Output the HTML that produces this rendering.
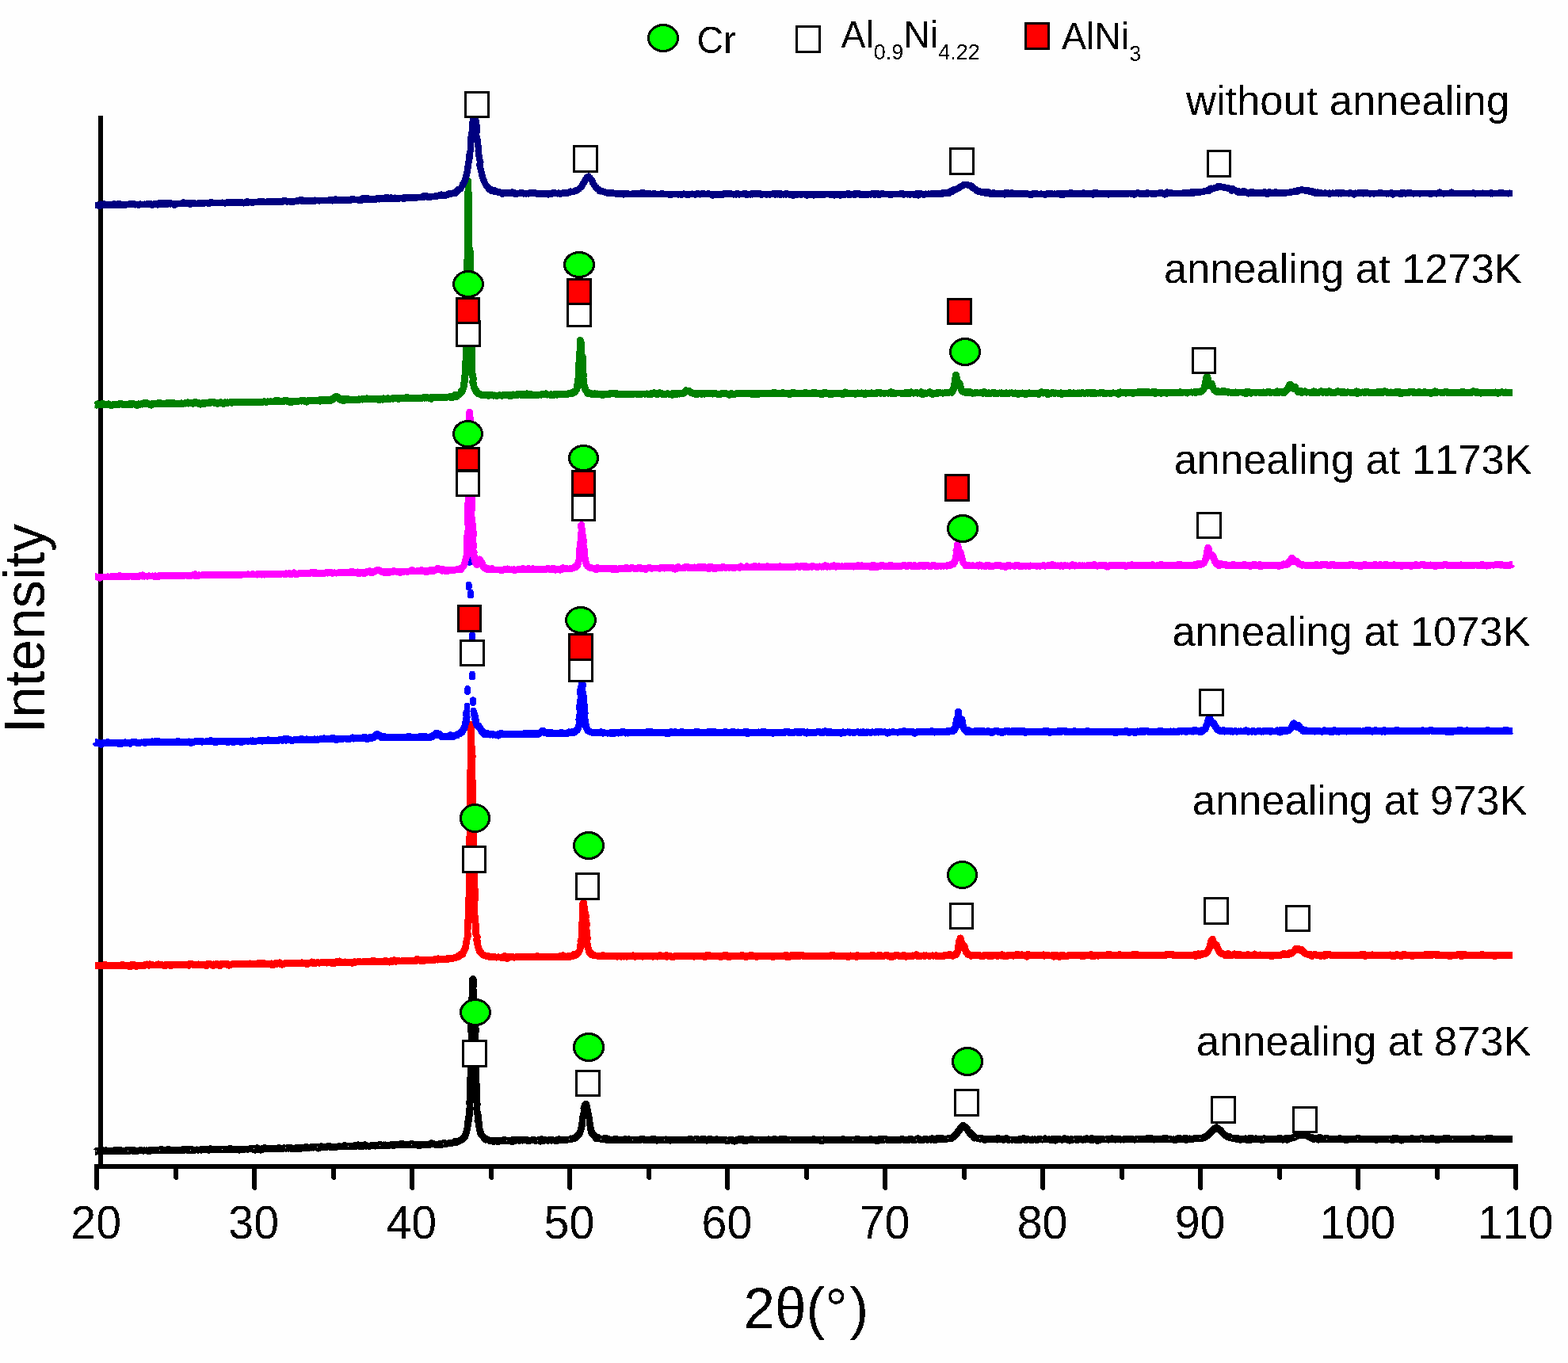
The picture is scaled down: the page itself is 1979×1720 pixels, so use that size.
<!DOCTYPE html>
<html lang="en"><head><meta charset="utf-8"><title>XRD patterns</title>
<style>html,body{margin:0;padding:0;background:#fefefe;}body{width:1979px;height:1720px;overflow:hidden;}svg{display:block;}</style>
</head><body>
<svg width="1979" height="1720" viewBox="0 0 1979 1720" role="img" aria-label="XRD patterns of coatings without annealing and annealed at 873K to 1273K">
<rect x="0" y="0" width="1979" height="1720" fill="#fefefe"/>
<g shape-rendering="crispEdges">
<g fill="#000" stroke="none">
<path d="M124,1472 V147 l1,-1.5 h4 l1,1.5 V1472 Z"/>
<rect x="119" y="1469" width="1797" height="6"/>
<path d="M119,1470 V1500 l1.5,1.5 h3 l1.5,-1.5 V1470 Z"/>
<path d="M219,1470 V1487 l1.5,1.5 h3 l1.5,-1.5 V1470 Z"/>
<path d="M318,1470 V1500 l1.5,1.5 h3 l1.5,-1.5 V1470 Z"/>
<path d="M418,1470 V1487 l1.5,1.5 h3 l1.5,-1.5 V1470 Z"/>
<path d="M517,1470 V1500 l1.5,1.5 h3 l1.5,-1.5 V1470 Z"/>
<path d="M617,1470 V1487 l1.5,1.5 h3 l1.5,-1.5 V1470 Z"/>
<path d="M716,1470 V1500 l1.5,1.5 h3 l1.5,-1.5 V1470 Z"/>
<path d="M816,1470 V1487 l1.5,1.5 h3 l1.5,-1.5 V1470 Z"/>
<path d="M915,1470 V1500 l1.5,1.5 h3 l1.5,-1.5 V1470 Z"/>
<path d="M1015,1470 V1487 l1.5,1.5 h3 l1.5,-1.5 V1470 Z"/>
<path d="M1114,1470 V1500 l1.5,1.5 h3 l1.5,-1.5 V1470 Z"/>
<path d="M1214,1470 V1487 l1.5,1.5 h3 l1.5,-1.5 V1470 Z"/>
<path d="M1313,1470 V1500 l1.5,1.5 h3 l1.5,-1.5 V1470 Z"/>
<path d="M1413,1470 V1487 l1.5,1.5 h3 l1.5,-1.5 V1470 Z"/>
<path d="M1512,1470 V1500 l1.5,1.5 h3 l1.5,-1.5 V1470 Z"/>
<path d="M1612,1470 V1487 l1.5,1.5 h3 l1.5,-1.5 V1470 Z"/>
<path d="M1711,1470 V1500 l1.5,1.5 h3 l1.5,-1.5 V1470 Z"/>
<path d="M1811,1470 V1487 l1.5,1.5 h3 l1.5,-1.5 V1470 Z"/>
<path d="M1910,1470 V1500 l1.5,1.5 h3 l1.5,-1.5 V1470 Z"/>
</g>
<path d="M120.0,1453.0 123.0,1453.0 126.0,1452.9 129.0,1452.9 132.0,1452.8 135.0,1452.8 138.0,1452.7 141.0,1452.7 144.0,1452.6 147.0,1452.6 150.0,1452.5 153.0,1452.5 156.0,1452.4 159.0,1452.4 162.0,1452.3 165.0,1452.3 168.0,1452.3 171.0,1452.2 174.0,1452.2 177.0,1452.1 180.0,1452.1 183.0,1452.0 186.0,1452.0 189.0,1451.9 192.0,1451.9 195.0,1451.8 198.0,1451.8 201.0,1451.7 204.0,1451.7 207.0,1451.6 210.0,1451.6 213.0,1451.6 216.0,1451.5 219.0,1451.5 222.0,1451.4 225.0,1451.4 228.0,1451.3 231.0,1451.3 234.0,1451.2 237.0,1451.2 240.0,1451.1 243.0,1451.1 246.0,1451.0 249.0,1451.0 252.0,1450.9 255.0,1450.9 258.0,1450.9 261.0,1450.8 264.0,1450.8 267.0,1450.7 270.0,1450.7 273.0,1450.6 276.0,1450.6 279.0,1450.5 282.0,1450.5 285.0,1450.4 288.0,1450.4 291.0,1450.3 294.0,1450.3 297.0,1450.2 300.0,1450.2 303.0,1450.2 306.0,1450.1 309.0,1450.1 312.0,1450.0 315.0,1450.0 318.0,1449.9 321.0,1449.9 324.0,1449.8 327.0,1449.8 330.0,1449.7 333.0,1449.7 336.0,1449.6 339.0,1449.5 342.0,1449.4 345.0,1449.3 348.0,1449.3 351.0,1449.2 354.0,1449.1 357.0,1449.0 360.0,1448.9 363.0,1448.8 366.0,1448.7 369.0,1448.7 372.0,1448.6 375.0,1448.5 378.0,1448.4 381.0,1448.3 384.0,1448.2 387.0,1448.2 390.0,1448.1 393.0,1448.0 396.0,1447.9 399.0,1447.8 402.0,1447.7 405.0,1447.6 408.0,1447.6 411.0,1447.5 414.0,1447.4 417.0,1447.3 420.0,1447.2 423.0,1447.1 426.0,1447.1 429.0,1447.0 432.0,1446.9 435.0,1446.8 438.0,1446.7 441.0,1446.6 444.0,1446.5 447.0,1446.5 450.0,1446.4 453.0,1446.3 456.0,1446.2 459.0,1446.1 462.0,1446.0 465.0,1445.9 468.0,1445.8 471.0,1445.8 474.0,1445.7 477.0,1445.6 480.0,1445.5 483.0,1445.4 486.0,1445.3 489.0,1445.2 492.0,1445.1 495.0,1445.1 498.0,1445.0 501.0,1444.9 504.0,1444.8 507.0,1444.8 510.0,1444.8 513.0,1444.7 516.0,1444.7 519.0,1444.6 522.0,1444.6 525.0,1444.5 528.0,1444.5 531.0,1444.4 534.0,1444.3 537.0,1444.3 540.0,1444.2 543.0,1444.1 546.0,1444.0 549.0,1444.0 552.0,1443.9 555.0,1443.7 558.0,1443.6 561.0,1443.4 564.0,1443.1 567.0,1442.7 570.0,1442.3 573.0,1441.7 573.4,1441.7 573.8,1441.6 574.2,1441.5 574.6,1441.4 575.0,1441.3 575.4,1441.2 575.8,1441.1 576.2,1441.0 576.6,1440.9 577.0,1440.7 577.4,1440.6 577.8,1440.5 578.2,1440.3 578.6,1440.2 579.0,1440.0 579.4,1439.8 579.8,1439.7 580.2,1439.5 580.6,1439.3 581.0,1439.1 581.4,1438.8 581.8,1438.6 582.2,1438.3 582.6,1438.1 583.0,1437.7 583.4,1437.4 583.8,1437.1 584.2,1436.7 584.6,1436.3 585.0,1435.8 585.4,1435.3 585.8,1434.8 586.2,1434.2 586.6,1433.5 587.0,1432.7 587.4,1431.9 587.8,1431.0 588.2,1429.9 588.6,1428.8 589.0,1427.4 589.4,1425.8 589.8,1424.0 590.2,1421.9 590.6,1419.4 591.0,1416.3 591.4,1412.5 591.8,1407.9 592.2,1402.2 592.6,1395.0 593.0,1386.2 593.4,1375.3 593.8,1362.2 594.2,1346.5 594.6,1328.4 595.0,1308.0 595.4,1286.7 595.8,1266.2 596.2,1249.3 596.6,1238.5 597.0,1235.0 597.4,1237.9 597.8,1245.1 598.2,1255.2 598.6,1267.6 599.0,1282.3 599.4,1299.0 599.8,1316.8 600.2,1334.2 600.6,1350.4 601.0,1364.7 601.4,1376.9 601.8,1387.0 602.2,1395.4 602.6,1402.3 603.0,1407.8 603.4,1412.3 603.8,1416.0 604.2,1419.0 604.6,1421.5 605.0,1423.6 605.4,1425.3 605.8,1426.8 606.2,1428.1 606.6,1429.2 607.0,1430.2 607.4,1431.1 607.8,1431.8 608.2,1432.5 608.6,1433.1 609.0,1433.7 609.4,1434.2 609.8,1434.6 610.2,1435.0 610.6,1435.4 611.0,1435.7 611.4,1436.0 611.8,1436.3 612.2,1436.6 612.6,1436.8 613.0,1437.0 613.4,1437.2 613.8,1437.4 614.2,1437.6 614.6,1437.7 615.0,1437.9 615.4,1438.0 615.8,1438.1 616.2,1438.2 616.6,1438.3 617.0,1438.4 617.4,1438.5 617.8,1438.6 618.2,1438.7 618.6,1438.8 619.0,1438.8 619.4,1438.9 619.8,1439.0 620.2,1439.0 620.6,1439.1 621.0,1439.1 621.4,1439.2 621.8,1439.2 622.2,1439.2 622.6,1439.3 625.6,1439.5 628.6,1439.5 631.6,1439.6 634.6,1439.6 637.6,1439.5 640.6,1439.5 643.6,1439.4 646.6,1439.3 649.6,1439.2 652.6,1439.1 655.6,1439.1 658.6,1439.1 661.6,1439.1 664.6,1439.1 667.6,1439.1 670.6,1439.1 673.6,1439.1 676.6,1439.1 679.6,1439.1 682.6,1439.1 685.6,1439.0 688.6,1439.0 691.6,1439.0 694.6,1438.9 697.6,1438.9 700.6,1438.8 703.6,1438.7 704.4,1438.7 705.2,1438.7 706.0,1438.6 706.8,1438.6 707.6,1438.6 708.4,1438.5 709.2,1438.5 710.0,1438.5 710.8,1438.4 711.6,1438.4 712.4,1438.3 713.2,1438.3 714.0,1438.2 714.8,1438.1 715.6,1438.1 716.4,1438.0 717.2,1437.9 718.0,1437.8 718.8,1437.7 719.6,1437.6 720.4,1437.4 721.2,1437.3 722.0,1437.1 722.8,1436.9 723.6,1436.6 724.4,1436.4 725.2,1436.1 726.0,1435.7 726.8,1435.3 727.6,1434.8 728.4,1434.2 729.2,1433.4 730.0,1432.4 730.8,1431.2 731.6,1429.7 732.4,1427.7 733.2,1425.2 734.0,1421.9 734.8,1417.7 735.6,1412.7 736.4,1406.9 737.2,1401.0 738.0,1396.1 738.8,1393.3 739.6,1393.3 740.4,1395.5 741.2,1399.3 742.0,1404.3 742.8,1409.6 743.6,1414.8 744.4,1419.4 745.2,1423.1 746.0,1426.1 746.8,1428.4 747.6,1430.2 748.4,1431.6 749.2,1432.7 750.0,1433.6 750.8,1434.3 751.6,1434.9 752.4,1435.4 753.2,1435.8 754.0,1436.1 754.8,1436.4 755.6,1436.6 756.4,1436.8 757.2,1437.0 758.0,1437.2 758.8,1437.3 759.6,1437.5 760.4,1437.6 761.2,1437.7 762.0,1437.8 762.8,1437.8 763.6,1437.9 764.4,1438.0 765.2,1438.0 766.0,1438.1 766.8,1438.1 767.6,1438.2 768.4,1438.2 769.2,1438.3 770.0,1438.3 770.8,1438.3 771.6,1438.4 772.4,1438.4 773.2,1438.4 774.0,1438.4 774.8,1438.5 775.6,1438.5 776.4,1438.5 779.4,1438.6 782.4,1438.6 785.4,1438.6 788.4,1438.7 791.4,1438.7 794.4,1438.7 797.4,1438.7 800.4,1438.7 803.4,1438.7 806.4,1438.7 809.4,1438.7 812.4,1438.7 815.4,1438.7 818.4,1438.8 821.4,1438.8 824.4,1438.8 827.4,1438.8 830.4,1438.8 833.4,1438.8 836.4,1438.8 839.4,1438.8 842.4,1438.8 845.4,1438.8 848.4,1438.8 851.4,1438.8 854.4,1438.8 857.4,1438.8 860.4,1438.8 863.4,1438.8 866.4,1438.7 869.4,1438.7 872.4,1438.7 875.4,1438.7 878.4,1438.7 881.4,1438.7 884.4,1438.7 887.4,1438.7 890.4,1438.7 893.4,1438.7 896.4,1438.7 899.4,1438.7 902.4,1438.7 905.4,1438.7 908.4,1438.7 911.4,1438.7 914.4,1438.7 917.4,1438.7 920.4,1438.7 923.4,1438.7 926.4,1438.7 929.4,1438.7 932.4,1438.7 935.4,1438.7 938.4,1438.7 941.4,1438.7 944.4,1438.7 947.4,1438.7 950.4,1438.7 953.4,1438.6 956.4,1438.6 959.4,1438.6 962.4,1438.6 965.4,1438.6 968.4,1438.6 971.4,1438.6 974.4,1438.6 977.4,1438.6 980.4,1438.6 983.4,1438.6 986.4,1438.6 989.4,1438.6 992.4,1438.6 995.4,1438.6 998.4,1438.6 1001.4,1438.6 1004.4,1438.6 1007.4,1438.6 1010.4,1438.6 1013.4,1438.6 1016.4,1438.6 1019.4,1438.5 1022.4,1438.5 1025.4,1438.5 1028.4,1438.5 1031.4,1438.5 1034.4,1438.5 1037.4,1438.5 1040.4,1438.5 1043.4,1438.5 1046.4,1438.5 1049.4,1438.5 1052.4,1438.5 1055.4,1438.5 1058.4,1438.5 1061.4,1438.5 1064.4,1438.5 1067.4,1438.5 1070.4,1438.5 1073.4,1438.5 1076.4,1438.4 1079.4,1438.4 1082.4,1438.4 1085.4,1438.4 1088.4,1438.4 1091.4,1438.4 1094.4,1438.4 1097.4,1438.4 1100.4,1438.4 1103.4,1438.4 1106.4,1438.4 1109.4,1438.4 1112.4,1438.4 1115.4,1438.4 1118.4,1438.4 1121.4,1438.3 1124.4,1438.3 1127.4,1438.3 1130.4,1438.3 1133.4,1438.3 1136.4,1438.3 1139.4,1438.3 1142.4,1438.3 1145.4,1438.3 1148.4,1438.2 1151.4,1438.2 1154.4,1438.2 1155.2,1438.2 1156.0,1438.2 1156.8,1438.2 1157.6,1438.2 1158.4,1438.2 1159.2,1438.2 1160.0,1438.2 1160.8,1438.1 1161.6,1438.1 1162.4,1438.1 1163.2,1438.1 1164.0,1438.1 1164.8,1438.1 1165.6,1438.1 1166.4,1438.1 1167.2,1438.1 1168.0,1438.1 1168.8,1438.1 1169.6,1438.1 1170.4,1438.0 1171.2,1438.0 1172.0,1438.0 1172.8,1438.0 1173.6,1438.0 1174.4,1438.0 1175.2,1438.0 1176.0,1437.9 1176.8,1437.9 1177.6,1437.9 1178.4,1437.9 1179.2,1437.9 1180.0,1437.9 1180.8,1437.8 1181.6,1437.8 1182.4,1437.8 1183.2,1437.8 1184.0,1437.7 1184.8,1437.7 1185.6,1437.7 1186.4,1437.6 1187.2,1437.6 1188.0,1437.6 1188.8,1437.5 1189.6,1437.5 1190.4,1437.4 1191.2,1437.4 1192.0,1437.3 1192.8,1437.2 1193.6,1437.2 1194.4,1437.1 1195.2,1437.0 1196.0,1436.9 1196.8,1436.7 1197.6,1436.6 1198.4,1436.4 1199.2,1436.3 1200.0,1436.0 1200.8,1435.8 1201.6,1435.5 1202.4,1435.1 1203.2,1434.7 1204.0,1434.2 1204.8,1433.6 1205.6,1433.0 1206.4,1432.2 1207.2,1431.4 1208.0,1430.4 1208.8,1429.4 1209.6,1428.2 1210.4,1427.0 1211.2,1425.8 1212.0,1424.6 1212.8,1423.5 1213.6,1422.5 1214.4,1421.8 1215.2,1421.3 1216.0,1421.2 1216.8,1421.3 1217.6,1421.8 1218.4,1422.4 1219.2,1423.2 1220.0,1424.2 1220.8,1425.3 1221.6,1426.5 1222.4,1427.6 1223.2,1428.8 1224.0,1429.8 1224.8,1430.8 1225.6,1431.7 1226.4,1432.5 1227.2,1433.2 1228.0,1433.8 1228.8,1434.3 1229.6,1434.8 1230.4,1435.2 1231.2,1435.5 1232.0,1435.8 1232.8,1436.1 1233.6,1436.3 1234.4,1436.4 1235.2,1436.6 1236.0,1436.7 1236.8,1436.8 1237.6,1436.9 1238.4,1437.0 1239.2,1437.1 1240.0,1437.2 1240.8,1437.2 1241.6,1437.3 1242.4,1437.3 1243.2,1437.4 1244.0,1437.4 1244.8,1437.5 1245.6,1437.5 1246.4,1437.6 1247.2,1437.6 1248.0,1437.6 1248.8,1437.6 1249.6,1437.7 1250.4,1437.7 1251.2,1437.7 1252.0,1437.7 1252.8,1437.7 1253.6,1437.8 1254.4,1437.8 1255.2,1437.8 1256.0,1437.8 1256.8,1437.8 1257.6,1437.8 1258.4,1437.8 1259.2,1437.9 1260.0,1437.9 1260.8,1437.9 1261.6,1437.9 1262.4,1437.9 1263.2,1437.9 1264.0,1437.9 1264.8,1437.9 1265.6,1437.9 1266.4,1437.9 1267.2,1437.9 1268.0,1437.9 1268.8,1438.0 1269.6,1438.0 1270.4,1438.0 1271.2,1438.0 1272.0,1438.0 1272.8,1438.0 1273.6,1438.0 1274.4,1438.0 1275.2,1438.0 1276.0,1438.0 1276.8,1438.0 1277.6,1438.0 1278.4,1438.0 1281.4,1438.0 1284.4,1438.0 1287.4,1438.0 1290.4,1438.0 1293.4,1438.0 1296.4,1438.0 1299.4,1438.0 1302.4,1438.0 1305.4,1438.0 1308.4,1438.0 1311.4,1438.0 1314.4,1438.0 1317.4,1438.0 1320.4,1438.0 1323.4,1438.0 1326.4,1438.0 1329.4,1438.0 1332.4,1438.0 1335.4,1438.0 1338.4,1438.0 1341.4,1438.0 1344.4,1438.0 1347.4,1438.0 1350.4,1438.0 1353.4,1438.0 1356.4,1438.0 1359.4,1438.0 1362.4,1438.0 1365.4,1438.0 1368.4,1438.0 1371.4,1438.0 1374.4,1438.0 1377.4,1438.0 1380.4,1438.0 1383.4,1438.0 1386.4,1438.0 1389.4,1437.9 1392.4,1437.9 1395.4,1437.9 1398.4,1437.9 1401.4,1437.9 1404.4,1437.9 1407.4,1437.9 1410.4,1437.9 1413.4,1437.9 1416.4,1437.9 1419.4,1437.9 1422.4,1437.9 1425.4,1437.9 1428.4,1437.9 1431.4,1437.9 1434.4,1437.8 1437.4,1437.8 1440.4,1437.8 1443.4,1437.8 1446.4,1437.8 1449.4,1437.8 1452.4,1437.8 1455.4,1437.8 1458.4,1437.8 1461.4,1437.8 1464.4,1437.7 1467.4,1437.7 1470.4,1437.7 1471.2,1437.7 1472.0,1437.7 1472.8,1437.7 1473.6,1437.7 1474.4,1437.7 1475.2,1437.7 1476.0,1437.7 1476.8,1437.7 1477.6,1437.7 1478.4,1437.7 1479.2,1437.7 1480.0,1437.7 1480.8,1437.6 1481.6,1437.6 1482.4,1437.6 1483.2,1437.6 1484.0,1437.6 1484.8,1437.6 1485.6,1437.6 1486.4,1437.6 1487.2,1437.6 1488.0,1437.6 1488.8,1437.6 1489.6,1437.6 1490.4,1437.5 1491.2,1437.5 1492.0,1437.5 1492.8,1437.5 1493.6,1437.5 1494.4,1437.5 1495.2,1437.5 1496.0,1437.4 1496.8,1437.4 1497.6,1437.4 1498.4,1437.4 1499.2,1437.4 1500.0,1437.3 1500.8,1437.3 1501.6,1437.3 1502.4,1437.3 1503.2,1437.2 1504.0,1437.2 1504.8,1437.2 1505.6,1437.1 1506.4,1437.1 1507.2,1437.1 1508.0,1437.0 1508.8,1437.0 1509.6,1436.9 1510.4,1436.9 1511.2,1436.8 1512.0,1436.7 1512.8,1436.7 1513.6,1436.6 1514.4,1436.5 1515.2,1436.3 1516.0,1436.2 1516.8,1436.1 1517.6,1435.9 1518.4,1435.7 1519.2,1435.4 1520.0,1435.2 1520.8,1434.9 1521.6,1434.5 1522.4,1434.1 1523.2,1433.6 1524.0,1433.0 1524.8,1432.4 1525.6,1431.7 1526.4,1430.9 1527.2,1430.0 1528.0,1429.1 1528.8,1428.2 1529.6,1427.2 1530.4,1426.2 1531.2,1425.3 1532.0,1424.6 1532.8,1423.9 1533.6,1423.5 1534.4,1423.2 1535.2,1423.2 1536.0,1423.4 1536.8,1423.7 1537.6,1424.2 1538.4,1424.7 1539.2,1425.4 1540.0,1426.2 1540.8,1427.0 1541.6,1427.9 1542.4,1428.8 1543.2,1429.6 1544.0,1430.5 1544.8,1431.2 1545.6,1432.0 1546.4,1432.6 1547.2,1433.2 1548.0,1433.7 1548.8,1434.2 1549.6,1434.6 1550.4,1434.9 1551.2,1435.2 1552.0,1435.5 1552.8,1435.7 1553.6,1435.9 1554.4,1436.1 1555.2,1436.2 1556.0,1436.3 1556.8,1436.4 1557.6,1436.5 1558.4,1436.6 1559.2,1436.7 1560.0,1436.8 1560.8,1436.8 1561.6,1436.9 1562.4,1436.9 1563.2,1437.0 1564.0,1437.0 1564.8,1437.0 1565.6,1437.1 1566.4,1437.1 1567.2,1437.1 1568.0,1437.2 1568.8,1437.2 1569.6,1437.2 1570.4,1437.2 1571.2,1437.3 1572.0,1437.3 1572.8,1437.3 1573.6,1437.3 1574.4,1437.3 1575.2,1437.3 1576.0,1437.4 1576.8,1437.4 1577.6,1437.4 1578.4,1437.4 1579.2,1437.4 1580.0,1437.4 1580.8,1437.4 1581.6,1437.4 1582.4,1437.4 1583.2,1437.4 1584.0,1437.4 1584.8,1437.4 1585.6,1437.5 1586.4,1437.5 1587.2,1437.5 1588.0,1437.5 1588.8,1437.5 1589.6,1437.5 1590.4,1437.5 1591.2,1437.5 1592.0,1437.5 1592.8,1437.5 1593.6,1437.5 1594.4,1437.5 1595.2,1437.5 1596.0,1437.5 1596.8,1437.5 1597.6,1437.5 1598.4,1437.5 1599.2,1437.5 1600.0,1437.5 1600.8,1437.5 1601.6,1437.5 1602.4,1437.5 1603.2,1437.5 1604.0,1437.5 1604.8,1437.5 1605.6,1437.5 1606.4,1437.4 1607.2,1437.4 1608.0,1437.4 1608.8,1437.4 1609.6,1437.4 1610.4,1437.4 1611.2,1437.4 1612.0,1437.4 1612.8,1437.4 1613.6,1437.4 1614.4,1437.3 1615.2,1437.3 1616.0,1437.3 1616.8,1437.3 1617.6,1437.3 1618.4,1437.3 1619.2,1437.2 1620.0,1437.2 1620.8,1437.2 1621.6,1437.1 1622.4,1437.1 1623.2,1437.0 1624.0,1437.0 1624.8,1436.9 1625.6,1436.8 1626.4,1436.8 1627.2,1436.7 1628.0,1436.6 1628.8,1436.4 1629.6,1436.3 1630.4,1436.1 1631.2,1435.9 1632.0,1435.7 1632.8,1435.5 1633.6,1435.2 1634.4,1434.9 1635.2,1434.6 1636.0,1434.3 1636.8,1433.9 1637.6,1433.6 1638.4,1433.2 1639.2,1432.9 1640.0,1432.6 1640.8,1432.3 1641.6,1432.2 1642.4,1432.0 1643.2,1432.0 1644.0,1432.0 1644.8,1432.1 1645.6,1432.2 1646.4,1432.4 1647.2,1432.6 1648.0,1432.9 1648.8,1433.2 1649.6,1433.5 1650.4,1433.8 1651.2,1434.1 1652.0,1434.4 1652.8,1434.7 1653.6,1435.0 1654.4,1435.3 1655.2,1435.5 1656.0,1435.8 1656.8,1436.0 1657.6,1436.1 1658.4,1436.3 1659.2,1436.4 1660.0,1436.6 1660.8,1436.7 1661.6,1436.8 1662.4,1436.9 1663.2,1436.9 1664.0,1437.0 1664.8,1437.0 1665.6,1437.1 1666.4,1437.1 1667.2,1437.2 1668.0,1437.2 1668.8,1437.2 1669.6,1437.3 1670.4,1437.3 1671.2,1437.3 1672.0,1437.3 1672.8,1437.4 1673.6,1437.4 1674.4,1437.4 1675.2,1437.4 1676.0,1437.4 1676.8,1437.4 1677.6,1437.4 1678.4,1437.4 1679.2,1437.5 1680.0,1437.5 1680.8,1437.5 1681.6,1437.5 1682.4,1437.5 1683.2,1437.5 1684.0,1437.5 1684.8,1437.5 1685.6,1437.5 1686.4,1437.5 1687.2,1437.5 1688.0,1437.5 1688.8,1437.5 1689.6,1437.5 1690.4,1437.5 1691.2,1437.5 1692.0,1437.5 1692.8,1437.6 1693.6,1437.6 1694.4,1437.6 1695.2,1437.6 1696.0,1437.6 1696.8,1437.6 1697.6,1437.6 1698.4,1437.6 1699.2,1437.6 1700.0,1437.6 1700.8,1437.6 1701.6,1437.6 1702.4,1437.6 1703.2,1437.6 1704.0,1437.6 1704.8,1437.6 1705.6,1437.6 1706.4,1437.6 1707.2,1437.6 1708.0,1437.6 1708.8,1437.6 1709.6,1437.6 1710.4,1437.6 1711.2,1437.6 1712.0,1437.6 1712.8,1437.6 1713.6,1437.6 1716.6,1437.6 1719.6,1437.6 1722.6,1437.6 1725.6,1437.6 1728.6,1437.6 1731.6,1437.6 1734.6,1437.6 1737.6,1437.6 1740.6,1437.6 1743.6,1437.6 1746.6,1437.6 1749.6,1437.6 1752.6,1437.6 1755.6,1437.6 1758.6,1437.6 1761.6,1437.6 1764.6,1437.6 1767.6,1437.6 1770.6,1437.6 1773.6,1437.6 1776.6,1437.6 1779.6,1437.6 1782.6,1437.6 1785.6,1437.6 1788.6,1437.6 1791.6,1437.6 1794.6,1437.6 1797.6,1437.6 1800.6,1437.6 1803.6,1437.6 1806.6,1437.6 1809.6,1437.6 1812.6,1437.6 1815.6,1437.6 1818.6,1437.6 1821.6,1437.6 1824.6,1437.6 1827.6,1437.6 1830.6,1437.6 1833.6,1437.6 1836.6,1437.6 1839.6,1437.6 1842.6,1437.6 1845.6,1437.5 1848.6,1437.5 1851.6,1437.5 1854.6,1437.5 1857.6,1437.5 1860.6,1437.5 1863.6,1437.5 1866.6,1437.5 1869.6,1437.5 1872.6,1437.5 1875.6,1437.5 1878.6,1437.5 1881.6,1437.5 1884.6,1437.5 1887.6,1437.5 1890.6,1437.5 1893.6,1437.5 1896.6,1437.5 1899.6,1437.5 1902.6,1437.5 1905.6,1437.5 1908.6,1437.5" fill="none" stroke="#000000" stroke-width="6.4" stroke-linejoin="round" stroke-linecap="butt"/>
<path d="M120.0,1453.2 120.7,1453.2 121.4,1452.9 122.1,1453.0 122.8,1451.9 123.5,1451.9 124.2,1451.9 124.9,1451.9 125.6,1453.1 126.3,1453.0 127.0,1452.8 127.7,1452.8 128.4,1451.5 129.1,1451.4 129.8,1452.9 130.5,1452.9 131.2,1452.9 131.9,1453.0 132.6,1452.7 133.3,1451.6 134.0,1451.6 134.7,1452.8 135.4,1452.9 136.1,1452.7 136.8,1452.8 137.5,1452.7 138.2,1452.6 138.9,1452.9 139.6,1452.6 140.3,1452.7 141.0,1452.3 141.7,1452.9 142.4,1452.7 143.1,1452.3 143.8,1452.3 144.5,1452.6 145.2,1452.6 145.9,1451.1 146.6,1451.1 147.3,1451.1 148.0,1452.8 148.7,1452.4 149.4,1451.3 150.1,1451.3 150.8,1451.3 151.5,1451.2 152.2,1452.7 152.9,1452.4 153.6,1452.8 154.3,1452.4 155.0,1452.5 155.7,1452.6 156.4,1452.6 157.1,1452.7 157.8,1452.4 158.5,1452.5 159.2,1452.4 159.9,1451.5 160.6,1451.5 161.3,1452.2 162.0,1452.5 162.7,1452.1 163.4,1452.3 164.1,1451.2 164.8,1451.2 165.5,1451.2 166.2,1451.1 166.9,1452.2 167.6,1452.3 168.3,1452.4 169.0,1452.4 169.7,1451.8 170.4,1452.1 171.1,1452.3 171.8,1452.4 172.5,1452.0 173.2,1452.1 173.9,1452.4 174.6,1452.1 175.3,1452.1 176.0,1451.8 176.7,1452.0 177.4,1452.1 178.1,1452.0 178.8,1451.7 179.5,1452.0 180.2,1452.0 180.9,1452.2 181.6,1452.0 182.3,1451.8 183.0,1452.0 183.7,1452.0 184.4,1451.9 185.1,1452.0 185.8,1451.9 186.5,1452.3 187.2,1451.9 187.9,1451.8 188.6,1451.8 189.3,1451.6 190.0,1452.3 190.7,1451.7 191.4,1451.9 192.1,1451.9 192.8,1451.9 193.5,1451.6 194.2,1451.6 194.9,1451.8 195.6,1451.7 196.3,1451.8 197.0,1451.7 197.7,1451.5 198.4,1451.8 199.1,1451.8 199.8,1451.8 200.5,1451.6 201.2,1451.5 201.9,1451.8 202.6,1451.7 203.3,1450.2 204.0,1451.9 204.7,1451.4 205.4,1451.6 206.1,1451.8 206.8,1451.6 207.5,1451.7 208.2,1451.4 208.9,1451.7 209.6,1451.8 210.3,1451.5 211.0,1451.8 211.7,1451.6 212.4,1450.4 213.1,1450.4 213.8,1451.4 214.5,1451.5 215.2,1451.5 215.9,1451.4 216.6,1451.4 217.3,1451.8 218.0,1451.5 218.7,1451.1 219.4,1451.2 220.1,1451.4 220.8,1451.2 221.5,1451.4 222.2,1451.7 222.9,1451.1 223.6,1451.7 224.3,1451.3 225.0,1451.3 225.7,1451.4 226.4,1451.2 227.1,1451.1 227.8,1451.3 228.5,1451.1 229.2,1451.4 229.9,1451.3 230.6,1450.7 231.3,1451.3 232.0,1451.1 232.7,1451.3 233.4,1451.1 234.1,1450.3 234.8,1450.3 235.5,1450.3 236.2,1450.3 236.9,1451.4 237.6,1451.1 238.3,1451.2 239.0,1451.2 239.7,1451.1 240.4,1450.2 241.1,1450.1 241.8,1451.4 242.5,1450.9 243.2,1451.3 243.9,1451.0 244.6,1451.3 245.3,1451.1 246.0,1451.3 246.7,1450.9 247.4,1451.1 248.1,1451.0 248.8,1450.9 249.5,1451.2 250.2,1451.1 250.9,1451.1 251.6,1451.0 252.3,1451.0 253.0,1450.8 253.7,1451.2 254.4,1451.0 255.1,1450.0 255.8,1450.0 256.5,1450.0 257.2,1451.0 257.9,1450.7 258.6,1450.8 259.3,1450.7 260.0,1450.6 260.7,1451.0 261.4,1450.8 262.1,1450.9 262.8,1451.1 263.5,1451.3 264.2,1450.7 264.9,1449.8 265.6,1449.8 266.3,1449.8 267.0,1450.6 267.7,1450.8 268.4,1450.7 269.1,1450.6 269.8,1450.8 270.5,1450.7 271.2,1450.6 271.9,1450.7 272.6,1450.7 273.3,1450.8 274.0,1450.5 274.7,1450.5 275.4,1450.6 276.1,1450.5 276.8,1450.5 277.5,1450.8 278.2,1450.6 278.9,1450.4 279.6,1450.3 280.3,1450.3 281.0,1450.4 281.7,1450.7 282.4,1450.4 283.1,1450.3 283.8,1450.1 284.5,1450.4 285.2,1450.4 285.9,1450.4 286.6,1450.3 287.3,1450.0 288.0,1450.6 288.7,1450.4 289.4,1450.3 290.1,1449.5 290.8,1449.4 291.5,1450.3 292.2,1450.1 292.9,1450.3 293.6,1450.3 294.3,1450.2 295.0,1450.3 295.7,1450.1 296.4,1450.1 297.1,1450.3 297.8,1450.3 298.5,1450.0 299.2,1450.3 299.9,1450.3 300.6,1450.2 301.3,1451.1 302.0,1451.1 302.7,1451.1 303.4,1450.1 304.1,1450.1 304.8,1450.0 305.5,1450.3 306.2,1450.1 306.9,1449.9 307.6,1450.1 308.3,1450.6 309.0,1450.0 309.7,1450.1 310.4,1450.0 311.1,1450.0 311.8,1450.2 312.5,1450.0 313.2,1450.1 313.9,1450.1 314.6,1449.8 315.3,1449.9 316.0,1449.8 316.7,1449.9 317.4,1450.0 318.1,1449.8 318.8,1450.1 319.5,1450.2 320.2,1449.9 320.9,1451.1 321.6,1451.1 322.3,1451.1 323.0,1451.1 323.7,1449.7 324.4,1448.5 325.1,1449.9 325.8,1450.0 326.5,1449.8 327.2,1449.8 327.9,1451.2 328.6,1451.2 329.3,1451.2 330.0,1451.2 330.7,1449.5 331.4,1450.0 332.1,1449.8 332.8,1449.6 333.5,1448.5 334.2,1448.5 334.9,1449.5 335.6,1449.6 336.3,1449.3 337.0,1449.3 337.7,1449.6 338.4,1449.7 339.1,1449.6 339.8,1449.3 340.5,1449.5 341.2,1449.3 341.9,1449.4 342.6,1449.3 343.3,1449.5 344.0,1449.7 344.7,1449.4 345.4,1449.4 346.1,1449.4 346.8,1449.1 347.5,1449.2 348.2,1449.3 348.9,1448.9 349.6,1449.0 350.3,1449.4 351.0,1449.4 351.7,1448.7 352.4,1449.2 353.1,1448.8 353.8,1449.5 354.5,1449.3 355.2,1448.9 355.9,1449.1 356.6,1449.3 357.3,1449.4 358.0,1448.9 358.7,1448.6 359.4,1448.9 360.1,1448.9 360.8,1449.2 361.5,1448.9 362.2,1448.7 362.9,1448.8 363.6,1448.7 364.3,1449.2 365.0,1448.8 365.7,1448.7 366.4,1448.7 367.1,1448.9 367.8,1448.5 368.5,1449.8 369.2,1449.7 369.9,1449.7 370.6,1449.7 371.3,1449.9 372.0,1449.9 372.7,1449.8 373.4,1449.8 374.1,1448.5 374.8,1448.3 375.5,1448.6 376.2,1448.4 376.9,1448.3 377.6,1449.6 378.3,1449.6 379.0,1449.6 379.7,1448.5 380.4,1448.3 381.1,1448.4 381.8,1448.6 382.5,1448.2 383.2,1448.3 383.9,1448.0 384.6,1447.8 385.3,1448.3 386.0,1448.7 386.7,1447.0 387.4,1448.1 388.1,1448.2 388.8,1448.2 389.5,1448.3 390.2,1448.0 390.9,1448.3 391.6,1447.9 392.3,1448.0 393.0,1447.7 393.7,1448.1 394.4,1447.7 395.1,1448.1 395.8,1448.1 396.5,1448.0 397.2,1447.7 397.9,1447.9 398.6,1447.7 399.3,1447.7 400.0,1447.6 400.7,1447.9 401.4,1449.2 402.1,1449.2 402.8,1447.6 403.5,1448.1 404.2,1447.6 404.9,1447.5 405.6,1446.6 406.3,1448.0 407.0,1447.5 407.7,1447.4 408.4,1447.6 409.1,1447.6 409.8,1447.2 410.5,1447.4 411.2,1447.4 411.9,1447.5 412.6,1447.4 413.3,1447.4 414.0,1446.2 414.7,1446.2 415.4,1446.2 416.1,1447.4 416.8,1447.2 417.5,1447.2 418.2,1447.4 418.9,1447.2 419.6,1447.3 420.3,1447.1 421.0,1447.2 421.7,1446.9 422.4,1447.1 423.1,1447.3 423.8,1447.2 424.5,1447.2 425.2,1447.1 425.9,1447.1 426.6,1446.8 427.3,1447.0 428.0,1447.0 428.7,1447.0 429.4,1446.8 430.1,1447.0 430.8,1447.1 431.5,1447.0 432.2,1447.1 432.9,1447.0 433.6,1446.9 434.3,1445.7 435.0,1445.7 435.7,1445.7 436.4,1446.5 437.1,1446.7 437.8,1447.0 438.5,1446.9 439.2,1446.7 439.9,1446.6 440.6,1446.7 441.3,1446.7 442.0,1446.6 442.7,1446.5 443.4,1446.5 444.1,1446.4 444.8,1446.6 445.5,1446.4 446.2,1446.7 446.9,1446.9 447.6,1446.0 448.3,1446.4 449.0,1445.0 449.7,1445.0 450.4,1446.2 451.1,1446.2 451.8,1444.9 452.5,1444.8 453.2,1446.3 453.9,1446.1 454.6,1446.4 455.3,1445.8 456.0,1446.1 456.7,1446.3 457.4,1445.7 458.1,1446.6 458.8,1445.9 459.5,1444.8 460.2,1444.7 460.9,1444.7 461.6,1444.7 462.3,1446.2 463.0,1445.8 463.7,1445.9 464.4,1445.9 465.1,1446.3 465.8,1446.0 466.5,1446.2 467.2,1446.3 467.9,1446.1 468.6,1445.6 469.3,1445.7 470.0,1445.9 470.7,1445.8 471.4,1445.5 472.1,1445.6 472.8,1445.8 473.5,1446.2 474.2,1445.7 474.9,1445.4 475.6,1445.4 476.3,1445.6 477.0,1445.6 477.7,1445.6 478.4,1445.3 479.1,1444.2 479.8,1444.2 480.5,1445.4 481.2,1445.5 481.9,1445.5 482.6,1445.4 483.3,1445.4 484.0,1445.1 484.7,1444.9 485.4,1445.4 486.1,1445.4 486.8,1444.9 487.5,1445.3 488.2,1445.1 488.9,1445.3 489.6,1445.1 490.3,1445.2 491.0,1445.3 491.7,1445.3 492.4,1445.2 493.1,1444.9 493.8,1444.7 494.5,1445.2 495.2,1445.2 495.9,1445.2 496.6,1444.8 497.3,1445.4 498.0,1445.3 498.7,1445.0 499.4,1444.8 500.1,1444.7 500.8,1445.1 501.5,1444.9 502.2,1444.8 502.9,1444.5 503.6,1444.5 504.3,1444.8 505.0,1443.6 505.7,1443.5 506.4,1444.8 507.1,1445.0 507.8,1444.8 508.5,1443.7 509.2,1444.7 509.9,1444.9 510.6,1444.8 511.3,1445.0 512.0,1444.8 512.7,1444.7 513.4,1444.5 514.1,1444.4 514.8,1444.7 515.5,1444.7 516.2,1444.5 516.9,1444.9 517.6,1444.6 518.3,1444.5 519.0,1443.6 519.7,1443.4 520.4,1444.7 521.1,1444.7 521.8,1444.4 522.5,1444.3 523.2,1444.5 523.9,1444.6 524.6,1444.5 525.3,1444.5 526.0,1444.2 526.7,1444.5 527.4,1444.6 528.1,1445.9 528.8,1445.9 529.5,1445.9 530.2,1444.5 530.9,1444.6 531.6,1444.5 532.3,1444.8 533.0,1444.1 533.7,1444.4 534.4,1444.3 535.1,1444.6 535.8,1444.1 536.5,1444.4 537.2,1444.2 537.9,1444.0 538.6,1444.5 539.3,1444.3 540.0,1444.0 540.7,1444.2 541.4,1444.2 542.1,1444.4 542.8,1443.9 543.5,1444.0 544.2,1442.6 544.9,1444.0 545.6,1444.1 546.3,1444.0 547.0,1443.9 547.7,1443.7 548.4,1443.8 549.1,1444.2 549.8,1444.3 550.5,1444.1 551.2,1444.0 551.9,1443.9 552.6,1445.1 553.3,1443.9 554.0,1443.8 554.7,1443.7 555.4,1444.6 556.1,1444.6 556.8,1444.6 557.5,1443.8 558.2,1443.6 558.9,1443.3 559.6,1443.5 560.3,1442.1 561.0,1443.1 561.7,1443.4 562.4,1443.2 563.1,1443.3 563.8,1443.1 564.5,1443.2 565.2,1443.0 565.9,1442.9 566.6,1443.0 567.3,1442.7 568.0,1443.0 568.7,1442.4 569.4,1442.2 570.1,1442.5 570.8,1442.3 571.5,1441.9 572.2,1441.8 572.9,1441.8 573.6,1441.6 574.3,1440.3 575.0,1440.1 575.7,1441.4 576.4,1441.4 577.1,1440.9 577.8,1440.6 578.5,1440.4 579.2,1440.0 579.9,1439.4 580.2,1439.6 580.5,1439.3 580.8,1439.0 581.1,1438.8 581.4,1438.6 581.7,1438.7 582.0,1438.1 582.3,1438.5 582.6,1438.0 582.9,1437.9 583.2,1438.0 583.5,1437.4 583.8,1437.1 584.1,1436.8 584.4,1436.6 584.7,1436.1 585.0,1435.9 585.3,1435.6 585.6,1436.2 585.9,1435.8 586.2,1435.4 586.5,1434.9 586.8,1433.0 587.1,1432.7 587.4,1432.1 587.7,1431.4 588.0,1430.4 588.3,1429.5 588.6,1428.8 588.9,1427.8 589.2,1426.4 589.5,1425.3 589.8,1423.9 590.1,1422.6 590.2,1420.8 590.2,1418.4 590.3,1416.4 591.6,1413.7 591.1,1410.6 592.6,1406.7 592.5,1402.2 593.1,1396.5 592.7,1391.0 593.4,1383.5 593.8,1375.2 593.0,1365.7 594.5,1354.9 594.2,1341.3 595.6,1327.4 595.5,1312.3 594.6,1297.3 596.0,1281.3 595.5,1266.7 596.2,1252.9 596.8,1243.3 596.0,1236.8 597.0,1235.2 597.5,1236.9 597.6,1240.9 597.0,1247.2 598.0,1255.3 598.2,1264.0 599.0,1274.5 598.8,1286.2 600.4,1299.2 599.5,1312.5 599.6,1325.8 599.8,1338.4 600.4,1350.4 600.7,1361.2 601.4,1371.3 601.6,1379.5 601.1,1386.9 602.3,1393.4 601.7,1399.0 602.3,1403.7 603.4,1407.8 603.7,1411.1 602.9,1414.4 604.6,1416.8 604.6,1418.8 604.5,1421.1 604.8,1422.4 605.1,1424.3 605.4,1425.1 605.7,1426.5 606.0,1427.5 606.3,1428.5 606.6,1430.7 606.9,1430.2 607.2,1430.6 607.5,1431.5 607.8,1431.9 608.1,1432.5 608.4,1432.7 608.7,1433.3 609.0,1433.6 609.3,1433.7 609.6,1434.3 609.9,1434.5 610.2,1435.1 610.5,1435.6 610.8,1435.5 611.1,1435.7 611.4,1436.2 611.7,1436.3 612.0,1436.4 612.3,1436.6 612.6,1436.8 612.9,1438.1 613.2,1438.3 613.5,1437.5 613.8,1437.5 614.1,1437.7 614.4,1437.9 614.7,1437.8 615.4,1438.0 616.1,1438.3 616.8,1438.6 617.5,1438.9 618.2,1439.9 618.9,1440.1 619.6,1439.2 620.3,1438.9 621.0,1439.2 621.7,1439.2 622.4,1439.2 623.1,1440.5 623.8,1439.3 624.5,1439.4 625.2,1439.7 625.9,1439.5 626.6,1439.4 627.3,1439.5 628.0,1439.4 628.7,1441.0 629.4,1439.4 630.1,1439.4 630.8,1439.6 631.5,1439.6 632.2,1439.2 632.9,1439.5 633.6,1439.5 634.3,1439.4 635.0,1439.5 635.7,1439.6 636.4,1438.3 637.1,1439.5 637.8,1439.4 638.5,1439.8 639.2,1439.4 639.9,1439.5 640.6,1439.2 641.3,1439.5 642.0,1439.2 642.7,1439.6 643.4,1439.1 644.1,1439.6 644.8,1439.2 645.5,1440.6 646.2,1440.6 646.9,1440.6 647.6,1438.1 648.3,1438.1 649.0,1439.1 649.7,1439.0 650.4,1439.3 651.1,1439.2 651.8,1438.1 652.5,1438.1 653.2,1438.1 653.9,1439.0 654.6,1439.2 655.3,1439.0 656.0,1439.2 656.7,1439.1 657.4,1438.8 658.1,1439.0 658.8,1438.9 659.5,1439.1 660.2,1439.1 660.9,1438.6 661.6,1438.1 662.3,1438.1 663.0,1438.1 663.7,1438.1 664.4,1439.1 665.1,1438.8 665.8,1439.3 666.5,1438.9 667.2,1439.4 667.9,1438.9 668.6,1439.0 669.3,1439.1 670.0,1439.1 670.7,1439.0 671.4,1439.0 672.1,1438.2 672.8,1438.2 673.5,1438.2 674.2,1438.2 674.9,1439.1 675.6,1439.3 676.3,1439.3 677.0,1439.2 677.7,1439.1 678.4,1438.9 679.1,1439.1 679.8,1438.7 680.5,1439.3 681.2,1439.2 681.9,1440.2 682.6,1440.2 683.3,1437.6 684.0,1439.0 684.7,1439.1 685.4,1439.0 686.1,1439.4 686.8,1439.3 687.5,1438.7 688.2,1438.7 688.9,1438.9 689.6,1439.0 690.3,1439.0 691.0,1439.0 691.7,1439.3 692.4,1438.7 693.1,1438.0 693.8,1438.0 694.5,1437.9 695.2,1437.9 695.9,1439.2 696.6,1438.8 697.3,1438.9 698.0,1438.8 698.7,1439.0 699.4,1439.0 700.1,1439.0 700.8,1439.8 701.5,1439.8 702.2,1439.0 702.9,1438.6 703.6,1438.6 704.3,1439.1 705.0,1438.6 705.7,1437.6 706.4,1438.4 707.1,1438.6 707.8,1438.8 708.5,1438.6 709.2,1438.6 709.9,1438.4 710.6,1438.4 711.3,1438.7 712.0,1438.2 712.7,1438.3 713.4,1438.3 714.1,1438.2 714.6,1438.2 715.1,1438.3 715.6,1438.1 716.1,1438.2 716.6,1438.0 717.1,1437.9 717.6,1438.1 718.1,1437.9 718.6,1438.0 719.1,1437.7 719.6,1437.9 720.1,1437.5 720.6,1437.0 721.1,1437.4 721.6,1437.2 722.1,1437.1 722.6,1437.0 723.1,1436.9 723.6,1436.5 724.1,1436.5 724.6,1436.2 725.1,1435.8 725.6,1436.2 726.1,1435.8 726.6,1435.7 727.1,1435.2 727.6,1434.9 728.1,1433.1 728.6,1432.7 729.1,1432.2 729.6,1431.6 730.1,1432.2 730.6,1431.6 731.1,1430.7 731.6,1429.8 732.1,1428.4 732.6,1427.3 733.1,1425.6 733.6,1423.9 734.1,1421.3 734.6,1419.0 735.0,1415.9 735.0,1411.2 736.2,1407.7 736.6,1405.5 738.1,1403.0 736.9,1398.4 738.1,1395.6 738.6,1394.0 739.1,1393.1 739.6,1393.4 740.1,1394.5 740.6,1396.2 741.1,1398.6 741.3,1401.7 742.2,1404.7 742.3,1408.3 744.1,1411.4 743.9,1413.8 744.1,1416.7 744.6,1419.3 745.1,1422.2 745.6,1424.9 746.1,1426.5 746.6,1429.3 747.1,1430.6 747.6,1429.9 748.1,1431.0 748.6,1431.8 749.1,1432.4 749.6,1432.1 750.1,1432.6 750.6,1434.2 751.1,1435.0 751.6,1435.0 752.1,1436.5 752.6,1436.7 753.1,1437.0 753.6,1435.9 754.1,1436.1 754.6,1436.4 755.1,1435.2 755.6,1436.6 756.1,1437.0 756.6,1436.8 757.1,1436.9 757.6,1437.1 758.1,1437.2 758.6,1437.5 759.1,1437.6 759.6,1437.6 760.1,1437.3 760.6,1437.5 761.1,1437.4 761.6,1437.8 762.1,1437.7 762.6,1437.9 763.1,1437.7 763.6,1436.4 764.1,1436.5 764.6,1436.5 765.1,1438.2 765.8,1438.0 766.5,1438.5 767.2,1437.2 767.9,1438.1 768.6,1438.3 769.3,1438.3 770.0,1438.2 770.7,1438.3 771.4,1438.3 772.1,1438.3 772.8,1438.2 773.5,1438.1 774.2,1438.4 774.9,1438.2 775.6,1438.5 776.3,1438.7 777.0,1437.0 777.7,1438.8 778.4,1438.6 779.1,1438.2 779.8,1438.4 780.5,1438.6 781.2,1438.4 781.9,1438.7 782.6,1438.7 783.3,1438.3 784.0,1438.7 784.7,1438.8 785.4,1438.6 786.1,1438.6 786.8,1438.8 787.5,1438.4 788.2,1438.3 788.9,1437.2 789.6,1438.8 790.3,1438.6 791.0,1438.9 791.7,1438.6 792.4,1438.5 793.1,1437.8 793.8,1437.8 794.5,1437.8 795.2,1438.7 795.9,1438.9 796.6,1438.8 797.3,1438.6 798.0,1438.4 798.7,1438.9 799.4,1438.6 800.1,1438.4 800.8,1438.7 801.5,1438.8 802.2,1438.6 802.9,1438.6 803.6,1438.2 804.3,1438.7 805.0,1438.8 805.7,1438.6 806.4,1438.9 807.1,1438.8 807.8,1438.5 808.5,1438.5 809.2,1437.4 809.9,1437.8 810.6,1437.8 811.3,1437.8 812.0,1437.5 812.7,1438.7 813.4,1439.0 814.1,1438.6 814.8,1438.7 815.5,1438.8 816.2,1438.7 816.9,1438.4 817.6,1438.7 818.3,1438.8 819.0,1438.8 819.7,1438.7 820.4,1438.6 821.1,1439.1 821.8,1439.0 822.5,1438.6 823.2,1437.3 823.9,1437.3 824.6,1437.3 825.3,1437.3 826.0,1438.8 826.7,1438.8 827.4,1438.8 828.1,1438.6 828.8,1439.1 829.5,1438.4 830.2,1438.5 830.9,1438.8 831.6,1438.9 832.3,1438.6 833.0,1439.1 833.7,1438.8 834.4,1438.9 835.1,1438.9 835.8,1438.7 836.5,1438.6 837.2,1438.7 837.9,1439.0 838.6,1439.0 839.3,1438.8 840.0,1438.9 840.7,1437.8 841.4,1438.9 842.1,1438.8 842.8,1438.4 843.5,1438.9 844.2,1438.6 844.9,1439.0 845.6,1438.9 846.3,1439.2 847.0,1438.7 847.7,1438.8 848.4,1439.0 849.1,1438.6 849.8,1438.7 850.5,1438.7 851.2,1438.5 851.9,1438.7 852.6,1438.6 853.3,1438.9 854.0,1438.7 854.7,1438.8 855.4,1438.6 856.1,1439.0 856.8,1438.6 857.5,1438.9 858.2,1438.7 858.9,1438.9 859.6,1438.7 860.3,1438.9 861.0,1439.0 861.7,1438.5 862.4,1439.0 863.1,1438.8 863.8,1438.5 864.5,1438.9 865.2,1438.8 865.9,1438.6 866.6,1439.0 867.3,1439.0 868.0,1438.8 868.7,1438.8 869.4,1438.7 870.1,1437.3 870.8,1437.3 871.5,1437.3 872.2,1438.9 872.9,1438.5 873.6,1438.7 874.3,1438.4 875.0,1438.5 875.7,1438.5 876.4,1438.4 877.1,1438.6 877.8,1438.3 878.5,1437.3 879.2,1437.3 879.9,1437.3 880.6,1439.0 881.3,1438.9 882.0,1438.8 882.7,1438.6 883.4,1438.4 884.1,1438.9 884.8,1438.9 885.5,1438.5 886.2,1437.5 886.9,1437.5 887.6,1438.9 888.3,1437.7 889.0,1437.7 889.7,1437.7 890.4,1438.9 891.1,1438.7 891.8,1439.2 892.5,1438.9 893.2,1438.9 893.9,1438.5 894.6,1438.7 895.3,1437.4 896.0,1437.4 896.7,1437.4 897.4,1437.4 898.1,1438.9 898.8,1438.9 899.5,1438.7 900.2,1438.6 900.9,1438.7 901.6,1438.6 902.3,1438.6 903.0,1438.8 903.7,1437.8 904.4,1437.8 905.1,1437.8 905.8,1437.8 906.5,1438.8 907.2,1439.0 907.9,1438.6 908.6,1438.9 909.3,1438.7 910.0,1438.7 910.7,1438.9 911.4,1438.8 912.1,1438.9 912.8,1438.8 913.5,1438.7 914.2,1438.7 914.9,1438.4 915.6,1438.4 916.3,1438.7 917.0,1439.8 917.7,1439.8 918.4,1439.8 919.1,1439.8 919.8,1438.8 920.5,1438.9 921.2,1438.4 921.9,1438.8 922.6,1438.4 923.3,1438.8 924.0,1438.5 924.7,1438.5 925.4,1438.9 926.1,1440.1 926.8,1440.1 927.5,1440.1 928.2,1440.1 928.9,1438.6 929.6,1438.7 930.3,1438.9 931.0,1438.8 931.7,1438.8 932.4,1437.6 933.1,1437.6 933.8,1437.6 934.5,1437.6 935.2,1438.7 935.9,1437.7 936.6,1437.7 937.3,1437.7 938.0,1437.7 938.7,1439.6 939.4,1439.6 940.1,1439.6 940.8,1439.6 941.5,1439.7 942.2,1439.7 942.9,1438.4 943.6,1438.7 944.3,1438.8 945.0,1438.7 945.7,1439.0 946.4,1438.5 947.1,1438.4 947.8,1437.6 948.5,1437.6 949.2,1437.6 949.9,1438.4 950.6,1438.4 951.3,1438.7 952.0,1438.7 952.7,1438.6 953.4,1438.6 954.1,1438.7 954.8,1438.5 955.5,1438.6 956.2,1438.6 956.9,1438.7 957.6,1438.6 958.3,1438.6 959.0,1438.8 959.7,1438.8 960.4,1438.5 961.1,1438.6 961.8,1438.4 962.5,1438.6 963.2,1438.8 963.9,1438.7 964.6,1438.6 965.3,1438.3 966.0,1438.6 966.7,1438.5 967.4,1438.8 968.1,1439.0 968.8,1438.8 969.5,1437.7 970.2,1437.7 970.9,1438.9 971.6,1438.5 972.3,1438.6 973.0,1439.1 973.7,1438.9 974.4,1438.6 975.1,1438.4 975.8,1438.7 976.5,1437.5 977.2,1437.5 977.9,1437.5 978.6,1438.3 979.3,1438.6 980.0,1438.6 980.7,1438.3 981.4,1438.5 982.1,1438.5 982.8,1438.5 983.5,1438.7 984.2,1438.4 984.9,1437.5 985.6,1438.9 986.3,1438.4 987.0,1438.5 987.7,1438.5 988.4,1438.6 989.1,1437.4 989.8,1437.4 990.5,1437.3 991.2,1438.8 991.9,1438.9 992.6,1438.2 993.3,1438.6 994.0,1439.0 994.7,1438.4 995.4,1438.6 996.1,1438.7 996.8,1438.9 997.5,1438.2 998.2,1438.7 998.9,1438.5 999.6,1438.6 1000.3,1438.4 1001.0,1438.4 1001.7,1438.5 1002.4,1438.6 1003.1,1438.4 1003.8,1438.5 1004.5,1438.9 1005.2,1438.4 1005.9,1438.4 1006.6,1438.7 1007.3,1438.6 1008.0,1438.4 1008.7,1439.0 1009.4,1438.8 1010.1,1438.6 1010.8,1438.5 1011.5,1438.4 1012.2,1438.8 1012.9,1438.6 1013.6,1438.3 1014.3,1438.7 1015.0,1438.6 1015.7,1438.5 1016.4,1438.4 1017.1,1438.8 1017.8,1438.4 1018.5,1438.5 1019.2,1438.8 1019.9,1438.7 1020.6,1438.6 1021.3,1438.5 1022.0,1438.7 1022.7,1438.4 1023.4,1438.3 1024.1,1438.5 1024.8,1438.6 1025.5,1438.6 1026.2,1438.3 1026.9,1437.5 1027.6,1438.7 1028.3,1438.3 1029.0,1438.8 1029.7,1438.5 1030.4,1438.6 1031.1,1438.4 1031.8,1438.2 1032.5,1438.4 1033.2,1438.6 1033.9,1438.7 1034.6,1438.3 1035.3,1438.7 1036.0,1439.5 1036.7,1439.5 1037.4,1439.5 1038.1,1439.5 1038.8,1438.6 1039.5,1438.0 1040.2,1438.5 1040.9,1438.5 1041.6,1438.4 1042.3,1438.7 1043.0,1438.5 1043.7,1438.5 1044.4,1438.6 1045.1,1438.4 1045.8,1438.4 1046.5,1438.2 1047.2,1438.4 1047.9,1438.4 1048.6,1438.5 1049.3,1438.5 1050.0,1438.2 1050.7,1438.4 1051.4,1438.4 1052.1,1438.5 1052.8,1438.8 1053.5,1438.7 1054.2,1438.4 1054.9,1438.4 1055.6,1438.4 1056.3,1438.4 1057.0,1438.5 1057.7,1438.3 1058.4,1438.8 1059.1,1438.3 1059.8,1438.3 1060.5,1438.4 1061.2,1438.6 1061.9,1438.4 1062.6,1438.4 1063.3,1438.6 1064.0,1437.2 1064.7,1438.5 1065.4,1438.4 1066.1,1438.8 1066.8,1438.3 1067.5,1438.5 1068.2,1438.6 1068.9,1438.6 1069.6,1438.8 1070.3,1438.6 1071.0,1438.5 1071.7,1438.7 1072.4,1438.2 1073.1,1438.5 1073.8,1438.3 1074.5,1438.5 1075.2,1438.4 1075.9,1438.2 1076.6,1438.5 1077.3,1438.6 1078.0,1438.3 1078.7,1438.6 1079.4,1438.8 1080.1,1438.5 1080.8,1438.5 1081.5,1437.1 1082.2,1437.1 1082.9,1437.1 1083.6,1438.6 1084.3,1438.7 1085.0,1438.7 1085.7,1438.3 1086.4,1438.6 1087.1,1438.5 1087.8,1438.6 1088.5,1438.5 1089.2,1438.5 1089.9,1438.4 1090.6,1438.5 1091.3,1438.4 1092.0,1438.3 1092.7,1438.5 1093.4,1438.4 1094.1,1438.2 1094.8,1438.0 1095.5,1438.4 1096.2,1438.8 1096.9,1438.3 1097.6,1438.5 1098.3,1438.5 1099.0,1437.2 1099.7,1438.7 1100.4,1438.4 1101.1,1438.1 1101.8,1438.3 1102.5,1438.4 1103.2,1438.2 1103.9,1438.6 1104.6,1438.4 1105.3,1438.8 1106.0,1439.7 1106.7,1439.7 1107.4,1439.7 1108.1,1438.9 1108.8,1438.3 1109.5,1438.3 1110.2,1437.1 1110.9,1438.1 1111.6,1438.5 1112.3,1438.1 1113.0,1438.4 1113.7,1438.2 1114.4,1438.3 1115.1,1438.5 1115.8,1437.1 1116.5,1437.1 1117.2,1437.0 1117.9,1438.2 1118.6,1438.2 1119.3,1438.3 1120.0,1438.5 1120.7,1438.2 1121.4,1438.2 1122.1,1438.4 1122.8,1438.1 1123.5,1438.3 1124.2,1438.3 1124.9,1438.4 1125.6,1438.1 1126.3,1438.1 1127.0,1438.5 1127.7,1438.4 1128.4,1438.4 1129.1,1438.4 1129.8,1438.1 1130.5,1438.6 1131.2,1438.5 1131.9,1438.4 1132.6,1438.1 1133.3,1438.4 1134.0,1438.5 1134.7,1438.5 1135.4,1438.3 1136.1,1438.5 1136.8,1438.4 1137.5,1438.3 1138.2,1437.1 1138.9,1437.1 1139.6,1438.3 1140.3,1438.4 1141.0,1438.2 1141.7,1438.3 1142.4,1438.2 1143.1,1438.6 1143.8,1438.2 1144.5,1438.3 1145.2,1438.0 1145.9,1438.4 1146.6,1438.3 1147.3,1438.2 1148.0,1438.4 1148.7,1437.3 1149.4,1437.3 1150.1,1438.0 1150.8,1438.0 1151.5,1438.2 1152.2,1438.5 1152.9,1438.2 1153.6,1438.3 1154.3,1438.0 1155.0,1438.0 1155.7,1438.3 1156.4,1438.0 1157.1,1437.9 1157.8,1436.8 1158.5,1436.8 1159.2,1436.8 1159.9,1438.3 1160.6,1438.2 1161.3,1438.2 1162.0,1438.2 1162.7,1438.4 1163.4,1438.2 1164.1,1438.4 1164.8,1438.2 1165.5,1438.4 1166.2,1438.1 1166.9,1438.0 1167.6,1437.1 1168.3,1437.1 1169.0,1437.1 1169.7,1438.2 1170.4,1438.0 1171.1,1438.2 1171.6,1438.0 1172.1,1438.1 1172.6,1437.9 1173.1,1438.0 1173.6,1437.8 1174.1,1437.6 1174.6,1438.2 1175.1,1438.3 1175.6,1437.9 1176.1,1437.7 1176.6,1436.7 1177.1,1437.9 1177.6,1438.2 1178.1,1438.0 1178.6,1437.7 1179.1,1437.5 1179.6,1438.8 1180.1,1438.8 1180.6,1438.8 1181.1,1438.8 1181.6,1437.9 1182.1,1437.9 1182.6,1436.5 1183.1,1436.5 1183.6,1437.6 1184.1,1437.8 1184.6,1438.0 1185.1,1437.7 1185.6,1437.7 1186.1,1437.8 1186.6,1437.6 1187.1,1437.8 1187.6,1437.4 1188.1,1436.1 1188.6,1436.1 1189.1,1437.5 1189.6,1437.7 1190.1,1437.7 1190.6,1437.7 1191.1,1437.6 1191.6,1437.6 1192.1,1437.5 1192.6,1437.3 1193.1,1437.1 1193.6,1437.1 1194.1,1436.9 1194.6,1437.2 1195.1,1437.3 1195.6,1437.2 1196.1,1436.7 1196.6,1436.8 1197.1,1436.3 1197.6,1436.6 1198.1,1436.7 1198.6,1436.2 1199.1,1436.4 1199.6,1436.3 1200.1,1436.1 1200.6,1437.0 1201.1,1436.1 1201.6,1435.6 1202.1,1435.3 1202.6,1435.0 1203.1,1434.6 1203.6,1434.7 1204.1,1434.2 1204.6,1433.8 1205.1,1433.2 1205.6,1431.7 1206.1,1432.6 1206.6,1432.0 1207.1,1431.3 1207.6,1431.1 1208.1,1429.2 1208.6,1428.6 1209.1,1427.9 1209.6,1427.2 1210.1,1427.5 1210.6,1426.8 1211.1,1425.9 1211.6,1425.3 1212.1,1423.4 1212.6,1422.7 1213.1,1422.1 1213.6,1422.6 1214.1,1422.1 1214.6,1421.3 1215.1,1420.0 1215.6,1421.2 1216.1,1421.2 1216.6,1421.6 1217.1,1421.6 1217.6,1421.8 1218.1,1422.2 1218.6,1422.5 1219.1,1422.9 1219.6,1423.5 1220.1,1423.3 1220.6,1423.9 1221.1,1425.8 1221.6,1426.8 1222.1,1427.5 1222.6,1428.1 1223.1,1428.5 1223.6,1429.7 1224.1,1428.7 1224.6,1429.4 1225.1,1431.2 1225.6,1431.4 1226.1,1432.1 1226.6,1432.4 1227.1,1431.9 1227.6,1432.3 1228.1,1432.7 1228.6,1433.0 1229.1,1434.8 1229.6,1436.2 1230.1,1435.2 1230.6,1435.2 1231.1,1435.6 1231.6,1435.7 1232.1,1435.8 1232.6,1436.2 1233.1,1436.0 1233.6,1436.1 1234.1,1436.3 1234.6,1436.6 1235.1,1436.5 1235.6,1436.7 1236.1,1436.7 1236.6,1436.8 1237.1,1437.2 1237.6,1436.8 1238.1,1437.0 1238.6,1436.9 1239.1,1436.8 1239.6,1437.2 1240.1,1436.9 1240.6,1437.2 1241.1,1437.3 1241.6,1437.2 1242.1,1437.5 1242.6,1437.6 1243.1,1438.6 1243.6,1437.4 1244.1,1437.6 1244.6,1437.6 1245.1,1437.4 1245.6,1437.5 1246.1,1437.7 1246.6,1437.9 1247.1,1437.6 1247.6,1437.7 1248.1,1437.8 1248.6,1437.5 1249.1,1437.7 1249.6,1437.8 1250.1,1437.8 1250.6,1437.7 1251.1,1437.8 1251.6,1437.5 1252.1,1437.7 1252.6,1437.8 1253.1,1437.8 1253.6,1438.0 1254.1,1437.5 1254.6,1437.3 1255.1,1437.7 1255.6,1437.7 1256.1,1437.6 1256.6,1437.9 1257.1,1437.8 1257.6,1438.0 1258.1,1438.1 1258.6,1436.5 1259.1,1436.5 1259.6,1436.6 1260.1,1436.6 1260.6,1436.7 1261.1,1437.8 1261.8,1437.9 1262.5,1437.0 1263.2,1437.0 1263.9,1437.0 1264.6,1437.6 1265.3,1438.1 1266.0,1438.3 1266.7,1438.0 1267.4,1438.2 1268.1,1438.0 1268.8,1436.6 1269.5,1436.6 1270.2,1436.6 1270.9,1436.6 1271.6,1438.3 1272.3,1438.3 1273.0,1437.9 1273.7,1438.1 1274.4,1438.2 1275.1,1437.9 1275.8,1438.1 1276.5,1438.1 1277.2,1438.2 1277.9,1438.1 1278.6,1438.1 1279.3,1438.1 1280.0,1438.0 1280.7,1438.1 1281.4,1438.2 1282.1,1438.0 1282.8,1438.2 1283.5,1438.0 1284.2,1438.1 1284.9,1438.2 1285.6,1437.8 1286.3,1438.2 1287.0,1438.3 1287.7,1437.9 1288.4,1437.8 1289.1,1438.2 1289.8,1437.9 1290.5,1438.0 1291.2,1436.6 1291.9,1436.6 1292.6,1436.6 1293.3,1438.3 1294.0,1438.2 1294.7,1438.1 1295.4,1437.8 1296.1,1438.2 1296.8,1437.7 1297.5,1437.7 1298.2,1438.1 1298.9,1437.9 1299.6,1437.9 1300.3,1438.2 1301.0,1438.2 1301.7,1438.4 1302.4,1437.9 1303.1,1437.7 1303.8,1438.2 1304.5,1438.1 1305.2,1437.9 1305.9,1437.8 1306.6,1438.0 1307.3,1438.4 1308.0,1438.2 1308.7,1438.3 1309.4,1438.3 1310.1,1437.8 1310.8,1437.8 1311.5,1437.7 1312.2,1438.0 1312.9,1437.8 1313.6,1437.8 1314.3,1437.8 1315.0,1438.1 1315.7,1438.1 1316.4,1438.1 1317.1,1437.9 1317.8,1438.1 1318.5,1436.8 1319.2,1436.8 1319.9,1437.9 1320.6,1438.0 1321.3,1438.0 1322.0,1437.9 1322.7,1438.0 1323.4,1437.9 1324.1,1438.0 1324.8,1437.9 1325.5,1438.5 1326.2,1438.0 1326.9,1438.1 1327.6,1437.7 1328.3,1438.3 1329.0,1438.2 1329.7,1438.1 1330.4,1437.8 1331.1,1439.1 1331.8,1439.1 1332.5,1439.1 1333.2,1437.7 1333.9,1437.9 1334.6,1438.0 1335.3,1438.0 1336.0,1437.8 1336.7,1437.9 1337.4,1438.1 1338.1,1437.8 1338.8,1438.0 1339.5,1438.1 1340.2,1438.2 1340.9,1438.3 1341.6,1438.0 1342.3,1438.0 1343.0,1436.6 1343.7,1436.6 1344.4,1437.7 1345.1,1437.8 1345.8,1438.0 1346.5,1437.9 1347.2,1438.2 1347.9,1437.9 1348.6,1439.1 1349.3,1439.1 1350.0,1439.1 1350.7,1439.1 1351.4,1437.8 1352.1,1438.2 1352.8,1437.9 1353.5,1437.8 1354.2,1438.3 1354.9,1437.9 1355.6,1438.0 1356.3,1437.8 1357.0,1437.6 1357.7,1438.1 1358.4,1437.8 1359.1,1438.2 1359.8,1438.3 1360.5,1438.2 1361.2,1438.2 1361.9,1437.1 1362.6,1437.9 1363.3,1438.0 1364.0,1438.1 1364.7,1437.8 1365.4,1438.0 1366.1,1438.4 1366.8,1437.9 1367.5,1437.9 1368.2,1437.8 1368.9,1437.8 1369.6,1438.2 1370.3,1436.7 1371.0,1436.7 1371.7,1436.7 1372.4,1436.7 1373.1,1438.1 1373.8,1437.9 1374.5,1437.8 1375.2,1438.1 1375.9,1438.1 1376.6,1438.1 1377.3,1436.6 1378.0,1436.6 1378.7,1439.0 1379.4,1436.9 1380.1,1436.9 1380.8,1436.9 1381.5,1436.9 1382.2,1437.6 1382.9,1437.8 1383.6,1437.6 1384.3,1437.9 1385.0,1439.4 1385.7,1438.1 1386.4,1437.7 1387.1,1437.9 1387.8,1438.1 1388.5,1437.9 1389.2,1438.2 1389.9,1438.0 1390.6,1437.7 1391.3,1437.7 1392.0,1437.8 1392.7,1437.7 1393.4,1437.8 1394.1,1437.9 1394.8,1438.0 1395.5,1437.8 1396.2,1437.7 1396.9,1437.5 1397.6,1437.7 1398.3,1437.9 1399.0,1438.3 1399.7,1437.6 1400.4,1437.9 1401.1,1438.1 1401.8,1437.9 1402.5,1438.0 1403.2,1436.7 1403.9,1436.7 1404.6,1437.7 1405.3,1437.7 1406.0,1438.0 1406.7,1437.5 1407.4,1438.2 1408.1,1438.0 1408.8,1438.0 1409.5,1437.8 1410.2,1437.9 1410.9,1437.8 1411.6,1437.9 1412.3,1438.0 1413.0,1437.7 1413.7,1437.6 1414.4,1438.2 1415.1,1437.9 1415.8,1437.9 1416.5,1437.9 1417.2,1438.0 1417.9,1437.8 1418.6,1438.1 1419.3,1437.7 1420.0,1438.0 1420.7,1437.7 1421.4,1437.4 1422.1,1437.8 1422.8,1437.7 1423.5,1437.7 1424.2,1438.1 1424.9,1437.7 1425.6,1437.9 1426.3,1438.0 1427.0,1436.9 1427.7,1436.9 1428.4,1436.9 1429.1,1437.7 1429.8,1437.7 1430.5,1437.8 1431.2,1438.0 1431.9,1438.2 1432.6,1438.1 1433.3,1437.7 1434.0,1437.6 1434.7,1438.0 1435.4,1437.9 1436.1,1437.8 1436.8,1437.8 1437.5,1437.8 1438.2,1437.6 1438.9,1438.0 1439.6,1437.7 1440.3,1437.6 1441.0,1438.0 1441.7,1438.1 1442.4,1437.6 1443.1,1437.9 1443.8,1438.0 1444.5,1437.9 1445.2,1438.0 1445.9,1437.9 1446.6,1437.8 1447.3,1437.7 1448.0,1437.7 1448.7,1436.3 1449.4,1436.3 1450.1,1436.3 1450.8,1436.3 1451.5,1437.7 1452.2,1437.6 1452.9,1436.3 1453.6,1437.7 1454.3,1438.0 1455.0,1437.8 1455.7,1437.6 1456.4,1438.1 1457.1,1437.5 1457.8,1437.8 1458.5,1437.8 1459.2,1437.8 1459.9,1437.4 1460.6,1437.8 1461.3,1437.8 1462.0,1437.7 1462.7,1437.9 1463.4,1437.9 1464.1,1437.9 1464.8,1437.3 1465.5,1437.8 1466.2,1437.8 1466.9,1437.8 1467.6,1437.7 1468.3,1436.7 1469.0,1436.7 1469.7,1437.9 1470.4,1437.9 1471.1,1436.7 1471.8,1436.7 1472.5,1436.7 1473.2,1436.7 1473.9,1437.6 1474.6,1437.7 1475.3,1437.8 1476.0,1437.4 1476.7,1437.8 1477.4,1437.6 1478.1,1437.8 1478.8,1438.0 1479.5,1438.0 1480.2,1437.9 1480.9,1437.7 1481.6,1438.6 1482.3,1438.6 1483.0,1438.5 1483.7,1438.5 1484.4,1437.7 1485.1,1437.3 1485.8,1437.3 1486.5,1437.8 1487.2,1436.3 1487.7,1436.3 1488.2,1436.3 1488.7,1437.8 1489.2,1437.6 1489.7,1437.6 1490.2,1437.4 1490.7,1437.5 1491.2,1437.7 1491.7,1437.6 1492.2,1437.5 1492.7,1437.7 1493.2,1437.6 1493.7,1437.4 1494.2,1437.4 1494.7,1437.3 1495.2,1437.5 1495.7,1437.7 1496.2,1436.1 1496.7,1436.1 1497.2,1438.5 1497.7,1438.4 1498.2,1438.4 1498.7,1437.3 1499.2,1437.5 1499.7,1437.1 1500.2,1437.2 1500.7,1437.4 1501.2,1437.0 1501.7,1437.5 1502.2,1437.1 1502.7,1437.5 1503.2,1437.5 1503.7,1437.4 1504.2,1437.1 1504.7,1437.1 1505.2,1437.4 1505.7,1437.1 1506.2,1437.3 1506.7,1436.7 1507.2,1437.1 1507.7,1436.9 1508.2,1436.9 1508.7,1437.1 1509.2,1436.8 1509.7,1436.8 1510.2,1436.8 1510.7,1436.7 1511.2,1436.6 1511.7,1436.9 1512.2,1437.0 1512.7,1436.3 1513.2,1436.7 1513.7,1436.5 1514.2,1436.7 1514.7,1436.5 1515.2,1436.5 1515.7,1436.2 1516.2,1436.5 1516.7,1436.0 1517.2,1436.5 1517.7,1435.8 1518.2,1435.6 1518.7,1435.6 1519.2,1435.3 1519.7,1435.5 1520.2,1434.7 1520.7,1435.4 1521.2,1434.8 1521.7,1434.6 1522.2,1434.0 1522.7,1433.7 1523.2,1433.4 1523.7,1433.2 1524.2,1433.0 1524.7,1432.2 1525.2,1432.0 1525.7,1431.6 1526.2,1431.0 1526.7,1430.5 1527.2,1430.1 1527.7,1429.3 1528.2,1428.9 1528.7,1428.4 1529.2,1427.7 1529.7,1427.0 1530.2,1426.3 1530.7,1426.8 1531.2,1425.5 1531.7,1425.0 1532.2,1424.7 1532.7,1424.1 1533.2,1423.7 1533.7,1423.4 1534.2,1423.3 1534.7,1423.2 1535.2,1422.8 1535.7,1423.3 1536.2,1424.5 1536.7,1423.8 1537.2,1423.8 1537.7,1424.4 1538.2,1424.5 1538.7,1425.0 1539.2,1425.2 1539.7,1426.1 1540.2,1426.4 1540.7,1426.8 1541.2,1427.4 1541.7,1427.7 1542.2,1428.8 1542.7,1429.3 1543.2,1429.7 1543.7,1430.4 1544.2,1430.7 1544.7,1431.3 1545.2,1431.6 1545.7,1432.0 1546.2,1432.4 1546.7,1433.1 1547.2,1433.3 1547.7,1433.5 1548.2,1433.8 1548.7,1434.2 1549.2,1434.5 1549.7,1434.4 1550.2,1434.8 1550.7,1435.2 1551.2,1434.3 1551.7,1434.4 1552.2,1434.6 1552.7,1435.9 1553.2,1436.1 1553.7,1435.9 1554.2,1436.1 1554.7,1435.9 1555.2,1436.4 1555.7,1436.3 1556.2,1436.4 1556.7,1436.4 1557.2,1436.8 1557.7,1436.3 1558.2,1436.6 1558.7,1436.3 1559.2,1436.8 1559.7,1436.9 1560.2,1436.9 1560.7,1437.3 1561.2,1437.0 1561.7,1436.6 1562.2,1437.0 1562.7,1436.9 1563.2,1436.7 1563.7,1436.9 1564.2,1437.1 1564.7,1438.3 1565.2,1438.4 1565.7,1438.4 1566.2,1437.1 1566.7,1437.0 1567.2,1437.0 1567.7,1437.2 1568.2,1437.1 1568.7,1437.0 1569.2,1437.1 1569.7,1437.2 1570.2,1437.2 1570.7,1437.1 1571.2,1437.4 1571.7,1437.0 1572.2,1437.4 1572.7,1437.0 1573.2,1437.4 1573.7,1437.2 1574.2,1438.6 1574.7,1438.6 1575.2,1438.7 1575.7,1438.7 1576.2,1437.2 1576.7,1437.3 1577.2,1437.3 1577.7,1438.6 1578.2,1435.9 1578.7,1435.9 1579.2,1436.0 1579.7,1437.2 1580.2,1437.6 1580.7,1437.1 1581.2,1437.3 1581.7,1437.5 1582.2,1437.5 1582.7,1437.8 1583.2,1437.7 1583.9,1437.2 1584.6,1437.6 1585.3,1436.9 1586.0,1437.5 1586.7,1437.3 1587.4,1437.5 1588.1,1437.4 1588.8,1437.5 1589.5,1437.3 1590.2,1437.5 1590.9,1437.4 1591.6,1437.4 1592.3,1438.7 1592.8,1438.7 1593.3,1438.7 1593.8,1438.7 1594.3,1437.2 1594.8,1437.6 1595.3,1437.2 1595.8,1436.6 1596.3,1437.5 1596.8,1437.5 1597.3,1437.5 1597.8,1437.7 1598.3,1437.6 1598.8,1437.4 1599.3,1437.1 1599.8,1437.5 1600.3,1437.6 1600.8,1437.3 1601.3,1437.6 1601.8,1437.3 1602.3,1437.7 1602.8,1437.3 1603.3,1437.2 1603.8,1437.8 1604.3,1437.5 1604.8,1437.4 1605.3,1437.4 1605.8,1437.3 1606.3,1437.6 1606.8,1437.2 1607.3,1437.4 1607.8,1437.1 1608.3,1437.6 1608.8,1437.4 1609.3,1437.5 1609.8,1437.4 1610.3,1437.4 1610.8,1437.3 1611.3,1437.3 1611.8,1437.3 1612.3,1437.1 1612.8,1437.3 1613.3,1437.1 1613.8,1437.3 1614.3,1437.5 1614.8,1435.9 1615.3,1435.9 1615.8,1437.3 1616.3,1437.1 1616.8,1437.1 1617.3,1437.3 1617.8,1437.4 1618.3,1437.2 1618.8,1438.2 1619.3,1438.2 1619.8,1438.2 1620.3,1437.2 1620.8,1437.2 1621.3,1437.5 1621.8,1437.5 1622.3,1436.7 1622.8,1436.8 1623.3,1437.1 1623.8,1436.8 1624.3,1437.1 1624.8,1438.4 1625.3,1436.7 1625.8,1436.9 1626.3,1436.6 1626.8,1436.7 1627.3,1436.7 1627.8,1436.9 1628.3,1436.4 1628.8,1436.7 1629.3,1436.3 1629.8,1436.2 1630.3,1436.3 1630.8,1435.8 1631.3,1435.9 1631.8,1436.0 1632.3,1435.5 1632.8,1435.5 1633.3,1435.4 1633.8,1435.2 1634.3,1434.9 1634.8,1434.4 1635.3,1434.7 1635.8,1433.1 1636.3,1432.9 1636.8,1432.6 1637.3,1432.4 1637.8,1433.3 1638.3,1433.1 1638.8,1433.1 1639.3,1432.8 1639.8,1432.2 1640.3,1432.7 1640.8,1432.1 1641.3,1432.0 1641.8,1432.5 1642.3,1432.1 1642.8,1432.1 1643.3,1432.2 1643.8,1432.0 1644.3,1431.8 1644.8,1432.4 1645.3,1432.4 1645.8,1432.2 1646.3,1432.2 1646.8,1432.7 1647.3,1432.5 1647.8,1432.9 1648.3,1432.8 1648.8,1433.1 1649.3,1433.5 1649.8,1432.2 1650.3,1432.4 1650.8,1434.2 1651.3,1434.2 1651.8,1434.5 1652.3,1434.6 1652.8,1434.7 1653.3,1435.2 1653.8,1435.0 1654.3,1435.4 1654.8,1435.5 1655.3,1435.4 1655.8,1435.5 1656.3,1435.8 1656.8,1436.0 1657.3,1437.4 1657.8,1437.5 1658.3,1437.6 1658.8,1436.4 1659.3,1436.6 1659.8,1436.7 1660.3,1436.6 1660.8,1436.6 1661.3,1436.8 1661.8,1437.1 1662.3,1436.8 1662.8,1437.0 1663.3,1437.1 1663.8,1438.2 1664.3,1437.2 1664.8,1435.8 1665.3,1435.9 1665.8,1435.9 1666.3,1437.2 1666.8,1435.8 1667.3,1435.9 1667.8,1437.1 1668.3,1437.1 1668.8,1437.6 1669.3,1437.1 1669.8,1437.3 1670.3,1437.5 1670.8,1437.1 1671.3,1437.3 1671.8,1437.4 1672.3,1437.3 1672.8,1437.2 1673.3,1436.0 1673.8,1436.0 1674.3,1436.0 1674.8,1437.2 1675.3,1437.6 1675.8,1437.7 1676.3,1437.5 1676.8,1437.4 1677.3,1437.6 1677.8,1437.7 1678.3,1437.3 1678.8,1437.4 1679.3,1437.5 1679.8,1437.4 1680.3,1437.6 1680.8,1437.3 1681.3,1437.4 1681.8,1437.2 1682.3,1437.5 1682.8,1437.4 1683.3,1437.2 1683.8,1437.8 1684.3,1437.3 1684.8,1437.6 1685.3,1437.2 1685.8,1437.6 1686.3,1437.4 1686.8,1437.5 1687.3,1437.5 1687.8,1437.5 1688.3,1437.5 1688.8,1437.4 1689.3,1437.5 1689.8,1436.6 1690.3,1436.6 1690.8,1436.6 1691.3,1436.6 1691.8,1437.9 1692.3,1437.6 1692.8,1437.8 1693.3,1437.5 1693.8,1437.9 1694.3,1437.4 1695.0,1437.3 1695.7,1437.6 1696.4,1437.7 1697.1,1437.6 1697.8,1437.5 1698.5,1438.8 1699.2,1438.8 1699.9,1437.6 1700.6,1437.3 1701.3,1437.5 1702.0,1437.6 1702.7,1437.5 1703.4,1437.3 1704.1,1437.8 1704.8,1437.2 1705.5,1437.5 1706.2,1437.4 1706.9,1437.7 1707.6,1437.7 1708.3,1437.4 1709.0,1437.8 1709.7,1437.8 1710.4,1437.9 1711.1,1437.7 1711.8,1437.6 1712.5,1437.4 1713.2,1437.7 1713.9,1436.1 1714.6,1436.1 1715.3,1437.4 1716.0,1437.8 1716.7,1437.2 1717.4,1437.7 1718.1,1437.5 1718.8,1437.5 1719.5,1437.5 1720.2,1437.9 1720.9,1437.5 1721.6,1437.7 1722.3,1437.4 1723.0,1437.3 1723.7,1437.6 1724.4,1437.7 1725.1,1437.5 1725.8,1437.5 1726.5,1437.5 1727.2,1438.0 1727.9,1437.4 1728.6,1437.8 1729.3,1437.1 1730.0,1437.4 1730.7,1437.6 1731.4,1437.7 1732.1,1437.9 1732.8,1437.5 1733.5,1437.8 1734.2,1437.6 1734.9,1437.8 1735.6,1437.3 1736.3,1437.6 1737.0,1438.9 1737.7,1437.6 1738.4,1437.6 1739.1,1437.4 1739.8,1437.6 1740.5,1437.7 1741.2,1437.3 1741.9,1437.4 1742.6,1437.4 1743.3,1437.5 1744.0,1437.7 1744.7,1437.6 1745.4,1437.6 1746.1,1437.5 1746.8,1437.8 1747.5,1437.7 1748.2,1437.6 1748.9,1437.5 1749.6,1437.4 1750.3,1437.7 1751.0,1437.6 1751.7,1437.7 1752.4,1437.8 1753.1,1437.7 1753.8,1437.2 1754.5,1437.6 1755.2,1437.6 1755.9,1437.8 1756.6,1437.5 1757.3,1438.9 1758.0,1437.7 1758.7,1437.6 1759.4,1436.3 1760.1,1437.5 1760.8,1437.7 1761.5,1437.8 1762.2,1437.9 1762.9,1436.6 1763.6,1436.6 1764.3,1437.8 1765.0,1437.6 1765.7,1437.8 1766.4,1437.6 1767.1,1437.6 1767.8,1437.7 1768.5,1439.1 1769.2,1439.1 1769.9,1437.6 1770.6,1437.5 1771.3,1437.6 1772.0,1437.7 1772.7,1437.5 1773.4,1437.5 1774.1,1437.6 1774.8,1437.5 1775.5,1437.3 1776.2,1437.9 1776.9,1437.7 1777.6,1437.6 1778.3,1437.6 1779.0,1437.4 1779.7,1437.8 1780.4,1437.5 1781.1,1438.1 1781.8,1436.4 1782.5,1437.8 1783.2,1437.4 1783.9,1437.6 1784.6,1437.5 1785.3,1437.6 1786.0,1437.5 1786.7,1437.8 1787.4,1437.3 1788.1,1437.2 1788.8,1437.7 1789.5,1437.4 1790.2,1437.6 1790.9,1437.7 1791.6,1437.7 1792.3,1437.4 1793.0,1437.4 1793.7,1436.6 1794.4,1436.6 1795.1,1436.6 1795.8,1436.6 1796.5,1437.5 1797.2,1437.9 1797.9,1437.4 1798.6,1437.6 1799.3,1437.5 1800.0,1437.7 1800.7,1437.7 1801.4,1437.4 1802.1,1437.4 1802.8,1437.6 1803.5,1437.6 1804.2,1437.3 1804.9,1437.6 1805.6,1437.3 1806.3,1437.5 1807.0,1436.4 1807.7,1436.4 1808.4,1436.4 1809.1,1437.4 1809.8,1437.7 1810.5,1437.5 1811.2,1437.3 1811.9,1437.6 1812.6,1437.7 1813.3,1437.6 1814.0,1439.0 1814.7,1439.0 1815.4,1437.4 1816.1,1437.6 1816.8,1437.6 1817.5,1437.7 1818.2,1437.7 1818.9,1437.4 1819.6,1437.5 1820.3,1437.6 1821.0,1437.9 1821.7,1437.8 1822.4,1437.5 1823.1,1436.2 1823.8,1436.2 1824.5,1436.2 1825.2,1436.2 1825.9,1437.5 1826.6,1437.5 1827.3,1436.3 1828.0,1436.3 1828.7,1437.6 1829.4,1437.8 1830.1,1437.7 1830.8,1437.3 1831.5,1437.6 1832.2,1437.4 1832.9,1437.5 1833.6,1437.4 1834.3,1437.6 1835.0,1437.6 1835.7,1437.5 1836.4,1437.3 1837.1,1437.7 1837.8,1437.6 1838.5,1437.8 1839.2,1437.5 1839.9,1437.7 1840.6,1437.8 1841.3,1437.6 1842.0,1437.7 1842.7,1437.8 1843.4,1437.8 1844.1,1437.9 1844.8,1437.5 1845.5,1437.1 1846.2,1437.7 1846.9,1437.3 1847.6,1437.6 1848.3,1437.6 1849.0,1437.7 1849.7,1437.5 1850.4,1437.7 1851.1,1437.7 1851.8,1437.4 1852.5,1437.5 1853.2,1437.4 1853.9,1437.4 1854.6,1437.3 1855.3,1437.3 1856.0,1437.8 1856.7,1437.5 1857.4,1437.6 1858.1,1436.6 1858.8,1436.6 1859.5,1436.6 1860.2,1437.6 1860.9,1437.4 1861.6,1437.5 1862.3,1437.5 1863.0,1437.4 1863.7,1437.7 1864.4,1437.6 1865.1,1437.5 1865.8,1437.6 1866.5,1437.5 1867.2,1437.5 1867.9,1437.6 1868.6,1437.3 1869.3,1437.3 1870.0,1437.2 1870.7,1437.5 1871.4,1437.2 1872.1,1437.5 1872.8,1437.6 1873.5,1437.8 1874.2,1437.4 1874.9,1437.5 1875.6,1437.6 1876.3,1437.4 1877.0,1436.3 1877.7,1437.5 1878.4,1437.4 1879.1,1437.5 1879.8,1437.9 1880.5,1436.1 1881.2,1436.1 1881.9,1437.3 1882.6,1437.6 1883.3,1437.4 1884.0,1437.7 1884.7,1437.5 1885.4,1437.5 1886.1,1437.5 1886.8,1437.4 1887.5,1437.9 1888.2,1437.7 1888.9,1437.5 1889.6,1437.8 1890.3,1437.4 1891.0,1437.9 1891.7,1437.7 1892.4,1437.6 1893.1,1437.4 1893.8,1437.6 1894.5,1437.3 1895.2,1437.5 1895.9,1437.8 1896.6,1437.4 1897.3,1437.3 1898.0,1437.7 1898.7,1437.5 1899.4,1437.8 1900.1,1437.6 1900.8,1437.4 1901.5,1437.6 1902.2,1437.4 1902.9,1437.4 1903.6,1437.7 1904.3,1437.4 1905.0,1437.6 1905.7,1437.8 1906.4,1437.6 1907.1,1437.6 1907.8,1437.3 1909.0,1437.3" fill="none" stroke="#000000" stroke-width="8.8" stroke-linejoin="round" stroke-linecap="butt"/>
<rect x="121" y="1452" width="1" height="1" fill="#fff"/>
<rect x="161" y="1452" width="1" height="1" fill="#fff"/>
<rect x="201" y="1451" width="1" height="1" fill="#fff"/>
<rect x="240" y="1451" width="1" height="1" fill="#fff"/>
<rect x="280" y="1450" width="1" height="1" fill="#fff"/>
<rect x="320" y="1449" width="1" height="1" fill="#fff"/>
<rect x="360" y="1448" width="1" height="1" fill="#fff"/>
<rect x="400" y="1447" width="1" height="1" fill="#fff"/>
<rect x="439" y="1446" width="1" height="1" fill="#fff"/>
<rect x="479" y="1445" width="1" height="1" fill="#fff"/>
<rect x="519" y="1444" width="1" height="1" fill="#fff"/>
<rect x="559" y="1443" width="1" height="1" fill="#fff"/>
<rect x="639" y="1439" width="1" height="1" fill="#fff"/>
<rect x="678" y="1439" width="1" height="1" fill="#fff"/>
<rect x="718" y="1437" width="1" height="1" fill="#fff"/>
<rect x="758" y="1437" width="1" height="1" fill="#fff"/>
<rect x="798" y="1438" width="1" height="1" fill="#fff"/>
<rect x="838" y="1438" width="1" height="1" fill="#fff"/>
<rect x="877" y="1438" width="1" height="1" fill="#fff"/>
<rect x="917" y="1438" width="1" height="1" fill="#fff"/>
<rect x="957" y="1438" width="1" height="1" fill="#fff"/>
<rect x="997" y="1438" width="1" height="1" fill="#fff"/>
<rect x="1037" y="1438" width="1" height="1" fill="#fff"/>
<rect x="1076" y="1438" width="1" height="1" fill="#fff"/>
<rect x="1116" y="1438" width="1" height="1" fill="#fff"/>
<rect x="1156" y="1438" width="1" height="1" fill="#fff"/>
<rect x="1196" y="1436" width="1" height="1" fill="#fff"/>
<rect x="1236" y="1436" width="1" height="1" fill="#fff"/>
<rect x="1275" y="1437" width="1" height="1" fill="#fff"/>
<rect x="1315" y="1438" width="1" height="1" fill="#fff"/>
<rect x="1355" y="1437" width="1" height="1" fill="#fff"/>
<rect x="1395" y="1437" width="1" height="1" fill="#fff"/>
<rect x="1435" y="1437" width="1" height="1" fill="#fff"/>
<rect x="1475" y="1437" width="1" height="1" fill="#fff"/>
<rect x="1514" y="1436" width="1" height="1" fill="#fff"/>
<rect x="1554" y="1436" width="1" height="1" fill="#fff"/>
<rect x="1594" y="1437" width="1" height="1" fill="#fff"/>
<rect x="1634" y="1435" width="1" height="1" fill="#fff"/>
<rect x="1674" y="1437" width="1" height="1" fill="#fff"/>
<rect x="1713" y="1437" width="1" height="1" fill="#fff"/>
<rect x="1753" y="1437" width="1" height="1" fill="#fff"/>
<rect x="1793" y="1437" width="1" height="1" fill="#fff"/>
<rect x="1833" y="1437" width="1" height="1" fill="#fff"/>
<rect x="1873" y="1437" width="1" height="1" fill="#fff"/>
<rect x="1912" y="1437" width="1" height="1" fill="#fff"/>
<path d="M120.0,1218.9 123.0,1218.9 126.0,1218.8 129.0,1218.8 132.0,1218.8 135.0,1218.7 138.0,1218.7 141.0,1218.6 144.0,1218.6 147.0,1218.6 150.0,1218.5 153.0,1218.5 156.0,1218.5 159.0,1218.4 162.0,1218.4 165.0,1218.3 168.0,1218.3 171.0,1218.3 174.0,1218.2 177.0,1218.2 180.0,1218.2 183.0,1218.1 186.0,1218.1 189.0,1218.1 192.0,1218.0 195.0,1218.0 198.0,1217.9 201.0,1217.9 204.0,1217.9 207.0,1217.8 210.0,1217.8 213.0,1217.8 216.0,1217.7 219.0,1217.7 222.0,1217.7 225.0,1217.6 228.0,1217.6 231.0,1217.5 234.0,1217.5 237.0,1217.5 240.0,1217.4 243.0,1217.4 246.0,1217.4 249.0,1217.3 252.0,1217.3 255.0,1217.2 258.0,1217.2 261.0,1217.2 264.0,1217.1 267.0,1217.1 270.0,1217.1 273.0,1217.0 276.0,1217.0 279.0,1217.0 282.0,1216.9 285.0,1216.9 288.0,1216.8 291.0,1216.8 294.0,1216.8 297.0,1216.7 300.0,1216.7 303.0,1216.7 306.0,1216.6 309.0,1216.6 312.0,1216.5 315.0,1216.5 318.0,1216.5 321.0,1216.4 324.0,1216.4 327.0,1216.4 330.0,1216.3 333.0,1216.3 336.0,1216.2 339.0,1216.2 342.0,1216.1 345.0,1216.1 348.0,1216.0 351.0,1215.9 354.0,1215.9 357.0,1215.8 360.0,1215.8 363.0,1215.7 366.0,1215.6 369.0,1215.6 372.0,1215.5 375.0,1215.5 378.0,1215.4 381.0,1215.4 384.0,1215.3 387.0,1215.2 390.0,1215.2 393.0,1215.1 396.0,1215.1 399.0,1215.0 402.0,1215.0 405.0,1214.9 408.0,1214.8 411.0,1214.8 414.0,1214.7 417.0,1214.7 420.0,1214.6 423.0,1214.5 426.0,1214.5 429.0,1214.4 432.0,1214.4 435.0,1214.3 438.0,1214.3 441.0,1214.2 444.0,1214.1 447.0,1214.1 450.0,1214.0 453.0,1214.0 456.0,1213.9 459.0,1213.8 462.0,1213.8 465.0,1213.7 468.0,1213.7 471.0,1213.6 474.0,1213.5 477.0,1213.5 480.0,1213.4 483.0,1213.4 486.0,1213.3 489.0,1213.2 492.0,1213.2 495.0,1213.1 498.0,1213.0 501.0,1213.0 504.0,1212.9 507.0,1212.8 510.0,1212.7 513.0,1212.6 516.0,1212.5 519.0,1212.4 522.0,1212.3 525.0,1212.1 528.0,1212.0 531.0,1211.9 534.0,1211.8 537.0,1211.7 540.0,1211.6 543.0,1211.4 546.0,1211.3 549.0,1211.2 552.0,1211.0 555.0,1210.8 558.0,1210.6 561.0,1210.4 564.0,1210.1 567.0,1209.8 570.0,1209.4 573.0,1208.9 576.0,1208.1 576.4,1208.0 576.8,1207.8 577.2,1207.7 577.6,1207.6 578.0,1207.4 578.4,1207.2 578.8,1207.0 579.2,1206.9 579.6,1206.6 580.0,1206.4 580.4,1206.2 580.8,1205.9 581.2,1205.6 581.6,1205.3 582.0,1205.0 582.4,1204.7 582.8,1204.3 583.2,1203.8 583.6,1203.4 584.0,1202.8 584.4,1202.3 584.8,1201.6 585.2,1200.9 585.6,1200.1 586.0,1199.1 586.4,1198.1 586.8,1196.9 587.2,1195.5 587.6,1194.0 588.0,1192.1 588.4,1190.0 588.8,1187.4 589.2,1184.3 589.6,1180.6 590.0,1176.0 590.4,1170.4 590.8,1163.3 591.2,1154.2 591.6,1142.4 592.0,1127.0 592.4,1106.4 592.8,1079.1 593.2,1043.5 593.6,1000.2 594.0,955.2 594.4,922.3 594.8,914.9 595.2,930.5 595.6,953.2 596.0,971.2 596.4,983.6 596.8,998.5 597.2,1022.1 597.6,1052.4 598.0,1082.5 598.4,1108.0 598.8,1128.1 599.2,1143.4 599.6,1155.1 600.0,1164.1 600.4,1171.0 600.8,1176.6 601.2,1181.0 601.6,1184.6 602.0,1187.6 602.4,1190.0 602.8,1192.1 603.2,1193.9 603.6,1195.4 604.0,1196.7 604.4,1197.8 604.8,1198.8 605.2,1199.6 605.6,1200.4 606.0,1201.1 606.4,1201.7 606.8,1202.2 607.2,1202.7 607.6,1203.1 608.0,1203.5 608.4,1203.8 608.8,1204.2 609.2,1204.5 609.6,1204.7 610.0,1205.0 610.4,1205.2 610.8,1205.4 611.2,1205.6 611.6,1205.8 612.0,1205.9 612.4,1206.1 612.8,1206.2 613.2,1206.3 613.6,1206.5 616.6,1207.1 619.6,1207.5 622.6,1207.7 625.6,1207.9 628.6,1207.9 631.6,1208.0 634.6,1208.0 637.6,1208.0 640.6,1207.9 643.6,1207.9 646.6,1207.8 649.6,1207.7 652.6,1207.7 655.6,1207.7 658.6,1207.7 661.6,1207.7 664.6,1207.7 667.6,1207.7 670.6,1207.7 673.6,1207.7 676.6,1207.6 679.6,1207.6 682.6,1207.6 685.6,1207.6 688.6,1207.5 691.6,1207.5 694.6,1207.5 697.6,1207.4 700.6,1207.4 703.6,1207.3 706.6,1207.3 709.6,1207.2 712.6,1207.1 715.6,1206.9 716.0,1206.9 716.4,1206.9 716.8,1206.9 717.2,1206.8 717.6,1206.8 718.0,1206.8 718.4,1206.7 718.8,1206.7 719.2,1206.7 719.6,1206.6 720.0,1206.6 720.4,1206.5 720.8,1206.5 721.2,1206.5 721.6,1206.4 722.0,1206.3 722.4,1206.3 722.8,1206.2 723.2,1206.1 723.6,1206.1 724.0,1206.0 724.4,1205.9 724.8,1205.8 725.2,1205.7 725.6,1205.5 726.0,1205.4 726.4,1205.2 726.8,1205.1 727.2,1204.9 727.6,1204.6 728.0,1204.4 728.4,1204.1 728.8,1203.8 729.2,1203.4 729.6,1203.0 730.0,1202.5 730.4,1201.9 730.8,1201.2 731.2,1200.3 731.6,1199.2 732.0,1197.8 732.4,1196.0 732.8,1193.7 733.2,1190.5 733.6,1186.5 734.0,1181.3 734.4,1174.8 734.8,1167.0 735.2,1158.2 735.6,1149.6 736.0,1142.8 736.4,1139.6 736.8,1140.5 737.2,1144.0 737.6,1148.1 738.0,1151.8 738.4,1154.8 738.8,1158.0 739.2,1162.3 739.6,1167.8 740.0,1173.9 740.4,1179.7 740.8,1184.8 741.2,1189.0 741.6,1192.3 742.0,1195.0 742.4,1197.0 742.8,1198.6 743.2,1199.9 743.6,1200.9 744.0,1201.6 744.4,1202.3 744.8,1202.8 745.2,1203.3 745.6,1203.6 746.0,1204.0 746.4,1204.2 746.8,1204.5 747.2,1204.7 747.6,1204.9 748.0,1205.1 748.4,1205.2 748.8,1205.4 749.2,1205.5 749.6,1205.6 750.0,1205.7 750.4,1205.8 750.8,1205.9 751.2,1205.9 751.6,1206.0 752.0,1206.1 752.4,1206.1 752.8,1206.2 753.2,1206.2 753.6,1206.3 754.0,1206.3 754.4,1206.3 754.8,1206.4 755.2,1206.4 755.6,1206.4 756.0,1206.5 756.4,1206.5 756.8,1206.5 757.2,1206.6 757.6,1206.6 758.0,1206.6 761.0,1206.7 764.0,1206.8 767.0,1206.8 770.0,1206.9 773.0,1206.9 776.0,1206.9 779.0,1206.9 782.0,1206.9 785.0,1206.9 788.0,1206.9 791.0,1206.8 794.0,1206.8 797.0,1206.8 800.0,1206.8 803.0,1206.8 806.0,1206.8 809.0,1206.8 812.0,1206.8 815.0,1206.8 818.0,1206.8 821.0,1206.8 824.0,1206.8 827.0,1206.8 830.0,1206.8 833.0,1206.8 836.0,1206.8 839.0,1206.8 842.0,1206.8 845.0,1206.8 848.0,1206.8 851.0,1206.8 854.0,1206.8 857.0,1206.7 860.0,1206.7 863.0,1206.7 866.0,1206.7 869.0,1206.7 872.0,1206.7 875.0,1206.7 878.0,1206.7 881.0,1206.7 884.0,1206.7 887.0,1206.7 890.0,1206.7 893.0,1206.7 896.0,1206.7 899.0,1206.7 902.0,1206.7 905.0,1206.7 908.0,1206.7 911.0,1206.7 914.0,1206.7 917.0,1206.6 920.0,1206.6 923.0,1206.6 926.0,1206.6 929.0,1206.6 932.0,1206.6 935.0,1206.6 938.0,1206.6 941.0,1206.6 944.0,1206.6 947.0,1206.6 950.0,1206.6 953.0,1206.6 956.0,1206.6 959.0,1206.6 962.0,1206.6 965.0,1206.6 968.0,1206.6 971.0,1206.5 974.0,1206.5 977.0,1206.5 980.0,1206.5 983.0,1206.5 986.0,1206.5 989.0,1206.5 992.0,1206.5 995.0,1206.5 998.0,1206.5 1001.0,1206.5 1004.0,1206.5 1007.0,1206.5 1010.0,1206.5 1013.0,1206.5 1016.0,1206.5 1019.0,1206.5 1022.0,1206.5 1025.0,1206.4 1028.0,1206.4 1031.0,1206.4 1034.0,1206.4 1037.0,1206.4 1040.0,1206.4 1043.0,1206.4 1046.0,1206.4 1049.0,1206.4 1052.0,1206.4 1055.0,1206.4 1058.0,1206.4 1061.0,1206.4 1064.0,1206.4 1067.0,1206.4 1070.0,1206.4 1073.0,1206.4 1076.0,1206.3 1079.0,1206.3 1082.0,1206.3 1085.0,1206.3 1088.0,1206.3 1091.0,1206.3 1094.0,1206.3 1097.0,1206.3 1100.0,1206.3 1103.0,1206.3 1106.0,1206.3 1109.0,1206.3 1112.0,1206.3 1115.0,1206.3 1118.0,1206.3 1121.0,1206.2 1124.0,1206.2 1127.0,1206.2 1130.0,1206.2 1133.0,1206.2 1136.0,1206.2 1139.0,1206.2 1142.0,1206.2 1145.0,1206.2 1148.0,1206.2 1151.0,1206.2 1154.0,1206.2 1157.0,1206.2 1160.0,1206.1 1163.0,1206.1 1166.0,1206.1 1169.0,1206.1 1172.0,1206.1 1175.0,1206.1 1178.0,1206.1 1181.0,1206.0 1184.0,1206.0 1187.0,1206.0 1190.0,1205.9 1193.0,1205.9 1193.4,1205.9 1193.8,1205.8 1194.2,1205.8 1194.6,1205.8 1195.0,1205.8 1195.4,1205.8 1195.8,1205.8 1196.2,1205.8 1196.6,1205.7 1197.0,1205.7 1197.4,1205.7 1197.8,1205.7 1198.2,1205.7 1198.6,1205.6 1199.0,1205.6 1199.4,1205.6 1199.8,1205.5 1200.2,1205.5 1200.6,1205.5 1201.0,1205.4 1201.4,1205.4 1201.8,1205.3 1202.2,1205.3 1202.6,1205.2 1203.0,1205.2 1203.4,1205.1 1203.8,1205.0 1204.2,1204.9 1204.6,1204.8 1205.0,1204.6 1205.4,1204.5 1205.8,1204.3 1206.2,1204.1 1206.6,1203.8 1207.0,1203.5 1207.4,1203.1 1207.8,1202.6 1208.2,1202.0 1208.6,1201.1 1209.0,1200.0 1209.4,1198.6 1209.8,1196.8 1210.2,1194.7 1210.6,1192.2 1211.0,1189.4 1211.4,1186.7 1211.8,1184.8 1212.2,1184.0 1212.6,1184.6 1213.0,1186.3 1213.4,1188.4 1213.8,1190.3 1214.2,1191.7 1214.6,1192.6 1215.0,1192.9 1215.4,1192.8 1215.8,1192.6 1216.2,1192.5 1216.6,1193.0 1217.0,1194.0 1217.4,1195.5 1217.8,1197.0 1218.2,1198.5 1218.6,1199.9 1219.0,1201.0 1219.4,1201.8 1219.8,1202.5 1220.2,1203.1 1220.6,1203.5 1221.0,1203.9 1221.4,1204.1 1221.8,1204.3 1222.2,1204.5 1222.6,1204.7 1223.0,1204.8 1223.4,1204.9 1223.8,1205.0 1224.2,1205.1 1224.6,1205.2 1225.0,1205.2 1225.4,1205.3 1225.8,1205.3 1226.2,1205.4 1226.6,1205.4 1227.0,1205.4 1227.4,1205.5 1227.8,1205.5 1228.2,1205.5 1228.6,1205.6 1229.0,1205.6 1229.4,1205.6 1229.8,1205.6 1230.2,1205.7 1230.6,1205.7 1231.0,1205.7 1231.4,1205.7 1231.8,1205.7 1232.2,1205.7 1232.6,1205.7 1233.0,1205.7 1233.4,1205.8 1233.8,1205.8 1234.2,1205.8 1237.2,1205.8 1240.2,1205.9 1243.2,1205.9 1246.2,1205.9 1249.2,1205.9 1252.2,1205.9 1255.2,1205.9 1258.2,1205.9 1261.2,1205.9 1264.2,1205.9 1267.2,1205.9 1270.2,1205.9 1273.2,1205.9 1276.2,1205.9 1279.2,1205.9 1282.2,1205.9 1285.2,1205.9 1288.2,1205.9 1291.2,1205.9 1294.2,1205.9 1297.2,1205.9 1300.2,1205.8 1303.2,1205.8 1306.2,1205.8 1309.2,1205.8 1312.2,1205.8 1315.2,1205.8 1318.2,1205.8 1321.2,1205.8 1324.2,1205.8 1327.2,1205.8 1330.2,1205.8 1333.2,1205.8 1336.2,1205.8 1339.2,1205.8 1342.2,1205.8 1345.2,1205.8 1348.2,1205.7 1351.2,1205.7 1354.2,1205.7 1357.2,1205.7 1360.2,1205.7 1363.2,1205.7 1366.2,1205.7 1369.2,1205.7 1372.2,1205.7 1375.2,1205.7 1378.2,1205.7 1381.2,1205.7 1384.2,1205.7 1387.2,1205.7 1390.2,1205.7 1393.2,1205.6 1396.2,1205.6 1399.2,1205.6 1402.2,1205.6 1405.2,1205.6 1408.2,1205.6 1411.2,1205.6 1414.2,1205.6 1417.2,1205.6 1420.2,1205.6 1423.2,1205.6 1426.2,1205.6 1429.2,1205.6 1432.2,1205.5 1435.2,1205.5 1438.2,1205.5 1441.2,1205.5 1444.2,1205.5 1447.2,1205.5 1450.2,1205.5 1453.2,1205.5 1456.2,1205.5 1459.2,1205.5 1462.2,1205.5 1465.2,1205.5 1468.2,1205.5 1471.2,1205.5 1474.2,1205.5 1477.2,1205.4 1480.2,1205.4 1483.2,1205.4 1486.2,1205.4 1489.2,1205.4 1492.2,1205.4 1495.2,1205.4 1498.2,1205.3 1501.2,1205.3 1501.6,1205.3 1502.0,1205.3 1502.4,1205.3 1502.8,1205.3 1503.2,1205.3 1503.6,1205.2 1504.0,1205.2 1504.4,1205.2 1504.8,1205.2 1505.2,1205.2 1505.6,1205.2 1506.0,1205.2 1506.4,1205.2 1506.8,1205.2 1507.2,1205.2 1507.6,1205.1 1508.0,1205.1 1508.4,1205.1 1508.8,1205.1 1509.2,1205.1 1509.6,1205.1 1510.0,1205.1 1510.4,1205.0 1510.8,1205.0 1511.2,1205.0 1511.6,1205.0 1512.0,1205.0 1512.4,1204.9 1512.8,1204.9 1513.2,1204.9 1513.6,1204.9 1514.0,1204.8 1514.4,1204.8 1514.8,1204.8 1515.2,1204.7 1515.6,1204.7 1516.0,1204.6 1516.4,1204.6 1516.8,1204.5 1517.2,1204.5 1517.6,1204.4 1518.0,1204.4 1518.4,1204.3 1518.8,1204.2 1519.2,1204.1 1519.6,1204.0 1520.0,1203.9 1520.4,1203.8 1520.8,1203.6 1521.2,1203.5 1521.6,1203.3 1522.0,1203.1 1522.4,1202.8 1522.8,1202.6 1523.2,1202.2 1523.6,1201.8 1524.0,1201.3 1524.4,1200.7 1524.8,1200.0 1525.2,1199.2 1525.6,1198.3 1526.0,1197.2 1526.4,1195.9 1526.8,1194.5 1527.2,1193.0 1527.6,1191.4 1528.0,1189.8 1528.4,1188.3 1528.8,1187.0 1529.2,1186.3 1529.6,1186.0 1530.0,1186.3 1530.4,1187.0 1530.8,1188.0 1531.2,1189.0 1531.6,1190.1 1532.0,1191.0 1532.4,1191.7 1532.8,1192.2 1533.2,1192.5 1533.6,1192.6 1534.0,1192.7 1534.4,1192.8 1534.8,1192.9 1535.2,1193.3 1535.6,1193.9 1536.0,1194.6 1536.4,1195.5 1536.8,1196.5 1537.2,1197.5 1537.6,1198.4 1538.0,1199.2 1538.4,1200.0 1538.8,1200.6 1539.2,1201.2 1539.6,1201.7 1540.0,1202.2 1540.4,1202.5 1540.8,1202.8 1541.2,1203.1 1541.6,1203.3 1542.0,1203.5 1542.4,1203.7 1542.8,1203.8 1543.2,1203.9 1543.6,1204.1 1544.0,1204.2 1544.4,1204.2 1544.8,1204.3 1545.2,1204.4 1545.6,1204.5 1546.0,1204.5 1546.4,1204.6 1546.8,1204.6 1547.2,1204.7 1547.6,1204.7 1548.0,1204.7 1548.4,1204.8 1548.8,1204.8 1549.2,1204.8 1549.6,1204.9 1550.0,1204.9 1550.4,1204.9 1550.8,1204.9 1551.2,1205.0 1551.6,1205.0 1552.0,1205.0 1552.4,1205.0 1552.8,1205.0 1553.2,1205.0 1553.6,1205.1 1554.0,1205.1 1554.4,1205.1 1554.8,1205.1 1555.2,1205.1 1555.6,1205.1 1556.0,1205.1 1556.4,1205.1 1556.8,1205.2 1557.2,1205.2 1557.6,1205.2 1558.0,1205.2 1558.4,1205.2 1558.8,1205.2 1559.2,1205.2 1559.6,1205.2 1562.6,1205.3 1565.6,1205.3 1568.6,1205.3 1571.6,1205.3 1574.6,1205.3 1577.6,1205.3 1580.6,1205.3 1583.6,1205.3 1586.6,1205.3 1589.6,1205.3 1592.6,1205.3 1595.6,1205.3 1598.6,1205.3 1601.6,1205.3 1602.4,1205.3 1603.2,1205.3 1604.0,1205.3 1604.8,1205.3 1605.6,1205.3 1606.4,1205.3 1607.2,1205.3 1608.0,1205.3 1608.8,1205.3 1609.6,1205.3 1610.4,1205.2 1611.2,1205.2 1612.0,1205.2 1612.8,1205.2 1613.6,1205.2 1614.4,1205.2 1615.2,1205.2 1616.0,1205.1 1616.8,1205.1 1617.6,1205.1 1618.4,1205.1 1619.2,1205.0 1620.0,1205.0 1620.8,1205.0 1621.6,1204.9 1622.4,1204.9 1623.2,1204.8 1624.0,1204.7 1624.8,1204.6 1625.6,1204.5 1626.4,1204.4 1627.2,1204.3 1628.0,1204.0 1628.8,1203.8 1629.6,1203.4 1630.4,1203.0 1631.2,1202.4 1632.0,1201.7 1632.8,1200.8 1633.6,1199.8 1634.4,1198.8 1635.2,1197.8 1636.0,1197.2 1636.8,1197.0 1637.6,1197.3 1638.4,1197.8 1639.2,1198.3 1640.0,1198.8 1640.8,1199.1 1641.6,1199.3 1642.4,1199.6 1643.2,1200.1 1644.0,1200.7 1644.8,1201.4 1645.6,1202.0 1646.4,1202.6 1647.2,1203.1 1648.0,1203.5 1648.8,1203.8 1649.6,1204.1 1650.4,1204.3 1651.2,1204.5 1652.0,1204.6 1652.8,1204.7 1653.6,1204.8 1654.4,1204.8 1655.2,1204.9 1656.0,1204.9 1656.8,1205.0 1657.6,1205.0 1658.4,1205.0 1659.2,1205.1 1660.0,1205.1 1660.8,1205.1 1661.6,1205.1 1662.4,1205.2 1663.2,1205.2 1664.0,1205.2 1664.8,1205.2 1665.6,1205.2 1666.4,1205.2 1667.2,1205.2 1668.0,1205.2 1668.8,1205.3 1669.6,1205.3 1670.4,1205.3 1671.2,1205.3 1672.0,1205.3 1672.8,1205.3 1673.6,1205.3 1674.4,1205.3 1675.2,1205.3 1678.2,1205.3 1681.2,1205.3 1684.2,1205.3 1687.2,1205.3 1690.2,1205.4 1693.2,1205.4 1696.2,1205.4 1699.2,1205.4 1702.2,1205.4 1705.2,1205.4 1708.2,1205.4 1711.2,1205.4 1714.2,1205.4 1717.2,1205.4 1720.2,1205.4 1723.2,1205.4 1726.2,1205.4 1729.2,1205.4 1732.2,1205.4 1735.2,1205.4 1738.2,1205.4 1741.2,1205.4 1744.2,1205.4 1747.2,1205.4 1750.2,1205.4 1753.2,1205.4 1756.2,1205.4 1759.2,1205.4 1762.2,1205.4 1765.2,1205.4 1768.2,1205.4 1771.2,1205.4 1774.2,1205.4 1777.2,1205.4 1780.2,1205.4 1783.2,1205.4 1786.2,1205.4 1789.2,1205.4 1792.2,1205.4 1795.2,1205.4 1798.2,1205.4 1801.2,1205.3 1804.2,1205.3 1807.2,1205.3 1810.2,1205.3 1813.2,1205.3 1816.2,1205.3 1819.2,1205.3 1822.2,1205.3 1825.2,1205.3 1828.2,1205.3 1831.2,1205.3 1834.2,1205.3 1837.2,1205.3 1840.2,1205.3 1843.2,1205.3 1846.2,1205.3 1849.2,1205.3 1852.2,1205.3 1855.2,1205.3 1858.2,1205.3 1861.2,1205.3 1864.2,1205.3 1867.2,1205.3 1870.2,1205.3 1873.2,1205.3 1876.2,1205.3 1879.2,1205.3 1882.2,1205.3 1885.2,1205.3 1888.2,1205.3 1891.2,1205.3 1894.2,1205.3 1897.2,1205.3 1900.2,1205.3 1903.2,1205.3 1906.2,1205.3 1909.2,1205.3" fill="none" stroke="#ff0000" stroke-width="6.4" stroke-linejoin="round" stroke-linecap="butt"/>
<path d="M120.0,1218.9 120.7,1218.9 121.4,1218.7 122.1,1218.8 122.8,1218.9 123.5,1218.7 124.2,1218.7 124.9,1218.5 125.6,1218.9 126.3,1218.8 127.0,1218.7 127.7,1218.8 128.4,1218.7 129.1,1218.9 129.8,1218.9 130.5,1219.0 131.2,1218.4 131.9,1217.3 132.6,1217.3 133.3,1218.7 134.0,1218.4 134.7,1218.9 135.4,1218.4 136.1,1218.5 136.8,1219.0 137.5,1218.9 138.2,1218.6 138.9,1218.8 139.6,1218.9 140.3,1218.7 141.0,1218.7 141.7,1218.8 142.4,1218.6 143.1,1218.6 143.8,1218.6 144.5,1219.0 145.2,1218.6 145.9,1218.5 146.6,1218.5 147.3,1218.6 148.0,1218.5 148.7,1218.7 149.4,1218.6 150.1,1218.7 150.8,1218.5 151.5,1218.2 152.2,1218.5 152.9,1218.4 153.6,1218.5 154.3,1217.2 155.0,1217.2 155.7,1218.4 156.4,1218.5 157.1,1218.4 157.8,1218.5 158.5,1218.4 159.2,1218.5 159.9,1218.2 160.6,1218.3 161.3,1218.1 162.0,1218.2 162.7,1219.6 163.4,1219.6 164.1,1219.6 164.8,1219.6 165.5,1218.1 166.2,1218.4 166.9,1217.1 167.6,1217.1 168.3,1217.1 169.0,1218.3 169.7,1218.3 170.4,1218.2 171.1,1219.5 171.8,1219.5 172.5,1219.5 173.2,1218.2 173.9,1217.9 174.6,1218.0 175.3,1218.2 176.0,1218.1 176.7,1218.3 177.4,1218.0 178.1,1218.3 178.8,1218.0 179.5,1218.0 180.2,1218.3 180.9,1218.3 181.6,1218.1 182.3,1218.1 183.0,1218.2 183.7,1217.0 184.4,1218.0 185.1,1217.9 185.8,1216.9 186.5,1217.9 187.2,1217.9 187.9,1218.3 188.6,1216.7 189.3,1216.7 190.0,1218.0 190.7,1218.0 191.4,1217.8 192.1,1218.1 192.8,1217.6 193.5,1217.8 194.2,1218.0 194.9,1218.0 195.6,1217.9 196.3,1217.9 197.0,1217.9 197.7,1217.8 198.4,1216.9 199.1,1216.9 199.8,1216.8 200.5,1216.8 201.2,1217.9 201.9,1217.8 202.6,1217.9 203.3,1218.0 204.0,1217.8 204.7,1217.7 205.4,1217.8 206.1,1218.3 206.8,1218.0 207.5,1217.8 208.2,1218.0 208.9,1218.4 209.6,1217.7 210.3,1217.8 211.0,1217.8 211.7,1218.0 212.4,1217.8 213.1,1217.7 213.8,1217.5 214.5,1217.8 215.2,1218.9 215.9,1218.9 216.6,1217.8 217.3,1218.0 218.0,1217.6 218.7,1217.9 219.4,1217.6 220.1,1217.7 220.8,1217.6 221.5,1217.6 222.2,1217.9 222.9,1217.7 223.6,1217.7 224.3,1217.3 225.0,1217.2 225.7,1217.3 226.4,1217.5 227.1,1217.6 227.8,1217.4 228.5,1217.5 229.2,1217.7 229.9,1217.7 230.6,1217.7 231.3,1217.5 232.0,1217.9 232.7,1217.3 233.4,1217.3 234.1,1217.6 234.8,1217.7 235.5,1217.4 236.2,1217.3 236.9,1217.5 237.6,1217.3 238.3,1218.4 239.0,1217.5 239.7,1216.0 240.4,1216.0 241.1,1216.0 241.8,1216.0 242.5,1217.3 243.2,1217.4 243.9,1217.3 244.6,1217.1 245.3,1217.0 246.0,1217.1 246.7,1217.2 247.4,1217.7 248.1,1217.2 248.8,1217.6 249.5,1217.1 250.2,1216.9 250.9,1217.0 251.6,1217.4 252.3,1217.0 253.0,1217.0 253.7,1217.3 254.4,1217.2 255.1,1217.0 255.8,1217.6 256.5,1217.3 257.2,1217.0 257.9,1217.2 258.6,1217.3 259.3,1218.4 260.0,1218.4 260.7,1218.4 261.4,1218.4 262.1,1217.2 262.8,1216.1 263.5,1216.1 264.2,1216.1 264.9,1216.0 265.6,1217.2 266.3,1217.0 267.0,1216.9 267.7,1217.2 268.4,1217.1 269.1,1218.5 269.8,1216.9 270.5,1217.1 271.2,1216.9 271.9,1217.1 272.6,1216.6 273.3,1217.3 274.0,1217.1 274.7,1217.1 275.4,1216.8 276.1,1218.5 276.8,1218.5 277.5,1218.5 278.2,1218.5 278.9,1217.0 279.6,1215.9 280.3,1215.9 281.0,1215.9 281.7,1215.9 282.4,1217.1 283.1,1216.6 283.8,1216.8 284.5,1217.0 285.2,1216.8 285.9,1217.1 286.6,1217.1 287.3,1216.7 288.0,1218.1 288.7,1218.1 289.4,1218.1 290.1,1218.1 290.8,1217.0 291.5,1217.0 292.2,1216.9 292.9,1216.8 293.6,1216.7 294.3,1216.5 295.0,1216.8 295.7,1216.7 296.4,1216.9 297.1,1216.5 297.8,1216.8 298.5,1216.5 299.2,1216.7 299.9,1216.6 300.6,1216.8 301.3,1216.6 302.0,1216.8 302.7,1216.6 303.4,1216.7 304.1,1216.6 304.8,1217.0 305.5,1216.6 306.2,1216.6 306.9,1216.7 307.6,1216.6 308.3,1216.6 309.0,1216.3 309.7,1216.7 310.4,1216.8 311.1,1216.8 311.8,1216.6 312.5,1216.5 313.2,1216.6 313.9,1216.5 314.6,1216.7 315.3,1216.0 316.0,1216.6 316.7,1216.7 317.4,1216.4 318.1,1216.3 318.8,1216.6 319.5,1216.7 320.2,1216.4 320.9,1216.4 321.6,1216.4 322.3,1216.4 323.0,1216.6 323.7,1216.3 324.4,1216.3 325.1,1216.4 325.8,1216.5 326.5,1215.3 327.2,1215.3 327.9,1215.3 328.6,1215.3 329.3,1216.7 330.0,1216.2 330.7,1215.1 331.4,1215.1 332.1,1215.0 332.8,1216.4 333.5,1216.1 334.2,1216.3 334.9,1216.4 335.6,1216.3 336.3,1216.0 337.0,1216.3 337.7,1216.2 338.4,1216.0 339.1,1216.2 339.8,1216.2 340.5,1216.0 341.2,1216.1 341.9,1216.0 342.6,1215.9 343.3,1217.6 344.0,1217.5 344.7,1217.5 345.4,1217.5 346.1,1215.9 346.8,1215.8 347.5,1215.9 348.2,1216.1 348.9,1215.8 349.6,1216.3 350.3,1216.0 351.0,1215.7 351.7,1216.0 352.4,1216.0 353.1,1214.7 353.8,1216.1 354.5,1215.6 355.2,1217.2 355.9,1217.2 356.6,1217.1 357.3,1217.1 358.0,1216.0 358.7,1215.9 359.4,1215.8 360.1,1215.9 360.8,1215.6 361.5,1215.8 362.2,1215.7 362.9,1215.8 363.6,1215.9 364.3,1215.6 365.0,1215.7 365.7,1215.9 366.4,1215.6 367.1,1215.8 367.8,1215.8 368.5,1215.6 369.2,1215.6 369.9,1215.5 370.6,1215.6 371.3,1215.8 372.0,1215.5 372.7,1215.6 373.4,1215.5 374.1,1215.6 374.8,1215.5 375.5,1215.3 376.2,1215.4 376.9,1215.5 377.6,1215.5 378.3,1215.3 379.0,1215.5 379.7,1215.4 380.4,1215.4 381.1,1214.9 381.8,1215.5 382.5,1215.5 383.2,1215.5 383.9,1215.4 384.6,1215.3 385.3,1215.6 386.0,1215.1 386.7,1216.6 387.4,1216.6 388.1,1216.6 388.8,1216.5 389.5,1215.1 390.2,1215.1 390.9,1215.0 391.6,1215.2 392.3,1214.9 393.0,1214.7 393.7,1213.8 394.4,1215.5 395.1,1214.9 395.8,1215.1 396.5,1215.2 397.2,1215.5 397.9,1214.9 398.6,1215.3 399.3,1215.0 400.0,1214.9 400.7,1214.7 401.4,1214.7 402.1,1215.1 402.8,1215.3 403.5,1215.1 404.2,1214.9 404.9,1215.0 405.6,1215.0 406.3,1214.5 407.0,1214.6 407.7,1214.6 408.4,1215.0 409.1,1214.8 409.8,1214.5 410.5,1214.5 411.2,1214.4 411.9,1214.8 412.6,1215.1 413.3,1214.6 414.0,1215.0 414.7,1214.3 415.4,1214.7 416.1,1214.6 416.8,1214.5 417.5,1215.0 418.2,1214.9 418.9,1214.3 419.6,1216.0 420.3,1216.0 421.0,1216.0 421.7,1215.9 422.4,1214.5 423.1,1214.5 423.8,1214.6 424.5,1214.8 425.2,1214.7 425.9,1213.2 426.6,1213.2 427.3,1214.6 428.0,1213.0 428.7,1212.9 429.4,1214.3 430.1,1214.5 430.8,1214.4 431.5,1214.3 432.2,1214.3 432.9,1214.1 433.6,1214.1 434.3,1214.3 435.0,1214.1 435.7,1213.9 436.4,1214.6 437.1,1214.4 437.8,1214.2 438.5,1214.5 439.2,1214.5 439.9,1214.1 440.6,1214.2 441.3,1214.2 442.0,1213.9 442.7,1213.9 443.4,1215.3 444.1,1215.3 444.8,1215.3 445.5,1215.3 446.2,1214.3 446.9,1214.2 447.6,1213.8 448.3,1214.1 449.0,1214.2 449.7,1214.0 450.4,1213.9 451.1,1214.0 451.8,1213.9 452.5,1213.5 453.2,1214.0 453.9,1214.1 454.6,1213.8 455.3,1213.9 456.0,1214.1 456.7,1213.9 457.4,1213.9 458.1,1213.8 458.8,1214.0 459.5,1213.6 460.2,1213.9 460.9,1213.6 461.6,1213.8 462.3,1213.7 463.0,1213.8 463.7,1213.8 464.4,1213.5 465.1,1213.8 465.8,1213.6 466.5,1213.8 467.2,1213.6 467.9,1213.5 468.6,1213.6 469.3,1213.7 470.0,1213.7 470.7,1212.2 471.4,1212.1 472.1,1213.8 472.8,1213.4 473.5,1213.5 474.2,1213.8 474.9,1213.3 475.6,1213.3 476.3,1213.6 477.0,1213.2 477.7,1213.5 478.4,1213.5 479.1,1213.2 479.8,1213.2 480.5,1213.6 481.2,1213.3 481.9,1213.1 482.6,1213.4 483.3,1213.2 484.0,1213.4 484.7,1213.2 485.4,1213.4 486.1,1213.4 486.8,1212.1 487.5,1213.2 488.2,1213.2 488.9,1213.3 489.6,1213.2 490.3,1213.4 491.0,1214.2 491.7,1214.2 492.4,1213.1 493.1,1212.8 493.8,1213.2 494.5,1213.4 495.2,1213.3 495.9,1213.2 496.6,1213.0 497.3,1211.7 498.0,1211.7 498.7,1213.1 499.4,1213.3 500.1,1212.7 500.8,1212.8 501.5,1212.9 502.2,1212.9 502.9,1212.8 503.6,1212.7 504.3,1212.8 505.0,1213.0 505.7,1213.1 506.4,1212.9 507.1,1212.7 507.8,1212.5 508.5,1212.9 509.2,1212.8 509.9,1212.7 510.6,1212.6 511.3,1212.9 512.0,1212.6 512.7,1212.8 513.4,1212.6 514.1,1212.6 514.8,1212.6 515.5,1212.6 516.2,1212.4 516.9,1212.6 517.6,1212.2 518.3,1212.4 519.0,1212.0 519.7,1212.5 520.4,1212.0 521.1,1212.2 521.8,1212.5 522.5,1212.5 523.2,1212.0 523.9,1212.2 524.6,1212.0 525.3,1212.4 526.0,1210.6 526.7,1210.6 527.4,1210.6 528.1,1210.6 528.8,1212.1 529.5,1212.1 530.2,1212.3 530.9,1211.9 531.6,1211.9 532.3,1211.8 533.0,1211.7 533.7,1212.8 534.4,1212.7 535.1,1212.7 535.8,1211.5 536.5,1211.8 537.2,1211.9 537.9,1211.3 538.6,1211.7 539.3,1211.6 540.0,1211.4 540.7,1211.3 541.4,1211.4 542.1,1211.6 542.8,1211.3 543.5,1211.4 544.2,1211.6 544.9,1211.5 545.6,1211.4 546.3,1211.2 547.0,1211.4 547.7,1211.4 548.4,1211.1 549.1,1211.3 549.8,1209.9 550.5,1209.9 551.2,1209.9 551.9,1210.9 552.6,1211.1 553.3,1209.8 554.0,1210.8 554.7,1210.9 555.4,1210.7 556.1,1210.7 556.8,1210.6 557.5,1210.6 558.2,1210.7 558.9,1210.7 559.6,1210.6 560.3,1210.3 561.0,1210.6 561.7,1210.4 562.4,1210.2 563.1,1210.5 563.8,1209.9 564.5,1210.2 565.2,1209.8 565.9,1210.2 566.6,1210.1 567.3,1209.7 568.0,1209.7 568.7,1209.7 569.4,1209.1 570.1,1209.4 570.8,1209.0 571.5,1209.4 572.2,1209.3 572.9,1208.8 573.6,1208.9 574.3,1208.7 575.0,1208.3 575.7,1208.4 576.4,1207.7 577.1,1207.7 577.8,1207.8 578.5,1207.3 579.2,1206.9 579.9,1205.3 580.6,1204.8 581.3,1204.4 582.0,1204.9 582.7,1204.3 583.0,1204.2 583.3,1203.9 583.6,1203.2 583.9,1204.3 584.2,1202.2 584.5,1202.2 584.8,1201.5 585.1,1201.1 585.4,1200.2 585.7,1200.2 586.0,1199.2 586.3,1198.1 586.6,1197.4 586.9,1197.9 587.2,1196.9 587.5,1195.7 587.8,1194.4 588.1,1191.3 588.4,1189.8 588.8,1188.5 589.1,1185.6 590.0,1183.3 590.6,1180.2 590.0,1177.4 590.0,1173.2 590.6,1168.7 590.2,1163.4 591.8,1156.6 591.2,1149.2 591.5,1139.0 592.2,1126.9 592.2,1112.4 593.0,1093.7 591.9,1070.1 593.8,1042.6 593.6,1010.6 593.8,977.0 594.4,944.9 594.2,922.5 594.7,914.2 594.5,920.6 594.8,937.2 596.2,954.3 595.5,968.4 595.9,978.7 596.2,986.9 596.4,998.8 596.1,1015.3 597.3,1036.9 597.2,1060.3 598.4,1082.4 598.3,1102.3 599.1,1118.7 599.2,1132.5 599.0,1143.4 599.0,1152.4 599.3,1160.1 600.2,1166.1 600.2,1170.0 600.9,1175.0 600.8,1178.9 602.3,1182.1 602.0,1184.6 601.5,1186.4 603.1,1188.8 602.5,1190.5 602.8,1191.9 603.1,1193.6 603.4,1194.7 603.7,1195.7 604.0,1196.9 604.3,1197.8 604.6,1198.1 604.9,1199.1 605.2,1200.9 605.5,1200.0 605.8,1200.8 606.1,1201.1 606.4,1200.7 606.7,1201.1 607.0,1201.5 607.3,1202.3 607.6,1203.3 608.3,1203.9 609.0,1204.3 609.7,1204.9 610.4,1205.3 611.1,1205.7 611.8,1205.9 612.5,1205.9 613.2,1206.1 613.9,1206.6 614.6,1206.5 615.3,1206.8 616.0,1207.1 616.7,1206.8 617.4,1206.8 618.1,1207.6 618.8,1207.6 619.5,1207.3 620.2,1207.8 620.9,1207.8 621.6,1207.5 622.3,1207.9 623.0,1207.4 623.7,1207.9 624.4,1207.6 625.1,1207.9 625.8,1207.9 626.5,1208.2 627.2,1208.0 627.9,1208.0 628.6,1208.1 629.3,1207.8 630.0,1207.9 630.7,1208.0 631.4,1208.2 632.1,1208.2 632.8,1208.0 633.5,1208.2 634.2,1208.1 634.9,1208.3 635.6,1208.0 636.3,1206.6 637.0,1206.6 637.7,1206.6 638.4,1207.6 639.1,1209.3 639.8,1209.3 640.5,1209.3 641.2,1209.3 641.9,1207.7 642.6,1207.0 643.3,1206.9 644.0,1206.9 644.7,1206.9 645.4,1208.1 646.1,1207.7 646.8,1207.7 647.5,1207.7 648.2,1207.8 648.9,1208.2 649.6,1207.9 650.3,1207.9 651.0,1207.7 651.7,1207.8 652.4,1207.4 653.1,1207.8 653.8,1207.7 654.5,1207.6 655.2,1207.7 655.9,1207.7 656.6,1207.7 657.3,1207.7 658.0,1207.4 658.7,1207.8 659.4,1207.3 660.1,1207.7 660.8,1207.6 661.5,1207.8 662.2,1207.7 662.9,1207.9 663.6,1207.7 664.3,1207.7 665.0,1207.5 665.7,1207.6 666.4,1207.3 667.1,1207.7 667.8,1207.4 668.5,1207.7 669.2,1207.7 669.9,1207.9 670.6,1207.8 671.3,1207.7 672.0,1207.9 672.7,1207.7 673.4,1207.9 674.1,1207.9 674.8,1207.9 675.5,1207.7 676.2,1207.8 676.9,1206.6 677.6,1206.6 678.3,1206.6 679.0,1207.8 679.7,1207.5 680.4,1207.4 681.1,1207.5 681.8,1207.6 682.5,1207.5 683.2,1207.4 683.9,1207.3 684.6,1207.4 685.3,1207.5 686.0,1207.7 686.7,1207.3 687.4,1207.5 688.1,1207.7 688.8,1207.4 689.5,1207.8 690.2,1207.7 690.9,1207.6 691.6,1207.4 692.3,1207.5 693.0,1207.5 693.7,1207.5 694.4,1207.6 695.1,1207.7 695.8,1207.4 696.5,1207.3 697.2,1207.3 697.9,1207.8 698.6,1207.6 699.3,1207.6 700.0,1207.5 700.7,1207.4 701.4,1207.5 702.1,1207.5 702.8,1207.1 703.5,1207.4 704.2,1207.5 704.9,1207.5 705.6,1207.1 706.3,1206.7 707.0,1207.3 707.7,1207.3 708.4,1207.2 709.1,1207.1 709.8,1207.6 710.5,1205.7 711.2,1207.3 711.9,1206.8 712.6,1207.4 713.3,1206.8 714.0,1207.2 714.7,1207.3 715.4,1206.9 716.1,1207.2 716.8,1206.7 717.5,1207.8 718.2,1207.8 718.9,1207.7 719.6,1206.5 720.3,1206.6 721.0,1206.4 721.7,1206.2 722.4,1206.2 722.7,1205.7 723.0,1206.1 723.3,1206.4 723.6,1205.9 723.9,1204.6 724.2,1204.5 724.5,1204.4 724.8,1204.4 725.1,1205.7 725.4,1205.9 725.7,1205.7 726.0,1205.2 726.3,1205.3 726.6,1204.9 726.9,1205.1 727.2,1205.0 727.5,1205.0 727.8,1204.3 728.1,1204.1 728.4,1204.2 728.7,1203.8 729.0,1203.4 729.3,1203.2 729.6,1202.1 729.9,1201.7 730.2,1202.0 730.5,1201.7 730.8,1201.0 731.1,1200.7 731.4,1199.7 731.7,1199.0 732.0,1197.8 732.3,1196.7 732.6,1195.0 732.1,1193.3 733.3,1190.7 732.9,1187.5 734.3,1184.3 734.5,1179.6 734.9,1175.8 734.0,1170.0 735.0,1162.7 735.1,1156.0 735.9,1149.3 735.6,1144.1 735.4,1141.0 736.5,1139.2 736.1,1140.9 737.1,1143.1 737.8,1146.0 737.9,1149.3 738.4,1151.8 737.3,1154.1 739.6,1156.3 738.7,1159.1 739.7,1162.2 740.5,1166.6 739.2,1170.9 741.0,1175.9 740.1,1179.7 741.4,1183.4 740.9,1187.2 740.3,1189.8 741.6,1192.1 741.7,1194.4 742.2,1196.2 742.5,1197.6 742.8,1198.4 743.1,1200.6 743.4,1201.4 743.7,1202.0 744.0,1201.5 744.3,1201.5 744.6,1202.7 744.9,1202.9 745.2,1203.3 745.5,1203.6 745.8,1202.7 746.1,1203.0 746.4,1204.2 746.7,1204.5 747.0,1204.2 747.3,1205.0 747.6,1204.9 747.9,1204.9 748.2,1205.1 748.5,1205.3 748.8,1205.4 749.1,1205.3 749.4,1205.5 749.7,1205.6 750.0,1205.9 750.3,1205.5 750.6,1205.9 750.9,1206.0 751.2,1206.1 751.9,1206.0 752.6,1206.1 753.3,1206.0 754.0,1206.1 754.7,1206.3 755.4,1206.6 756.1,1206.5 756.8,1206.8 757.5,1206.6 758.2,1206.9 758.9,1206.6 759.6,1206.7 760.3,1205.5 761.0,1205.5 761.7,1205.6 762.4,1206.8 763.1,1206.9 763.8,1206.7 764.5,1206.7 765.2,1207.1 765.9,1206.9 766.6,1206.4 767.3,1206.7 768.0,1206.8 768.7,1207.0 769.4,1207.0 770.1,1206.9 770.8,1206.7 771.5,1206.9 772.2,1206.9 772.9,1206.9 773.6,1206.7 774.3,1206.0 775.0,1206.0 775.7,1206.0 776.4,1206.0 777.1,1206.7 777.8,1206.8 778.5,1206.8 779.2,1207.2 779.9,1206.3 780.6,1207.0 781.3,1206.9 782.0,1206.8 782.7,1206.8 783.4,1207.2 784.1,1207.2 784.8,1206.5 785.5,1207.0 786.2,1206.9 786.9,1206.5 787.6,1207.1 788.3,1206.6 789.0,1207.1 789.7,1207.0 790.4,1206.5 791.1,1207.3 791.8,1206.9 792.5,1206.5 793.2,1206.7 793.9,1206.8 794.6,1206.5 795.3,1206.7 796.0,1206.9 796.7,1206.9 797.4,1206.8 798.1,1205.9 798.8,1205.8 799.5,1205.8 800.2,1206.6 800.9,1206.5 801.6,1207.4 802.3,1206.8 803.0,1206.7 803.7,1206.5 804.4,1206.8 805.1,1206.9 805.8,1206.5 806.5,1207.0 807.2,1206.7 807.9,1206.8 808.6,1207.0 809.3,1206.7 810.0,1206.8 810.7,1207.1 811.4,1207.2 812.1,1206.9 812.8,1206.5 813.5,1207.0 814.2,1206.8 814.9,1206.7 815.6,1206.7 816.3,1206.7 817.0,1206.8 817.7,1207.0 818.4,1206.9 819.1,1206.8 819.8,1206.8 820.5,1206.7 821.2,1207.0 821.9,1206.7 822.6,1207.0 823.3,1206.8 824.0,1207.2 824.7,1206.7 825.4,1206.5 826.1,1206.7 826.8,1206.7 827.5,1206.6 828.2,1207.0 828.9,1206.9 829.6,1207.1 830.3,1206.6 831.0,1206.7 831.7,1206.2 832.4,1205.5 833.1,1205.5 833.8,1206.8 834.5,1206.8 835.2,1206.3 835.9,1207.0 836.6,1206.7 837.3,1206.9 838.0,1206.5 838.7,1206.7 839.4,1206.9 840.1,1206.6 840.8,1205.4 841.5,1207.3 842.2,1206.9 842.9,1206.8 843.6,1206.9 844.3,1206.6 845.0,1206.6 845.7,1206.5 846.4,1206.7 847.1,1206.7 847.8,1207.7 848.5,1207.7 849.2,1207.7 849.9,1207.7 850.6,1207.0 851.3,1206.8 852.0,1206.5 852.7,1206.9 853.4,1206.6 854.1,1206.9 854.8,1206.8 855.5,1206.8 856.2,1206.7 856.9,1206.7 857.6,1206.9 858.3,1206.7 859.0,1206.6 859.7,1206.7 860.4,1206.7 861.1,1206.6 861.8,1206.7 862.5,1206.5 863.2,1206.8 863.9,1206.8 864.6,1206.6 865.3,1206.6 866.0,1206.7 866.7,1206.8 867.4,1206.6 868.1,1206.7 868.8,1206.5 869.5,1206.8 870.2,1206.9 870.9,1206.8 871.6,1206.7 872.3,1206.7 873.0,1206.6 873.7,1206.8 874.4,1206.7 875.1,1206.8 875.8,1207.2 876.5,1206.6 877.2,1206.7 877.9,1206.7 878.6,1206.9 879.3,1206.5 880.0,1206.6 880.7,1206.8 881.4,1207.0 882.1,1207.0 882.8,1206.6 883.5,1206.9 884.2,1206.8 884.9,1207.0 885.6,1206.9 886.3,1206.8 887.0,1206.7 887.7,1206.8 888.4,1206.7 889.1,1207.9 889.8,1206.9 890.5,1206.5 891.2,1207.1 891.9,1205.4 892.6,1207.1 893.3,1206.8 894.0,1206.7 894.7,1205.7 895.4,1205.7 896.1,1206.3 896.8,1206.5 897.5,1206.7 898.2,1206.8 898.9,1206.7 899.6,1206.8 900.3,1206.8 901.0,1206.8 901.7,1206.7 902.4,1206.9 903.1,1206.9 903.8,1206.9 904.5,1206.7 905.2,1206.8 905.9,1206.8 906.6,1206.8 907.3,1206.7 908.0,1206.5 908.7,1206.6 909.4,1207.8 910.1,1206.5 910.8,1206.3 911.5,1206.4 912.2,1206.9 912.9,1206.7 913.6,1205.4 914.3,1205.4 915.0,1205.4 915.7,1205.4 916.4,1206.6 917.1,1205.5 917.8,1205.5 918.5,1206.9 919.2,1207.8 919.9,1207.8 920.6,1207.8 921.3,1206.5 922.0,1206.4 922.7,1206.8 923.4,1206.9 924.1,1206.5 924.8,1206.7 925.5,1206.7 926.2,1206.7 926.9,1206.5 927.6,1206.3 928.3,1206.7 929.0,1206.3 929.7,1206.6 930.4,1206.7 931.1,1206.5 931.8,1206.3 932.5,1206.6 933.2,1206.6 933.9,1206.6 934.6,1206.2 935.3,1206.5 936.0,1205.2 936.7,1205.2 937.4,1206.8 938.1,1206.8 938.8,1206.5 939.5,1206.5 940.2,1206.6 940.9,1206.5 941.6,1207.8 942.3,1206.7 943.0,1206.5 943.7,1206.5 944.4,1206.6 945.1,1206.5 945.8,1206.6 946.5,1206.2 947.2,1205.2 947.9,1205.2 948.6,1205.2 949.3,1206.6 950.0,1206.6 950.7,1206.5 951.4,1206.9 952.1,1206.6 952.8,1206.8 953.5,1206.5 954.2,1206.8 954.9,1207.5 955.6,1207.5 956.3,1206.7 957.0,1206.7 957.7,1206.7 958.4,1206.1 959.1,1206.6 959.8,1206.9 960.5,1206.4 961.2,1206.6 961.9,1206.7 962.6,1206.4 963.3,1206.5 964.0,1206.6 964.7,1206.5 965.4,1206.5 966.1,1206.5 966.8,1206.5 967.5,1206.3 968.2,1206.6 968.9,1206.5 969.6,1206.5 970.3,1206.4 971.0,1206.5 971.7,1206.5 972.4,1206.4 973.1,1206.5 973.8,1206.7 974.5,1206.4 975.2,1206.5 975.9,1208.0 976.6,1206.8 977.3,1206.3 978.0,1206.5 978.7,1206.4 979.4,1206.5 980.1,1206.5 980.8,1206.6 981.5,1206.7 982.2,1206.6 982.9,1206.9 983.6,1206.4 984.3,1206.6 985.0,1206.7 985.7,1206.3 986.4,1206.5 987.1,1206.6 987.8,1206.7 988.5,1206.4 989.2,1206.4 989.9,1206.5 990.6,1206.7 991.3,1205.1 992.0,1205.1 992.7,1205.1 993.4,1207.6 994.1,1207.6 994.8,1207.6 995.5,1207.6 996.2,1206.4 996.9,1206.6 997.6,1206.5 998.3,1205.5 999.0,1205.5 999.7,1205.5 1000.4,1206.4 1001.1,1206.3 1001.8,1206.2 1002.5,1206.7 1003.2,1206.2 1003.9,1205.2 1004.6,1206.6 1005.3,1206.6 1006.0,1206.6 1006.7,1206.6 1007.4,1205.2 1008.1,1206.5 1008.8,1206.3 1009.5,1206.5 1010.2,1205.2 1010.9,1205.2 1011.6,1205.2 1012.3,1205.2 1013.0,1206.2 1013.7,1206.3 1014.4,1206.2 1015.1,1206.5 1015.8,1206.4 1016.5,1206.1 1017.2,1206.2 1017.9,1206.3 1018.6,1206.7 1019.3,1206.7 1020.0,1206.7 1020.7,1206.4 1021.4,1206.5 1022.1,1206.3 1022.8,1206.5 1023.5,1206.4 1024.2,1206.4 1024.9,1206.8 1025.6,1206.5 1026.3,1206.4 1027.0,1206.6 1027.7,1206.7 1028.4,1206.4 1029.1,1206.5 1029.8,1206.1 1030.5,1206.6 1031.2,1206.6 1031.9,1206.2 1032.6,1206.3 1033.3,1206.4 1034.0,1206.4 1034.7,1206.6 1035.4,1206.5 1036.1,1206.4 1036.8,1206.2 1037.5,1206.4 1038.2,1206.3 1038.9,1206.6 1039.6,1206.4 1040.3,1206.5 1041.0,1206.3 1041.7,1206.5 1042.4,1206.4 1043.1,1206.3 1043.8,1206.4 1044.5,1206.2 1045.2,1206.5 1045.9,1206.5 1046.6,1206.6 1047.3,1206.8 1048.0,1206.5 1048.7,1206.4 1049.4,1205.3 1050.1,1205.3 1050.8,1205.3 1051.5,1205.3 1052.2,1206.4 1052.9,1206.2 1053.6,1206.4 1054.3,1206.2 1055.0,1206.6 1055.7,1206.1 1056.4,1206.1 1057.1,1206.4 1057.8,1206.2 1058.5,1206.2 1059.2,1206.5 1059.9,1206.7 1060.6,1206.1 1061.3,1206.4 1062.0,1206.4 1062.7,1206.5 1063.4,1206.6 1064.1,1206.3 1064.8,1206.4 1065.5,1206.7 1066.2,1206.4 1066.9,1206.3 1067.6,1206.5 1068.3,1206.6 1069.0,1206.3 1069.7,1207.6 1070.4,1207.6 1071.1,1207.6 1071.8,1206.2 1072.5,1206.2 1073.2,1206.5 1073.9,1205.8 1074.6,1206.7 1075.3,1206.5 1076.0,1206.4 1076.7,1206.3 1077.4,1206.4 1078.1,1206.4 1078.8,1206.2 1079.5,1206.2 1080.2,1207.4 1080.9,1207.4 1081.6,1207.4 1082.3,1205.4 1083.0,1206.5 1083.7,1206.3 1084.4,1206.3 1085.1,1206.2 1085.8,1206.1 1086.5,1206.2 1087.2,1206.4 1087.9,1206.3 1088.6,1206.2 1089.3,1206.5 1090.0,1206.0 1090.7,1206.2 1091.4,1206.6 1092.1,1206.3 1092.8,1206.4 1093.5,1206.3 1094.2,1206.3 1094.9,1206.3 1095.6,1206.4 1096.3,1206.6 1097.0,1206.4 1097.7,1206.4 1098.4,1205.9 1099.1,1206.4 1099.8,1206.6 1100.5,1204.9 1101.2,1204.9 1101.9,1206.5 1102.6,1206.0 1103.3,1206.2 1104.0,1206.1 1104.7,1206.2 1105.4,1206.2 1106.1,1206.0 1106.8,1206.0 1107.5,1206.3 1108.2,1206.5 1108.9,1205.3 1109.6,1205.3 1110.3,1205.3 1111.0,1206.4 1111.7,1206.3 1112.4,1206.2 1113.1,1206.6 1113.8,1206.5 1114.5,1206.3 1115.2,1206.4 1115.9,1206.1 1116.6,1205.9 1117.3,1206.0 1118.0,1205.3 1118.7,1205.3 1119.4,1205.3 1120.1,1205.3 1120.8,1206.4 1121.5,1206.5 1122.2,1206.2 1122.9,1206.1 1123.6,1206.2 1124.3,1207.6 1125.0,1207.6 1125.7,1207.6 1126.4,1207.6 1127.1,1206.2 1127.8,1206.2 1128.5,1206.4 1129.2,1206.3 1129.9,1206.4 1130.6,1205.1 1131.3,1205.1 1132.0,1205.1 1132.7,1205.1 1133.4,1206.2 1134.1,1206.1 1134.8,1206.2 1135.5,1206.0 1136.2,1206.3 1136.9,1206.2 1137.6,1206.0 1138.3,1206.2 1139.0,1206.2 1139.7,1206.0 1140.4,1205.1 1141.1,1206.4 1141.8,1206.4 1142.5,1206.3 1143.2,1207.5 1143.9,1207.5 1144.6,1206.2 1145.3,1206.2 1146.0,1206.1 1146.7,1206.1 1147.4,1206.2 1148.1,1206.5 1148.8,1206.0 1149.5,1206.2 1150.2,1206.3 1150.9,1206.2 1151.6,1205.9 1152.3,1206.4 1153.0,1206.4 1153.7,1206.0 1154.4,1206.0 1155.1,1206.1 1155.8,1204.8 1156.5,1204.8 1157.2,1204.8 1157.9,1206.3 1158.6,1206.0 1159.3,1206.4 1160.0,1206.4 1160.7,1206.2 1161.4,1206.0 1162.1,1206.1 1162.8,1206.2 1163.5,1206.1 1164.2,1206.1 1164.9,1206.0 1165.6,1205.8 1166.3,1206.1 1167.0,1206.4 1167.7,1206.2 1168.4,1205.9 1169.1,1206.1 1169.8,1205.9 1170.5,1206.0 1171.2,1206.1 1171.9,1206.1 1172.6,1206.2 1173.3,1206.5 1174.0,1206.0 1174.7,1206.0 1175.4,1206.0 1176.1,1206.1 1176.8,1205.8 1177.5,1205.9 1178.2,1206.2 1178.9,1205.9 1179.6,1206.1 1180.3,1206.1 1181.0,1205.7 1181.7,1205.8 1182.4,1206.5 1183.1,1206.0 1183.8,1206.1 1184.5,1206.0 1185.2,1206.3 1185.9,1206.1 1186.6,1206.2 1187.3,1205.9 1188.0,1205.9 1188.7,1206.3 1189.4,1207.0 1190.1,1207.0 1190.8,1205.8 1191.5,1205.7 1192.2,1205.7 1192.9,1205.7 1193.6,1205.8 1194.3,1206.0 1195.0,1205.9 1195.7,1205.5 1196.4,1205.9 1197.1,1205.5 1197.8,1205.6 1198.1,1205.6 1198.4,1205.7 1198.7,1204.2 1199.0,1205.6 1199.3,1205.3 1199.6,1205.6 1199.9,1205.3 1200.2,1205.5 1200.5,1205.6 1200.8,1205.5 1201.1,1205.1 1201.4,1205.2 1201.7,1205.4 1202.0,1205.2 1202.3,1205.5 1202.6,1206.3 1202.9,1206.3 1203.2,1206.2 1203.5,1205.0 1203.8,1204.8 1204.1,1205.2 1204.4,1205.1 1204.7,1204.6 1205.0,1204.8 1205.3,1204.8 1205.6,1204.5 1205.9,1204.0 1206.2,1205.1 1206.5,1205.0 1206.8,1203.9 1207.1,1203.6 1207.4,1203.1 1207.7,1202.5 1208.0,1202.1 1208.3,1201.7 1208.6,1201.2 1208.9,1200.5 1209.2,1199.6 1209.5,1198.3 1209.8,1196.9 1210.1,1195.2 1209.6,1194.4 1210.0,1192.4 1210.6,1189.3 1210.7,1187.6 1211.6,1185.8 1211.9,1184.2 1212.2,1184.0 1212.5,1184.3 1212.8,1185.6 1213.1,1187.0 1213.4,1188.3 1213.7,1190.0 1214.0,1191.1 1214.3,1192.2 1214.6,1192.6 1214.9,1194.3 1215.2,1194.4 1215.5,1192.8 1215.8,1192.7 1216.1,1192.5 1216.4,1192.8 1216.7,1192.9 1217.0,1194.2 1217.3,1194.9 1217.6,1195.4 1217.9,1196.5 1218.2,1197.6 1218.5,1198.6 1218.8,1200.6 1219.1,1201.0 1219.4,1201.9 1219.7,1202.3 1220.0,1201.6 1220.3,1201.9 1220.6,1202.2 1220.9,1203.5 1221.2,1204.2 1221.5,1204.2 1221.8,1204.2 1222.1,1204.6 1222.4,1204.4 1222.7,1204.6 1223.0,1205.0 1223.3,1204.9 1223.6,1205.0 1223.9,1205.2 1224.2,1205.3 1224.5,1205.3 1224.8,1205.2 1225.1,1205.3 1225.4,1205.6 1225.7,1206.4 1226.0,1205.9 1226.3,1205.5 1226.6,1205.4 1226.9,1205.4 1227.2,1205.3 1227.9,1205.6 1228.6,1205.4 1229.3,1205.6 1230.0,1205.4 1230.7,1205.9 1231.4,1206.0 1232.1,1205.7 1232.8,1206.0 1233.5,1205.5 1234.2,1206.0 1234.9,1205.7 1235.6,1205.3 1236.3,1205.7 1237.0,1206.1 1237.7,1206.7 1238.4,1206.7 1239.1,1206.8 1239.8,1206.8 1240.5,1205.9 1241.2,1205.6 1241.9,1206.2 1242.6,1206.1 1243.3,1205.6 1244.0,1205.8 1244.7,1205.6 1245.4,1205.9 1246.1,1205.9 1246.8,1205.7 1247.5,1206.2 1248.2,1205.6 1248.9,1205.8 1249.6,1206.1 1250.3,1206.8 1251.0,1206.8 1251.7,1206.8 1252.4,1205.3 1253.1,1205.6 1253.8,1205.9 1254.5,1205.7 1255.2,1206.1 1255.9,1205.7 1256.6,1205.7 1257.3,1205.9 1258.0,1206.2 1258.7,1205.9 1259.4,1206.0 1260.1,1206.2 1260.8,1205.6 1261.5,1205.8 1262.2,1205.7 1262.9,1206.1 1263.6,1206.1 1264.3,1204.6 1265.0,1205.9 1265.7,1205.5 1266.4,1206.3 1267.1,1206.0 1267.8,1205.8 1268.5,1205.8 1269.2,1206.1 1269.9,1207.1 1270.6,1205.8 1271.3,1206.2 1272.0,1205.8 1272.7,1205.9 1273.4,1205.8 1274.1,1205.7 1274.8,1206.1 1275.5,1205.9 1276.2,1205.7 1276.9,1205.8 1277.6,1205.7 1278.3,1206.1 1279.0,1206.2 1279.7,1206.0 1280.4,1205.8 1281.1,1205.7 1281.8,1204.7 1282.5,1204.7 1283.2,1204.7 1283.9,1204.7 1284.6,1206.1 1285.3,1204.6 1286.0,1204.6 1286.7,1205.7 1287.4,1206.0 1288.1,1205.7 1288.8,1204.8 1289.5,1205.8 1290.2,1204.8 1290.9,1205.7 1291.6,1206.1 1292.3,1205.9 1293.0,1206.1 1293.7,1205.9 1294.4,1205.8 1295.1,1205.8 1295.8,1207.3 1296.5,1204.6 1297.2,1204.6 1297.9,1204.6 1298.6,1204.6 1299.3,1205.7 1300.0,1205.9 1300.7,1205.6 1301.4,1206.0 1302.1,1205.7 1302.8,1205.9 1303.5,1205.9 1304.2,1205.7 1304.9,1205.6 1305.6,1205.7 1306.3,1205.9 1307.0,1206.1 1307.7,1205.9 1308.4,1206.0 1309.1,1206.1 1309.8,1205.6 1310.5,1205.9 1311.2,1206.0 1311.9,1205.7 1312.6,1205.9 1313.3,1205.8 1314.0,1205.8 1314.7,1205.9 1315.4,1205.5 1316.1,1205.8 1316.8,1204.7 1317.5,1204.7 1318.2,1206.1 1318.9,1205.8 1319.6,1205.7 1320.3,1205.5 1321.0,1205.9 1321.7,1205.9 1322.4,1205.7 1323.1,1205.5 1323.8,1205.9 1324.5,1205.8 1325.2,1206.0 1325.9,1206.1 1326.6,1205.8 1327.3,1205.9 1328.0,1205.6 1328.7,1205.5 1329.4,1207.1 1330.1,1207.1 1330.8,1207.1 1331.5,1205.5 1332.2,1206.1 1332.9,1206.0 1333.6,1205.7 1334.3,1206.0 1335.0,1205.6 1335.7,1207.3 1336.4,1207.3 1337.1,1207.3 1337.8,1207.3 1338.5,1206.0 1339.2,1205.2 1339.9,1205.7 1340.6,1205.9 1341.3,1205.7 1342.0,1206.3 1342.7,1205.6 1343.4,1205.9 1344.1,1205.9 1344.8,1206.9 1345.5,1206.9 1346.2,1206.9 1346.9,1206.9 1347.6,1205.9 1348.3,1205.8 1349.0,1205.7 1349.7,1205.9 1350.4,1205.7 1351.1,1205.8 1351.8,1205.9 1352.5,1205.7 1353.2,1206.1 1353.9,1205.8 1354.6,1205.6 1355.3,1205.6 1356.0,1206.0 1356.7,1205.7 1357.4,1205.5 1358.1,1205.9 1358.8,1206.0 1359.5,1205.8 1360.2,1205.8 1360.9,1205.8 1361.6,1205.8 1362.3,1205.6 1363.0,1205.6 1363.7,1205.8 1364.4,1206.0 1365.1,1205.4 1365.8,1207.0 1366.5,1207.0 1367.2,1207.0 1367.9,1205.8 1368.6,1205.5 1369.3,1206.0 1370.0,1205.6 1370.7,1205.6 1371.4,1205.6 1372.1,1205.5 1372.8,1205.7 1373.5,1205.9 1374.2,1205.5 1374.9,1205.9 1375.6,1205.5 1376.3,1204.5 1377.0,1204.5 1377.7,1205.8 1378.4,1207.0 1379.1,1207.0 1379.8,1207.0 1380.5,1207.0 1381.2,1205.7 1381.9,1206.1 1382.6,1205.6 1383.3,1205.7 1384.0,1205.6 1384.7,1205.8 1385.4,1205.9 1386.1,1206.2 1386.8,1205.3 1387.5,1205.7 1388.2,1205.5 1388.9,1205.6 1389.6,1205.6 1390.3,1205.6 1391.0,1205.7 1391.7,1205.6 1392.4,1205.7 1393.1,1205.7 1393.8,1205.6 1394.5,1205.7 1395.2,1205.9 1395.9,1205.7 1396.6,1205.8 1397.3,1205.6 1398.0,1205.8 1398.7,1204.2 1399.4,1204.2 1400.1,1204.2 1400.8,1204.2 1401.5,1205.9 1402.2,1205.5 1402.9,1205.5 1403.6,1205.7 1404.3,1205.5 1405.0,1205.7 1405.7,1205.6 1406.4,1205.8 1407.1,1205.7 1407.8,1205.8 1408.5,1205.4 1409.2,1205.5 1409.9,1205.6 1410.6,1205.4 1411.3,1205.7 1412.0,1205.8 1412.7,1204.3 1413.4,1205.6 1414.1,1205.5 1414.8,1205.7 1415.5,1205.7 1416.2,1205.9 1416.9,1205.6 1417.6,1205.6 1418.3,1205.5 1419.0,1205.6 1419.7,1205.3 1420.4,1205.6 1421.1,1205.3 1421.8,1205.7 1422.5,1205.5 1423.2,1205.5 1423.9,1206.0 1424.6,1205.1 1425.3,1205.3 1426.0,1205.4 1426.7,1205.7 1427.4,1205.2 1428.1,1205.8 1428.8,1205.6 1429.5,1205.6 1430.2,1204.2 1430.9,1204.2 1431.6,1204.2 1432.3,1204.2 1433.0,1205.5 1433.7,1205.5 1434.4,1204.4 1435.1,1204.4 1435.8,1205.6 1436.5,1205.7 1437.2,1205.7 1437.9,1205.6 1438.6,1205.4 1439.3,1205.5 1440.0,1205.4 1440.7,1205.5 1441.4,1205.5 1442.1,1205.5 1442.8,1205.7 1443.5,1205.5 1444.2,1205.1 1444.9,1205.3 1445.6,1205.6 1446.3,1205.6 1447.0,1205.5 1447.7,1205.6 1448.4,1205.4 1449.1,1205.4 1449.8,1205.4 1450.5,1205.5 1451.2,1205.4 1451.9,1205.3 1452.6,1205.5 1453.3,1205.8 1454.0,1205.5 1454.7,1205.5 1455.4,1205.6 1456.1,1205.5 1456.8,1205.5 1457.5,1205.6 1458.2,1205.6 1458.9,1205.8 1459.6,1205.5 1460.3,1205.3 1461.0,1205.4 1461.7,1205.3 1462.4,1205.5 1463.1,1205.3 1463.8,1205.3 1464.5,1205.2 1465.2,1205.2 1465.9,1205.6 1466.6,1205.7 1467.3,1205.6 1468.0,1205.3 1468.7,1205.6 1469.4,1205.4 1470.1,1205.6 1470.8,1205.1 1471.5,1205.6 1472.2,1204.0 1472.9,1204.0 1473.6,1204.0 1474.3,1204.0 1475.0,1205.0 1475.7,1204.3 1476.4,1204.3 1477.1,1204.3 1477.8,1204.3 1478.5,1204.2 1479.2,1204.2 1479.9,1205.3 1480.6,1205.3 1481.3,1205.5 1482.0,1205.4 1482.7,1205.4 1483.4,1205.5 1484.1,1205.6 1484.8,1205.5 1485.5,1205.4 1486.2,1205.4 1486.9,1205.6 1487.6,1205.4 1488.3,1205.2 1489.0,1205.5 1489.7,1205.2 1490.4,1205.6 1491.1,1205.5 1491.8,1205.1 1492.5,1205.6 1493.2,1205.2 1493.9,1205.6 1494.6,1205.6 1495.3,1205.2 1496.0,1205.2 1496.7,1205.4 1497.4,1205.3 1498.1,1205.2 1498.8,1205.5 1499.5,1205.2 1500.2,1205.2 1500.9,1205.5 1501.6,1205.4 1502.3,1205.1 1503.0,1205.4 1503.7,1205.0 1504.4,1205.2 1505.1,1205.0 1505.8,1205.2 1506.5,1204.9 1507.2,1204.8 1507.9,1205.4 1508.6,1204.9 1508.9,1206.4 1509.2,1206.4 1509.5,1205.2 1509.8,1205.3 1510.1,1205.1 1510.4,1204.9 1510.7,1205.2 1511.0,1205.0 1511.3,1205.0 1511.6,1204.9 1511.9,1205.0 1512.2,1203.6 1512.5,1206.0 1512.8,1206.0 1513.1,1204.3 1513.4,1205.1 1513.7,1204.9 1514.0,1205.2 1514.3,1205.0 1514.6,1204.8 1514.9,1204.7 1515.2,1204.7 1515.5,1204.6 1515.8,1204.7 1516.1,1204.5 1516.4,1204.9 1516.7,1204.7 1517.0,1203.2 1517.3,1203.1 1517.6,1204.5 1517.9,1204.3 1518.2,1204.1 1518.5,1203.0 1518.8,1202.9 1519.1,1204.1 1519.4,1204.0 1519.7,1204.1 1520.0,1203.8 1520.3,1203.7 1520.6,1203.5 1520.9,1203.4 1521.2,1203.6 1521.5,1203.5 1521.8,1203.1 1522.1,1203.2 1522.4,1203.0 1522.7,1202.7 1523.0,1202.7 1523.3,1202.2 1523.6,1201.8 1523.9,1201.4 1524.2,1200.8 1524.5,1200.4 1524.8,1199.8 1525.1,1199.7 1525.4,1198.9 1525.7,1197.8 1526.0,1197.2 1526.3,1196.5 1526.6,1195.6 1526.9,1194.4 1527.2,1193.0 1527.5,1191.6 1527.8,1190.6 1528.1,1189.5 1528.4,1188.2 1528.7,1187.3 1529.0,1186.9 1529.3,1186.0 1529.6,1186.0 1529.9,1186.3 1530.2,1185.1 1530.5,1185.7 1530.8,1186.5 1531.1,1187.3 1531.4,1189.5 1531.7,1190.3 1532.0,1191.3 1532.3,1191.7 1532.6,1191.9 1532.9,1192.5 1533.2,1192.5 1533.5,1192.5 1533.8,1192.6 1534.1,1192.4 1534.4,1192.7 1534.7,1193.0 1535.0,1193.1 1535.3,1192.3 1535.6,1192.8 1535.9,1193.3 1536.2,1195.0 1536.5,1195.6 1536.8,1196.6 1537.1,1197.1 1537.4,1197.9 1537.7,1198.4 1538.0,1199.2 1538.3,1199.8 1538.6,1200.0 1538.9,1200.7 1539.2,1201.2 1539.5,1201.7 1539.8,1201.9 1540.1,1202.3 1540.4,1202.7 1540.7,1202.8 1541.0,1203.1 1541.3,1203.1 1541.6,1203.4 1541.9,1203.2 1542.2,1203.4 1542.5,1203.4 1542.8,1203.6 1543.1,1203.6 1543.4,1204.0 1543.7,1204.0 1544.0,1204.0 1544.3,1204.5 1544.6,1204.2 1544.9,1204.4 1545.2,1204.5 1545.5,1204.5 1545.8,1204.6 1546.1,1204.7 1546.4,1204.6 1546.7,1205.9 1547.0,1205.9 1547.3,1204.5 1547.6,1204.6 1547.9,1204.6 1548.2,1204.7 1548.5,1204.7 1548.8,1204.4 1549.1,1205.0 1549.4,1204.9 1549.7,1205.0 1550.0,1204.9 1550.3,1203.6 1550.6,1203.6 1551.3,1205.3 1552.0,1205.0 1552.7,1205.1 1553.4,1204.9 1554.1,1205.5 1554.8,1205.2 1555.5,1205.3 1556.2,1205.3 1556.9,1204.8 1557.6,1203.8 1558.3,1203.8 1559.0,1205.2 1559.7,1205.3 1560.4,1205.5 1561.1,1205.3 1561.8,1205.4 1562.5,1205.5 1563.2,1204.1 1563.9,1204.1 1564.6,1204.2 1565.3,1205.3 1566.0,1205.1 1566.7,1205.4 1567.4,1205.4 1568.1,1205.3 1568.8,1205.3 1569.5,1205.4 1570.2,1205.2 1570.9,1205.3 1571.6,1205.7 1572.3,1205.5 1573.0,1205.0 1573.7,1205.4 1574.4,1205.2 1575.1,1204.3 1575.8,1205.5 1576.5,1205.6 1577.2,1205.5 1577.9,1205.5 1578.6,1205.3 1579.3,1205.1 1580.0,1205.3 1580.7,1205.0 1581.4,1205.4 1582.1,1205.5 1582.8,1205.2 1583.5,1203.9 1584.2,1205.2 1584.9,1205.5 1585.6,1205.3 1586.3,1205.3 1587.0,1205.4 1587.7,1205.2 1588.4,1205.4 1589.1,1205.3 1589.8,1205.3 1590.5,1204.9 1591.2,1205.1 1591.9,1205.1 1592.6,1205.2 1593.3,1205.2 1594.0,1205.3 1594.7,1205.4 1595.4,1205.5 1596.1,1205.7 1596.8,1205.3 1597.5,1205.3 1598.2,1205.6 1598.9,1205.4 1599.6,1205.0 1600.3,1205.2 1601.0,1205.1 1601.7,1205.1 1602.4,1205.2 1603.1,1205.1 1603.8,1206.6 1604.5,1206.6 1605.2,1206.6 1605.9,1206.6 1606.6,1205.3 1607.3,1205.1 1608.0,1205.2 1608.7,1205.3 1609.4,1205.3 1610.1,1205.4 1610.6,1205.3 1611.1,1205.1 1611.6,1205.6 1612.1,1205.4 1612.6,1205.3 1613.1,1205.3 1613.6,1205.1 1614.1,1205.1 1614.6,1205.5 1615.1,1204.9 1615.6,1205.3 1616.1,1205.0 1616.6,1205.2 1617.1,1205.2 1617.6,1205.0 1618.1,1204.9 1618.6,1203.9 1619.1,1205.0 1619.6,1203.7 1620.1,1203.7 1620.6,1203.7 1621.1,1203.6 1621.6,1204.9 1622.1,1204.7 1622.6,1205.1 1623.1,1205.0 1623.6,1205.1 1624.1,1204.6 1624.6,1204.8 1625.1,1204.4 1625.6,1204.4 1626.1,1204.5 1626.6,1203.0 1627.1,1202.9 1627.6,1202.8 1628.1,1202.6 1628.6,1204.0 1629.1,1203.3 1629.6,1203.2 1630.1,1203.1 1630.6,1202.9 1631.1,1202.7 1631.6,1202.1 1632.1,1201.6 1632.6,1201.2 1633.1,1200.6 1633.6,1199.7 1634.1,1199.4 1634.6,1198.4 1635.1,1197.9 1635.6,1197.3 1636.1,1196.9 1636.6,1196.9 1637.1,1197.2 1637.6,1197.3 1638.1,1197.7 1638.6,1197.5 1639.1,1198.5 1639.6,1198.4 1640.1,1198.9 1640.6,1198.8 1641.1,1199.2 1641.6,1199.5 1642.1,1198.1 1642.6,1198.3 1643.1,1198.6 1643.6,1198.9 1644.1,1200.9 1644.6,1201.2 1645.1,1201.7 1645.6,1201.8 1646.1,1202.1 1646.6,1202.5 1647.1,1203.3 1647.6,1203.0 1648.1,1203.7 1648.6,1203.9 1649.1,1203.8 1649.6,1204.1 1650.1,1204.4 1650.6,1204.2 1651.1,1204.6 1651.6,1204.6 1652.1,1204.7 1652.6,1204.5 1653.1,1204.8 1653.6,1204.9 1654.1,1204.6 1654.6,1204.7 1655.1,1206.2 1655.6,1206.2 1656.1,1206.3 1656.6,1204.9 1657.1,1204.9 1657.6,1204.9 1658.1,1204.8 1658.6,1204.9 1659.1,1204.9 1659.6,1204.9 1660.1,1204.6 1660.6,1205.1 1661.1,1205.1 1661.6,1205.3 1662.1,1205.0 1662.6,1205.2 1663.1,1205.4 1663.6,1205.3 1664.1,1205.2 1664.8,1205.3 1665.5,1205.0 1666.2,1205.4 1666.9,1206.5 1667.6,1205.0 1668.3,1205.1 1669.0,1205.2 1669.7,1205.0 1670.4,1205.3 1671.1,1206.4 1671.8,1206.4 1672.5,1204.1 1673.2,1204.1 1673.9,1205.5 1674.6,1205.5 1675.3,1205.0 1676.0,1204.3 1676.7,1204.3 1677.4,1204.3 1678.1,1205.2 1678.8,1205.2 1679.5,1205.2 1680.2,1205.2 1680.9,1205.4 1681.6,1205.3 1682.3,1205.5 1683.0,1205.4 1683.7,1205.0 1684.4,1205.6 1685.1,1205.1 1685.8,1205.3 1686.5,1205.4 1687.2,1205.3 1687.9,1204.9 1688.6,1205.3 1689.3,1205.4 1690.0,1205.3 1690.7,1205.2 1691.4,1205.3 1692.1,1205.5 1692.8,1205.2 1693.5,1205.5 1694.2,1205.3 1694.9,1205.5 1695.6,1205.5 1696.3,1205.5 1697.0,1205.6 1697.7,1205.4 1698.4,1205.4 1699.1,1205.5 1699.8,1205.2 1700.5,1205.2 1701.2,1205.3 1701.9,1205.4 1702.6,1205.4 1703.3,1205.3 1704.0,1205.4 1704.7,1205.4 1705.4,1205.7 1706.1,1205.6 1706.8,1205.3 1707.5,1205.6 1708.2,1205.2 1708.9,1205.1 1709.6,1205.5 1710.3,1205.1 1711.0,1205.5 1711.7,1205.5 1712.4,1205.5 1713.1,1205.2 1713.8,1205.3 1714.5,1205.6 1715.2,1205.6 1715.9,1205.3 1716.6,1205.6 1717.3,1205.4 1718.0,1204.3 1718.7,1204.3 1719.4,1204.3 1720.1,1204.2 1720.8,1204.2 1721.5,1204.2 1722.2,1206.3 1722.9,1206.3 1723.6,1206.3 1724.3,1206.3 1725.0,1205.2 1725.7,1205.5 1726.4,1205.2 1727.1,1205.5 1727.8,1205.2 1728.5,1205.4 1729.2,1205.5 1729.9,1205.3 1730.6,1205.4 1731.3,1205.0 1732.0,1204.8 1732.7,1205.4 1733.4,1205.2 1734.1,1205.2 1734.8,1205.3 1735.5,1205.4 1736.2,1205.6 1736.9,1205.2 1737.6,1205.5 1738.3,1205.2 1739.0,1205.7 1739.7,1205.2 1740.4,1205.4 1741.1,1205.5 1741.8,1205.5 1742.5,1205.6 1743.2,1205.5 1743.9,1205.0 1744.6,1205.5 1745.3,1205.2 1746.0,1205.3 1746.7,1205.3 1747.4,1205.2 1748.1,1205.1 1748.8,1205.4 1749.5,1205.5 1750.2,1205.4 1750.9,1205.3 1751.6,1205.2 1752.3,1205.1 1753.0,1205.2 1753.7,1205.3 1754.4,1204.9 1755.1,1205.2 1755.8,1205.4 1756.5,1205.5 1757.2,1205.4 1757.9,1206.8 1758.6,1206.8 1759.3,1206.8 1760.0,1205.4 1760.7,1205.5 1761.4,1205.3 1762.1,1205.3 1762.8,1204.3 1763.5,1205.4 1764.2,1205.0 1764.9,1205.4 1765.6,1205.4 1766.3,1205.2 1767.0,1205.5 1767.7,1205.3 1768.4,1206.6 1769.1,1206.6 1769.8,1205.6 1770.5,1205.3 1771.2,1205.3 1771.9,1203.9 1772.6,1203.9 1773.3,1205.6 1774.0,1204.9 1774.7,1205.7 1775.4,1205.4 1776.1,1205.3 1776.8,1205.4 1777.5,1205.4 1778.2,1205.5 1778.9,1205.5 1779.6,1205.4 1780.3,1205.3 1781.0,1205.5 1781.7,1205.2 1782.4,1206.7 1783.1,1205.5 1783.8,1205.1 1784.5,1205.4 1785.2,1205.4 1785.9,1205.7 1786.6,1205.3 1787.3,1205.7 1788.0,1205.0 1788.7,1205.5 1789.4,1205.5 1790.1,1205.2 1790.8,1205.8 1791.5,1205.4 1792.2,1205.3 1792.9,1205.3 1793.6,1205.0 1794.3,1205.3 1795.0,1205.2 1795.7,1205.3 1796.4,1205.3 1797.1,1205.3 1797.8,1205.1 1798.5,1205.1 1799.2,1205.7 1799.9,1204.0 1800.6,1204.0 1801.3,1205.1 1802.0,1205.5 1802.7,1205.7 1803.4,1205.3 1804.1,1205.1 1804.8,1205.4 1805.5,1204.1 1806.2,1205.7 1806.9,1205.6 1807.6,1205.3 1808.3,1205.0 1809.0,1204.2 1809.7,1204.2 1810.4,1204.2 1811.1,1204.2 1811.8,1205.2 1812.5,1205.2 1813.2,1205.1 1813.9,1205.4 1814.6,1204.3 1815.3,1204.3 1816.0,1205.1 1816.7,1205.4 1817.4,1205.4 1818.1,1205.2 1818.8,1205.6 1819.5,1205.2 1820.2,1205.4 1820.9,1205.4 1821.6,1205.5 1822.3,1205.4 1823.0,1205.4 1823.7,1205.1 1824.4,1205.3 1825.1,1205.3 1825.8,1205.4 1826.5,1205.4 1827.2,1205.4 1827.9,1205.1 1828.6,1205.2 1829.3,1206.7 1830.0,1206.7 1830.7,1206.7 1831.4,1205.5 1832.1,1205.3 1832.8,1205.5 1833.5,1205.2 1834.2,1205.0 1834.9,1205.4 1835.6,1205.0 1836.3,1205.3 1837.0,1205.0 1837.7,1205.1 1838.4,1205.4 1839.1,1205.2 1839.8,1205.2 1840.5,1204.2 1841.2,1204.2 1841.9,1204.2 1842.6,1204.2 1843.3,1205.2 1844.0,1206.8 1844.7,1206.8 1845.4,1205.4 1846.1,1205.5 1846.8,1204.2 1847.5,1204.2 1848.2,1204.2 1848.9,1205.3 1849.6,1205.1 1850.3,1205.1 1851.0,1205.4 1851.7,1205.2 1852.4,1205.4 1853.1,1205.3 1853.8,1205.3 1854.5,1205.2 1855.2,1205.1 1855.9,1205.5 1856.6,1205.3 1857.3,1205.0 1858.0,1205.0 1858.7,1205.5 1859.4,1205.7 1860.1,1205.5 1860.8,1205.4 1861.5,1205.1 1862.2,1205.0 1862.9,1205.1 1863.6,1205.3 1864.3,1205.7 1865.0,1205.5 1865.7,1205.2 1866.4,1205.4 1867.1,1205.5 1867.8,1205.5 1868.5,1205.1 1869.2,1204.9 1869.9,1205.2 1870.6,1204.1 1871.3,1204.9 1872.0,1205.4 1872.7,1205.3 1873.4,1205.4 1874.1,1205.3 1874.8,1205.4 1875.5,1205.3 1876.2,1205.4 1876.9,1205.3 1877.6,1205.8 1878.3,1205.4 1879.0,1205.3 1879.7,1205.4 1880.4,1205.0 1881.1,1205.4 1881.8,1205.1 1882.5,1205.2 1883.2,1205.2 1883.9,1205.3 1884.6,1205.1 1885.3,1205.2 1886.0,1206.6 1886.7,1206.6 1887.4,1205.0 1888.1,1205.3 1888.8,1205.5 1889.5,1205.7 1890.2,1205.4 1890.9,1205.2 1891.6,1205.4 1892.3,1205.3 1893.0,1205.4 1893.7,1205.2 1894.4,1205.5 1895.1,1205.1 1895.8,1205.2 1896.5,1205.3 1897.2,1205.4 1897.9,1205.3 1898.6,1205.4 1899.3,1205.2 1900.0,1205.0 1900.7,1205.7 1901.4,1205.3 1902.1,1205.6 1902.8,1205.3 1903.5,1205.8 1904.2,1205.7 1904.9,1205.4 1905.6,1205.3 1906.3,1205.2 1907.0,1205.4 1907.7,1205.7 1909.0,1205.7" fill="none" stroke="#ff0000" stroke-width="8.8" stroke-linejoin="round" stroke-linecap="butt"/>
<path d="M120.0,936.4 120.7,936.4 121.4,938.0 122.1,937.9 122.8,938.0 123.5,938.0 124.2,938.0 124.9,937.6 125.6,937.8 126.3,937.8 127.0,939.3 127.7,939.3 128.4,939.3 129.1,938.1 129.8,937.6 130.5,937.9 131.2,937.7 131.9,937.5 132.6,937.8 133.3,937.7 134.0,937.4 134.7,938.1 135.4,936.5 136.1,936.5 136.8,937.6 137.5,937.6 138.2,937.6 138.9,937.6 139.6,937.9 140.3,938.1 141.0,937.6 141.7,937.5 142.4,937.7 143.1,937.6 143.8,937.8 144.5,937.8 145.2,937.3 145.9,937.4 146.6,937.8 147.3,937.7 148.0,937.1 148.7,937.3 149.4,937.3 150.1,938.8 150.8,938.8 151.5,938.8 152.2,938.8 152.9,937.5 153.6,937.6 154.3,937.6 155.0,937.3 155.7,937.6 156.4,937.3 157.1,937.6 157.8,936.8 158.5,937.1 159.2,937.4 159.9,937.1 160.6,937.5 161.3,937.3 162.0,937.2 162.7,937.1 163.4,937.3 164.1,938.4 164.8,937.0 165.5,937.1 166.2,937.2 166.9,937.1 167.6,936.1 168.3,936.1 169.0,936.1 169.7,936.1 170.4,936.1 171.1,936.8 171.8,937.2 172.5,937.0 173.2,937.0 173.9,937.0 174.6,937.3 175.3,937.1 176.0,937.2 176.7,936.9 177.4,937.2 178.1,936.9 178.8,937.0 179.5,937.1 180.2,937.1 180.9,936.8 181.6,937.1 182.3,936.9 183.0,937.4 183.7,936.5 184.4,937.0 185.1,936.8 185.8,936.9 186.5,937.1 187.2,936.8 187.9,936.8 188.6,936.9 189.3,936.6 190.0,936.5 190.7,936.9 191.4,936.8 192.1,935.8 192.8,936.8 193.5,936.8 194.2,935.8 194.9,935.8 195.6,935.8 196.3,936.9 197.0,937.0 197.7,936.7 198.4,935.4 199.1,935.4 199.8,935.4 200.5,936.7 201.2,936.8 201.9,936.4 202.6,936.6 203.3,936.5 204.0,936.7 204.7,936.7 205.4,936.7 206.1,936.5 206.8,936.4 207.5,936.8 208.2,936.5 208.9,936.2 209.6,936.9 210.3,936.8 211.0,936.7 211.7,936.5 212.4,936.7 213.1,936.6 213.8,936.5 214.5,936.6 215.2,936.3 215.9,936.3 216.6,936.3 217.3,936.8 218.0,936.4 218.7,936.3 219.4,936.8 220.1,936.3 220.8,936.5 221.5,936.5 222.2,936.5 222.9,936.2 223.6,935.4 224.3,935.4 225.0,935.4 225.7,936.5 226.4,936.0 227.1,936.5 227.8,935.9 228.5,936.0 229.2,936.3 229.9,936.2 230.6,936.3 231.3,936.6 232.0,936.2 232.7,936.2 233.4,936.3 234.1,935.9 234.8,936.2 235.5,936.4 236.2,936.3 236.9,936.4 237.6,936.4 238.3,935.9 239.0,936.0 239.7,937.3 240.4,937.3 241.1,937.3 241.8,937.3 242.5,937.3 243.2,936.3 243.9,936.0 244.6,936.2 245.3,936.2 246.0,936.0 246.7,935.4 247.4,935.9 248.1,935.9 248.8,935.9 249.5,935.0 250.2,935.0 250.9,934.9 251.6,934.9 252.3,935.9 253.0,934.9 253.7,936.0 254.4,936.0 255.1,936.2 255.8,935.7 256.5,935.8 257.2,936.0 257.9,936.1 258.6,936.0 259.3,935.9 260.0,935.9 260.7,935.6 261.4,935.8 262.1,936.0 262.8,935.8 263.5,935.7 264.2,935.8 264.9,934.7 265.6,934.7 266.3,934.7 267.0,934.7 267.7,935.9 268.4,935.4 269.1,935.5 269.8,936.1 270.5,935.6 271.2,935.7 271.9,936.7 272.6,936.7 273.3,935.7 274.0,935.7 274.7,935.8 275.4,935.5 276.1,935.8 276.8,935.7 277.5,935.5 278.2,935.8 278.9,935.5 279.6,935.2 280.3,935.5 281.0,935.6 281.7,935.4 282.4,935.3 283.1,935.6 283.8,935.7 284.5,935.5 285.2,935.6 285.9,935.4 286.6,935.6 287.3,936.8 288.0,935.2 288.7,935.5 289.4,935.6 290.1,935.1 290.8,935.5 291.5,935.3 292.2,935.2 292.9,935.2 293.6,936.4 294.3,936.3 295.0,936.3 295.7,936.3 296.4,935.8 297.1,935.4 297.8,935.5 298.5,935.2 299.2,935.2 299.9,935.2 300.6,935.5 301.3,935.2 302.0,935.6 302.7,935.2 303.4,935.4 304.1,936.5 304.8,936.5 305.5,936.5 306.2,936.1 306.9,934.9 307.6,935.0 308.3,934.9 309.0,935.3 309.7,934.9 310.4,935.1 311.1,934.9 311.8,934.9 312.5,935.3 313.2,935.0 313.9,935.4 314.6,935.1 315.3,935.0 316.0,935.0 316.7,934.9 317.4,935.3 318.1,935.3 318.8,934.8 319.5,935.1 320.2,935.1 320.9,936.0 321.6,935.1 322.3,935.2 323.0,934.9 323.7,935.1 324.4,935.0 325.1,934.9 325.8,935.0 326.5,935.0 327.2,934.6 327.9,934.9 328.6,934.9 329.3,935.0 330.0,934.7 330.7,935.2 331.4,934.7 332.1,934.6 332.8,934.8 333.5,934.5 334.2,935.0 334.9,934.7 335.6,934.9 336.3,934.7 337.0,934.9 337.7,934.9 338.4,933.6 339.1,934.9 339.8,934.8 340.5,934.7 341.2,934.9 341.9,934.6 342.6,934.7 343.3,934.6 344.0,934.3 344.7,934.6 345.4,934.5 346.1,934.6 346.8,934.7 347.5,934.6 348.2,934.1 348.9,934.4 349.6,934.2 350.3,934.6 351.0,934.3 351.7,934.5 352.4,934.1 353.1,933.9 353.8,933.1 354.5,933.1 355.2,933.0 355.9,933.0 356.6,934.4 357.3,934.3 358.0,932.7 358.7,932.7 359.4,932.7 360.1,932.7 360.8,934.2 361.5,934.1 362.2,932.6 362.9,932.6 363.6,932.6 364.3,933.7 365.0,934.0 365.7,934.1 366.4,933.7 367.1,934.2 367.8,933.9 368.5,934.3 369.2,933.9 369.9,934.2 370.6,933.9 371.3,934.1 372.0,933.8 372.7,933.7 373.4,933.6 374.1,933.6 374.8,934.0 375.5,933.5 376.2,933.9 376.9,933.9 377.6,933.8 378.3,933.4 379.0,933.5 379.7,933.5 380.4,932.3 381.1,932.3 381.8,933.6 382.5,933.7 383.2,933.8 383.9,933.3 384.6,933.2 385.3,933.5 386.0,933.6 386.7,932.9 387.4,933.4 388.1,933.8 388.8,933.3 389.5,933.4 390.2,933.6 390.9,933.6 391.6,933.3 392.3,933.3 393.0,933.2 393.7,933.3 394.4,933.4 395.1,933.2 395.8,933.0 396.5,932.9 397.2,932.8 397.9,933.7 398.6,933.4 399.3,933.0 400.0,933.1 400.7,932.9 401.4,933.3 402.1,933.1 402.8,933.1 403.5,932.8 404.2,933.1 404.9,932.8 405.6,932.6 406.3,932.8 407.0,932.9 407.7,932.8 408.4,931.8 409.1,931.8 409.8,932.6 410.5,932.7 411.2,932.6 411.9,932.8 412.6,932.6 413.3,932.9 414.0,932.3 414.7,932.6 415.4,932.9 416.1,932.7 416.8,932.4 417.5,932.7 418.2,932.6 418.9,931.4 419.6,931.4 420.3,931.3 421.0,931.3 421.7,932.5 422.4,932.5 423.1,932.3 423.8,932.3 424.5,934.0 425.2,932.3 425.9,932.3 426.6,932.4 427.3,932.4 428.0,932.5 428.7,932.4 429.4,932.2 430.1,932.6 430.8,932.6 431.5,932.3 432.2,932.5 432.9,932.1 433.6,932.0 434.3,932.1 435.0,932.0 435.7,932.1 436.4,932.0 437.1,932.2 437.8,932.6 438.5,932.0 439.2,932.2 439.9,932.3 440.6,932.0 441.3,932.2 442.0,932.2 442.7,931.9 443.4,931.8 444.1,931.9 444.8,930.8 445.5,930.7 446.2,932.2 446.9,932.1 447.6,931.7 448.3,931.7 449.0,932.0 449.7,931.9 450.4,931.6 451.1,931.6 451.8,931.6 452.5,931.6 453.2,931.8 453.9,931.9 454.6,931.7 455.3,931.7 456.0,931.7 456.7,931.7 457.4,931.9 458.1,931.5 458.4,930.5 458.7,930.4 459.0,930.4 459.3,930.4 459.6,931.5 459.9,931.4 460.2,930.6 460.5,930.6 460.8,930.6 461.1,930.5 461.4,931.8 461.7,931.1 462.0,931.0 462.3,931.4 462.6,931.3 462.9,931.4 463.2,931.1 463.5,931.1 463.8,932.8 464.1,931.3 464.4,931.1 464.7,931.6 465.0,931.2 465.3,931.3 465.6,931.4 465.9,930.8 466.2,931.0 466.5,931.3 466.8,930.8 467.1,931.0 467.4,931.3 467.7,931.2 468.0,930.1 468.3,930.0 468.6,930.0 468.9,930.0 469.2,931.0 469.5,931.2 469.8,930.9 470.1,930.7 470.4,930.9 470.7,930.6 471.0,930.7 471.3,930.3 471.6,930.7 471.9,930.3 472.2,930.2 472.5,929.9 472.8,929.4 473.1,928.8 473.4,928.9 473.7,928.6 474.0,928.1 474.3,928.3 474.6,927.7 474.9,927.4 475.2,926.7 475.5,926.8 475.8,926.8 476.1,926.8 476.4,926.8 476.7,926.8 477.0,927.0 477.3,927.3 477.6,927.1 477.9,927.8 478.2,928.0 478.5,928.5 478.8,928.8 479.1,929.2 479.4,929.2 479.7,929.3 480.0,929.8 480.3,928.5 480.6,928.6 480.9,928.8 481.2,930.5 481.5,930.2 481.8,929.0 482.1,929.1 482.4,930.6 482.7,930.8 483.0,930.8 483.3,930.8 483.6,930.8 483.9,930.8 484.2,930.7 484.5,930.7 484.8,931.0 485.1,930.6 485.4,929.8 485.7,929.8 486.0,930.6 486.3,930.9 486.6,930.9 486.9,930.5 487.2,930.9 487.5,930.9 487.8,930.6 488.1,930.7 488.4,930.2 488.7,930.6 489.0,930.8 489.3,930.7 489.6,931.0 489.9,930.7 490.2,930.7 490.5,930.6 490.8,930.6 491.1,930.7 491.4,930.7 491.7,930.9 492.0,930.8 492.3,930.8 492.6,930.5 492.9,930.7 493.2,930.6 493.5,930.6 493.8,930.7 494.1,930.5 494.8,931.0 495.5,930.3 496.2,930.6 496.9,930.4 497.6,930.5 498.3,930.8 499.0,930.5 499.7,930.6 500.4,930.6 501.1,930.5 501.8,930.1 502.5,930.7 503.2,930.6 503.9,930.7 504.6,930.4 505.3,930.3 506.0,930.5 506.7,930.0 507.4,930.3 508.1,930.3 508.8,930.4 509.5,930.6 510.2,930.4 510.9,930.6 511.6,930.7 512.3,930.6 513.0,930.6 513.7,930.7 514.4,930.4 515.1,929.4 515.8,929.4 516.5,929.4 517.2,929.4 517.9,930.9 518.6,930.5 519.3,930.7 520.0,930.3 520.7,930.7 521.4,930.5 522.1,930.3 522.8,930.4 523.5,930.6 524.2,930.4 524.9,930.3 525.6,930.1 526.3,930.3 527.0,930.6 527.7,930.2 528.4,930.5 529.1,930.5 529.8,930.2 530.5,929.2 531.2,929.2 531.9,930.4 532.6,930.4 533.3,930.2 533.6,930.5 533.9,930.3 534.2,930.3 534.5,930.4 534.8,930.2 535.1,929.1 535.4,929.1 535.7,929.0 536.0,929.0 536.3,930.0 536.6,930.1 536.9,930.0 537.2,930.2 537.5,930.3 537.8,930.1 538.1,929.8 538.4,930.1 538.7,930.3 539.0,930.2 539.3,930.3 539.6,930.3 539.9,930.3 540.2,929.9 540.5,930.3 540.8,930.2 541.1,930.2 541.4,930.5 541.7,930.1 542.0,930.4 542.3,930.1 542.6,930.1 542.9,930.1 543.2,930.0 543.5,930.2 543.8,929.8 544.1,930.0 544.4,930.2 544.7,930.0 545.0,929.7 545.3,930.0 545.6,929.8 545.9,929.8 546.2,929.3 546.5,928.2 546.8,928.0 547.1,927.8 547.4,927.6 547.7,928.4 548.0,928.3 548.3,927.9 548.6,927.8 548.9,928.1 549.2,927.8 549.5,926.5 549.8,926.2 550.1,926.0 550.4,925.3 550.7,925.1 551.0,925.3 551.3,925.3 551.6,925.3 551.9,925.6 552.2,925.6 552.5,925.8 552.8,926.0 553.1,926.3 553.4,926.8 553.7,926.9 554.0,927.5 554.3,926.3 554.6,926.6 554.9,926.9 555.2,927.2 555.5,927.6 555.8,927.8 556.1,927.9 556.4,929.1 556.7,929.3 557.0,929.3 557.3,929.3 557.6,929.6 557.9,929.4 558.2,929.4 558.5,929.5 558.8,929.9 559.1,929.5 559.4,929.9 559.7,929.7 560.0,929.9 560.3,929.8 560.6,929.8 560.9,929.7 561.2,929.9 561.5,930.0 561.8,929.7 562.1,929.6 562.4,930.1 562.7,929.8 563.0,929.4 563.3,929.6 563.6,929.7 563.9,929.4 564.2,929.6 564.5,929.7 564.8,929.6 565.1,929.6 565.4,929.6 565.7,929.7 566.0,929.4 566.3,929.3 566.6,929.4 566.9,929.3 567.2,929.3 567.5,928.3 567.8,927.7 568.1,927.7 568.4,927.7 568.7,927.6 569.0,929.1 569.3,929.2 570.0,929.0 570.7,930.1 571.4,930.0 572.1,928.7 572.8,928.5 573.5,928.4 574.2,927.9 574.9,927.8 575.6,928.1 576.3,927.6 577.0,927.8 577.7,926.3 578.4,926.1 579.1,925.8 579.8,925.4 580.5,925.9 581.2,925.6 581.9,923.8 582.2,924.8 582.5,924.3 582.8,924.3 583.1,923.8 583.4,923.3 583.7,923.0 584.0,922.8 584.3,922.3 584.6,920.7 584.9,920.2 585.2,919.6 585.5,919.0 585.8,919.5 586.1,918.8 586.4,917.4 586.7,916.8 587.0,915.9 587.3,913.2 587.6,911.7 587.9,911.4 588.9,909.6 588.4,907.5 589.2,904.8 588.3,901.8 589.1,896.8" fill="none" stroke="#0000ff" stroke-width="8.8" stroke-linejoin="round" stroke-linecap="butt"/>
<path d="M597.7,896.1 598.4,901.0 599.7,904.2 599.5,906.8 600.3,907.7 600.2,909.6 600.5,911.1 600.8,912.4 601.1,913.5 601.4,914.4 601.7,914.7 602.0,915.5 602.3,915.5 602.6,915.7 602.9,916.0 603.2,915.6 603.5,916.0 603.8,916.1 604.1,916.1 604.4,916.3 604.7,916.7 605.0,918.0 605.3,918.4 605.6,917.9 605.9,918.6 606.2,918.9 606.5,919.4 606.8,920.1 607.1,920.3 607.4,921.0 607.7,923.1 608.0,922.0 608.3,923.2 608.6,922.4 608.9,922.8 609.2,923.9 609.5,924.3 609.8,924.5 610.1,924.7 610.4,925.2 610.7,925.5 611.0,925.3 611.3,926.7 611.6,926.8 611.9,926.9 612.2,927.0 612.5,925.9 612.8,925.8 613.1,926.2 613.4,926.2 613.7,926.4 614.0,924.9 614.3,925.0 614.6,926.3 614.9,926.2 615.2,926.1 615.5,926.3 615.8,926.7 616.1,926.9 616.4,926.5 616.7,926.6 617.0,926.8 617.3,926.6 617.6,926.5 617.9,927.0 618.2,927.1 618.5,926.7 618.8,926.8 619.1,927.0 619.4,927.0 619.7,926.4 620.0,927.0 620.3,926.9 620.6,926.9 620.9,926.4 621.6,927.2 622.3,926.9 623.0,926.8 623.7,927.1 624.4,927.0 625.1,927.2 625.8,926.9 626.5,927.1 627.2,927.0 627.9,926.8 628.6,928.2 629.3,928.2 630.0,926.8 630.7,926.6 631.4,926.6 632.1,925.4 632.8,925.4 633.5,925.4 634.2,926.9 634.9,926.9 635.6,926.8 636.3,927.0 637.0,926.8 637.7,927.0 638.4,926.5 639.1,926.7 639.8,926.7 640.5,926.7 641.2,926.7 641.9,926.4 642.6,926.6 643.3,926.4 644.0,926.6 644.7,926.3 645.4,926.3 646.1,926.7 646.8,926.4 647.5,926.7 648.2,926.6 648.9,926.3 649.6,926.1 650.3,926.0 651.0,926.3 651.7,926.4 652.4,926.3 653.1,926.1 653.8,926.2 654.5,926.5 655.2,926.0 655.9,926.3 656.6,926.0 657.3,926.3 658.0,926.3 658.7,926.1 659.4,926.3 660.1,926.0 660.8,926.1 661.5,925.7 662.2,926.3 662.9,924.9 663.6,926.1 664.3,925.9 665.0,926.2 665.7,925.1 666.4,926.3 667.1,926.2 667.4,926.5 667.7,926.3 668.0,926.2 668.3,926.3 668.6,925.7 668.9,926.0 669.2,926.3 669.5,925.9 669.8,926.1 670.1,925.8 670.4,926.1 670.7,926.1 671.0,926.2 671.3,926.1 671.6,926.1 671.9,925.5 672.2,926.0 672.5,926.2 672.8,925.6 673.1,925.9 673.4,926.2 673.7,926.0 674.0,925.7 674.3,925.6 674.6,925.7 674.9,926.2 675.2,925.8 675.5,926.1 675.8,926.1 676.1,924.9 676.4,924.9 676.7,924.9 677.0,925.6 677.3,925.8 677.6,926.2 677.9,926.0 678.2,925.8 678.5,925.7 678.8,925.6 679.1,925.7 679.4,925.9 679.7,926.3 680.0,925.8 680.3,925.1 680.6,925.1 680.9,924.9 681.2,925.1 681.5,924.9 681.8,924.6 682.1,924.2 682.4,924.4 682.7,924.0 683.0,923.4 683.3,923.4 683.6,922.9 683.9,923.0 684.2,922.6 684.5,922.8 684.8,922.6 685.1,923.0 685.4,922.5 685.7,922.6 686.0,922.8 686.3,922.6 686.6,923.0 686.9,923.2 687.2,924.3 687.5,924.6 687.8,924.8 688.1,923.9 688.4,924.2 688.7,924.5 689.0,924.7 689.3,924.8 689.6,924.9 689.9,925.2 690.2,925.2 690.5,924.2 690.8,924.2 691.1,924.3 691.4,924.4 691.7,925.6 692.0,925.6 692.3,925.5 692.6,925.8 692.9,925.8 693.2,925.7 693.5,925.8 693.8,925.7 694.1,925.6 694.4,925.9 694.7,924.2 695.0,924.2 695.3,925.8 695.6,926.0 695.9,925.5 696.2,926.0 696.5,925.8 696.8,925.8 697.1,925.7 697.4,925.6 697.7,925.5 698.0,925.6 698.3,925.6 698.6,925.5 698.9,925.4 699.2,925.7 699.5,925.4 699.8,925.6 700.1,925.8 700.4,925.8 700.7,925.8 701.0,925.8 701.3,925.7 701.6,926.1 701.9,925.8 702.2,925.8 702.5,925.7 702.8,925.9 703.1,925.5 703.8,925.4 704.5,925.7 705.2,925.4 705.9,925.6 706.6,925.4 707.3,925.7 708.0,925.2 708.7,924.3 709.4,925.3 710.1,925.3 710.8,925.2 711.5,925.5 712.2,925.2 712.9,925.4 713.6,925.7 714.3,925.4 715.0,925.3 715.7,925.1 716.4,925.4 717.1,925.1 717.8,923.9 718.5,923.8 719.2,925.0 719.9,925.0 720.6,924.7 721.3,925.0 722.0,924.6 722.3,923.3 722.6,923.3 722.9,923.2 723.2,924.2 723.5,924.2 723.8,924.1 724.1,924.1 724.4,924.3 724.7,923.9 725.0,923.7 725.3,923.7 725.6,923.6 725.9,923.4 726.2,923.5 726.5,923.2 726.8,923.1 727.1,921.7 727.4,921.4 727.7,921.2 728.0,921.8 728.3,921.7 728.6,921.1 728.9,920.8 729.2,920.2 729.5,919.6 729.8,918.6 730.1,917.9 730.4,916.7 730.7,915.2 731.2,913.2 731.5,910.7 730.8,908.2 731.6,903.6 732.3,899.6 731.5,892.3 732.6,885.7 733.2,879.8 732.4,871.3 734.2,865.0 734.0,861.2 734.3,861.7 735.6,864.3 734.5,868.3 734.9,872.2 735.9,875.6 736.3,878.4 736.1,879.9 736.4,879.5 736.7,881.4 736.7,884.4 737.4,890.2 737.7,894.7 738.2,899.6 738.0,903.4 737.8,907.2 739.1,910.2 738.3,912.9 739.4,914.7 739.7,917.7 740.0,917.5 740.3,918.4 740.6,919.1 740.9,920.1 741.2,920.3 741.5,921.0 741.8,921.7 742.1,922.1 742.4,922.1 742.7,922.4 743.0,922.7 743.3,922.7 743.6,922.8 743.9,923.1 744.2,923.0 744.5,923.3 744.8,923.6 745.1,923.4 745.4,924.0 745.7,924.0 746.0,924.0 746.3,923.9 746.6,924.2 746.9,924.1 747.6,924.6 748.3,924.4 749.0,924.5 749.7,924.9 750.4,924.6 751.1,924.6 751.8,924.8 752.5,924.6 753.2,924.6 753.9,925.0 754.6,925.0 755.3,924.6 756.0,924.9 756.7,924.9 757.4,924.5 758.1,924.8 758.8,923.6 759.5,925.0 760.2,924.9 760.9,925.2 761.6,925.0 762.3,925.0 763.0,924.7 763.7,924.9 764.4,925.0 765.1,924.9 765.8,925.1 766.5,925.2 767.2,925.2 767.9,924.9 768.6,924.9 769.3,924.9 770.0,925.2 770.7,924.6 771.4,924.8 772.1,924.8 772.8,925.9 773.5,925.9 774.2,925.9 774.9,924.7 775.6,925.0 776.3,924.8 777.0,924.8 777.7,925.1 778.4,925.1 779.1,924.7 779.8,924.6 780.5,925.1 781.2,924.9 781.9,925.0 782.6,924.9 783.3,925.1 784.0,924.9 784.7,923.4 785.4,923.4 786.1,923.4 786.8,923.8 787.5,923.8 788.2,923.8 788.9,923.8 789.6,925.2 790.3,924.8 791.0,925.0 791.7,924.9 792.4,925.1 793.1,924.6 793.8,924.9 794.5,924.8 795.2,924.7 795.9,924.9 796.6,924.7 797.3,924.4 798.0,924.6 798.7,924.9 799.4,924.4 800.1,924.4 800.8,924.8 801.5,924.7 802.2,924.4 802.9,924.7 803.6,924.9 804.3,924.6 805.0,924.7 805.7,924.6 806.4,924.9 807.1,924.7 807.8,924.8 808.5,924.7 809.2,924.4 809.9,924.7 810.6,924.8 811.3,924.9 812.0,924.8 812.7,924.4 813.4,924.6 814.1,924.7 814.8,924.7 815.5,923.8 816.2,924.7 816.9,923.4 817.6,923.4 818.3,923.4 819.0,924.5 819.7,924.7 820.4,924.8 821.1,924.6 821.8,923.4 822.5,923.4 823.2,924.8 823.9,924.8 824.6,924.7 825.3,924.7 826.0,924.9 826.7,924.3 827.4,924.8 828.1,924.6 828.8,924.6 829.5,924.5 830.2,924.7 830.9,924.5 831.6,924.7 832.3,924.5 833.0,924.5 833.7,924.5 834.4,924.6 835.1,925.0 835.8,924.5 836.5,924.6 837.2,924.6 837.9,924.7 838.6,924.6 839.3,924.3 840.0,924.3 840.7,924.3 841.4,925.6 842.1,925.6 842.8,925.6 843.5,925.6 844.2,924.7 844.9,924.5 845.6,924.4 846.3,924.7 847.0,923.3 847.7,924.4 848.4,924.6 849.1,925.0 849.8,925.0 850.5,924.7 851.2,923.5 851.9,923.5 852.6,924.6 853.3,924.1 854.0,924.8 854.7,924.6 855.4,924.4 856.1,924.6 856.8,924.6 857.5,924.3 858.2,924.3 858.9,924.8 859.6,924.8 860.3,923.3 861.0,923.3 861.7,924.5 862.4,924.8 863.1,924.7 863.8,924.9 864.5,924.6 865.2,924.5 865.9,924.7 866.6,924.7 867.3,924.4 868.0,924.6 868.7,924.7 869.4,924.6 870.1,924.7 870.8,924.4 871.5,924.4 872.2,924.2 872.9,924.6 873.6,925.0 874.3,924.6 875.0,924.7 875.7,924.4 876.4,924.5 877.1,924.7 877.8,924.4 878.5,923.4 879.2,923.4 879.9,923.4 880.6,923.4 881.3,924.6 882.0,924.8 882.7,924.3 883.4,924.5 884.1,924.5 884.8,924.6 885.5,924.5 886.2,924.4 886.9,924.7 887.6,924.5 888.3,924.6 889.0,924.4 889.7,924.6 890.4,924.7 891.1,924.7 891.8,924.1 892.5,924.9 893.2,924.2 893.9,924.7 894.6,923.1 895.3,923.1 896.0,923.1 896.7,924.2 897.4,924.5 898.1,924.1 898.8,924.5 899.5,923.3 900.2,923.3 900.9,923.3 901.6,923.3 902.3,924.6 903.0,924.3 903.7,924.4 904.4,924.1 905.1,924.6 905.8,924.3 906.5,924.7 907.2,924.8 907.9,924.4 908.6,924.4 909.3,924.5 910.0,924.6 910.7,924.4 911.4,924.4 912.1,924.3 912.8,924.8 913.5,924.6 914.2,924.5 914.9,924.4 915.6,923.0 916.3,924.2 917.0,924.2 917.7,924.4 918.4,924.5 919.1,924.4 919.8,924.3 920.5,924.4 921.2,924.3 921.9,924.4 922.6,924.3 923.3,924.6 924.0,924.1 924.7,923.1 925.4,923.1 926.1,924.3 926.8,924.4 927.5,924.3 928.2,924.6 928.9,924.2 929.6,924.2 930.3,924.4 931.0,924.1 931.7,923.9 932.4,924.4 933.1,924.3 933.8,924.6 934.5,924.7 935.2,924.2 935.9,924.7 936.6,924.3 937.3,924.1 938.0,924.2 938.7,924.4 939.4,924.1 940.1,923.2 940.8,923.2 941.5,923.2 942.2,923.2 942.9,925.4 943.6,925.4 944.3,925.4 945.0,925.4 945.7,924.4 946.4,924.6 947.1,924.5 947.8,924.5 948.5,924.5 949.2,924.4 949.9,924.6 950.6,924.6 951.3,924.6 952.0,924.1 952.7,924.5 953.4,924.2 954.1,924.7 954.8,924.5 955.5,924.4 956.2,924.5 956.9,924.6 957.6,923.8 958.3,924.7 959.0,924.2 959.7,924.1 960.4,924.3 961.1,924.1 961.8,924.8 962.5,923.0 963.2,923.0 963.9,923.0 964.6,923.0 965.3,924.3 966.0,924.4 966.7,924.2 967.4,924.2 968.1,924.3 968.8,924.2 969.5,924.3 970.2,924.3 970.9,924.5 971.6,924.6 972.3,924.7 973.0,924.5 973.7,924.1 974.4,924.2 975.1,925.4 975.8,924.3 976.5,924.4 977.2,924.5 977.9,924.1 978.6,924.2 979.3,924.4 980.0,924.3 980.7,924.2 981.4,924.6 982.1,924.1 982.8,924.2 983.5,924.2 984.2,924.1 984.9,924.3 985.6,924.0 986.3,924.2 987.0,924.4 987.7,924.2 988.4,924.0 989.1,924.1 989.8,924.4 990.5,924.5 991.2,923.2 991.9,923.2 992.6,923.2 993.3,923.2 994.0,923.2 994.7,923.2 995.4,924.4 996.1,923.9 996.8,924.1 997.5,924.4 998.2,924.2 998.9,924.4 999.6,924.2 1000.3,924.3 1001.0,924.6 1001.7,924.3 1002.4,924.6 1003.1,924.0 1003.8,924.1 1004.5,923.0 1005.2,923.0 1005.9,924.3 1006.6,924.5 1007.3,924.2 1008.0,924.1 1008.7,924.3 1009.4,923.8 1010.1,924.3 1010.8,924.4 1011.5,924.1 1012.2,923.3 1012.9,923.3 1013.6,923.3 1014.3,924.1 1015.0,924.2 1015.7,924.2 1016.4,924.2 1017.1,925.2 1017.8,925.2 1018.5,925.2 1019.2,923.7 1019.9,924.4 1020.6,924.1 1021.3,924.0 1022.0,924.0 1022.7,924.4 1023.4,924.3 1024.1,924.1 1024.8,924.3 1025.5,924.3 1026.2,924.3 1026.9,924.2 1027.6,924.1 1028.3,924.0 1029.0,924.5 1029.7,924.4 1030.4,924.0 1031.1,924.1 1031.8,923.3 1032.5,923.3 1033.2,923.2 1033.9,923.2 1034.6,924.2 1035.3,924.4 1036.0,924.5 1036.7,924.0 1037.4,923.9 1038.1,923.7 1038.8,924.2 1039.5,923.9 1040.2,924.2 1040.9,924.2 1041.6,922.7 1042.3,924.1 1043.0,924.2 1043.7,924.3 1044.4,924.2 1045.1,924.0 1045.8,924.2 1046.5,924.2 1047.2,924.1 1047.9,923.1 1048.6,924.5 1049.3,923.9 1050.0,924.4 1050.7,924.0 1051.4,924.0 1052.1,924.3 1052.8,924.2 1053.5,924.1 1054.2,924.2 1054.9,924.6 1055.6,924.1 1056.3,924.0 1057.0,924.4 1057.7,924.2 1058.4,924.1 1059.1,924.0 1059.8,924.1 1060.5,925.3 1061.2,925.3 1061.9,925.3 1062.6,925.3 1063.3,924.2 1064.0,923.8 1064.7,924.2 1065.4,924.1 1066.1,924.1 1066.8,924.2 1067.5,924.1 1068.2,924.1 1068.9,923.9 1069.6,924.1 1070.3,923.8 1071.0,924.1 1071.7,924.1 1072.4,923.9 1073.1,924.2 1073.8,924.0 1074.5,924.1 1075.2,924.1 1075.9,923.9 1076.6,923.9 1077.3,925.0 1078.0,924.2 1078.7,924.1 1079.4,924.1 1080.1,924.0 1080.8,924.0 1081.5,923.9 1082.2,924.0 1082.9,923.8 1083.6,924.1 1084.3,924.1 1085.0,924.5 1085.7,924.0 1086.4,923.9 1087.1,924.0 1087.8,924.0 1088.5,925.0 1089.2,925.0 1089.9,923.6 1090.6,924.2 1091.3,924.2 1092.0,924.3 1092.7,924.1 1093.4,923.9 1094.1,924.2 1094.8,924.2 1095.5,923.9 1096.2,924.0 1096.9,924.1 1097.6,924.1 1098.3,924.1 1099.0,924.0 1099.7,924.4 1100.4,923.8 1101.1,924.0 1101.8,923.9 1102.5,924.0 1103.2,924.1 1103.9,924.1 1104.6,923.9 1105.3,924.1 1106.0,924.1 1106.7,923.6 1107.4,923.9 1108.1,924.1 1108.8,923.0 1109.5,923.0 1110.2,923.0 1110.9,923.0 1111.6,923.9 1112.3,923.7 1113.0,923.9 1113.7,923.9 1114.4,924.0 1115.1,924.0 1115.8,923.8 1116.5,923.8 1117.2,924.0 1117.9,923.9 1118.6,924.1 1119.3,925.1 1120.0,925.1 1120.7,925.1 1121.4,925.1 1122.1,924.0 1122.8,923.9 1123.5,924.0 1124.2,924.1 1124.9,924.0 1125.6,923.8 1126.3,924.0 1127.0,923.9 1127.7,923.8 1128.4,923.9 1129.1,924.0 1129.8,923.9 1130.5,923.9 1131.2,924.0 1131.9,924.1 1132.6,924.1 1133.3,924.1 1134.0,924.1 1134.7,923.8 1135.4,924.0 1136.1,923.8 1136.8,924.1 1137.5,923.7 1138.2,924.1 1138.9,923.9 1139.6,923.8 1140.3,922.6 1141.0,922.6 1141.7,922.5 1142.4,923.8 1143.1,923.9 1143.8,923.7 1144.5,923.9 1145.2,923.8 1145.9,923.8 1146.6,923.8 1147.3,923.7 1148.0,923.9 1148.7,923.7 1149.4,923.3 1150.1,923.9 1150.8,924.0 1151.5,923.8 1152.2,923.7 1152.9,923.9 1153.6,925.2 1154.3,925.2 1155.0,925.2 1155.7,925.2 1156.4,923.9 1157.1,923.7 1157.8,924.0 1158.5,923.8 1159.2,923.7 1159.9,924.0 1160.6,923.8 1161.3,923.9 1162.0,924.0 1162.7,923.6 1163.4,923.7 1164.1,923.6 1164.8,923.8 1165.5,923.8 1166.2,924.0 1166.9,923.6 1167.6,923.9 1168.3,923.3 1169.0,923.5 1169.7,923.6 1170.4,923.7 1171.1,923.9 1171.8,923.8 1172.5,923.7 1173.2,923.9 1173.9,923.6 1174.6,923.7 1175.3,923.7 1176.0,922.5 1176.7,923.8 1177.4,923.5 1178.1,923.7 1178.8,923.5 1179.5,924.1 1180.2,923.7 1180.9,924.0 1181.6,923.9 1182.3,923.6 1183.0,924.0 1183.7,924.0 1184.4,923.6 1185.1,923.6 1185.8,923.6 1186.5,923.5 1187.2,923.5 1187.9,923.6 1188.6,923.6 1189.3,924.0 1190.0,923.7 1190.7,923.8 1191.4,923.8 1192.1,923.8 1192.8,923.3 1193.5,923.4 1194.2,923.6 1194.9,923.3 1195.6,923.6 1195.9,923.4 1196.2,923.2 1196.5,923.4 1196.8,923.1 1197.1,922.1 1197.4,922.1 1197.7,922.1 1198.0,923.2 1198.3,923.2 1198.6,923.2 1198.9,923.1 1199.2,923.0 1199.5,922.7 1199.8,923.0 1200.1,922.9 1200.4,923.0 1200.7,922.7 1201.0,922.5 1201.3,922.5 1201.6,922.9 1201.9,923.0 1202.2,922.4 1202.5,922.4 1202.8,922.4 1203.1,922.0 1203.4,921.8 1203.7,920.3 1204.0,921.5 1204.3,921.7 1204.6,921.0 1204.9,920.8 1205.2,918.9 1205.5,918.3 1205.8,919.1 1206.1,918.1 1206.4,917.5 1206.7,915.8 1207.0,914.2 1206.5,912.8 1208.4,910.3 1207.3,908.1 1208.9,905.4 1208.9,902.9 1209.8,900.3 1209.1,898.7 1209.4,898.0 1209.7,898.3 1209.9,900.2 1209.7,901.8 1210.0,905.7 1211.5,907.7 1211.2,909.3 1211.5,908.9 1211.8,909.8 1212.1,910.1 1212.4,909.9 1212.7,908.3 1213.0,907.8 1213.3,907.4 1213.6,907.4 1213.9,908.1 1214.2,909.1 1214.5,911.7 1214.8,913.4 1215.1,915.7 1215.4,915.7 1215.7,917.4 1216.0,917.7 1216.3,918.8 1216.6,919.5 1216.9,920.3 1217.2,920.8 1217.5,921.2 1217.8,921.3 1218.1,921.7 1218.4,922.0 1218.7,921.9 1219.0,921.9 1219.3,922.1 1219.6,922.3 1219.9,922.3 1220.2,922.8 1220.5,922.3 1220.8,923.9 1221.1,923.9 1221.4,922.7 1221.7,922.7 1222.0,922.9 1222.3,921.7 1222.6,921.7 1222.9,921.8 1223.2,921.8 1223.9,923.0 1224.6,923.4 1225.3,923.4 1226.0,923.3 1226.7,923.7 1227.4,923.6 1228.1,923.6 1228.8,923.4 1229.5,923.6 1230.2,923.7 1230.9,923.5 1231.6,922.4 1232.3,922.4 1233.0,922.4 1233.7,922.4 1234.4,923.5 1235.1,923.7 1235.8,923.4 1236.5,923.6 1237.2,923.6 1237.9,923.8 1238.6,922.3 1239.3,922.3 1240.0,922.3 1240.7,922.3 1241.4,923.7 1242.1,923.8 1242.8,923.4 1243.5,923.8 1244.2,923.7 1244.9,923.5 1245.6,923.5 1246.3,922.5 1247.0,922.5 1247.7,922.5 1248.4,923.9 1249.1,923.7 1249.8,923.4 1250.5,923.6 1251.2,924.8 1251.9,923.6 1252.6,923.9 1253.3,923.4 1254.0,923.6 1254.7,923.5 1255.4,922.5 1256.1,922.5 1256.8,922.5 1257.5,922.4 1258.2,922.4 1258.9,922.4 1259.6,923.5 1260.3,923.6 1261.0,923.6 1261.7,923.8 1262.4,923.7 1263.1,923.5 1263.8,923.7 1264.5,924.6 1265.2,924.6 1265.9,923.7 1266.6,923.9 1267.3,923.9 1268.0,923.4 1268.7,922.4 1269.4,922.4 1270.1,922.4 1270.8,922.4 1271.5,922.2 1272.2,922.2 1272.9,922.2 1273.6,923.8 1274.3,923.3 1275.0,923.8 1275.7,923.6 1276.4,923.8 1277.1,923.7 1277.8,923.5 1278.5,922.4 1279.2,922.4 1279.9,923.8 1280.6,923.6 1281.3,923.4 1282.0,923.6 1282.7,923.5 1283.4,922.2 1284.1,922.2 1284.8,923.6 1285.5,923.6 1286.2,923.7 1286.9,923.5 1287.6,923.7 1288.3,923.7 1289.0,923.7 1289.7,922.2 1290.4,922.2 1291.1,922.2 1291.8,922.2 1292.5,923.8 1293.2,923.2 1293.9,924.5 1294.6,923.7 1295.3,923.3 1296.0,923.7 1296.7,923.5 1297.4,923.4 1298.1,923.3 1298.8,923.8 1299.5,923.7 1300.2,923.5 1300.9,923.6 1301.6,923.6 1302.3,923.8 1303.0,923.4 1303.7,923.5 1304.4,923.8 1305.1,923.3 1305.8,923.6 1306.5,923.7 1307.2,923.6 1307.9,923.2 1308.6,923.8 1309.3,923.8 1310.0,923.9 1310.7,923.6 1311.4,923.7 1312.1,923.2 1312.8,923.5 1313.5,923.8 1314.2,923.5 1314.9,923.9 1315.6,923.9 1316.3,923.4 1317.0,923.4 1317.7,923.7 1318.4,923.8 1319.1,922.1 1319.8,922.1 1320.5,922.1 1321.2,923.8 1321.9,922.2 1322.6,923.7 1323.3,923.6 1324.0,923.2 1324.7,924.5 1325.4,924.5 1326.1,923.6 1326.8,923.9 1327.5,923.7 1328.2,923.3 1328.9,923.5 1329.6,923.5 1330.3,923.5 1331.0,923.3 1331.7,923.7 1332.4,923.5 1333.1,923.8 1333.8,923.6 1334.5,923.5 1335.2,923.5 1335.9,923.7 1336.6,922.2 1337.3,922.2 1338.0,923.4 1338.7,923.7 1339.4,923.3 1340.1,922.1 1340.8,922.1 1341.5,922.1 1342.2,922.2 1342.9,922.2 1343.6,922.2 1344.3,922.2 1345.0,923.4 1345.7,923.7 1346.4,923.0 1347.1,923.1 1347.8,923.6 1348.5,923.4 1349.2,923.5 1349.9,923.2 1350.6,923.6 1351.3,923.8 1352.0,923.7 1352.7,923.7 1353.4,923.6 1354.1,923.5 1354.8,924.0 1355.5,923.3 1356.2,922.3 1356.9,923.5 1357.6,923.5 1358.3,923.4 1359.0,923.6 1359.7,923.7 1360.4,923.4 1361.1,923.4 1361.8,923.8 1362.5,923.5 1363.2,923.3 1363.9,923.7 1364.6,923.6 1365.3,923.2 1366.0,923.3 1366.7,923.6 1367.4,923.7 1368.1,923.6 1368.8,923.4 1369.5,923.7 1370.2,923.4 1370.9,923.2 1371.6,923.4 1372.3,922.5 1373.0,922.5 1373.7,922.5 1374.4,923.7 1375.1,923.5 1375.8,923.3 1376.5,923.4 1377.2,923.9 1377.9,923.2 1378.6,923.4 1379.3,923.7 1380.0,923.3 1380.7,923.1 1381.4,923.7 1382.1,923.6 1382.8,923.4 1383.5,923.4 1384.2,923.5 1384.9,923.2 1385.6,923.6 1386.3,923.6 1387.0,923.4 1387.7,923.4 1388.4,923.8 1389.1,923.3 1389.8,923.3 1390.5,923.9 1391.2,923.7 1391.9,923.5 1392.6,923.0 1393.3,923.3 1394.0,923.4 1394.7,923.3 1395.4,923.2 1396.1,923.6 1396.8,923.2 1397.5,923.5 1398.2,923.2 1398.9,923.5 1399.6,923.5 1400.3,923.2 1401.0,923.5 1401.7,923.2 1402.4,923.2 1403.1,923.5 1403.8,923.6 1404.5,923.4 1405.2,923.3 1405.9,923.5 1406.6,923.7 1407.3,924.6 1408.0,924.6 1408.7,924.6 1409.4,924.6 1410.1,923.2 1410.8,923.6 1411.5,923.2 1412.2,923.7 1412.9,923.7 1413.6,923.4 1414.3,923.2 1415.0,923.6 1415.7,923.0 1416.4,923.2 1417.1,923.5 1417.8,923.5 1418.5,923.6 1419.2,923.3 1419.9,923.4 1420.6,923.4 1421.3,923.3 1422.0,922.1 1422.7,923.4 1423.4,923.3 1424.1,924.4 1424.8,924.4 1425.5,924.4 1426.2,924.4 1426.9,923.4 1427.6,923.7 1428.3,923.1 1429.0,923.4 1429.7,923.6 1430.4,923.3 1431.1,923.6 1431.8,923.5 1432.5,924.6 1433.2,924.6 1433.9,923.1 1434.6,923.3 1435.3,922.9 1436.0,923.4 1436.7,923.6 1437.4,923.2 1438.1,923.2 1438.8,923.4 1439.5,923.2 1440.2,922.2 1440.9,923.2 1441.6,923.6 1442.3,923.3 1443.0,923.3 1443.7,923.3 1444.4,923.3 1445.1,923.4 1445.8,922.0 1446.5,922.0 1447.2,922.0 1447.9,922.0 1448.6,923.2 1449.3,923.4 1450.0,923.5 1450.7,923.1 1451.4,923.3 1452.1,923.2 1452.8,923.4 1453.5,923.4 1454.2,923.5 1454.9,923.5 1455.6,923.3 1456.3,923.3 1457.0,923.6 1457.7,923.3 1458.4,923.3 1459.1,923.6 1459.8,923.2 1460.5,923.0 1461.2,923.0 1461.9,923.3 1462.6,923.4 1463.3,923.2 1464.0,922.0 1464.7,922.0 1465.4,922.0 1466.1,923.5 1466.8,923.4 1467.5,923.0 1468.2,923.4 1468.9,923.2 1469.6,923.3 1470.3,923.6 1471.0,923.3 1471.7,923.2 1472.4,923.1 1473.1,923.4 1473.8,923.1 1474.5,923.1 1475.2,923.3 1475.9,923.4 1476.6,923.2 1477.3,922.9 1478.0,923.3 1478.7,923.3 1479.4,923.4 1480.1,923.2 1480.8,923.0 1481.5,922.8 1482.2,923.2 1482.9,923.1 1483.6,923.4 1484.3,923.2 1485.0,923.2 1485.7,923.1 1486.4,923.3 1487.1,923.2 1487.8,923.4 1488.5,922.1 1489.2,922.1 1489.9,922.1 1490.6,922.1 1491.3,923.2 1492.0,923.1 1492.7,922.9 1493.4,922.9 1494.1,922.0 1494.8,922.0 1495.5,923.1 1496.2,923.1 1496.9,923.1 1497.6,923.2 1498.3,923.1 1499.0,922.6 1499.7,922.8 1500.4,922.8 1501.1,922.9 1501.8,922.0 1502.5,922.0 1503.2,922.0 1503.9,922.8 1504.6,923.2 1505.3,922.9 1506.0,923.1 1506.7,921.5 1507.4,921.5 1508.1,921.4 1508.4,921.4 1508.7,922.7 1509.0,923.0 1509.3,922.9 1509.6,922.9 1509.9,922.7 1510.2,922.9 1510.5,922.6 1510.8,922.5 1511.1,922.4 1511.4,922.5 1511.7,922.4 1512.0,922.5 1512.3,922.8 1512.6,922.5 1512.9,922.3 1513.2,922.3 1513.5,922.7 1513.8,923.7 1514.1,923.7 1514.4,923.6 1514.7,922.5 1515.0,922.6 1515.3,922.8 1515.6,922.4 1515.9,922.2 1516.2,921.9 1516.5,922.1 1516.8,921.9 1517.1,923.2 1517.4,923.2 1517.7,921.6 1518.0,921.8 1518.3,921.8 1518.6,921.7 1518.9,921.4 1519.2,921.1 1519.5,921.0 1519.8,920.9 1520.1,920.8 1520.4,920.6 1520.7,920.2 1521.0,920.0 1521.3,919.3 1521.6,918.8 1521.9,918.5 1522.2,916.5 1522.5,915.9 1522.8,915.1 1523.1,915.7 1523.4,914.9 1523.7,913.7 1524.0,912.5 1524.3,911.4 1524.6,910.1 1524.9,908.3 1525.2,907.5 1525.5,906.5 1525.8,906.0 1526.1,905.5 1526.4,905.6 1526.7,907.2 1527.0,907.9 1527.3,908.8 1527.6,907.5 1527.9,908.5 1528.2,909.4 1528.5,911.0 1528.8,911.5 1529.1,912.4 1529.4,912.5 1529.7,912.6 1530.0,911.9 1530.3,911.8 1530.6,911.7 1530.9,911.6 1531.2,912.7 1531.5,912.3 1531.8,912.4 1532.1,913.0 1532.4,913.1 1532.7,914.3 1533.0,914.5 1533.3,915.5 1533.6,915.9 1533.9,916.8 1534.2,917.4 1534.5,918.2 1534.8,918.7 1535.1,918.4 1535.4,918.5 1535.7,918.9 1536.0,919.2 1536.3,920.4 1536.6,920.6 1536.9,921.3 1537.2,921.0 1537.5,920.7 1537.8,921.1 1538.1,921.8 1538.4,921.9 1538.7,921.9 1539.0,921.9 1539.3,921.7 1539.6,922.5 1539.9,921.8 1540.2,922.1 1540.5,922.2 1540.8,922.2 1541.1,922.3 1541.4,922.3 1541.7,922.5 1542.0,922.5 1542.3,922.4 1542.6,922.4 1542.9,922.6 1543.2,922.1 1543.5,922.5 1543.8,922.7 1544.1,921.6 1544.4,921.6 1544.7,921.7 1545.0,922.3 1545.7,923.1 1546.4,922.6 1547.1,923.0 1547.8,922.7 1548.5,922.5 1549.2,922.4 1549.9,922.6 1550.6,923.0 1551.3,923.1 1552.0,922.6 1552.7,922.7 1553.4,923.2 1554.1,923.1 1554.8,922.7 1555.5,922.9 1556.2,923.3 1556.9,923.0 1557.6,922.9 1558.3,923.0 1559.0,923.0 1559.7,922.6 1560.4,922.9 1561.1,923.3 1561.8,923.1 1562.5,923.0 1563.2,922.9 1563.9,923.0 1564.6,923.0 1565.3,923.1 1566.0,922.8 1566.7,922.9 1567.4,922.9 1568.1,922.9 1568.8,923.0 1569.5,922.9 1570.2,923.0 1570.9,922.9 1571.6,921.7 1572.3,921.7 1573.0,921.7 1573.7,921.7 1574.4,923.1 1575.1,922.9 1575.8,923.2 1576.5,923.0 1577.2,922.9 1577.9,922.9 1578.6,922.9 1579.3,923.0 1580.0,923.2 1580.7,922.7 1581.4,922.9 1582.1,922.8 1582.8,922.7 1583.5,923.2 1584.2,923.3 1584.9,923.4 1585.6,923.0 1586.3,923.0 1587.0,922.8 1587.7,923.1 1588.4,922.9 1589.1,923.0 1589.8,923.0 1590.5,922.7 1591.2,922.8 1591.9,923.2 1592.6,923.2 1593.3,922.9 1594.0,923.1 1594.7,923.1 1595.4,922.7 1596.1,922.9 1596.8,922.9 1597.5,922.8 1598.2,922.8 1598.9,922.9 1599.6,922.9 1600.3,922.7 1601.0,923.0 1601.7,922.7 1602.4,923.0 1603.1,923.4 1603.8,922.9 1604.5,922.8 1605.2,922.9 1605.9,923.1 1606.6,922.9 1607.3,923.0 1608.0,923.0 1608.7,923.0 1609.4,922.9 1610.1,922.9 1610.8,923.0 1611.5,921.8 1612.2,921.8 1612.9,921.8 1613.6,923.0 1613.9,922.6 1614.2,923.0 1614.5,923.0 1614.8,922.7 1615.1,922.5 1615.4,924.1 1615.7,924.1 1616.0,921.4 1616.3,921.4 1616.6,921.4 1616.9,922.5 1617.2,922.7 1617.5,922.5 1617.8,922.4 1618.1,922.7 1618.4,922.6 1618.7,922.5 1619.0,922.6 1619.3,922.8 1619.6,922.2 1619.9,922.5 1620.2,922.5 1620.5,922.5 1620.8,922.6 1621.1,922.2 1621.4,922.5 1621.7,922.3 1622.0,922.5 1622.3,920.9 1622.6,920.9 1622.9,922.5 1623.2,922.0 1623.5,922.4 1623.8,922.1 1624.1,921.7 1624.4,922.0 1624.7,922.4 1625.0,921.9 1625.3,921.8 1625.6,921.9 1625.9,921.8 1626.2,921.7 1626.5,921.7 1626.8,921.6 1627.1,921.5 1627.4,921.3 1627.7,920.8 1628.0,920.8 1628.3,920.5 1628.6,920.1 1628.9,919.8 1629.2,919.3 1629.5,919.1 1629.8,918.4 1630.1,918.1 1630.4,917.4 1630.7,916.6 1631.0,916.1 1631.3,915.4 1631.6,914.5 1631.9,915.7 1632.2,915.1 1632.5,913.2 1632.8,912.8 1633.1,913.1 1633.4,913.0 1633.7,913.5 1634.0,915.2 1634.3,914.8 1634.6,915.1 1634.9,915.4 1635.2,915.5 1635.5,916.6 1635.8,916.6 1636.1,916.9 1636.4,917.1 1636.7,917.0 1637.0,917.3 1637.3,917.1 1637.6,917.3 1637.9,916.9 1638.2,917.1 1638.5,915.5 1638.8,915.5 1639.1,915.6 1639.4,915.7 1639.7,917.1 1640.0,917.5 1640.3,917.6 1640.6,918.4 1640.9,918.6 1641.2,919.1 1641.5,919.2 1641.8,919.8 1642.1,920.2 1642.4,920.5 1642.7,920.6 1643.0,920.8 1643.3,921.0 1643.6,920.1 1643.9,921.5 1644.2,921.3 1644.5,921.3 1644.8,921.8 1645.1,923.0 1645.4,922.1 1645.7,922.2 1646.0,922.3 1646.3,921.8 1646.6,922.3 1646.9,922.5 1647.2,922.2 1647.5,922.6 1647.8,921.3 1648.1,922.4 1648.4,922.5 1648.7,922.4 1649.0,922.6 1649.3,922.4 1649.6,922.4 1649.9,922.8 1650.2,923.1 1650.5,922.6 1650.8,922.7 1651.1,922.3 1651.4,922.5 1651.7,922.6 1652.0,922.3 1652.3,922.8 1652.6,922.6 1652.9,922.5 1653.6,922.9 1654.3,922.7 1655.0,922.6 1655.7,922.4 1656.4,922.9 1657.1,922.7 1657.8,922.7 1658.5,922.6 1659.2,922.6 1659.9,923.2 1660.6,922.4 1661.3,922.8 1662.0,922.9 1662.7,922.7 1663.4,922.7 1664.1,922.7 1664.8,922.8 1665.5,922.6 1666.2,923.0 1666.9,923.1 1667.6,923.1 1668.3,923.3 1669.0,923.1 1669.7,922.7 1670.4,922.7 1671.1,922.9 1671.8,921.6 1672.5,922.7 1673.2,922.9 1673.9,923.0 1674.6,922.8 1675.3,922.8 1676.0,922.9 1676.7,922.6 1677.4,923.2 1678.1,922.3 1678.8,922.9 1679.5,923.9 1680.2,923.9 1680.9,923.9 1681.6,923.9 1682.3,923.1 1683.0,921.7 1683.7,921.7 1684.4,921.7 1685.1,921.7 1685.8,922.9 1686.5,923.2 1687.2,922.9 1687.9,922.6 1688.6,922.9 1689.3,923.3 1690.0,923.2 1690.7,921.9 1691.4,921.9 1692.1,921.9 1692.8,921.9 1693.5,922.6 1694.2,922.9 1694.9,922.8 1695.6,922.7 1696.3,922.6 1697.0,922.7 1697.7,922.6 1698.4,922.8 1699.1,922.7 1699.8,923.1 1700.5,922.5 1701.2,922.8 1701.9,923.0 1702.6,922.7 1703.3,922.9 1704.0,923.0 1704.7,922.9 1705.4,922.7 1706.1,922.6 1706.8,922.9 1707.5,922.8 1708.2,922.7 1708.9,922.7 1709.6,922.8 1710.3,923.0 1711.0,922.8 1711.7,922.7 1712.4,923.0 1713.1,922.5 1713.8,923.0 1714.5,922.8 1715.2,923.0 1715.9,922.8 1716.6,922.8 1717.3,922.8 1718.0,923.0 1718.7,923.1 1719.4,923.0 1720.1,922.7 1720.8,922.7 1721.5,922.8 1722.2,922.9 1722.9,922.5 1723.6,922.6 1724.3,921.5 1725.0,921.5 1725.7,921.5 1726.4,922.8 1727.1,922.8 1727.8,921.3 1728.5,922.8 1729.2,922.9 1729.9,922.8 1730.6,922.5 1731.3,922.9 1732.0,923.2 1732.7,922.7 1733.4,922.8 1734.1,922.7 1734.8,921.7 1735.5,921.7 1736.2,921.7 1736.9,921.7 1737.6,922.9 1738.3,922.9 1739.0,922.6 1739.7,922.8 1740.4,922.8 1741.1,922.7 1741.8,922.7 1742.5,922.7 1743.2,922.7 1743.9,923.2 1744.6,922.7 1745.3,922.5 1746.0,921.6 1746.7,921.6 1747.4,921.6 1748.1,923.1 1748.8,922.8 1749.5,922.7 1750.2,922.7 1750.9,922.8 1751.6,922.4 1752.3,922.8 1753.0,922.9 1753.7,922.6 1754.4,922.9 1755.1,922.5 1755.8,923.0 1756.5,923.0 1757.2,922.9 1757.9,922.7 1758.6,922.7 1759.3,922.8 1760.0,922.7 1760.7,923.0 1761.4,922.8 1762.1,921.5 1762.8,921.5 1763.5,921.5 1764.2,921.5 1764.9,922.8 1765.6,922.8 1766.3,922.7 1767.0,923.1 1767.7,922.6 1768.4,922.9 1769.1,922.8 1769.8,922.8 1770.5,922.9 1771.2,922.7 1771.9,922.7 1772.6,923.0 1773.3,922.6 1774.0,922.8 1774.7,922.6 1775.4,922.8 1776.1,922.8 1776.8,922.8 1777.5,922.8 1778.2,922.6 1778.9,922.8 1779.6,922.8 1780.3,922.7 1781.0,922.7 1781.7,922.6 1782.4,922.6 1783.1,922.7 1783.8,922.9 1784.5,922.8 1785.2,922.6 1785.9,922.3 1786.6,923.0 1787.3,923.1 1788.0,922.6 1788.7,922.8 1789.4,922.4 1790.1,923.0 1790.8,922.6 1791.5,922.8 1792.2,922.8 1792.9,922.9 1793.6,922.7 1794.3,922.7 1795.0,921.7 1795.7,921.7 1796.4,922.8 1797.1,922.7 1797.8,922.6 1798.5,922.8 1799.2,923.1 1799.9,922.7 1800.6,922.7 1801.3,922.6 1802.0,922.8 1802.7,922.5 1803.4,922.5 1804.1,922.4 1804.8,921.4 1805.5,921.4 1806.2,921.4 1806.9,921.4 1807.6,922.6 1808.3,922.5 1809.0,922.4 1809.7,922.9 1810.4,922.8 1811.1,922.6 1811.8,922.6 1812.5,922.6 1813.2,922.6 1813.9,922.4 1814.6,922.5 1815.3,922.9 1816.0,922.8 1816.7,922.7 1817.4,922.8 1818.1,922.5 1818.8,922.8 1819.5,922.7 1820.2,922.8 1820.9,922.6 1821.6,922.6 1822.3,922.6 1823.0,922.9 1823.7,922.7 1824.4,922.4 1825.1,922.7 1825.8,922.4 1826.5,924.0 1827.2,924.0 1827.9,924.0 1828.6,922.4 1829.3,923.0 1830.0,922.8 1830.7,922.8 1831.4,922.6 1832.1,922.7 1832.8,923.9 1833.5,922.6 1834.2,923.1 1834.9,922.4 1835.6,922.9 1836.3,922.4 1837.0,922.4 1837.7,922.8 1838.4,922.6 1839.1,922.7 1839.8,922.5 1840.5,922.4 1841.2,922.6 1841.9,921.2 1842.6,921.2 1843.3,921.2 1844.0,921.2 1844.7,922.7 1845.4,922.7 1846.1,922.9 1846.8,922.8 1847.5,922.3 1848.2,922.6 1848.9,922.6 1849.6,922.7 1850.3,922.7 1851.0,921.6 1851.7,921.6 1852.4,922.6 1853.1,922.6 1853.8,922.6 1854.5,922.4 1855.2,922.6 1855.9,922.4 1856.6,922.7 1857.3,922.7 1858.0,922.9 1858.7,922.5 1859.4,922.9 1860.1,922.8 1860.8,922.6 1861.5,922.8 1862.2,922.6 1862.9,922.7 1863.6,922.7 1864.3,922.4 1865.0,922.8 1865.7,922.4 1866.4,923.0 1867.1,922.6 1867.8,922.6 1868.5,922.5 1869.2,922.7 1869.9,922.4 1870.6,922.7 1871.3,922.9 1872.0,922.6 1872.7,922.8 1873.4,922.6 1874.1,922.7 1874.8,922.7 1875.5,922.8 1876.2,921.6 1876.9,921.4 1877.6,921.4 1878.3,922.2 1879.0,922.4 1879.7,922.9 1880.4,922.7 1881.1,922.8 1881.8,922.4 1882.5,922.8 1883.2,922.7 1883.9,922.5 1884.6,922.7 1885.3,922.3 1886.0,922.4 1886.7,922.6 1887.4,922.3 1888.1,922.5 1888.8,922.7 1889.5,922.4 1890.2,922.6 1890.9,922.7 1891.6,922.7 1892.3,922.3 1893.0,922.3 1893.7,922.5 1894.4,922.4 1895.1,922.4 1895.8,922.6 1896.5,922.6 1897.2,922.4 1897.9,922.2 1898.6,922.7 1899.3,921.3 1900.0,921.3 1900.7,921.3 1901.4,921.3 1902.1,922.5 1902.8,922.1 1903.5,922.6 1904.2,922.4 1904.9,922.5 1905.6,922.3 1906.3,922.6 1907.0,922.7 1907.7,922.3 1909.0,922.3" fill="none" stroke="#0000ff" stroke-width="8.8" stroke-linejoin="round" stroke-linecap="butt"/>
<path d="M592.5,706.0 v4" fill="none" stroke="#0000ff" stroke-width="7.8" stroke-linecap="round"/>
<path d="M591.7,737.7 v4" fill="none" stroke="#0000ff" stroke-width="7.8" stroke-linecap="round"/>
<path d="M594.0,747.6 v4" fill="none" stroke="#0000ff" stroke-width="7.8" stroke-linecap="round"/>
<path d="M595.0,778.0 v4" fill="none" stroke="#0000ff" stroke-width="7.8" stroke-linecap="round"/>
<path d="M596.0,801.4 v4" fill="none" stroke="#0000ff" stroke-width="7.8" stroke-linecap="round"/>
<path d="M595.5,823.0 v4" fill="none" stroke="#0000ff" stroke-width="7.8" stroke-linecap="round"/>
<path d="M596.0,850.6 v4" fill="none" stroke="#0000ff" stroke-width="7.8" stroke-linecap="round"/>
<path d="M590.2,869.1 v4" fill="none" stroke="#0000ff" stroke-width="7.8" stroke-linecap="round"/>
<path d="M597.0,883.2 v4" fill="none" stroke="#0000ff" stroke-width="7.8" stroke-linecap="round"/>
<path d="M589.4,890.8 v4" fill="none" stroke="#0000ff" stroke-width="7.8" stroke-linecap="round"/>
<path d="M597.5,896.9 v4" fill="none" stroke="#0000ff" stroke-width="7.8" stroke-linecap="round"/>
<path d="M120.0,728.0 123.0,728.0 126.0,727.9 129.0,727.9 132.0,727.8 135.0,727.8 138.0,727.7 141.0,727.7 144.0,727.6 147.0,727.6 150.0,727.5 153.0,727.5 156.0,727.4 159.0,727.4 162.0,727.3 165.0,727.3 168.0,727.3 171.0,727.2 174.0,727.2 177.0,727.1 180.0,727.1 183.0,727.0 186.0,727.0 189.0,726.9 192.0,726.9 195.0,726.8 198.0,726.8 201.0,726.7 204.0,726.7 207.0,726.6 210.0,726.6 213.0,726.6 216.0,726.5 219.0,726.5 222.0,726.4 225.0,726.4 228.0,726.3 231.0,726.3 234.0,726.2 237.0,726.2 240.0,726.1 243.0,726.1 246.0,726.0 249.0,726.0 252.0,725.9 255.0,725.9 258.0,725.9 261.0,725.8 264.0,725.8 267.0,725.7 270.0,725.7 273.0,725.6 276.0,725.6 279.0,725.5 282.0,725.5 285.0,725.4 288.0,725.4 291.0,725.3 294.0,725.3 297.0,725.2 300.0,725.2 303.0,725.2 306.0,725.1 309.0,725.1 312.0,725.0 315.0,725.0 318.0,724.9 321.0,724.9 324.0,724.8 327.0,724.8 330.0,724.7 333.0,724.7 336.0,724.6 339.0,724.6 342.0,724.5 345.0,724.4 348.0,724.4 351.0,724.3 354.0,724.3 357.0,724.2 360.0,724.1 363.0,724.1 366.0,724.0 369.0,724.0 372.0,723.9 375.0,723.8 378.0,723.8 381.0,723.7 384.0,723.7 387.0,723.6 390.0,723.5 393.0,723.5 396.0,723.4 399.0,723.4 402.0,723.3 405.0,723.2 408.0,723.2 411.0,723.1 414.0,723.1 417.0,723.0 420.0,722.9 423.0,722.9 426.0,722.8 429.0,722.8 432.0,722.7 435.0,722.6 438.0,722.6 441.0,722.5 444.0,722.5 447.0,722.4 450.0,722.3 453.0,722.3 453.4,722.3 453.8,722.2 454.2,722.2 454.6,722.2 455.0,722.2 455.4,722.2 455.8,722.2 456.2,722.2 456.6,722.2 457.0,722.2 457.4,722.2 457.8,722.2 458.2,722.1 458.6,722.1 459.0,722.1 459.4,722.1 459.8,722.1 460.2,722.1 460.6,722.1 461.0,722.1 461.4,722.1 461.8,722.1 462.2,722.1 462.6,722.0 463.0,722.0 463.4,722.0 463.8,722.0 464.2,722.0 464.6,722.0 465.0,722.0 465.4,722.0 465.8,721.9 466.2,721.9 466.6,721.9 467.0,721.9 467.4,721.9 467.8,721.9 468.2,721.9 468.6,721.8 469.0,721.8 469.4,721.8 469.8,721.8 470.2,721.7 470.6,721.7 471.0,721.6 471.4,721.6 471.8,721.5 472.2,721.4 472.6,721.2 473.0,721.1 473.4,720.9 473.8,720.7 474.2,720.4 474.6,720.2 475.0,719.9 475.4,719.6 475.8,719.4 476.2,719.3 476.6,719.2 477.0,719.2 477.4,719.3 477.8,719.4 478.2,719.6 478.6,719.8 479.0,720.1 479.4,720.3 479.8,720.5 480.2,720.7 480.6,720.9 481.0,721.0 481.4,721.2 481.8,721.2 482.2,721.3 482.6,721.4 483.0,721.4 483.4,721.4 483.8,721.5 484.2,721.5 484.6,721.5 485.0,721.5 485.4,721.5 485.8,721.5 486.2,721.5 486.6,721.5 487.0,721.5 487.4,721.5 487.8,721.5 488.2,721.5 488.6,721.5 489.0,721.5 489.4,721.5 489.8,721.5 490.2,721.5 490.6,721.5 491.0,721.5 491.4,721.5 491.8,721.4 492.2,721.4 492.6,721.4 493.0,721.4 493.4,721.4 493.8,721.4 494.2,721.4 494.6,721.4 495.0,721.4 495.4,721.4 495.8,721.4 496.2,721.4 496.6,721.4 497.0,721.4 497.4,721.4 497.8,721.3 498.2,721.3 498.6,721.3 499.0,721.3 499.4,721.3 499.8,721.3 500.2,721.3 500.6,721.3 501.0,721.3 501.4,721.3 501.8,721.3 502.2,721.3 502.6,721.3 503.0,721.3 506.0,721.2 509.0,721.2 512.0,721.1 515.0,721.1 518.0,721.0 521.0,721.0 524.0,720.9 527.0,720.9 527.4,720.9 527.8,720.9 528.2,720.9 528.6,720.9 529.0,720.8 529.4,720.8 529.8,720.8 530.2,720.8 530.6,720.8 531.0,720.8 531.4,720.8 531.8,720.8 532.2,720.8 532.6,720.8 533.0,720.8 533.4,720.8 533.8,720.8 534.2,720.7 534.6,720.7 535.0,720.7 535.4,720.7 535.8,720.7 536.2,720.7 536.6,720.7 537.0,720.7 537.4,720.7 537.8,720.7 538.2,720.7 538.6,720.6 539.0,720.6 539.4,720.6 539.8,720.6 540.2,720.6 540.6,720.6 541.0,720.6 541.4,720.6 541.8,720.6 542.2,720.5 542.6,720.5 543.0,720.5 543.4,720.5 543.8,720.5 544.2,720.5 544.6,720.4 545.0,720.4 545.4,720.4 545.8,720.3 546.2,720.3 546.6,720.2 547.0,720.2 547.4,720.1 547.8,720.0 548.2,719.8 548.6,719.7 549.0,719.5 549.4,719.2 549.8,719.0 550.2,718.7 550.6,718.4 551.0,718.1 551.4,717.9 551.8,717.8 552.2,717.7 552.6,717.7 553.0,717.8 553.4,717.9 553.8,718.1 554.2,718.3 554.6,718.5 555.0,718.7 555.4,719.0 555.8,719.2 556.2,719.4 556.6,719.5 557.0,719.6 557.4,719.7 557.8,719.8 558.2,719.9 558.6,719.9 559.0,720.0 559.4,720.0 559.8,720.0 560.2,720.0 560.6,720.0 561.0,720.0 561.4,720.0 561.8,720.0 562.2,720.0 562.6,720.0 563.0,720.0 563.4,719.9 563.8,719.9 564.2,719.9 564.6,719.9 565.0,719.9 565.4,719.9 565.8,719.8 566.2,719.8 566.6,719.8 567.0,719.8 567.4,719.8 567.8,719.7 568.2,719.7 568.6,719.7 569.0,719.7 569.4,719.6 569.8,719.6 570.2,719.6 570.6,719.5 571.0,719.5 571.4,719.5 571.8,719.4 572.2,719.4 572.6,719.4 573.0,719.3 573.4,719.3 573.8,719.2 574.2,719.2 574.6,719.1 575.0,719.1 575.4,719.0 575.8,718.9 576.2,718.9 576.6,718.8 577.0,718.7 577.4,718.6 577.8,718.5 578.2,718.4 578.6,718.3 579.0,718.2 579.4,718.1 579.8,718.0 580.2,717.8 580.6,717.7 581.0,717.5 581.4,717.3 581.8,717.1 582.2,716.9 582.6,716.6 583.0,716.3 583.4,716.0 583.8,715.7 584.2,715.3 584.6,714.8 585.0,714.3 585.4,713.6 585.8,712.9 586.2,712.1 586.6,711.1 587.0,709.8 587.4,708.4 587.8,706.6 588.2,704.3 588.6,701.5 589.0,697.7 589.4,692.8 589.8,686.1 590.2,676.8 590.6,663.5 591.0,644.0 591.4,615.7 591.8,577.6 592.2,538.0 592.6,520.0 593.0,535.3 593.4,562.9 593.8,581.4 594.2,586.4 594.6,586.8 595.0,597.4 595.4,620.3 595.8,644.7 596.2,663.7 596.6,677.2 597.0,686.6 597.4,693.2 597.8,698.0 598.2,701.6 598.6,704.3 599.0,706.4 599.4,708.0 599.8,709.3 600.2,710.3 600.6,711.1 601.0,711.7 601.4,712.1 601.8,712.3 602.2,712.3 602.6,712.2 603.0,711.8 603.4,711.2 603.8,710.5 604.2,709.6 604.6,708.6 605.0,707.8 605.4,707.2 605.8,707.0 606.2,707.1 606.6,707.5 607.0,708.2 607.4,708.9 607.8,709.7 608.2,710.7 608.6,711.7 609.0,712.7 609.4,713.7 609.8,714.6 610.2,715.3 610.6,715.9 611.0,716.4 611.4,716.8 611.8,717.2 612.2,717.4 612.6,717.6 613.0,717.8 613.4,717.9 613.8,718.0 614.2,718.1 614.6,718.2 615.0,718.3 615.4,718.3 615.8,718.4 616.2,718.4 616.6,718.5 617.0,718.5 617.4,718.6 617.8,718.6 618.2,718.6 618.6,718.7 619.0,718.7 619.4,718.7 619.8,718.7 620.2,718.8 620.6,718.8 621.0,718.8 621.4,718.8 621.8,718.8 622.2,718.8 622.6,718.9 623.0,718.9 623.4,718.9 623.8,718.9 624.2,718.9 624.6,718.9 625.0,718.9 625.4,718.9 625.8,718.9 626.2,718.9 626.6,718.9 627.0,718.9 627.4,718.9 627.8,718.9 628.2,718.9 628.6,718.9 629.0,719.0 629.4,719.0 629.8,719.0 632.8,719.0 635.8,718.9 638.8,718.9 641.8,718.9 644.8,718.9 647.8,718.8 650.8,718.8 653.8,718.8 656.8,718.8 659.8,718.7 662.8,718.7 665.8,718.7 668.8,718.7 671.8,718.6 674.8,718.6 677.8,718.6 680.8,718.5 683.8,718.5 686.8,718.5 689.8,718.4 692.8,718.4 695.8,718.3 698.8,718.3 701.8,718.2 704.8,718.2 707.8,718.1 710.8,718.0 713.8,717.9 716.8,717.7 717.2,717.7 717.6,717.7 718.0,717.6 718.4,717.6 718.8,717.6 719.2,717.5 719.6,717.5 720.0,717.5 720.4,717.4 720.8,717.4 721.2,717.3 721.6,717.2 722.0,717.2 722.4,717.1 722.8,717.0 723.2,717.0 723.6,716.9 724.0,716.8 724.4,716.6 724.8,716.5 725.2,716.4 725.6,716.2 726.0,716.0 726.4,715.8 726.8,715.5 727.2,715.3 727.6,714.9 728.0,714.5 728.4,714.0 728.8,713.4 729.2,712.7 729.6,711.8 730.0,710.5 730.4,708.9 730.8,706.6 731.2,703.4 731.6,699.0 732.0,693.3 732.4,685.9 732.8,677.3 733.2,668.7 733.6,662.5 734.0,661.2 734.4,664.4 734.8,669.4 735.2,673.6 735.6,676.3 736.0,677.9 736.4,680.1 736.8,683.9 737.2,689.2 737.6,694.7 738.0,699.6 738.4,703.5 738.8,706.6 739.2,708.9 739.6,710.6 740.0,711.8 740.4,712.8 740.8,713.5 741.2,714.1 741.6,714.5 742.0,714.9 742.4,715.2 742.8,715.5 743.2,715.7 743.6,715.9 744.0,716.1 744.4,716.2 744.8,716.4 745.2,716.5 745.6,716.6 746.0,716.7 746.4,716.8 746.8,716.8 747.2,716.9 747.6,716.9 748.0,717.0 748.4,717.0 748.8,717.1 749.2,717.1 749.6,717.2 750.0,717.2 750.4,717.2 750.8,717.3 751.2,717.3 751.6,717.3 752.0,717.3 752.4,717.3 752.8,717.4 755.8,717.5 758.8,717.5 761.8,717.5 764.8,717.5 767.8,717.5 770.8,717.5 773.8,717.5 776.8,717.5 779.8,717.5 782.8,717.5 785.8,717.4 788.8,717.4 791.8,717.4 794.8,717.3 797.8,717.3 800.8,717.3 803.8,717.3 806.8,717.2 809.8,717.2 812.8,717.2 815.8,717.2 818.8,717.1 821.8,717.1 824.8,717.1 827.8,717.1 830.8,717.0 833.8,717.0 836.8,717.0 839.8,716.9 842.8,716.9 845.8,716.9 848.8,716.9 851.8,716.8 854.8,716.8 857.8,716.8 860.8,716.8 863.8,716.7 866.8,716.7 869.8,716.7 872.8,716.6 875.8,716.6 878.8,716.6 881.8,716.6 884.8,716.5 887.8,716.5 890.8,716.5 893.8,716.4 896.8,716.4 899.8,716.4 902.8,716.4 905.8,716.3 908.8,716.3 911.8,716.3 914.8,716.3 917.8,716.2 920.8,716.2 923.8,716.2 926.8,716.1 929.8,716.1 932.8,716.1 935.8,716.1 938.8,716.0 941.8,716.0 944.8,716.0 947.8,715.9 950.8,715.9 953.8,715.9 956.8,715.9 959.8,715.8 962.8,715.8 965.8,715.8 968.8,715.7 971.8,715.7 974.8,715.7 977.8,715.7 980.8,715.6 983.8,715.6 986.8,715.6 989.8,715.5 992.8,715.5 995.8,715.5 998.8,715.5 1001.8,715.4 1004.8,715.4 1007.8,715.4 1010.8,715.3 1013.8,715.3 1016.8,715.3 1019.8,715.3 1022.8,715.2 1025.8,715.2 1028.8,715.2 1031.8,715.1 1034.8,715.1 1037.8,715.1 1040.8,715.1 1043.8,715.0 1046.8,715.0 1049.8,715.0 1052.8,714.9 1055.8,714.9 1058.8,714.9 1061.8,714.9 1064.8,714.8 1067.8,714.8 1070.8,714.8 1073.8,714.8 1076.8,714.7 1079.8,714.7 1082.8,714.7 1085.8,714.6 1088.8,714.6 1091.8,714.6 1094.8,714.5 1097.8,714.5 1100.8,714.5 1103.8,714.5 1106.8,714.5 1109.8,714.5 1112.8,714.5 1115.8,714.5 1118.8,714.5 1121.8,714.4 1124.8,714.4 1127.8,714.4 1130.8,714.4 1133.8,714.4 1136.8,714.4 1139.8,714.4 1142.8,714.4 1145.8,714.4 1148.8,714.4 1151.8,714.4 1154.8,714.4 1157.8,714.3 1160.8,714.3 1163.8,714.3 1166.8,714.3 1169.8,714.3 1172.8,714.3 1175.8,714.3 1178.8,714.2 1181.8,714.2 1184.8,714.2 1187.8,714.1 1190.8,714.0 1191.2,714.0 1191.6,714.0 1192.0,714.0 1192.4,714.0 1192.8,713.9 1193.2,713.9 1193.6,713.9 1194.0,713.9 1194.4,713.9 1194.8,713.8 1195.2,713.8 1195.6,713.8 1196.0,713.7 1196.4,713.7 1196.8,713.7 1197.2,713.6 1197.6,713.6 1198.0,713.5 1198.4,713.5 1198.8,713.4 1199.2,713.3 1199.6,713.3 1200.0,713.2 1200.4,713.1 1200.8,712.9 1201.2,712.8 1201.6,712.7 1202.0,712.5 1202.4,712.3 1202.8,712.0 1203.2,711.7 1203.6,711.3 1204.0,710.8 1204.4,710.1 1204.8,709.2 1205.2,708.1 1205.6,706.5 1206.0,704.4 1206.4,701.8 1206.8,698.6 1207.2,694.9 1207.6,691.1 1208.0,688.2 1208.4,687.0 1208.8,688.0 1209.2,690.6 1209.6,693.7 1210.0,696.4 1210.4,698.4 1210.8,699.4 1211.2,699.7 1211.6,699.3 1212.0,698.6 1212.4,698.1 1212.8,698.5 1213.2,699.9 1213.6,701.9 1214.0,704.0 1214.4,705.9 1214.8,707.5 1215.2,708.8 1215.6,709.8 1216.0,710.6 1216.4,711.2 1216.8,711.7 1217.2,712.0 1217.6,712.3 1218.0,712.5 1218.4,712.7 1218.8,712.8 1219.2,713.0 1219.6,713.1 1220.0,713.2 1220.4,713.3 1220.8,713.3 1221.2,713.4 1221.6,713.5 1222.0,713.5 1222.4,713.6 1222.8,713.6 1223.2,713.6 1223.6,713.7 1224.0,713.7 1224.4,713.7 1224.8,713.8 1225.2,713.8 1225.6,713.8 1226.0,713.8 1226.4,713.8 1226.8,713.9 1227.2,713.9 1227.6,713.9 1228.0,713.9 1228.4,713.9 1228.8,713.9 1229.2,713.9 1232.2,714.0 1235.2,714.0 1238.2,714.1 1241.2,714.1 1244.2,714.1 1247.2,714.1 1250.2,714.1 1253.2,714.1 1256.2,714.1 1259.2,714.1 1262.2,714.1 1265.2,714.1 1268.2,714.1 1271.2,714.1 1274.2,714.1 1277.2,714.1 1280.2,714.1 1283.2,714.1 1286.2,714.1 1289.2,714.1 1292.2,714.1 1295.2,714.1 1298.2,714.1 1301.2,714.0 1304.2,714.0 1307.2,714.0 1310.2,714.0 1313.2,714.0 1316.2,714.0 1319.2,714.0 1322.2,714.0 1325.2,714.0 1328.2,714.0 1331.2,714.0 1334.2,714.0 1337.2,714.0 1340.2,714.0 1343.2,714.0 1346.2,713.9 1349.2,713.9 1352.2,713.9 1355.2,713.9 1358.2,713.9 1361.2,713.9 1364.2,713.9 1367.2,713.9 1370.2,713.9 1373.2,713.9 1376.2,713.9 1379.2,713.9 1382.2,713.9 1385.2,713.9 1388.2,713.9 1391.2,713.8 1394.2,713.8 1397.2,713.8 1400.2,713.8 1403.2,713.8 1406.2,713.8 1409.2,713.8 1412.2,713.8 1415.2,713.8 1418.2,713.8 1421.2,713.8 1424.2,713.8 1427.2,713.8 1430.2,713.8 1433.2,713.7 1436.2,713.7 1439.2,713.7 1442.2,713.7 1445.2,713.7 1448.2,713.7 1451.2,713.7 1454.2,713.7 1457.2,713.7 1460.2,713.7 1463.2,713.7 1466.2,713.7 1469.2,713.7 1472.2,713.7 1475.2,713.6 1478.2,713.6 1481.2,713.6 1484.2,713.6 1487.2,713.6 1490.2,713.6 1493.2,713.6 1496.2,713.5 1499.2,713.5 1502.2,713.4 1502.6,713.4 1503.0,713.4 1503.4,713.4 1503.8,713.4 1504.2,713.4 1504.6,713.4 1505.0,713.4 1505.4,713.3 1505.8,713.3 1506.2,713.3 1506.6,713.3 1507.0,713.3 1507.4,713.3 1507.8,713.3 1508.2,713.2 1508.6,713.2 1509.0,713.2 1509.4,713.2 1509.8,713.2 1510.2,713.1 1510.6,713.1 1511.0,713.1 1511.4,713.0 1511.8,713.0 1512.2,713.0 1512.6,712.9 1513.0,712.9 1513.4,712.8 1513.8,712.8 1514.2,712.7 1514.6,712.6 1515.0,712.5 1515.4,712.5 1515.8,712.4 1516.2,712.3 1516.6,712.1 1517.0,712.0 1517.4,711.8 1517.8,711.6 1518.2,711.4 1518.6,711.1 1519.0,710.8 1519.4,710.4 1519.8,709.9 1520.2,709.3 1520.6,708.5 1521.0,707.6 1521.4,706.4 1521.8,704.9 1522.2,703.1 1522.6,701.0 1523.0,698.7 1523.4,696.2 1523.8,693.9 1524.2,692.1 1524.6,691.2 1525.0,691.5 1525.4,692.8 1525.8,694.7 1526.2,696.7 1526.6,698.6 1527.0,700.1 1527.4,701.2 1527.8,701.9 1528.2,702.1 1528.6,702.0 1529.0,701.6 1529.4,701.1 1529.8,700.6 1530.2,700.5 1530.6,700.9 1531.0,701.8 1531.4,703.0 1531.8,704.4 1532.2,705.7 1532.6,706.9 1533.0,707.9 1533.4,708.8 1533.8,709.6 1534.2,710.2 1534.6,710.6 1535.0,711.0 1535.4,711.3 1535.8,711.6 1536.2,711.8 1536.6,712.0 1537.0,712.1 1537.4,712.3 1537.8,712.4 1538.2,712.5 1538.6,712.6 1539.0,712.6 1539.4,712.7 1539.8,712.8 1540.2,712.8 1540.6,712.9 1541.0,712.9 1541.4,712.9 1541.8,713.0 1542.2,713.0 1542.6,713.0 1543.0,713.1 1543.4,713.1 1543.8,713.1 1544.2,713.2 1544.6,713.2 1545.0,713.2 1545.4,713.2 1545.8,713.2 1546.2,713.2 1546.6,713.3 1547.0,713.3 1547.4,713.3 1547.8,713.3 1548.2,713.3 1548.6,713.3 1549.0,713.3 1549.4,713.3 1552.4,713.4 1555.4,713.4 1558.4,713.5 1561.4,713.5 1564.4,713.5 1567.4,713.5 1570.4,713.5 1573.4,713.5 1576.4,713.5 1579.4,713.5 1582.4,713.5 1585.4,713.5 1588.4,713.5 1591.4,713.5 1594.4,713.5 1597.4,713.5 1600.4,713.5 1603.4,713.5 1606.4,713.4 1606.8,713.4 1607.2,713.4 1607.6,713.4 1608.0,713.4 1608.4,713.4 1608.8,713.4 1609.2,713.4 1609.6,713.4 1610.0,713.4 1610.4,713.4 1610.8,713.4 1611.2,713.4 1611.6,713.4 1612.0,713.4 1612.4,713.4 1612.8,713.3 1613.2,713.3 1613.6,713.3 1614.0,713.3 1614.4,713.3 1614.8,713.3 1615.2,713.3 1615.6,713.3 1616.0,713.3 1616.4,713.3 1616.8,713.2 1617.2,713.2 1617.6,713.2 1618.0,713.2 1618.4,713.2 1618.8,713.1 1619.2,713.1 1619.6,713.1 1620.0,713.1 1620.4,713.0 1620.8,713.0 1621.2,713.0 1621.6,712.9 1622.0,712.9 1622.4,712.8 1622.8,712.7 1623.2,712.6 1623.6,712.6 1624.0,712.4 1624.4,712.3 1624.8,712.2 1625.2,712.0 1625.6,711.7 1626.0,711.4 1626.4,711.1 1626.8,710.6 1627.2,710.1 1627.6,709.5 1628.0,708.8 1628.4,708.1 1628.8,707.3 1629.2,706.4 1629.6,705.8 1630.0,705.3 1630.4,705.1 1630.8,705.3 1631.2,705.7 1631.6,706.3 1632.0,707.0 1632.4,707.6 1632.8,708.1 1633.2,708.5 1633.6,708.8 1634.0,709.0 1634.4,709.0 1634.8,709.0 1635.2,708.8 1635.6,708.7 1636.0,708.6 1636.4,708.5 1636.8,708.7 1637.2,708.9 1637.6,709.3 1638.0,709.7 1638.4,710.2 1638.8,710.6 1639.2,711.0 1639.6,711.4 1640.0,711.7 1640.4,711.9 1640.8,712.1 1641.2,712.3 1641.6,712.4 1642.0,712.6 1642.4,712.7 1642.8,712.7 1643.2,712.8 1643.6,712.9 1644.0,712.9 1644.4,713.0 1644.8,713.0 1645.2,713.0 1645.6,713.1 1646.0,713.1 1646.4,713.1 1646.8,713.1 1647.2,713.2 1647.6,713.2 1648.0,713.2 1648.4,713.2 1648.8,713.2 1649.2,713.2 1649.6,713.3 1650.0,713.3 1650.4,713.3 1650.8,713.3 1651.2,713.3 1651.6,713.3 1652.0,713.3 1652.4,713.3 1652.8,713.3 1653.2,713.3 1653.6,713.3 1654.0,713.3 1654.4,713.3 1654.8,713.3 1655.2,713.4 1655.6,713.4 1656.0,713.4 1656.4,713.4 1656.8,713.4 1657.2,713.4 1660.2,713.4 1663.2,713.4 1666.2,713.4 1669.2,713.4 1672.2,713.4 1675.2,713.4 1678.2,713.4 1681.2,713.4 1684.2,713.4 1687.2,713.4 1690.2,713.4 1693.2,713.4 1696.2,713.4 1699.2,713.4 1702.2,713.4 1705.2,713.4 1708.2,713.4 1711.2,713.4 1714.2,713.4 1717.2,713.4 1720.2,713.4 1723.2,713.4 1726.2,713.4 1729.2,713.4 1732.2,713.4 1735.2,713.4 1738.2,713.4 1741.2,713.4 1744.2,713.4 1747.2,713.4 1750.2,713.4 1753.2,713.4 1756.2,713.4 1759.2,713.4 1762.2,713.4 1765.2,713.4 1768.2,713.4 1771.2,713.4 1774.2,713.4 1777.2,713.3 1780.2,713.3 1783.2,713.3 1786.2,713.3 1789.2,713.3 1792.2,713.3 1795.2,713.3 1798.2,713.3 1801.2,713.3 1804.2,713.3 1807.2,713.3 1810.2,713.3 1813.2,713.3 1816.2,713.3 1819.2,713.3 1822.2,713.3 1825.2,713.3 1828.2,713.3 1831.2,713.3 1834.2,713.3 1837.2,713.3 1840.2,713.3 1843.2,713.3 1846.2,713.3 1849.2,713.3 1852.2,713.3 1855.2,713.3 1858.2,713.3 1861.2,713.3 1864.2,713.3 1867.2,713.2 1870.2,713.2 1873.2,713.2 1876.2,713.2 1879.2,713.2 1882.2,713.2 1885.2,713.2 1888.2,713.2 1891.2,713.2 1894.2,713.2 1897.2,713.2 1900.2,713.2 1903.2,713.2 1906.2,713.2 1909.2,713.2" fill="none" stroke="#ff00ff" stroke-width="6.4" stroke-linejoin="round" stroke-linecap="butt"/>
<path d="M120.0,727.6 120.7,727.6 121.4,727.8 122.1,727.9 122.8,728.1 123.5,727.9 124.2,728.0 124.9,729.3 125.6,729.3 126.3,729.3 127.0,727.9 127.7,728.0 128.4,728.1 129.1,728.2 129.8,728.1 130.5,728.1 131.2,728.0 131.9,727.8 132.6,728.0 133.3,728.0 134.0,727.9 134.7,728.0 135.4,727.9 136.1,727.7 136.8,728.1 137.5,728.1 138.2,727.8 138.9,728.0 139.6,727.8 140.3,727.6 141.0,727.7 141.7,727.6 142.4,727.1 143.1,728.0 143.8,727.5 144.5,727.4 145.2,727.6 145.9,727.6 146.6,727.7 147.3,727.6 148.0,727.7 148.7,727.7 149.4,727.6 150.1,727.8 150.8,726.3 151.5,727.2 152.2,727.1 152.9,727.4 153.6,727.5 154.3,727.3 155.0,727.9 155.7,727.5 156.4,727.6 157.1,727.6 157.8,727.5 158.5,727.5 159.2,727.4 159.9,727.3 160.6,727.0 161.3,727.0 162.0,727.3 162.7,727.6 163.4,727.1 164.1,727.1 164.8,727.2 165.5,727.3 166.2,727.3 166.9,727.2 167.6,727.2 168.3,727.0 169.0,727.2 169.7,727.4 170.4,727.1 171.1,727.3 171.8,727.0 172.5,727.1 173.2,727.4 173.9,727.3 174.6,727.6 175.3,727.3 176.0,727.3 176.7,727.2 177.4,725.9 178.1,725.8 178.8,725.8 179.5,727.3 180.2,725.6 180.9,727.1 181.6,727.2 182.3,727.3 183.0,726.9 183.7,727.1 184.4,726.9 185.1,727.1 185.8,727.3 186.5,726.9 187.2,726.9 187.9,726.7 188.6,727.1 189.3,726.9 190.0,727.0 190.7,726.9 191.4,727.1 192.1,726.9 192.8,726.8 193.5,726.9 194.2,727.3 194.9,727.0 195.6,727.0 196.3,726.7 197.0,726.7 197.7,728.1 198.4,728.1 199.1,728.1 199.8,726.8 200.5,726.7 201.2,726.9 201.9,726.5 202.6,726.6 203.3,726.6 204.0,726.7 204.7,726.5 205.4,726.9 206.1,726.8 206.8,726.8 207.5,726.7 208.2,726.6 208.9,726.7 209.6,726.8 210.3,726.5 211.0,726.6 211.7,726.7 212.4,726.4 213.1,726.5 213.8,726.3 214.5,726.4 215.2,726.5 215.9,726.5 216.6,726.7 217.3,726.7 218.0,726.4 218.7,726.6 219.4,726.6 220.1,726.5 220.8,726.5 221.5,726.2 222.2,726.5 222.9,726.3 223.6,726.2 224.3,726.7 225.0,726.5 225.7,726.5 226.4,726.3 227.1,726.5 227.8,726.6 228.5,726.1 229.2,726.3 229.9,726.4 230.6,726.4 231.3,726.3 232.0,726.2 232.7,726.5 233.4,726.3 234.1,726.2 234.8,726.1 235.5,726.2 236.2,726.3 236.9,726.4 237.6,726.2 238.3,726.3 239.0,726.3 239.7,726.1 240.4,726.4 241.1,726.1 241.8,726.2 242.5,726.2 243.2,726.1 243.9,726.0 244.6,726.2 245.3,724.7 246.0,724.6 246.7,727.0 247.4,726.9 248.1,726.9 248.8,726.9 249.5,726.2 250.2,725.8 250.9,726.3 251.6,725.8 252.3,726.0 253.0,725.9 253.7,726.2 254.4,726.0 255.1,725.7 255.8,726.1 256.5,725.7 257.2,725.9 257.9,725.7 258.6,725.6 259.3,726.1 260.0,725.7 260.7,725.5 261.4,724.8 262.1,724.8 262.8,724.8 263.5,724.8 264.2,725.8 264.9,725.7 265.6,725.4 266.3,725.6 267.0,725.6 267.7,725.6 268.4,725.8 269.1,725.6 269.8,725.9 270.5,725.6 271.2,726.0 271.9,725.5 272.6,725.4 273.3,725.4 274.0,725.6 274.7,725.6 275.4,725.5 276.1,725.8 276.8,725.8 277.5,725.6 278.2,725.8 278.9,725.2 279.6,725.4 280.3,725.8 281.0,725.3 281.7,725.2 282.4,725.5 283.1,725.1 283.8,725.3 284.5,725.3 285.2,725.8 285.9,725.4 286.6,725.6 287.3,725.1 288.0,725.4 288.7,725.3 289.4,725.4 290.1,725.4 290.8,725.2 291.5,725.4 292.2,725.4 292.9,725.1 293.6,725.1 294.3,725.4 295.0,725.2 295.7,725.5 296.4,725.4 297.1,725.4 297.8,725.4 298.5,725.2 299.2,724.9 299.9,725.3 300.6,725.3 301.3,725.2 302.0,725.2 302.7,725.4 303.4,725.1 304.1,725.4 304.8,725.4 305.5,725.1 306.2,724.8 306.9,725.0 307.6,725.2 308.3,725.1 309.0,725.2 309.7,725.1 310.4,725.0 311.1,725.1 311.8,725.2 312.5,724.7 313.2,724.7 313.9,724.9 314.6,725.2 315.3,724.9 316.0,724.8 316.7,725.1 317.4,724.8 318.1,724.7 318.8,725.0 319.5,724.5 320.2,725.0 320.9,725.2 321.6,724.9 322.3,724.9 323.0,724.9 323.7,724.8 324.4,725.2 325.1,724.6 325.8,723.8 326.5,724.7 327.2,724.6 327.9,724.7 328.6,724.6 329.3,724.9 330.0,724.6 330.7,725.2 331.4,724.8 332.1,724.3 332.8,724.6 333.5,725.1 334.2,724.4 334.9,724.7 335.6,724.9 336.3,724.7 337.0,725.0 337.7,724.1 338.4,724.8 339.1,724.7 339.8,724.6 340.5,724.6 341.2,724.4 341.9,724.2 342.6,724.5 343.3,724.5 344.0,724.4 344.7,724.4 345.4,724.4 346.1,724.5 346.8,724.4 347.5,724.1 348.2,724.4 348.9,724.3 349.6,724.4 350.3,724.4 351.0,724.0 351.7,724.3 352.4,724.3 353.1,724.4 353.8,724.2 354.5,724.5 355.2,724.3 355.9,723.9 356.6,724.0 357.3,724.1 358.0,724.3 358.7,724.0 359.4,724.1 360.1,724.4 360.8,723.8 361.5,724.4 362.2,724.0 362.9,723.9 363.6,723.9 364.3,724.0 365.0,723.5 365.7,723.9 366.4,725.1 367.1,725.1 367.8,725.1 368.5,724.0 369.2,724.2 369.9,723.9 370.6,722.7 371.3,723.8 372.0,723.8 372.7,723.6 373.4,723.8 374.1,725.2 374.8,723.9 375.5,724.0 376.2,723.9 376.9,723.8 377.6,723.6 378.3,723.7 379.0,723.3 379.7,723.6 380.4,723.6 381.1,724.0 381.8,723.5 382.5,723.9 383.2,723.8 383.9,723.5 384.6,723.7 385.3,723.5 386.0,723.8 386.7,723.7 387.4,723.8 388.1,723.4 388.8,723.5 389.5,723.4 390.2,723.5 390.9,723.5 391.6,723.5 392.3,723.3 393.0,722.1 393.7,722.1 394.4,722.1 395.1,723.2 395.8,723.6 396.5,722.1 397.2,722.1 397.9,723.4 398.6,723.2 399.3,723.2 400.0,723.5 400.7,723.5 401.4,723.5 402.1,723.5 402.8,723.4 403.5,723.4 404.2,723.4 404.9,723.2 405.6,723.0 406.3,723.3 407.0,723.3 407.7,723.1 408.4,723.5 409.1,723.1 409.8,722.9 410.5,723.3 411.2,723.0 411.9,722.9 412.6,722.1 413.3,723.3 414.0,723.1 414.7,722.9 415.4,721.9 416.1,722.8 416.8,722.9 417.5,722.9 418.2,723.0 418.9,722.7 419.6,723.4 420.3,722.9 421.0,722.9 421.7,722.7 422.4,723.1 423.1,723.1 423.8,723.0 424.5,723.3 425.2,722.9 425.9,722.9 426.6,722.7 427.3,722.7 428.0,723.1 428.7,722.9 429.4,722.6 430.1,722.9 430.8,722.9 431.5,722.3 432.2,722.7 432.9,722.6 433.6,722.5 434.3,722.9 435.0,722.5 435.7,722.8 436.4,722.8 437.1,722.7 437.8,723.0 438.5,722.5 439.2,722.6 439.9,722.6 440.6,722.5 441.3,722.3 442.0,722.7 442.7,722.6 443.4,721.2 444.1,721.2 444.8,721.2 445.5,722.5 446.2,722.4 446.9,722.5 447.6,722.5 448.3,722.4 449.0,722.5 449.7,722.5 450.4,722.0 451.1,721.8 451.8,723.6 452.5,723.6 453.2,723.6 453.9,723.5 454.6,722.1 455.3,723.3 456.0,722.2 456.7,722.2 457.4,723.1 458.1,723.1 458.8,723.6 459.1,723.6 459.4,723.6 459.7,722.1 460.0,723.5 460.3,723.4 460.6,723.4 460.9,723.4 461.2,722.1 461.5,722.3 461.8,722.1 462.1,722.0 462.4,722.1 462.7,721.6 463.0,722.1 463.3,721.9 463.6,720.8 463.9,720.8 464.2,720.8 464.5,720.8 464.8,722.2 465.1,722.1 465.4,721.7 465.7,722.0 466.0,721.9 466.3,721.9 466.6,720.6 466.9,720.6 467.2,722.2 467.5,722.3 467.8,721.7 468.1,721.7 468.4,721.9 468.7,721.9 469.0,723.2 469.3,723.2 469.6,721.5 469.9,721.9 470.2,721.8 470.5,721.4 470.8,721.2 471.1,721.6 471.4,721.7 471.7,721.4 472.0,721.6 472.3,721.1 472.6,721.5 472.9,721.0 473.2,720.9 473.5,720.8 473.8,720.6 474.1,720.6 474.4,720.4 474.7,720.3 475.0,720.1 475.3,719.4 475.6,719.6 475.9,719.3 476.2,719.2 476.5,719.3 476.8,719.2 477.1,719.3 477.4,719.4 477.7,719.5 478.0,719.4 478.3,719.3 478.6,719.7 478.9,720.0 479.2,720.2 479.5,720.0 479.8,720.5 480.1,721.0 480.4,720.8 480.7,721.1 481.0,721.0 481.3,721.3 481.6,721.4 481.9,721.3 482.2,721.3 482.5,721.5 482.8,721.5 483.1,721.2 483.4,721.4 483.7,721.7 484.0,721.4 484.3,721.2 484.6,721.5 484.9,721.5 485.2,721.6 485.5,722.9 485.8,721.5 486.1,721.4 486.4,721.4 486.7,721.7 487.0,721.6 487.3,721.4 487.6,721.3 487.9,721.2 488.2,721.6 488.5,721.6 488.8,721.2 489.1,721.0 489.4,721.5 489.7,721.4 490.0,722.7 490.3,722.7 490.6,722.7 490.9,721.6 491.2,721.4 491.5,721.6 491.8,721.3 492.1,721.4 492.4,721.6 492.7,721.4 493.0,721.3 493.3,721.3 493.6,721.5 493.9,721.2 494.2,720.9 494.5,721.4 494.8,721.4 495.5,721.6 496.2,721.4 496.9,720.3 497.6,721.3 498.3,721.1 499.0,721.2 499.7,721.2 500.4,721.4 501.1,721.0 501.8,721.3 502.5,721.3 503.2,721.2 503.9,721.2 504.6,722.6 505.3,722.6 506.0,721.2 506.7,721.0 507.4,720.9 508.1,721.2 508.8,721.2 509.5,721.4 510.2,721.3 510.9,721.0 511.6,720.9 512.3,721.1 513.0,721.4 513.7,721.2 514.4,721.1 515.1,721.4 515.8,721.1 516.5,721.0 517.2,721.1 517.9,721.0 518.6,719.7 519.3,719.7 520.0,719.6 520.7,719.6 521.4,719.6 522.1,721.0 522.8,720.6 523.5,721.0 524.2,721.1 524.9,721.0 525.6,720.8 526.3,721.0 527.0,721.0 527.7,720.6 528.4,720.9 529.1,720.7 529.8,720.6 530.5,720.9 531.2,720.9 531.9,719.3 532.6,720.7 533.3,720.6 534.0,720.9 534.7,720.8 535.0,720.6 535.3,720.8 535.6,720.7 535.9,720.7 536.2,720.4 536.5,720.8 536.8,720.7 537.1,720.4 537.4,720.9 537.7,721.9 538.0,721.9 538.3,721.9 538.6,721.9 538.9,720.7 539.2,720.6 539.5,720.5 539.8,720.8 540.1,720.7 540.4,720.4 540.7,720.8 541.0,720.2 541.3,720.8 541.6,720.7 541.9,720.4 542.2,720.6 542.5,720.6 542.8,720.4 543.1,720.1 543.4,720.8 543.7,720.4 544.0,719.0 544.3,719.0 544.6,719.1 544.9,719.1 545.2,719.1 545.5,719.1 545.8,720.0 546.1,720.3 546.4,720.5 546.7,719.7 547.0,720.1 547.3,720.1 547.6,720.1 547.9,720.3 548.2,720.0 548.5,719.5 548.8,719.7 549.1,719.3 549.4,719.1 549.7,719.2 550.0,719.2 550.3,718.8 550.6,718.3 550.9,718.3 551.2,717.9 551.5,718.1 551.8,717.5 552.1,717.6 552.4,717.6 552.7,717.8 553.0,717.7 553.3,717.8 553.6,717.7 553.9,718.3 554.2,718.3 554.5,718.2 554.8,718.6 555.1,718.6 555.4,718.5 555.7,719.0 556.0,719.4 556.3,719.4 556.6,719.4 556.9,719.8 557.2,718.2 557.5,718.8 557.8,718.8 558.1,720.3 558.4,719.9 558.7,720.2 559.0,720.1 559.3,720.1 559.6,719.9 559.9,718.7 560.2,719.9 560.5,720.1 560.8,720.1 561.1,720.4 561.4,719.9 561.7,720.1 562.0,720.3 562.3,720.3 562.6,719.9 562.9,720.0 563.2,720.1 563.5,719.7 563.8,719.7 564.1,720.3 564.4,719.8 564.7,719.8 565.0,719.8 565.3,719.7 565.6,720.1 565.9,720.3 566.2,719.8 566.5,719.9 566.8,719.7 567.1,719.9 567.4,719.7 567.7,719.8 568.0,719.6 568.3,720.0 568.6,719.6 568.9,719.6 569.2,719.7 569.5,719.7 569.8,719.8 570.1,719.7 570.4,719.4 571.1,719.5 571.8,719.5 572.5,719.1 573.2,719.2 573.9,719.4 574.6,719.1 575.3,719.0 576.0,718.7 576.7,718.6 577.4,718.6 578.1,718.5 578.8,718.2 579.5,718.3 580.2,717.9 580.9,717.5 581.6,718.7 582.3,718.3 583.0,716.4 583.3,716.0 583.6,716.0 583.9,715.3 584.2,715.1 584.5,715.2 584.8,714.5 585.1,714.0 585.4,713.4 585.7,713.0 586.0,711.4 586.3,710.7 586.6,709.9 586.9,709.0 587.2,707.9 587.5,706.7 587.8,705.3 588.1,705.2 588.4,703.0 589.7,700.6 589.5,697.7 589.5,694.6 589.5,689.6 589.0,684.3 589.5,676.7 591.2,667.4 590.2,654.7 590.7,637.9 591.4,615.7 592.7,587.9 591.9,556.7 592.2,530.5 592.6,520.2 593.5,529.3 594.1,549.3 592.5,567.9 594.5,581.2 594.0,586.1 594.4,586.2 594.4,587.7 596.0,597.1 595.6,614.2 596.0,632.8 594.9,649.9 596.7,663.9 597.5,674.1 596.5,682.2 597.8,688.5 596.8,693.6 598.3,697.1 597.5,700.3 598.9,702.5 598.6,704.4 598.9,706.9 599.2,708.3 599.5,708.5 599.8,709.2 600.1,710.1 600.4,710.9 600.7,711.4 601.0,711.8 601.3,712.5 601.6,712.6 601.9,712.6 602.2,712.4 602.5,712.0 602.8,711.8 603.1,711.6 603.4,711.4 603.7,710.5 604.0,710.2 604.3,709.1 604.6,708.8 604.9,706.7 605.2,706.2 605.5,705.8 605.8,707.1 606.1,707.2 606.4,707.4 606.7,707.8 607.0,708.2 607.3,708.6 607.6,709.3 607.9,709.8 608.2,709.3 608.5,710.1 608.8,712.3 609.1,713.0 609.4,713.7 609.7,714.1 610.0,714.9 610.3,715.5 610.6,716.1 610.9,716.2 611.2,716.5 611.5,717.1 611.8,717.4 612.1,717.5 612.4,716.2 612.7,716.3 613.0,716.5 613.3,716.6 613.6,718.2 613.9,718.4 614.2,717.9 614.5,718.2 614.8,718.4 615.1,717.2 615.4,717.3 615.7,717.3 616.0,718.6 616.3,718.2 616.6,718.5 616.9,718.5 617.2,718.7 617.5,718.5 617.8,718.7 618.1,718.8 618.4,719.0 618.7,718.6 619.0,718.9 619.3,718.6 619.6,718.8 619.9,719.1 620.2,718.9 620.5,717.6 620.8,717.6 621.1,717.6 621.4,718.6 621.7,718.6 622.0,718.8 622.3,718.6 623.0,719.0 623.7,719.1 624.4,719.0 625.1,719.0 625.8,719.1 626.5,719.2 627.2,718.9 627.9,719.0 628.6,719.0 629.3,718.9 630.0,718.8 630.7,719.1 631.4,718.9 632.1,719.9 632.8,719.9 633.5,719.9 634.2,719.9 634.9,718.9 635.6,719.0 636.3,718.9 637.0,719.0 637.7,718.0 638.4,719.0 639.1,718.9 639.8,718.7 640.5,717.7 641.2,717.9 641.9,717.9 642.6,718.9 643.3,718.9 644.0,719.0 644.7,719.1 645.4,718.8 646.1,719.0 646.8,718.9 647.5,718.9 648.2,718.5 648.9,719.1 649.6,720.2 650.3,718.9 651.0,718.8 651.7,718.8 652.4,718.8 653.1,719.0 653.8,718.4 654.5,719.0 655.2,718.9 655.9,719.0 656.6,719.0 657.3,718.6 658.0,718.6 658.7,718.8 659.4,717.6 660.1,717.5 660.8,718.7 661.5,719.1 662.2,718.9 662.9,718.6 663.6,718.6 664.3,718.8 665.0,719.1 665.7,718.5 666.4,717.6 667.1,717.6 667.8,717.6 668.5,717.6 669.2,718.6 669.9,718.3 670.6,718.6 671.3,718.8 672.0,717.6 672.7,717.6 673.4,717.6 674.1,718.7 674.8,718.5 675.5,718.5 676.2,718.4 676.9,718.7 677.6,718.5 678.3,718.8 679.0,718.5 679.7,718.6 680.4,718.6 681.1,718.6 681.8,718.6 682.5,718.5 683.2,718.8 683.9,718.5 684.6,718.3 685.3,718.7 686.0,718.3 686.7,718.8 687.4,718.4 688.1,718.4 688.8,718.5 689.5,718.1 690.2,718.3 690.9,717.4 691.6,717.4 692.3,717.4 693.0,718.4 693.7,718.1 694.4,718.4 695.1,718.4 695.8,718.4 696.5,718.6 697.2,718.2 697.9,716.8 698.6,716.8 699.3,718.2 700.0,718.3 700.7,719.3 701.4,719.3 702.1,719.3 702.8,718.2 703.5,718.1 704.2,718.4 704.9,718.0 705.6,718.1 706.3,719.2 707.0,719.2 707.7,719.2 708.4,719.2 709.1,717.7 709.8,716.8 710.5,716.7 711.2,716.7 711.9,716.7 712.6,717.9 713.3,718.0 714.0,717.8 714.7,717.8 715.4,717.6 716.1,717.8 716.8,717.9 717.5,717.9 718.2,717.9 718.9,717.7 719.6,717.6 720.3,717.5 721.0,717.5 721.7,717.3 722.0,717.2 722.3,717.1 722.6,717.0 722.9,717.0 723.2,716.6 723.5,717.1 723.8,716.9 724.1,716.6 724.4,715.7 724.7,715.6 725.0,716.2 725.3,716.1 725.6,716.1 725.9,716.1 726.2,715.7 726.5,715.8 726.8,715.6 727.1,715.5 727.4,715.3 727.7,715.1 728.0,714.5 728.3,714.0 728.6,713.7 728.9,713.3 729.2,712.4 729.5,710.6 729.8,709.8 730.1,708.7 730.4,707.4 730.7,707.1 731.7,705.2 731.4,702.5 731.4,699.0 731.6,695.1 731.9,689.7 732.9,682.4 733.0,677.1 733.9,670.5 734.2,665.3 733.3,663.1 734.0,662.6 733.4,664.7 734.9,668.3 734.9,670.7 734.4,673.3 735.5,675.8 735.8,677.0 736.1,678.3 735.8,679.6 737.2,682.8 736.0,686.3 736.7,690.5 737.8,695.3 738.1,698.2 737.4,701.7 738.3,704.1 738.9,706.4 739.1,708.4 739.4,709.9 739.7,710.9 740.0,710.9 740.3,712.6 740.6,713.2 740.9,713.3 741.2,714.1 741.5,714.5 741.8,714.8 742.1,714.7 742.4,715.1 742.7,715.6 743.0,715.6 743.3,716.0 743.6,716.0 743.9,716.0 744.2,716.0 744.5,716.6 744.8,716.6 745.1,716.4 745.4,716.4 745.7,716.7 746.0,716.6 746.3,716.6 746.6,716.8 747.3,717.0 748.0,717.0 748.7,716.9 749.4,717.1 750.1,717.4 750.8,717.1 751.5,718.7 752.2,718.8 752.9,717.4 753.6,716.5 754.3,716.5 755.0,716.5 755.7,717.6 756.4,717.5 757.1,717.3 757.8,717.6 758.5,717.5 759.2,717.8 759.9,717.2 760.6,717.4 761.3,717.6 762.0,717.9 762.7,717.6 763.4,717.4 764.1,717.4 764.8,717.4 765.5,717.6 766.2,717.7 766.9,717.3 767.6,717.6 768.3,717.5 769.0,717.9 769.7,717.6 770.4,717.8 771.1,717.6 771.8,717.4 772.5,717.8 773.2,719.0 773.9,718.9 774.6,718.9 775.3,717.4 776.0,717.7 776.7,717.6 777.4,717.2 778.1,718.4 778.8,718.4 779.5,718.4 780.2,718.4 780.9,717.8 781.6,717.5 782.3,717.6 783.0,717.4 783.7,717.1 784.4,717.6 785.1,717.8 785.8,717.3 786.5,717.5 787.2,717.5 787.9,717.6 788.6,717.6 789.3,716.5 790.0,716.5 790.7,716.5 791.4,716.5 792.1,717.6 792.8,717.6 793.5,717.5 794.2,717.1 794.9,717.0 795.6,717.7 796.3,716.4 797.0,716.4 797.7,716.4 798.4,716.4 799.1,717.2 799.8,717.3 800.5,717.0 801.2,717.1 801.9,717.5 802.6,717.4 803.3,717.1 804.0,717.1 804.7,717.4 805.4,717.4 806.1,715.9 806.8,715.9 807.5,715.9 808.2,717.4 808.9,717.3 809.6,717.5 810.3,717.1 811.0,717.3 811.7,717.4 812.4,717.2 813.1,717.1 813.8,717.0 814.5,718.6 815.2,718.6 815.9,717.3 816.6,717.1 817.3,717.1 818.0,716.9 818.7,717.0 819.4,716.0 820.1,717.0 820.8,717.0 821.5,717.3 822.2,716.9 822.9,717.5 823.6,717.2 824.3,717.0 825.0,717.1 825.7,716.9 826.4,717.1 827.1,717.0 827.8,717.2 828.5,717.0 829.2,717.0 829.9,717.2 830.6,717.0 831.3,716.9 832.0,717.4 832.7,717.0 833.4,717.2 834.1,716.5 834.8,716.7 835.5,716.9 836.2,717.0 836.9,716.7 837.6,717.0 838.3,717.2 839.0,715.8 839.7,715.8 840.4,715.8 841.1,716.9 841.8,717.0 842.5,717.1 843.2,716.3 843.9,716.8 844.6,716.8 845.3,716.8 846.0,715.9 846.7,716.8 847.4,716.8 848.1,716.7 848.8,716.7 849.5,716.6 850.2,717.0 850.9,718.2 851.6,718.2 852.3,718.2 853.0,718.2 853.7,716.6 854.4,716.9 855.1,716.9 855.8,715.3 856.5,716.6 857.2,716.6 857.9,716.9 858.6,716.9 859.3,717.0 860.0,716.8 860.7,716.8 861.4,716.8 862.1,716.9 862.8,716.9 863.5,716.9 864.2,715.6 864.9,715.6 865.6,715.6 866.3,715.3 867.0,715.3 867.7,715.3 868.4,716.4 869.1,716.6 869.8,716.6 870.5,716.9 871.2,717.1 871.9,716.5 872.6,716.4 873.3,716.4 874.0,716.6 874.7,716.7 875.4,716.8 876.1,715.7 876.8,715.7 877.5,716.7 878.2,716.5 878.9,716.6 879.6,716.4 880.3,716.7 881.0,716.7 881.7,716.8 882.4,715.3 883.1,715.3 883.8,715.3 884.5,715.2 885.2,716.6 885.9,716.7 886.6,716.4 887.3,715.3 888.0,715.3 888.7,715.3 889.4,716.7 890.1,716.4 890.8,716.4 891.5,716.8 892.2,716.5 892.9,716.3 893.6,717.6 894.3,717.6 895.0,717.6 895.7,714.9 896.4,714.9 897.1,714.9 897.8,716.2 898.5,716.4 899.2,716.2 899.9,716.4 900.6,717.7 901.3,717.7 902.0,717.7 902.7,717.7 903.4,716.3 904.1,716.4 904.8,716.0 905.5,716.2 906.2,716.4 906.9,716.3 907.6,716.3 908.3,716.3 909.0,716.1 909.7,716.1 910.4,716.3 911.1,716.5 911.8,715.2 912.5,715.2 913.2,715.2 913.9,716.2 914.6,716.3 915.3,715.9 916.0,716.4 916.7,716.2 917.4,716.3 918.1,716.2 918.8,716.1 919.5,715.9 920.2,716.4 920.9,715.9 921.6,716.2 922.3,716.1 923.0,716.0 923.7,716.2 924.4,716.4 925.1,716.3 925.8,716.2 926.5,716.5 927.2,716.0 927.9,716.2 928.6,716.3 929.3,716.0 930.0,715.9 930.7,716.1 931.4,716.1 932.1,715.8 932.8,716.2 933.5,716.4 934.2,715.7 934.9,714.6 935.6,715.9 936.3,716.0 937.0,715.8 937.7,716.1 938.4,715.9 939.1,715.9 939.8,716.1 940.5,716.1 941.2,716.2 941.9,715.9 942.6,714.6 943.3,715.9 944.0,715.9 944.7,715.9 945.4,715.8 946.1,715.9 946.8,716.0 947.5,715.9 948.2,715.7 948.9,716.0 949.6,716.1 950.3,715.7 951.0,714.5 951.7,714.5 952.4,714.5 953.1,714.4 953.8,715.8 954.5,715.8 955.2,716.0 955.9,715.9 956.6,715.8 957.3,714.8 958.0,714.7 958.7,716.0 959.4,716.1 960.1,715.9 960.8,715.9 961.5,715.9 962.2,715.7 962.9,715.9 963.6,715.5 964.3,715.5 965.0,715.6 965.7,715.6 966.4,715.4 967.1,715.8 967.8,714.5 968.5,714.5 969.2,715.7 969.9,715.6 970.6,715.8 971.3,715.7 972.0,715.8 972.7,715.7 973.4,715.8 974.1,715.7 974.8,716.1 975.5,715.6 976.2,715.5 976.9,715.6 977.6,715.8 978.3,715.6 979.0,715.3 979.7,715.3 980.4,715.6 981.1,715.4 981.8,715.9 982.5,715.8 983.2,715.5 983.9,715.7 984.6,714.6 985.3,715.4 986.0,715.7 986.7,715.5 987.4,715.8 988.1,715.3 988.8,715.5 989.5,715.9 990.2,715.6 990.9,715.4 991.6,715.8 992.3,715.7 993.0,715.8 993.7,715.5 994.4,715.5 995.1,715.3 995.8,715.5 996.5,715.5 997.2,715.5 997.9,715.8 998.6,715.5 999.3,715.2 1000.0,715.4 1000.7,715.4 1001.4,715.8 1002.1,715.4 1002.8,715.6 1003.5,715.3 1004.2,715.4 1004.9,714.5 1005.6,714.5 1006.3,714.5 1007.0,714.5 1007.7,715.4 1008.4,715.2 1009.1,715.1 1009.8,715.3 1010.5,715.3 1011.2,714.0 1011.9,714.0 1012.6,714.0 1013.3,715.3 1014.0,715.2 1014.7,715.1 1015.4,715.5 1016.1,715.1 1016.8,714.1 1017.5,715.4 1018.2,715.5 1018.9,715.2 1019.6,715.4 1020.3,715.5 1021.0,715.4 1021.7,715.2 1022.4,715.2 1023.1,715.0 1023.8,715.3 1024.5,715.0 1025.2,715.2 1025.9,714.0 1026.6,715.0 1027.3,715.2 1028.0,715.0 1028.7,715.2 1029.4,715.1 1030.1,715.3 1030.8,715.0 1031.5,715.5 1032.2,715.6 1032.9,715.2 1033.6,715.3 1034.3,714.8 1035.0,715.1 1035.7,714.8 1036.4,714.8 1037.1,715.3 1037.8,715.0 1038.5,715.1 1039.2,715.2 1039.9,715.2 1040.6,713.6 1041.3,713.6 1042.0,713.6 1042.7,713.6 1043.4,715.1 1044.1,715.3 1044.8,715.1 1045.5,714.9 1046.2,715.0 1046.9,714.9 1047.6,715.2 1048.3,714.7 1049.0,714.8 1049.7,715.2 1050.4,713.9 1051.1,713.9 1051.8,715.1 1052.5,713.5 1053.2,715.0 1053.9,714.8 1054.6,714.8 1055.3,715.3 1056.0,714.9 1056.7,714.3 1057.4,715.0 1058.1,715.0 1058.8,715.0 1059.5,714.8 1060.2,715.0 1060.9,715.1 1061.6,714.8 1062.3,715.1 1063.0,714.7 1063.7,715.1 1064.4,715.0 1065.1,714.9 1065.8,714.8 1066.5,715.0 1067.2,714.6 1067.9,714.6 1068.6,714.7 1069.3,714.6 1070.0,714.8 1070.7,714.9 1071.4,714.8 1072.1,715.0 1072.8,714.7 1073.5,715.0 1074.2,715.2 1074.9,714.7 1075.6,714.7 1076.3,714.7 1077.0,714.7 1077.7,715.2 1078.4,714.8 1079.1,714.8 1079.8,714.4 1080.5,714.4 1081.2,714.7 1081.9,713.7 1082.6,713.7 1083.3,713.7 1084.0,713.7 1084.7,714.6 1085.4,714.5 1086.1,714.6 1086.8,713.7 1087.5,713.6 1088.2,714.5 1088.9,714.6 1089.6,714.4 1090.3,714.7 1091.0,714.4 1091.7,714.0 1092.4,714.7 1093.1,714.8 1093.8,714.6 1094.5,714.7 1095.2,714.6 1095.9,714.4 1096.6,714.8 1097.3,714.6 1098.0,714.2 1098.7,714.7 1099.4,715.7 1100.1,715.7 1100.8,715.7 1101.5,713.1 1102.2,713.1 1102.9,714.5 1103.6,714.6 1104.3,715.9 1105.0,715.9 1105.7,715.9 1106.4,715.9 1107.1,714.4 1107.8,714.6 1108.5,714.7 1109.2,714.1 1109.9,714.7 1110.6,714.6 1111.3,714.6 1112.0,713.1 1112.7,713.1 1113.4,713.1 1114.1,713.1 1114.8,714.3 1115.5,714.1 1116.2,714.5 1116.9,714.7 1117.6,714.6 1118.3,714.8 1119.0,714.0 1119.7,714.3 1120.4,714.3 1121.1,714.2 1121.8,714.6 1122.5,714.7 1123.2,713.0 1123.9,713.0 1124.6,713.0 1125.3,714.6 1126.0,714.1 1126.7,714.6 1127.4,714.3 1128.1,714.5 1128.8,714.2 1129.5,714.1 1130.2,714.3 1130.9,714.3 1131.6,714.7 1132.3,714.4 1133.0,714.6 1133.7,714.6 1134.4,714.3 1135.1,714.5 1135.8,714.7 1136.5,714.2 1137.2,714.4 1137.9,714.3 1138.6,714.3 1139.3,714.1 1140.0,713.1 1140.7,713.1 1141.4,713.1 1142.1,714.1 1142.8,714.4 1143.5,714.5 1144.2,714.5 1144.9,714.2 1145.6,714.1 1146.3,714.3 1147.0,713.4 1147.7,713.4 1148.4,713.4 1149.1,713.4 1149.8,714.4 1150.5,714.4 1151.2,714.6 1151.9,714.3 1152.6,714.6 1153.3,714.5 1154.0,713.4 1154.7,713.4 1155.4,714.7 1156.1,714.3 1156.8,714.5 1157.5,714.5 1158.2,714.4 1158.9,714.2 1159.6,714.2 1160.3,714.1 1161.0,714.3 1161.7,712.8 1162.4,712.8 1163.1,712.8 1163.8,712.8 1164.5,714.7 1165.2,714.3 1165.9,714.4 1166.6,713.0 1167.3,714.4 1168.0,714.2 1168.7,714.1 1169.4,712.9 1170.1,712.9 1170.8,712.9 1171.5,714.4 1172.2,714.3 1172.9,714.3 1173.6,714.4 1174.3,714.2 1175.0,714.0 1175.7,714.3 1176.4,714.3 1177.1,714.2 1177.8,713.1 1178.5,713.1 1179.2,713.1 1179.9,714.1 1180.6,714.4 1181.3,714.3 1182.0,714.1 1182.7,714.2 1183.4,714.4 1184.1,713.9 1184.8,714.1 1185.5,714.1 1186.2,713.9 1186.9,714.4 1187.6,714.4 1188.3,714.0 1189.0,713.9 1189.7,713.9 1190.4,714.3 1191.1,714.2 1191.8,714.2 1192.5,714.0 1193.2,714.0 1193.9,713.8 1194.6,713.8 1194.9,713.9 1195.2,714.4 1195.5,714.0 1195.8,713.5 1196.1,713.8 1196.4,713.6 1196.7,713.7 1197.0,713.7 1197.3,713.6 1197.6,713.7 1197.9,713.5 1198.2,713.5 1198.5,713.4 1198.8,713.5 1199.1,713.3 1199.4,713.1 1199.7,713.1 1200.0,713.0 1200.3,713.2 1200.6,713.2 1200.9,712.8 1201.2,711.6 1201.5,711.4 1201.8,711.3 1202.1,712.2 1202.4,712.1 1202.7,712.0 1203.0,711.7 1203.3,711.4 1203.6,711.8 1203.9,710.7 1204.2,710.4 1204.5,709.8 1204.8,709.4 1205.1,708.2 1205.4,707.5 1205.7,705.7 1206.0,704.7 1206.5,702.6 1206.8,700.2 1207.6,697.6 1206.7,694.6 1208.5,692.1 1208.3,689.6 1208.1,687.5 1208.4,687.1 1208.7,687.7 1209.1,689.5 1209.4,690.4 1209.8,693.2 1209.1,696.9 1210.2,698.6 1210.5,699.8 1210.8,700.5 1211.1,699.7 1211.4,699.5 1211.7,698.0 1212.0,697.4 1212.3,697.0 1212.6,697.1 1212.9,698.7 1213.2,701.4 1213.5,701.5 1213.8,702.8 1214.1,704.7 1214.4,705.5 1214.7,707.3 1215.0,708.3 1215.3,709.1 1215.6,709.7 1215.9,710.4 1216.2,710.8 1216.5,711.1 1216.8,711.6 1217.1,711.9 1217.4,712.0 1217.7,711.9 1218.0,712.6 1218.3,712.7 1218.6,714.1 1218.9,712.7 1219.2,712.9 1219.5,713.1 1219.8,713.1 1220.1,713.1 1220.4,713.4 1220.7,713.2 1221.0,713.2 1221.3,713.3 1221.6,713.7 1221.9,713.7 1222.2,713.5 1222.9,713.7 1223.6,714.0 1224.3,713.7 1225.0,713.8 1225.7,714.1 1226.4,714.1 1227.1,713.7 1227.8,714.1 1228.5,713.7 1229.2,713.9 1229.9,714.0 1230.6,714.1 1231.3,714.0 1232.0,713.9 1232.7,713.7 1233.4,713.8 1234.1,714.1 1234.8,714.4 1235.5,714.0 1236.2,713.9 1236.9,712.8 1237.6,713.8 1238.3,714.1 1239.0,714.3 1239.7,714.0 1240.4,714.1 1241.1,714.2 1241.8,714.3 1242.5,714.2 1243.2,714.3 1243.9,713.8 1244.6,714.5 1245.3,714.3 1246.0,713.2 1246.7,713.2 1247.4,714.2 1248.1,714.3 1248.8,714.3 1249.5,713.8 1250.2,715.1 1250.9,715.1 1251.6,715.1 1252.3,715.1 1253.0,714.2 1253.7,714.3 1254.4,714.0 1255.1,713.9 1255.8,714.1 1256.5,714.0 1257.2,712.8 1257.9,712.8 1258.6,712.8 1259.3,714.0 1260.0,714.2 1260.7,713.0 1261.4,713.0 1262.1,714.1 1262.8,713.9 1263.5,714.4 1264.2,714.2 1264.9,713.9 1265.6,714.3 1266.3,714.2 1267.0,714.3 1267.7,715.5 1268.4,715.5 1269.1,715.5 1269.8,715.5 1270.5,714.2 1271.2,714.1 1271.9,714.1 1272.6,713.1 1273.3,713.1 1274.0,713.1 1274.7,714.3 1275.4,714.0 1276.1,714.1 1276.8,713.9 1277.5,714.1 1278.2,714.0 1278.9,713.8 1279.6,714.2 1280.3,714.5 1281.0,714.1 1281.7,713.8 1282.4,713.1 1283.1,713.1 1283.8,713.1 1284.5,713.1 1285.2,714.3 1285.9,714.3 1286.6,714.0 1287.3,714.3 1288.0,713.9 1288.7,714.2 1289.4,714.3 1290.1,714.2 1290.8,714.5 1291.5,714.0 1292.2,714.2 1292.9,714.0 1293.6,714.0 1294.3,714.3 1295.0,714.3 1295.7,713.9 1296.4,713.9 1297.1,714.2 1297.8,714.3 1298.5,714.3 1299.2,714.1 1299.9,714.3 1300.6,713.8 1301.3,713.9 1302.0,713.9 1302.7,714.0 1303.4,714.1 1304.1,713.9 1304.8,714.1 1305.5,714.2 1306.2,714.0 1306.9,713.9 1307.6,714.3 1308.3,714.4 1309.0,714.4 1309.7,714.0 1310.4,714.0 1311.1,714.0 1311.8,714.3 1312.5,713.9 1313.2,714.3 1313.9,714.0 1314.6,714.1 1315.3,714.0 1316.0,713.7 1316.7,713.8 1317.4,714.1 1318.1,713.7 1318.8,714.3 1319.5,713.9 1320.2,713.9 1320.9,714.1 1321.6,714.0 1322.3,714.1 1323.0,714.1 1323.7,712.9 1324.4,712.9 1325.1,713.9 1325.8,713.8 1326.5,714.1 1327.2,712.6 1327.9,712.6 1328.6,712.6 1329.3,712.6 1330.0,714.2 1330.7,713.9 1331.4,713.8 1332.1,713.9 1332.8,713.8 1333.5,714.1 1334.2,713.9 1334.9,713.8 1335.6,714.1 1336.3,714.2 1337.0,713.8 1337.7,714.3 1338.4,714.3 1339.1,714.1 1339.8,713.5 1340.5,714.0 1341.2,713.8 1341.9,714.4 1342.6,713.8 1343.3,713.9 1344.0,713.9 1344.7,713.5 1345.4,714.0 1346.1,714.0 1346.8,714.2 1347.5,713.8 1348.2,714.1 1348.9,713.9 1349.6,714.3 1350.3,713.9 1351.0,714.1 1351.7,713.8 1352.4,712.6 1353.1,712.6 1353.8,712.6 1354.5,712.6 1355.2,714.1 1355.9,714.0 1356.6,714.3 1357.3,713.9 1358.0,713.7 1358.7,713.9 1359.4,713.9 1360.1,714.1 1360.8,713.9 1361.5,714.1 1362.2,713.7 1362.9,713.7 1363.6,714.1 1364.3,713.9 1365.0,713.8 1365.7,713.7 1366.4,714.1 1367.1,714.0 1367.8,714.1 1368.5,713.8 1369.2,713.9 1369.9,714.0 1370.6,714.2 1371.3,714.0 1372.0,713.6 1372.7,713.9 1373.4,713.8 1374.1,713.7 1374.8,714.1 1375.5,713.7 1376.2,713.6 1376.9,713.9 1377.6,713.9 1378.3,713.9 1379.0,713.6 1379.7,713.9 1380.4,712.5 1381.1,712.5 1381.8,712.5 1382.5,713.4 1383.2,713.7 1383.9,713.8 1384.6,713.9 1385.3,714.3 1386.0,713.8 1386.7,713.9 1387.4,713.4 1388.1,713.9 1388.8,713.9 1389.5,713.6 1390.2,713.8 1390.9,712.8 1391.6,712.8 1392.3,712.8 1393.0,713.7 1393.7,713.5 1394.4,713.6 1395.1,713.5 1395.8,713.8 1396.5,715.3 1397.2,714.0 1397.9,715.2 1398.6,715.2 1399.3,713.8 1400.0,713.7 1400.7,713.6 1401.4,713.6 1402.1,714.0 1402.8,713.5 1403.5,713.8 1404.2,713.7 1404.9,713.7 1405.6,713.9 1406.3,713.7 1407.0,713.7 1407.7,713.6 1408.4,713.7 1409.1,713.9 1409.8,713.7 1410.5,713.7 1411.2,713.8 1411.9,713.4 1412.6,713.7 1413.3,713.6 1414.0,713.9 1414.7,713.9 1415.4,714.1 1416.1,713.7 1416.8,713.7 1417.5,714.0 1418.2,713.8 1418.9,713.8 1419.6,713.5 1420.3,714.1 1421.0,714.9 1421.7,713.8 1422.4,713.8 1423.1,713.9 1423.8,713.3 1424.5,713.7 1425.2,713.7 1425.9,713.7 1426.6,713.9 1427.3,712.7 1428.0,712.7 1428.7,712.7 1429.4,712.7 1430.1,713.8 1430.8,713.8 1431.5,713.8 1432.2,713.6 1432.9,713.7 1433.6,714.0 1434.3,713.8 1435.0,714.0 1435.7,713.6 1436.4,713.7 1437.1,713.7 1437.8,713.7 1438.5,713.9 1439.2,713.9 1439.9,713.9 1440.6,713.9 1441.3,713.4 1442.0,713.3 1442.7,713.7 1443.4,713.7 1444.1,713.6 1444.8,713.8 1445.5,713.4 1446.2,713.7 1446.9,713.6 1447.6,713.6 1448.3,713.5 1449.0,713.9 1449.7,713.7 1450.4,713.5 1451.1,713.7 1451.8,713.7 1452.5,713.7 1453.2,713.8 1453.9,713.8 1454.6,712.6 1455.3,713.6 1456.0,713.8 1456.7,713.7 1457.4,713.7 1458.1,713.9 1458.8,713.9 1459.5,713.8 1460.2,713.5 1460.9,713.7 1461.6,713.5 1462.3,713.7 1463.0,713.7 1463.7,713.7 1464.4,713.6 1465.1,712.4 1465.8,712.4 1466.5,712.4 1467.2,713.5 1467.9,713.3 1468.6,713.5 1469.3,713.6 1470.0,713.9 1470.7,713.7 1471.4,713.8 1472.1,713.7 1472.8,713.7 1473.5,713.8 1474.2,713.8 1474.9,713.6 1475.6,713.6 1476.3,713.8 1477.0,713.7 1477.7,714.0 1478.4,713.6 1479.1,713.4 1479.8,713.5 1480.5,713.9 1481.2,713.4 1481.9,713.6 1482.6,713.7 1483.3,713.6 1484.0,713.9 1484.7,713.9 1485.4,713.7 1486.1,713.6 1486.8,712.3 1487.5,712.3 1488.2,713.7 1488.9,713.7 1489.6,713.5 1490.3,712.6 1491.0,712.6 1491.7,713.6 1492.4,713.4 1493.1,713.7 1493.8,713.6 1494.5,713.8 1495.2,713.5 1495.9,713.7 1496.6,713.7 1497.3,713.8 1498.0,713.8 1498.7,713.8 1499.4,713.5 1500.1,713.6 1500.8,713.4 1501.5,713.3 1502.2,713.1 1502.9,713.1 1503.6,713.7 1504.3,713.6 1505.0,713.4 1505.7,713.1 1506.4,713.2 1507.1,713.3 1507.8,712.3 1508.5,713.8 1508.8,713.0 1509.1,713.2 1509.4,713.3 1509.7,713.0 1510.0,713.3 1510.3,711.8 1510.6,711.8 1510.9,711.8 1511.2,711.7 1511.5,712.7 1511.8,713.1 1512.1,712.9 1512.4,712.8 1512.7,713.0 1513.0,711.4 1513.3,711.4 1513.6,711.3 1513.9,712.5 1514.2,712.8 1514.5,712.7 1514.8,712.5 1515.1,712.9 1515.4,712.4 1515.7,712.4 1516.0,711.3 1516.3,711.2 1516.6,711.1 1516.9,711.9 1517.2,712.0 1517.5,712.0 1517.8,711.5 1518.1,711.3 1518.4,711.5 1518.7,711.0 1519.0,710.7 1519.3,710.5 1519.6,710.0 1519.9,710.1 1520.2,709.3 1520.5,708.6 1520.8,708.0 1521.1,707.1 1521.4,706.5 1521.7,705.5 1522.0,702.6 1522.3,702.5 1522.6,701.3 1522.9,699.3 1523.2,697.6 1523.5,695.7 1523.8,694.1 1524.1,692.8 1524.4,691.6 1524.7,691.0 1525.0,691.9 1525.3,692.3 1525.6,693.3 1525.9,695.5 1526.2,697.2 1526.5,698.0 1526.8,699.4 1527.1,700.5 1527.4,701.3 1527.7,701.9 1528.0,702.3 1528.3,702.3 1528.6,702.1 1528.9,701.5 1529.2,701.5 1529.5,701.2 1529.8,700.7 1530.1,700.4 1530.4,700.6 1530.7,701.1 1531.0,701.6 1531.3,701.5 1531.6,702.5 1531.9,703.5 1532.2,704.5 1532.5,706.6 1532.8,707.3 1533.1,708.0 1533.4,708.8 1533.7,709.2 1534.0,708.5 1534.3,708.9 1534.6,709.3 1534.9,709.6 1535.2,711.3 1535.5,711.3 1535.8,711.3 1536.1,712.1 1536.4,712.5 1536.7,711.9 1537.0,712.1 1537.3,712.3 1537.6,712.3 1537.9,713.6 1538.2,713.7 1538.5,713.7 1538.8,713.8 1539.1,712.9 1539.4,712.7 1539.7,712.7 1540.0,713.0 1540.3,713.1 1540.6,712.9 1540.9,713.0 1541.2,711.5 1541.5,711.5 1542.2,711.6 1542.9,712.8 1543.6,711.9 1544.3,711.8 1545.0,711.8 1545.7,711.8 1546.4,711.9 1547.1,713.3 1547.8,713.7 1548.5,713.5 1549.2,713.5 1549.9,713.5 1550.6,713.2 1551.3,713.2 1552.0,713.4 1552.7,713.3 1553.4,713.6 1554.1,713.3 1554.8,713.7 1555.5,713.4 1556.2,712.0 1556.9,713.3 1557.6,713.4 1558.3,713.3 1559.0,713.6 1559.7,713.6 1560.4,713.5 1561.1,713.5 1561.8,713.8 1562.5,713.7 1563.2,713.3 1563.9,713.3 1564.6,713.2 1565.3,713.6 1566.0,713.5 1566.7,713.6 1567.4,713.5 1568.1,713.5 1568.8,713.8 1569.5,713.4 1570.2,712.1 1570.9,712.1 1571.6,713.8 1572.3,713.4 1573.0,713.3 1573.7,713.8 1574.4,713.7 1575.1,713.6 1575.8,714.0 1576.5,713.4 1577.2,713.5 1577.9,714.6 1578.6,713.7 1579.3,713.6 1580.0,713.3 1580.7,713.2 1581.4,713.6 1582.1,712.2 1582.8,712.2 1583.5,712.2 1584.2,713.5 1584.9,713.6 1585.6,713.7 1586.3,713.7 1587.0,713.6 1587.7,713.5 1588.4,713.4 1589.1,713.4 1589.8,712.3 1590.5,714.9 1591.2,714.9 1591.9,714.9 1592.6,713.2 1593.3,713.4 1594.0,713.4 1594.7,713.3 1595.4,713.5 1596.1,713.4 1596.8,713.2 1597.5,713.5 1598.2,713.2 1598.9,713.3 1599.6,713.6 1600.3,713.3 1601.0,713.1 1601.7,713.7 1602.4,713.6 1603.1,713.2 1603.8,713.3 1604.5,713.5 1605.2,713.3 1605.9,713.2 1606.6,713.7 1607.3,713.4 1608.0,713.7 1608.7,713.2 1609.4,712.9 1610.1,713.4 1610.8,713.1 1611.5,713.5 1612.2,713.3 1612.5,713.4 1612.8,713.3 1613.1,713.3 1613.4,713.0 1613.7,713.0 1614.0,714.6 1614.3,714.6 1614.6,713.4 1614.9,713.1 1615.2,713.3 1615.5,713.4 1615.8,713.3 1616.1,713.2 1616.4,713.2 1616.7,713.3 1617.0,713.5 1617.3,713.7 1617.6,713.2 1617.9,713.2 1618.2,713.2 1618.5,713.2 1618.8,713.3 1619.1,713.4 1619.4,713.2 1619.7,713.2 1620.0,713.1 1620.3,711.6 1620.6,712.8 1620.9,712.8 1621.2,712.8 1621.5,712.9 1621.8,712.8 1622.1,712.7 1622.4,712.7 1622.7,712.8 1623.0,711.8 1623.3,711.7 1623.6,711.6 1623.9,711.6 1624.2,712.7 1624.5,712.6 1624.8,712.4 1625.1,712.0 1625.4,711.8 1625.7,711.8 1626.0,711.5 1626.3,711.2 1626.6,710.7 1626.9,709.0 1627.2,708.6 1627.5,709.9 1627.8,709.1 1628.1,708.7 1628.4,708.0 1628.7,707.2 1629.0,706.7 1629.3,706.4 1629.6,705.7 1629.9,704.2 1630.2,704.0 1630.5,704.0 1630.8,704.1 1631.1,705.7 1631.4,704.6 1631.7,705.0 1632.0,705.5 1632.3,706.0 1632.6,708.3 1632.9,708.2 1633.2,708.3 1633.5,708.6 1633.8,708.9 1634.1,709.0 1634.4,709.0 1634.7,709.1 1635.0,708.9 1635.3,708.6 1635.6,708.6 1635.9,708.7 1636.2,708.6 1636.5,708.4 1636.8,708.2 1637.1,708.5 1637.4,709.5 1637.7,709.5 1638.0,710.0 1638.3,710.4 1638.6,710.3 1638.9,710.7 1639.2,712.2 1639.5,711.0 1639.8,711.4 1640.1,711.8 1640.4,711.5 1640.7,711.8 1641.0,712.1 1641.3,712.2 1641.6,712.5 1641.9,712.5 1642.2,712.7 1642.5,712.7 1642.8,712.8 1643.1,712.7 1643.4,712.9 1643.7,713.3 1644.0,713.1 1644.3,712.7 1644.6,713.3 1644.9,713.2 1645.2,712.7 1645.5,713.0 1645.8,713.0 1646.1,713.0 1646.4,713.2 1646.7,713.2 1647.0,713.3 1647.3,713.4 1647.6,713.4 1647.9,713.0 1648.2,713.1 1648.5,713.4 1648.8,713.1 1649.1,713.3 1649.8,712.9 1650.5,713.3 1651.2,713.5 1651.9,713.6 1652.6,713.2 1653.3,713.1 1654.0,713.5 1654.7,713.2 1655.4,713.3 1656.1,713.6 1656.8,713.4 1657.5,712.9 1658.2,713.4 1658.9,713.2 1659.6,713.3 1660.3,713.8 1661.0,713.3 1661.7,712.1 1662.4,713.5 1663.1,713.5 1663.8,713.4 1664.5,713.3 1665.2,713.7 1665.9,713.7 1666.6,713.4 1667.3,713.3 1668.0,713.4 1668.7,711.9 1669.4,711.9 1670.1,711.9 1670.8,712.0 1671.5,712.1 1672.2,712.1 1672.9,712.1 1673.6,712.1 1674.3,713.3 1675.0,713.4 1675.7,713.4 1676.4,713.4 1677.1,713.5 1677.8,713.5 1678.5,713.4 1679.2,713.7 1679.9,713.4 1680.6,712.0 1681.3,712.0 1682.0,712.0 1682.7,712.0 1683.4,713.2 1684.1,713.7 1684.8,713.6 1685.5,713.3 1686.2,713.3 1686.9,713.6 1687.6,713.4 1688.3,713.4 1689.0,713.4 1689.7,713.3 1690.4,713.4 1691.1,713.5 1691.8,713.4 1692.5,713.4 1693.2,713.9 1693.9,713.6 1694.6,713.3 1695.3,713.2 1696.0,713.8 1696.7,713.6 1697.4,713.5 1698.1,713.6 1698.8,713.5 1699.5,713.7 1700.2,713.3 1700.9,713.2 1701.6,713.5 1702.3,713.4 1703.0,713.5 1703.7,713.5 1704.4,712.2 1705.1,712.2 1705.8,712.2 1706.5,712.2 1707.2,713.4 1707.9,713.3 1708.6,713.5 1709.3,713.2 1710.0,713.6 1710.7,713.1 1711.4,713.5 1712.1,713.5 1712.8,713.5 1713.5,713.4 1714.2,713.3 1714.9,713.0 1715.6,713.3 1716.3,714.8 1717.0,714.8 1717.7,714.8 1718.4,713.5 1719.1,713.5 1719.8,713.2 1720.5,713.5 1721.2,713.7 1721.9,713.4 1722.6,712.3 1723.3,712.3 1724.0,713.2 1724.7,713.5 1725.4,713.6 1726.1,713.1 1726.8,713.1 1727.5,713.1 1728.2,713.4 1728.9,713.0 1729.6,713.3 1730.3,713.4 1731.0,713.6 1731.7,713.5 1732.4,713.4 1733.1,713.4 1733.8,713.3 1734.5,713.3 1735.2,712.1 1735.9,713.2 1736.6,713.4 1737.3,713.5 1738.0,713.2 1738.7,713.7 1739.4,713.3 1740.1,713.3 1740.8,713.6 1741.5,712.3 1742.2,712.3 1742.9,713.5 1743.6,713.3 1744.3,713.8 1745.0,713.3 1745.7,713.4 1746.4,713.5 1747.1,713.2 1747.8,713.7 1748.5,712.0 1749.2,712.0 1749.9,713.3 1750.6,713.5 1751.3,713.4 1752.0,713.4 1752.7,713.5 1753.4,713.5 1754.1,713.3 1754.8,713.4 1755.5,713.4 1756.2,713.4 1756.9,713.3 1757.6,713.3 1758.3,713.5 1759.0,713.7 1759.7,712.4 1760.4,713.1 1761.1,713.5 1761.8,713.4 1762.5,713.6 1763.2,713.6 1763.9,713.6 1764.6,713.3 1765.3,713.3 1766.0,713.4 1766.7,713.7 1767.4,713.4 1768.1,713.5 1768.8,714.7 1769.5,713.6 1770.2,713.3 1770.9,713.2 1771.6,713.5 1772.3,713.2 1773.0,713.4 1773.7,713.1 1774.4,713.5 1775.1,713.0 1775.8,713.2 1776.5,713.6 1777.2,713.3 1777.9,713.3 1778.6,713.5 1779.3,713.3 1780.0,713.0 1780.7,714.7 1781.4,714.7 1782.1,713.5 1782.8,713.2 1783.5,713.3 1784.2,713.4 1784.9,713.6 1785.6,713.4 1786.3,713.2 1787.0,712.4 1787.7,713.5 1788.4,713.3 1789.1,713.2 1789.8,713.4 1790.5,713.6 1791.2,713.4 1791.9,713.0 1792.6,713.3 1793.3,712.9 1794.0,713.1 1794.7,712.0 1795.4,712.0 1796.1,712.0 1796.8,713.3 1797.5,713.4 1798.2,713.3 1798.9,713.4 1799.6,713.4 1800.3,713.4 1801.0,713.4 1801.7,713.1 1802.4,713.3 1803.1,713.7 1803.8,713.3 1804.5,713.5 1805.2,712.9 1805.9,713.5 1806.6,713.1 1807.3,713.6 1808.0,713.7 1808.7,713.4 1809.4,713.3 1810.1,713.3 1810.8,714.7 1811.5,714.7 1812.2,714.7 1812.9,713.5 1813.6,713.7 1814.3,713.2 1815.0,713.5 1815.7,713.7 1816.4,713.4 1817.1,713.0 1817.8,713.6 1818.5,713.4 1819.2,713.3 1819.9,713.3 1820.6,713.3 1821.3,713.1 1822.0,713.3 1822.7,713.2 1823.4,711.9 1824.1,711.9 1824.8,713.2 1825.5,713.2 1826.2,713.5 1826.9,713.5 1827.6,713.2 1828.3,712.9 1829.0,713.3 1829.7,713.2 1830.4,713.1 1831.1,713.3 1831.8,713.2 1832.5,713.4 1833.2,713.5 1833.9,713.2 1834.6,713.5 1835.3,713.4 1836.0,713.0 1836.7,713.4 1837.4,713.1 1838.1,713.4 1838.8,713.4 1839.5,713.3 1840.2,713.2 1840.9,713.5 1841.6,713.3 1842.3,713.3 1843.0,713.4 1843.7,713.1 1844.4,712.7 1845.1,713.3 1845.8,713.0 1846.5,713.3 1847.2,713.5 1847.9,713.2 1848.6,713.4 1849.3,713.3 1850.0,713.2 1850.7,713.5 1851.4,712.9 1852.1,713.2 1852.8,713.3 1853.5,713.4 1854.2,713.5 1854.9,713.3 1855.6,713.1 1856.3,713.4 1857.0,713.2 1857.7,713.2 1858.4,713.4 1859.1,713.4 1859.8,713.2 1860.5,713.6 1861.2,713.2 1861.9,712.9 1862.6,713.1 1863.3,713.2 1864.0,713.3 1864.7,713.3 1865.4,713.5 1866.1,713.1 1866.8,713.1 1867.5,713.2 1868.2,713.4 1868.9,713.4 1869.6,713.1 1870.3,711.9 1871.0,713.4 1871.7,713.1 1872.4,713.4 1873.1,713.3 1873.8,713.2 1874.5,713.3 1875.2,713.0 1875.9,714.2 1876.6,714.2 1877.3,714.2 1878.0,713.2 1878.7,712.9 1879.4,713.0 1880.1,713.3 1880.8,713.3 1881.5,713.3 1882.2,712.9 1882.9,713.2 1883.6,713.1 1884.3,713.2 1885.0,713.4 1885.7,713.0 1886.4,713.0 1887.1,713.2 1887.8,713.1 1888.5,712.0 1889.2,712.0 1889.9,712.0 1890.6,712.0 1891.3,713.0 1892.0,713.2 1892.7,713.1 1893.4,713.3 1894.1,712.0 1894.8,713.2 1895.5,713.3 1896.2,713.2 1896.9,713.1 1897.6,713.2 1898.3,713.4 1899.0,713.3 1899.7,713.5 1900.4,713.2 1901.1,713.3 1901.8,713.2 1902.5,713.4 1903.2,713.3 1903.9,713.5 1904.6,713.3 1905.3,712.9 1906.0,713.3 1906.7,713.1 1907.4,713.1 1908.1,711.8 1909.0,711.8" fill="none" stroke="#ff00ff" stroke-width="8.6" stroke-linejoin="round" stroke-linecap="butt"/>
<path d="M120.0,511.1 123.0,511.0 126.0,511.0 129.0,510.9 132.0,510.9 135.0,510.8 138.0,510.8 141.0,510.7 144.0,510.7 147.0,510.6 150.0,510.5 153.0,510.5 156.0,510.4 159.0,510.4 162.0,510.3 165.0,510.3 168.0,510.2 171.0,510.2 174.0,510.1 177.0,510.1 180.0,510.0 183.0,509.9 186.0,509.9 189.0,509.8 192.0,509.8 195.0,509.7 198.0,509.7 201.0,509.6 204.0,509.6 207.0,509.5 210.0,509.4 213.0,509.4 216.0,509.3 219.0,509.3 222.0,509.2 225.0,509.2 228.0,509.1 231.0,509.1 234.0,509.0 237.0,508.9 240.0,508.9 243.0,508.8 246.0,508.8 249.0,508.7 252.0,508.7 255.0,508.6 258.0,508.6 261.0,508.5 264.0,508.5 267.0,508.4 270.0,508.3 273.0,508.3 276.0,508.2 279.0,508.2 282.0,508.1 285.0,508.1 288.0,508.0 291.0,508.0 294.0,507.9 297.0,507.8 300.0,507.8 303.0,507.7 306.0,507.7 309.0,507.6 312.0,507.6 315.0,507.5 318.0,507.5 321.0,507.4 324.0,507.3 327.0,507.3 330.0,507.2 333.0,507.2 336.0,507.1 339.0,507.0 342.0,506.9 345.0,506.9 348.0,506.8 351.0,506.7 354.0,506.6 357.0,506.6 360.0,506.5 363.0,506.4 366.0,506.3 369.0,506.2 372.0,506.2 375.0,506.1 378.0,506.0 381.0,505.9 384.0,505.8 387.0,505.8 390.0,505.7 393.0,505.6 396.0,505.5 399.0,505.4 402.0,505.4 402.4,505.3 402.8,505.3 403.2,505.3 403.6,505.3 404.0,505.3 404.4,505.3 404.8,505.3 405.2,505.3 405.6,505.3 406.0,505.2 406.4,505.2 406.8,505.2 407.2,505.2 407.6,505.2 408.0,505.2 408.4,505.2 408.8,505.2 409.2,505.1 409.6,505.1 410.0,505.1 410.4,505.1 410.8,505.1 411.2,505.1 411.6,505.1 412.0,505.0 412.4,505.0 412.8,505.0 413.2,505.0 413.6,505.0 414.0,505.0 414.4,504.9 414.8,504.9 415.2,504.9 415.6,504.9 416.0,504.9 416.4,504.8 416.8,504.8 417.2,504.8 417.6,504.7 418.0,504.7 418.4,504.6 418.8,504.6 419.2,504.5 419.6,504.3 420.0,504.2 420.4,504.0 420.8,503.7 421.2,503.4 421.6,503.0 422.0,502.5 422.4,502.0 422.8,501.4 423.2,500.9 423.6,500.5 424.0,500.2 424.4,500.1 424.8,500.2 425.2,500.4 425.6,500.7 426.0,501.1 426.4,501.6 426.8,502.1 427.2,502.5 427.6,502.9 428.0,503.3 428.4,503.6 428.8,503.8 429.2,504.0 429.6,504.1 430.0,504.2 430.4,504.3 430.8,504.3 431.2,504.3 431.6,504.4 432.0,504.4 432.4,504.4 432.8,504.4 433.2,504.4 433.6,504.4 434.0,504.4 434.4,504.4 434.8,504.4 435.2,504.4 435.6,504.4 436.0,504.4 436.4,504.4 436.8,504.4 437.2,504.4 437.6,504.4 438.0,504.4 438.4,504.4 438.8,504.4 439.2,504.4 439.6,504.3 440.0,504.3 440.4,504.3 440.8,504.3 441.2,504.3 441.6,504.3 442.0,504.3 442.4,504.3 442.8,504.3 443.2,504.3 443.6,504.3 444.0,504.3 444.4,504.2 444.8,504.2 445.2,504.2 445.6,504.2 446.0,504.2 446.4,504.2 446.8,504.2 447.2,504.2 447.6,504.2 448.0,504.2 448.4,504.2 451.4,504.1 454.4,504.0 457.4,503.9 460.4,503.8 463.4,503.8 466.4,503.7 469.4,503.6 472.4,503.5 475.4,503.5 478.4,503.4 481.4,503.3 484.4,503.2 487.4,503.1 490.4,503.1 493.4,503.0 496.4,502.9 499.4,502.8 502.4,502.8 505.4,502.7 508.4,502.7 511.4,502.6 514.4,502.6 517.4,502.5 520.4,502.5 523.4,502.4 526.4,502.4 529.4,502.3 532.4,502.3 535.4,502.2 538.4,502.1 541.4,502.1 544.4,502.0 547.4,501.9 550.4,501.9 553.4,501.8 556.4,501.7 559.4,501.5 562.4,501.3 565.4,501.1 568.4,500.7 571.4,500.3 574.4,499.7 577.4,498.8 577.8,498.6 578.2,498.4 578.6,498.2 579.0,498.0 579.4,497.8 579.8,497.5 580.2,497.2 580.6,496.9 581.0,496.5 581.4,496.1 581.8,495.7 582.2,495.2 582.6,494.7 583.0,494.0 583.4,493.3 583.8,492.4 584.2,491.5 584.6,490.3 585.0,488.9 585.4,487.3 585.8,485.3 586.2,482.8 586.6,479.7 587.0,475.8 587.4,470.8 587.8,464.1 588.2,455.0 588.6,442.3 589.0,424.1 589.4,397.6 589.8,359.0 590.2,307.1 590.6,253.1 591.0,228.5 591.4,249.4 591.8,286.9 592.2,312.0 592.6,318.8 593.0,319.6 593.4,334.3 593.8,365.7 594.2,398.9 594.6,424.8 595.0,443.2 595.4,456.0 595.8,465.0 596.2,471.6 596.6,476.5 597.0,480.2 597.4,483.2 597.8,485.5 598.2,487.4 598.6,488.9 599.0,490.2 599.4,491.3 599.8,492.2 600.2,492.9 600.6,493.6 601.0,494.2 601.4,494.7 601.8,495.1 602.2,495.5 602.6,495.9 603.0,496.2 603.4,496.4 603.8,496.7 604.2,496.9 604.6,497.1 605.0,497.3 605.4,497.4 605.8,497.6 606.2,497.7 606.6,497.8 607.0,498.0 610.0,498.5 613.0,498.8 616.0,499.0 619.0,499.1 622.0,499.1 625.0,499.1 628.0,499.0 631.0,499.0 634.0,498.9 637.0,498.8 640.0,498.7 643.0,498.7 646.0,498.6 649.0,498.5 652.0,498.4 655.0,498.4 658.0,498.4 661.0,498.3 664.0,498.3 667.0,498.3 670.0,498.3 673.0,498.3 676.0,498.2 679.0,498.2 682.0,498.2 685.0,498.1 688.0,498.1 691.0,498.1 694.0,498.0 697.0,498.0 700.0,497.9 703.0,497.9 706.0,497.8 709.0,497.7 712.0,497.6 715.0,497.4 715.4,497.4 715.8,497.3 716.2,497.3 716.6,497.3 717.0,497.2 717.4,497.2 717.8,497.2 718.2,497.1 718.6,497.1 719.0,497.0 719.4,496.9 719.8,496.9 720.2,496.8 720.6,496.7 721.0,496.6 721.4,496.5 721.8,496.4 722.2,496.3 722.6,496.2 723.0,496.1 723.4,495.9 723.8,495.7 724.2,495.5 724.6,495.3 725.0,495.0 725.4,494.7 725.8,494.3 726.2,493.9 726.6,493.4 727.0,492.8 727.4,492.0 727.8,491.1 728.2,489.9 728.6,488.3 729.0,486.1 729.4,483.1 729.8,479.0 730.2,473.3 730.6,465.9 731.0,456.6 731.4,446.0 731.8,436.0 732.2,429.8 732.6,429.7 733.0,434.5 733.4,440.5 733.8,445.2 734.2,448.0 734.6,449.9 735.0,453.0 735.4,458.2 735.8,464.8 736.2,471.3 736.6,476.9 737.0,481.4 737.4,484.8 737.8,487.4 738.2,489.3 738.6,490.7 739.0,491.8 739.4,492.6 739.8,493.2 740.2,493.8 740.6,494.2 741.0,494.6 741.4,494.9 741.8,495.1 742.2,495.4 742.6,495.6 743.0,495.7 743.4,495.9 743.8,496.0 744.2,496.1 744.6,496.3 745.0,496.4 745.4,496.4 745.8,496.5 746.2,496.6 746.6,496.7 747.0,496.7 747.4,496.8 747.8,496.8 748.2,496.9 748.6,496.9 749.0,496.9 749.4,497.0 749.8,497.0 750.2,497.0 750.6,497.0 751.0,497.1 751.4,497.1 754.4,497.2 757.4,497.3 760.4,497.3 763.4,497.4 766.4,497.4 769.4,497.4 772.4,497.4 775.4,497.4 778.4,497.3 781.4,497.3 784.4,497.3 787.4,497.3 790.4,497.3 793.4,497.2 796.4,497.2 799.4,497.2 802.4,497.2 805.4,497.2 808.4,497.2 811.4,497.2 814.4,497.2 817.4,497.1 820.4,497.1 823.4,497.1 826.4,497.1 829.4,497.1 832.4,497.1 835.4,497.1 838.4,497.1 838.8,497.1 839.2,497.1 839.6,497.1 840.0,497.1 840.4,497.1 840.8,497.1 841.2,497.0 841.6,497.0 842.0,497.0 842.4,497.0 842.8,497.0 843.2,497.0 843.6,497.0 844.0,497.0 844.4,497.0 844.8,497.0 845.2,497.0 845.6,497.0 846.0,497.0 846.4,497.0 846.8,497.0 847.2,497.0 847.6,497.0 848.0,497.0 848.4,497.0 848.8,497.0 849.2,497.0 849.6,497.0 850.0,497.0 850.4,497.0 850.8,497.0 851.2,497.0 851.6,497.0 852.0,497.0 852.4,497.0 852.8,497.0 853.2,496.9 853.6,496.9 854.0,496.9 854.4,496.9 854.8,496.9 855.2,496.9 855.6,496.9 856.0,496.9 856.4,496.9 856.8,496.9 857.2,496.9 857.6,496.8 858.0,496.8 858.4,496.8 858.8,496.8 859.2,496.8 859.6,496.7 860.0,496.7 860.4,496.7 860.8,496.6 861.2,496.6 861.6,496.5 862.0,496.4 862.4,496.3 862.8,496.1 863.2,495.9 863.6,495.7 864.0,495.5 864.4,495.2 864.8,494.9 865.2,494.6 865.6,494.3 866.0,493.9 866.4,493.6 866.8,493.4 867.2,493.2 867.6,493.0 868.0,493.0 868.4,493.0 868.8,493.1 869.2,493.3 869.6,493.4 870.0,493.6 870.4,493.8 870.8,494.1 871.2,494.4 871.6,494.6 872.0,494.9 872.4,495.2 872.8,495.4 873.2,495.6 873.6,495.8 874.0,496.0 874.4,496.1 874.8,496.3 875.2,496.4 875.6,496.5 876.0,496.5 876.4,496.6 876.8,496.6 877.2,496.7 877.6,496.7 878.0,496.7 878.4,496.7 878.8,496.7 879.2,496.8 879.6,496.8 880.0,496.8 880.4,496.8 880.8,496.8 881.2,496.8 881.6,496.8 882.0,496.8 882.4,496.8 882.8,496.8 883.2,496.8 883.6,496.8 884.0,496.8 884.4,496.8 884.8,496.8 885.2,496.8 885.6,496.8 886.0,496.8 886.4,496.8 886.8,496.8 887.2,496.9 887.6,496.9 888.0,496.9 888.4,496.9 888.8,496.9 889.2,496.9 889.6,496.9 890.0,496.9 890.4,496.9 890.8,496.9 891.2,496.9 891.6,496.9 892.0,496.9 892.4,496.9 892.8,496.9 893.2,496.9 893.6,496.9 894.0,496.9 894.4,496.9 894.8,496.9 895.2,496.9 895.6,496.9 896.0,496.9 896.4,496.8 896.8,496.8 897.2,496.8 897.6,496.8 898.0,496.8 898.4,496.8 901.4,496.8 904.4,496.8 907.4,496.8 910.4,496.8 913.4,496.8 916.4,496.8 919.4,496.8 922.4,496.8 925.4,496.8 928.4,496.8 931.4,496.7 934.4,496.7 937.4,496.7 940.4,496.7 943.4,496.7 946.4,496.7 949.4,496.7 952.4,496.7 955.4,496.7 958.4,496.6 961.4,496.6 964.4,496.6 967.4,496.6 970.4,496.6 973.4,496.6 976.4,496.6 979.4,496.6 982.4,496.6 985.4,496.5 988.4,496.5 991.4,496.5 994.4,496.5 997.4,496.5 1000.4,496.5 1003.4,496.5 1006.4,496.5 1009.4,496.4 1012.4,496.4 1015.4,496.4 1018.4,496.4 1021.4,496.4 1024.4,496.4 1027.4,496.4 1030.4,496.4 1033.4,496.4 1036.4,496.3 1039.4,496.3 1042.4,496.3 1045.4,496.3 1048.4,496.3 1051.4,496.3 1054.4,496.3 1057.4,496.3 1060.4,496.3 1063.4,496.2 1066.4,496.2 1069.4,496.2 1072.4,496.2 1075.4,496.2 1078.4,496.2 1081.4,496.2 1084.4,496.2 1087.4,496.1 1090.4,496.1 1093.4,496.1 1096.4,496.1 1099.4,496.1 1102.4,496.1 1105.4,496.1 1108.4,496.1 1111.4,496.1 1114.4,496.1 1117.4,496.1 1120.4,496.1 1123.4,496.1 1126.4,496.1 1129.4,496.1 1132.4,496.1 1135.4,496.1 1138.4,496.1 1141.4,496.1 1144.4,496.1 1147.4,496.1 1150.4,496.1 1153.4,496.1 1156.4,496.1 1159.4,496.1 1162.4,496.1 1165.4,496.1 1168.4,496.1 1171.4,496.0 1174.4,496.0 1177.4,496.0 1180.4,496.0 1183.4,496.0 1186.4,495.9 1186.8,495.9 1187.2,495.9 1187.6,495.9 1188.0,495.9 1188.4,495.9 1188.8,495.9 1189.2,495.9 1189.6,495.9 1190.0,495.9 1190.4,495.8 1190.8,495.8 1191.2,495.8 1191.6,495.8 1192.0,495.8 1192.4,495.8 1192.8,495.7 1193.2,495.7 1193.6,495.7 1194.0,495.7 1194.4,495.7 1194.8,495.6 1195.2,495.6 1195.6,495.6 1196.0,495.5 1196.4,495.5 1196.8,495.4 1197.2,495.4 1197.6,495.3 1198.0,495.2 1198.4,495.2 1198.8,495.1 1199.2,495.0 1199.6,494.9 1200.0,494.7 1200.4,494.6 1200.8,494.4 1201.2,494.1 1201.6,493.9 1202.0,493.5 1202.4,493.0 1202.8,492.4 1203.2,491.6 1203.6,490.5 1204.0,489.1 1204.4,487.2 1204.8,484.9 1205.2,482.0 1205.6,479.0 1206.0,476.2 1206.4,474.4 1206.8,474.4 1207.2,476.0 1207.6,478.3 1208.0,480.7 1208.4,482.6 1208.8,483.8 1209.2,484.3 1209.6,484.3 1210.0,483.8 1210.4,483.2 1210.8,483.2 1211.2,483.9 1211.6,485.3 1212.0,487.0 1212.4,488.7 1212.8,490.1 1213.2,491.3 1213.6,492.2 1214.0,492.9 1214.4,493.4 1214.8,493.9 1215.2,494.2 1215.6,494.4 1216.0,494.6 1216.4,494.8 1216.8,494.9 1217.2,495.0 1217.6,495.1 1218.0,495.2 1218.4,495.3 1218.8,495.4 1219.2,495.4 1219.6,495.5 1220.0,495.5 1220.4,495.5 1220.8,495.6 1221.2,495.6 1221.6,495.6 1222.0,495.7 1222.4,495.7 1222.8,495.7 1223.2,495.7 1223.6,495.8 1224.0,495.8 1224.4,495.8 1224.8,495.8 1225.2,495.8 1225.6,495.8 1226.0,495.9 1226.4,495.9 1226.8,495.9 1227.2,495.9 1230.2,495.9 1233.2,496.0 1236.2,496.0 1239.2,496.0 1242.2,496.0 1245.2,496.0 1248.2,496.1 1251.2,496.1 1254.2,496.1 1257.2,496.1 1260.2,496.1 1263.2,496.1 1266.2,496.1 1269.2,496.1 1272.2,496.1 1275.2,496.1 1278.2,496.1 1281.2,496.1 1284.2,496.1 1287.2,496.1 1290.2,496.1 1293.2,496.1 1296.2,496.1 1299.2,496.1 1302.2,496.1 1305.2,496.1 1308.2,496.1 1311.2,496.1 1314.2,496.1 1317.2,496.1 1320.2,496.1 1323.2,496.1 1326.2,496.1 1329.2,496.1 1332.2,496.1 1335.2,496.1 1338.2,496.1 1341.2,496.1 1344.2,496.1 1347.2,496.1 1350.2,496.1 1353.2,496.1 1356.2,496.1 1359.2,496.1 1362.2,496.1 1365.2,496.1 1368.2,496.1 1371.2,496.1 1374.2,496.1 1377.2,496.1 1380.2,496.1 1383.2,496.1 1386.2,496.1 1389.2,496.1 1392.2,496.1 1395.2,496.1 1398.2,496.1 1401.2,496.1 1404.2,496.0 1407.2,496.0 1410.2,495.9 1413.2,495.9 1416.2,495.8 1419.2,495.8 1422.2,495.7 1425.2,495.7 1428.2,495.7 1431.2,495.6 1434.2,495.6 1437.2,495.5 1440.2,495.5 1443.2,495.4 1446.2,495.4 1449.2,495.3 1452.2,495.3 1455.2,495.3 1458.2,495.3 1461.2,495.3 1464.2,495.3 1467.2,495.3 1470.2,495.3 1473.2,495.3 1476.2,495.3 1479.2,495.3 1482.2,495.3 1485.2,495.2 1488.2,495.2 1491.2,495.2 1494.2,495.2 1497.2,495.2 1500.2,495.1 1500.6,495.1 1501.0,495.1 1501.4,495.1 1501.8,495.1 1502.2,495.1 1502.6,495.1 1503.0,495.1 1503.4,495.1 1503.8,495.1 1504.2,495.0 1504.6,495.0 1505.0,495.0 1505.4,495.0 1505.8,495.0 1506.2,495.0 1506.6,495.0 1507.0,495.0 1507.4,494.9 1507.8,494.9 1508.2,494.9 1508.6,494.9 1509.0,494.9 1509.4,494.8 1509.8,494.8 1510.2,494.8 1510.6,494.7 1511.0,494.7 1511.4,494.7 1511.8,494.6 1512.2,494.6 1512.6,494.5 1513.0,494.5 1513.4,494.4 1513.8,494.4 1514.2,494.3 1514.6,494.2 1515.0,494.1 1515.4,494.0 1515.8,493.9 1516.2,493.7 1516.6,493.5 1517.0,493.3 1517.4,493.1 1517.8,492.8 1518.2,492.4 1518.6,491.9 1519.0,491.3 1519.4,490.5 1519.8,489.6 1520.2,488.4 1520.6,486.9 1521.0,485.1 1521.4,483.0 1521.8,480.8 1522.2,478.5 1522.6,476.7 1523.0,475.6 1523.4,475.7 1523.8,476.7 1524.2,478.4 1524.6,480.3 1525.0,482.1 1525.4,483.6 1525.8,484.7 1526.2,485.4 1526.6,485.7 1527.0,485.6 1527.4,485.2 1527.8,484.6 1528.2,484.1 1528.6,483.8 1529.0,484.1 1529.4,484.8 1529.8,485.8 1530.2,487.1 1530.6,488.3 1531.0,489.4 1531.4,490.4 1531.8,491.2 1532.2,491.8 1532.6,492.4 1533.0,492.8 1533.4,493.1 1533.8,493.4 1534.2,493.6 1534.6,493.8 1535.0,493.9 1535.4,494.1 1535.8,494.2 1536.2,494.3 1536.6,494.3 1537.0,494.4 1537.4,494.5 1537.8,494.5 1538.2,494.6 1538.6,494.6 1539.0,494.7 1539.4,494.7 1539.8,494.7 1540.2,494.8 1540.6,494.8 1541.0,494.8 1541.4,494.9 1541.8,494.9 1542.2,494.9 1542.6,494.9 1543.0,494.9 1543.4,494.9 1543.8,495.0 1544.2,495.0 1544.6,495.0 1545.0,495.0 1545.4,495.0 1545.8,495.0 1546.2,495.0 1546.6,495.0 1547.0,495.1 1550.0,495.1 1553.0,495.1 1556.0,495.2 1559.0,495.2 1562.0,495.2 1565.0,495.2 1568.0,495.2 1571.0,495.2 1574.0,495.2 1577.0,495.2 1580.0,495.2 1583.0,495.2 1586.0,495.2 1589.0,495.2 1592.0,495.2 1595.0,495.2 1598.0,495.2 1601.0,495.2 1604.0,495.2 1604.4,495.2 1604.8,495.1 1605.2,495.1 1605.6,495.1 1606.0,495.1 1606.4,495.1 1606.8,495.1 1607.2,495.1 1607.6,495.1 1608.0,495.1 1608.4,495.1 1608.8,495.1 1609.2,495.1 1609.6,495.1 1610.0,495.1 1610.4,495.1 1610.8,495.1 1611.2,495.1 1611.6,495.0 1612.0,495.0 1612.4,495.0 1612.8,495.0 1613.2,495.0 1613.6,495.0 1614.0,495.0 1614.4,495.0 1614.8,494.9 1615.2,494.9 1615.6,494.9 1616.0,494.9 1616.4,494.9 1616.8,494.8 1617.2,494.8 1617.6,494.8 1618.0,494.7 1618.4,494.7 1618.8,494.6 1619.2,494.6 1619.6,494.5 1620.0,494.5 1620.4,494.4 1620.8,494.3 1621.2,494.2 1621.6,494.1 1622.0,494.0 1622.4,493.8 1622.8,493.6 1623.2,493.3 1623.6,493.0 1624.0,492.6 1624.4,492.1 1624.8,491.5 1625.2,490.8 1625.6,490.0 1626.0,489.1 1626.4,488.1 1626.8,487.1 1627.2,486.1 1627.6,485.4 1628.0,485.1 1628.4,485.2 1628.8,485.7 1629.2,486.5 1629.6,487.3 1630.0,488.1 1630.4,488.9 1630.8,489.4 1631.2,489.8 1631.6,490.0 1632.0,490.1 1632.4,490.0 1632.8,489.9 1633.2,489.6 1633.6,489.4 1634.0,489.3 1634.4,489.4 1634.8,489.7 1635.2,490.2 1635.6,490.7 1636.0,491.3 1636.4,491.8 1636.8,492.3 1637.2,492.7 1637.6,493.1 1638.0,493.4 1638.4,493.7 1638.8,493.9 1639.2,494.0 1639.6,494.2 1640.0,494.3 1640.4,494.4 1640.8,494.5 1641.2,494.5 1641.6,494.6 1642.0,494.7 1642.4,494.7 1642.8,494.7 1643.2,494.8 1643.6,494.8 1644.0,494.8 1644.4,494.9 1644.8,494.9 1645.2,494.9 1645.6,494.9 1646.0,494.9 1646.4,495.0 1646.8,495.0 1647.2,495.0 1647.6,495.0 1648.0,495.0 1648.4,495.0 1648.8,495.0 1649.2,495.1 1649.6,495.1 1650.0,495.1 1650.4,495.1 1650.8,495.1 1651.2,495.1 1651.6,495.1 1652.0,495.1 1652.4,495.1 1652.8,495.1 1653.2,495.1 1653.6,495.1 1654.0,495.1 1654.4,495.1 1657.4,495.2 1660.4,495.2 1663.4,495.2 1666.4,495.2 1669.4,495.2 1672.4,495.2 1675.4,495.2 1678.4,495.2 1681.4,495.2 1684.4,495.2 1687.4,495.2 1690.4,495.2 1693.4,495.2 1696.4,495.2 1699.4,495.2 1702.4,495.2 1705.4,495.2 1708.4,495.2 1711.4,495.2 1714.4,495.2 1717.4,495.2 1720.4,495.2 1723.4,495.2 1726.4,495.2 1729.4,495.2 1732.4,495.2 1735.4,495.2 1738.4,495.2 1741.4,495.2 1744.4,495.2 1747.4,495.2 1750.4,495.2 1753.4,495.2 1756.4,495.2 1759.4,495.2 1762.4,495.2 1765.4,495.2 1768.4,495.2 1771.4,495.2 1774.4,495.2 1777.4,495.2 1780.4,495.2 1783.4,495.2 1786.4,495.2 1789.4,495.2 1792.4,495.2 1795.4,495.2 1798.4,495.2 1801.4,495.2 1804.4,495.2 1807.4,495.2 1810.4,495.2 1813.4,495.2 1816.4,495.2 1819.4,495.2 1822.4,495.2 1825.4,495.2 1828.4,495.2 1831.4,495.2 1834.4,495.2 1837.4,495.2 1840.4,495.2 1843.4,495.2 1846.4,495.2 1849.4,495.2 1852.4,495.2 1855.4,495.2 1858.4,495.2 1861.4,495.2 1864.4,495.2 1867.4,495.2 1870.4,495.2 1873.4,495.2 1876.4,495.2 1879.4,495.2 1882.4,495.2 1885.4,495.2 1888.4,495.2 1891.4,495.2 1894.4,495.2 1897.4,495.2 1900.4,495.2 1903.4,495.2 1906.4,495.2 1909.4,495.2" fill="none" stroke="#008000" stroke-width="6.4" stroke-linejoin="round" stroke-linecap="butt"/>
<path d="M120.0,510.9 120.7,510.9 121.4,510.8 122.1,511.2 122.8,509.8 123.5,510.9 124.2,510.6 124.9,510.7 125.6,511.0 126.3,510.9 127.0,510.8 127.7,511.0 128.4,510.6 129.1,509.5 129.8,509.5 130.5,509.5 131.2,510.8 131.9,510.8 132.6,510.9 133.3,511.0 134.0,510.7 134.7,510.8 135.4,510.9 136.1,511.0 136.8,509.8 137.5,509.8 138.2,510.5 138.9,510.7 139.6,510.8 140.3,511.8 141.0,511.7 141.7,510.7 142.4,510.6 143.1,510.8 143.8,510.4 144.5,510.3 145.2,510.3 145.9,510.7 146.6,510.8 147.3,510.7 148.0,510.5 148.7,510.6 149.4,510.4 150.1,510.5 150.8,509.4 151.5,509.4 152.2,509.4 152.9,509.4 153.6,510.2 154.3,510.3 155.0,510.5 155.7,510.3 156.4,510.4 157.1,510.3 157.8,510.3 158.5,510.3 159.2,510.1 159.9,510.1 160.6,510.7 161.3,510.1 162.0,510.2 162.7,510.1 163.4,510.2 164.1,509.0 164.8,509.0 165.5,510.4 166.2,510.5 166.9,509.0 167.6,509.0 168.3,509.8 169.0,510.1 169.7,510.1 170.4,510.1 171.1,510.1 171.8,510.2 172.5,511.5 173.2,511.5 173.9,510.5 174.6,510.2 175.3,509.8 176.0,510.0 176.7,510.3 177.4,509.9 178.1,510.0 178.8,509.9 179.5,510.2 180.2,509.8 180.9,508.8 181.6,508.8 182.3,508.8 183.0,508.7 183.7,509.9 184.4,509.8 185.1,508.5 185.8,508.5 186.5,509.9 187.2,509.9 187.9,509.9 188.6,510.0 189.3,510.0 190.0,511.2 190.7,511.2 191.4,511.1 192.1,509.5 192.8,509.8 193.5,509.7 194.2,509.6 194.9,509.8 195.6,509.8 196.3,509.3 197.0,509.8 197.7,509.4 198.4,509.4 199.1,509.6 199.8,509.6 200.5,508.4 201.2,508.4 201.9,508.4 202.6,509.5 203.3,509.5 204.0,509.4 204.7,509.6 205.4,509.5 206.1,509.4 206.8,509.5 207.5,509.5 208.2,509.4 208.9,509.6 209.6,509.6 210.3,509.3 211.0,509.6 211.7,508.0 212.4,509.3 213.1,509.3 213.8,509.3 214.5,509.3 215.2,509.6 215.9,509.2 216.6,508.2 217.3,508.2 218.0,508.1 218.7,509.4 219.4,509.3 220.1,509.1 220.8,509.4 221.5,509.4 222.2,509.3 222.9,509.4 223.6,509.2 224.3,509.3 225.0,509.2 225.7,509.2 226.4,509.3 227.1,508.9 227.8,509.2 228.5,509.3 229.2,508.8 229.9,509.0 230.6,509.4 231.3,509.1 232.0,509.2 232.7,508.8 233.4,508.8 234.1,509.1 234.8,507.9 235.5,507.9 236.2,507.9 236.9,507.8 237.6,509.2 238.3,509.0 239.0,508.7 239.7,508.6 240.4,509.0 241.1,509.0 241.8,508.7 242.5,508.9 243.2,509.4 243.9,508.7 244.6,508.7 245.3,508.8 246.0,507.4 246.7,507.4 247.4,508.9 248.1,508.6 248.8,508.6 249.5,509.1 250.2,508.8 250.9,508.5 251.6,510.1 252.3,510.1 253.0,510.1 253.7,510.1 254.4,509.0 255.1,508.6 255.8,508.9 256.5,508.8 257.2,508.5 257.9,509.7 258.6,508.8 259.3,508.7 260.0,508.5 260.7,508.3 261.4,508.2 262.1,508.5 262.8,508.4 263.5,508.1 264.2,508.3 264.9,508.6 265.6,507.1 266.3,507.1 267.0,507.0 267.7,507.0 268.4,507.0 269.1,507.0 269.8,507.0 270.5,508.6 271.2,508.5 271.9,508.0 272.6,508.2 273.3,508.0 274.0,508.3 274.7,509.5 275.4,508.2 276.1,508.3 276.8,508.1 277.5,507.9 278.2,508.6 278.9,507.9 279.6,508.2 280.3,508.2 281.0,509.4 281.7,509.4 282.4,509.4 283.1,509.4 283.8,507.9 284.5,507.8 285.2,508.2 285.9,508.3 286.6,508.0 287.3,507.8 288.0,508.2 288.7,508.0 289.4,508.1 290.1,507.9 290.8,507.7 291.5,507.7 292.2,507.8 292.9,508.3 293.6,507.5 294.3,507.8 295.0,508.0 295.7,507.9 296.4,507.5 297.1,507.8 297.8,507.6 298.5,507.9 299.2,507.6 299.9,507.8 300.6,508.0 301.3,507.8 302.0,507.5 302.7,507.7 303.4,507.6 304.1,507.7 304.8,507.7 305.5,507.7 306.2,507.5 306.9,507.7 307.6,508.0 308.3,507.7 309.0,507.6 309.7,507.6 310.4,507.4 311.1,507.8 311.8,507.5 312.5,507.6 313.2,507.5 313.9,507.5 314.6,507.5 315.3,507.8 316.0,507.8 316.7,507.4 317.4,507.4 318.1,507.8 318.8,507.6 319.5,507.5 320.2,507.5 320.9,507.4 321.6,507.3 322.3,507.6 323.0,507.5 323.7,507.6 324.4,507.2 325.1,507.3 325.8,507.2 326.5,507.4 327.2,507.4 327.9,507.4 328.6,507.2 329.3,507.4 330.0,507.3 330.7,507.6 331.4,507.3 332.1,507.1 332.8,506.8 333.5,507.0 334.2,507.0 334.9,506.9 335.6,507.3 336.3,507.4 337.0,507.3 337.7,507.0 338.4,506.8 339.1,507.0 339.8,507.1 340.5,507.0 341.2,507.0 341.9,506.6 342.6,506.9 343.3,507.1 344.0,506.9 344.7,507.1 345.4,506.8 346.1,506.8 346.8,507.0 347.5,505.5 348.2,506.8 348.9,506.5 349.6,506.7 350.3,505.5 351.0,505.5 351.7,505.5 352.4,507.1 353.1,506.8 353.8,506.8 354.5,506.6 355.2,506.6 355.9,506.5 356.6,506.6 357.3,506.7 358.0,506.6 358.7,506.4 359.4,505.1 360.1,505.1 360.8,505.0 361.5,505.0 362.2,506.3 362.9,506.3 363.6,506.4 364.3,506.4 365.0,507.3 365.7,507.2 366.4,506.6 367.1,506.3 367.8,507.5 368.5,507.5 369.2,506.4 369.9,506.2 370.6,506.1 371.3,506.2 372.0,506.1 372.7,506.1 373.4,506.3 374.1,506.2 374.8,505.9 375.5,506.3 376.2,506.2 376.9,506.3 377.6,506.2 378.3,505.9 379.0,505.9 379.7,505.8 380.4,506.1 381.1,504.9 381.8,504.9 382.5,504.9 383.2,504.9 383.9,505.9 384.6,505.9 385.3,505.8 386.0,507.2 386.7,507.2 387.4,507.2 388.1,505.8 388.8,506.0 389.5,506.0 390.2,505.6 390.9,506.0 391.6,505.7 392.3,505.7 393.0,505.5 393.7,505.5 394.4,505.4 395.1,505.5 395.8,505.4 396.5,505.6 397.2,505.6 397.9,505.8 398.6,505.6 399.3,505.5 400.0,505.3 400.7,505.4 401.4,505.4 402.1,505.5 402.8,505.4 403.5,506.3 404.2,506.3 404.9,504.2 405.6,504.2 406.3,504.2 407.0,505.1 407.7,505.1 408.4,505.3 408.7,505.0 409.0,505.3 409.3,505.3 409.6,505.4 409.9,505.2 410.2,503.9 410.5,503.9 410.8,503.9 411.1,503.9 411.4,505.2 411.7,505.1 412.0,504.9 412.3,504.7 412.6,505.2 412.9,505.3 413.2,505.1 413.5,504.9 413.8,505.0 414.1,504.8 414.4,504.8 414.7,504.9 415.0,504.9 415.3,506.0 415.6,506.0 415.9,506.0 416.2,504.8 416.5,505.1 416.8,504.8 417.1,504.8 417.4,504.4 417.7,504.5 418.0,504.3 418.3,504.7 418.6,504.6 418.9,504.9 419.2,504.6 419.5,503.0 419.8,502.9 420.1,504.3 420.4,504.2 420.7,503.8 421.0,503.6 421.3,503.2 421.6,503.0 421.9,502.9 422.2,502.1 422.5,501.9 422.8,501.2 423.1,501.1 423.4,500.8 423.7,500.4 424.0,500.1 424.3,500.2 424.6,499.9 424.9,500.4 425.2,500.6 425.5,500.8 425.8,501.1 426.1,501.1 426.4,501.2 426.7,501.8 427.0,502.4 427.3,502.6 427.6,502.5 427.9,502.2 428.2,503.0 428.5,503.5 428.8,503.6 429.1,504.1 429.4,504.3 429.7,504.0 430.0,503.2 430.3,503.3 430.6,503.3 430.9,504.1 431.2,504.2 431.5,504.5 431.8,504.7 432.1,504.4 432.4,504.3 432.7,504.3 433.0,505.6 433.3,505.6 433.6,505.6 433.9,504.3 434.2,504.3 434.5,504.2 434.8,504.3 435.1,503.5 435.4,503.5 435.7,504.6 436.0,504.6 436.3,504.3 436.6,504.2 436.9,504.6 437.2,504.6 437.5,504.0 437.8,504.4 438.1,504.1 438.4,503.9 438.7,503.1 439.0,504.4 439.3,504.8 439.6,504.3 439.9,504.3 440.2,504.2 440.5,504.3 440.8,504.4 441.5,504.2 442.2,504.2 442.9,504.4 443.6,504.6 444.3,504.4 445.0,504.2 445.7,504.2 446.4,504.3 447.1,503.9 447.8,504.3 448.5,504.1 449.2,504.3 449.9,504.1 450.6,504.1 451.3,504.1 452.0,504.3 452.7,503.8 453.4,504.0 454.1,504.2 454.8,504.0 455.5,504.1 456.2,503.8 456.9,503.6 457.6,504.1 458.3,503.7 459.0,504.1 459.7,504.0 460.4,503.6 461.1,503.9 461.8,503.8 462.5,504.0 463.2,502.8 463.9,503.8 464.6,503.8 465.3,503.7 466.0,503.7 466.7,503.9 467.4,503.5 468.1,503.7 468.8,503.7 469.5,503.6 470.2,503.8 470.9,503.5 471.6,503.6 472.3,503.4 473.0,503.6 473.7,503.5 474.4,503.4 475.1,503.5 475.8,503.1 476.5,503.3 477.2,503.2 477.9,504.7 478.6,504.6 479.3,504.6 480.0,503.1 480.7,503.6 481.4,503.2 482.1,503.3 482.8,504.3 483.5,503.6 484.2,502.8 484.9,503.2 485.6,503.3 486.3,503.2 487.0,503.4 487.7,503.3 488.4,503.4 489.1,502.9 489.8,502.7 490.5,503.0 491.2,503.0 491.9,503.5 492.6,502.9 493.3,502.9 494.0,503.0 494.7,502.8 495.4,502.8 496.1,503.2 496.8,502.7 497.5,502.9 498.2,502.7 498.9,502.6 499.6,502.7 500.3,502.7 501.0,502.9 501.7,502.6 502.4,503.0 503.1,503.8 503.8,502.7 504.5,502.6 505.2,502.7 505.9,502.5 506.6,502.5 507.3,502.6 508.0,502.7 508.7,502.7 509.4,502.7 510.1,502.8 510.8,502.5 511.5,502.5 512.2,502.8 512.9,501.4 513.6,501.4 514.3,501.4 515.0,502.6 515.7,502.5 516.4,502.5 517.1,502.7 517.8,502.1 518.5,502.2 519.2,502.6 519.9,502.4 520.6,502.3 521.3,502.3 522.0,502.6 522.7,502.4 523.4,502.3 524.1,502.4 524.8,502.2 525.5,502.7 526.2,502.3 526.9,502.3 527.6,502.2 528.3,502.2 529.0,502.0 529.7,502.1 530.4,502.2 531.1,502.2 531.8,502.2 532.5,502.3 533.2,502.3 533.9,501.8 534.6,502.0 535.3,501.7 536.0,502.2 536.7,502.2 537.4,501.8 538.1,500.9 538.8,502.1 539.5,501.9 540.2,502.1 540.9,502.1 541.6,502.1 542.3,502.0 543.0,502.1 543.7,501.7 544.4,503.4 545.1,501.7 545.8,502.0 546.5,501.9 547.2,502.1 547.9,501.8 548.6,501.7 549.3,501.7 550.0,501.5 550.7,502.1 551.4,501.9 552.1,501.7 552.8,501.6 553.5,501.7 554.2,501.6 554.9,501.8 555.6,501.8 556.3,501.6 557.0,501.6 557.7,501.4 558.4,501.4 559.1,501.6 559.8,501.3 560.5,501.6 561.2,501.2 561.9,501.3 562.6,501.0 563.3,501.3 564.0,501.0 564.7,501.0 565.4,501.0 566.1,501.0 566.8,500.9 567.5,501.1 568.2,500.7 568.9,500.6 569.6,501.6 570.3,501.5 571.0,501.4 571.7,501.3 572.4,500.2 573.1,500.0 573.8,499.7 574.5,498.3 575.2,498.1 575.9,497.9 576.6,500.5 577.3,498.8 578.0,498.5 578.7,498.0 579.4,497.7 580.1,497.1 580.8,496.6 581.1,496.6 581.4,496.2 581.7,495.8 582.0,494.0 582.3,493.6 582.6,493.2 582.9,493.9 583.2,493.7 583.5,493.0 583.8,492.4 584.1,491.3 584.4,490.9 584.7,490.0 585.0,488.8 585.3,487.9 585.6,486.6 585.9,484.9 585.7,483.1 586.9,480.9 586.6,477.8 586.6,474.6 587.8,470.6 586.9,466.2 587.0,460.8 588.4,453.1 588.0,443.2 589.4,429.4 589.3,412.1 589.2,388.9 589.1,358.9 590.1,321.0 590.3,278.7 590.9,242.6 591.0,228.6 591.1,240.7 591.6,268.3 592.0,295.3 591.8,311.7 593.5,318.3 592.8,318.5 593.2,321.2 593.4,334.2 593.6,357.4 594.0,382.9 593.5,406.1 594.4,424.9 595.4,439.1 595.6,450.2 595.9,458.5 595.3,464.5 596.0,470.1 596.4,474.3 597.4,477.6 597.0,480.2 596.5,482.4 597.6,483.9 597.9,487.2 598.2,487.6 598.5,488.6 598.8,490.0 599.1,490.7 599.4,491.0 599.7,491.9 600.0,492.5 600.3,492.7 600.6,493.5 600.9,493.0 601.2,493.4 601.5,493.7 602.2,495.3 602.9,496.1 603.6,496.8 604.3,497.0 605.0,497.2 605.7,497.1 606.4,498.1 607.1,497.9 607.8,498.0 608.5,498.3 609.2,498.5 609.9,498.8 610.6,498.6 611.3,498.8 612.0,498.6 612.7,498.7 613.4,498.9 614.1,499.1 614.8,498.8 615.5,499.2 616.2,498.8 616.9,499.3 617.6,499.2 618.3,498.8 619.0,498.9 619.7,499.1 620.4,498.7 621.1,498.8 621.8,498.9 622.5,498.8 623.2,499.3 623.9,499.1 624.6,498.9 625.3,499.0 626.0,499.3 626.7,499.1 627.4,499.2 628.1,499.1 628.8,499.1 629.5,498.9 630.2,498.8 630.9,498.8 631.6,499.0 632.3,499.1 633.0,499.0 633.7,499.3 634.4,498.8 635.1,498.6 635.8,498.6 636.5,498.7 637.2,498.7 637.9,498.7 638.6,498.7 639.3,498.9 640.0,498.6 640.7,498.9 641.4,498.3 642.1,498.6 642.8,498.7 643.5,499.8 644.2,499.8 644.9,499.7 645.6,498.6 646.3,498.7 647.0,498.4 647.7,497.9 648.4,498.4 649.1,498.7 649.8,498.2 650.5,498.6 651.2,498.5 651.9,498.5 652.6,498.5 653.3,498.3 654.0,496.9 654.7,496.9 655.4,496.9 656.1,496.9 656.8,498.3 657.5,498.4 658.2,498.2 658.9,498.6 659.6,498.0 660.3,498.3 661.0,498.5 661.7,497.3 662.4,497.3 663.1,498.5 663.8,498.5 664.5,496.8 665.2,496.8 665.9,498.7 666.6,498.6 667.3,498.4 668.0,498.3 668.7,498.4 669.4,497.2 670.1,497.2 670.8,498.1 671.5,498.5 672.2,498.2 672.9,498.0 673.6,498.2 674.3,498.4 675.0,498.1 675.7,498.1 676.4,498.1 677.1,498.2 677.8,498.1 678.5,498.2 679.2,498.3 679.9,498.2 680.6,498.2 681.3,498.0 682.0,498.0 682.7,498.1 683.4,498.2 684.1,498.1 684.8,497.1 685.5,497.1 686.2,497.1 686.9,496.9 687.6,496.9 688.3,496.9 689.0,496.8 689.7,497.8 690.4,498.1 691.1,497.8 691.8,498.0 692.5,498.0 693.2,498.1 693.9,498.1 694.6,498.1 695.3,497.7 696.0,497.8 696.7,498.9 697.4,498.9 698.1,498.9 698.8,498.9 699.5,497.6 700.2,497.8 700.9,497.7 701.6,497.9 702.3,498.1 703.0,498.2 703.7,497.7 704.4,497.8 705.1,496.9 705.8,496.9 706.5,496.9 707.2,497.4 707.9,497.7 708.6,497.8 709.3,497.6 710.0,497.4 710.7,497.8 711.4,497.5 712.1,497.6 712.8,497.5 713.5,497.4 714.2,497.4 714.9,497.3 715.6,497.7 716.3,497.7 717.0,497.2 717.7,497.0 718.4,496.1 719.1,496.0 719.8,495.9 720.1,495.9 720.4,496.8 720.7,496.6 721.0,496.5 721.3,496.8 721.6,496.6 721.9,496.3 722.2,496.3 722.5,496.1 722.8,496.2 723.1,495.0 723.4,494.8 723.7,494.7 724.0,495.6 724.3,495.3 724.6,495.3 724.9,494.1 725.2,493.8 725.5,493.6 725.8,493.3 726.1,494.2 726.4,493.5 726.7,493.1 727.0,492.9 727.3,492.1 727.6,491.9 727.9,490.9 728.2,489.7 728.5,488.5 728.8,487.4 728.8,485.3 729.2,483.0 729.3,480.6 730.2,476.4 730.4,471.4 730.1,466.0 730.7,459.4 731.4,451.8 732.0,442.4 732.7,435.0 732.0,430.6 732.4,429.3 733.1,431.0 733.3,434.3 733.4,439.1 733.1,442.6 733.4,446.4 734.2,447.9 734.5,449.2 735.6,451.0 735.0,454.3 735.8,456.7 735.3,461.6 735.5,468.1 736.3,472.9 736.0,477.0 736.5,480.5 736.7,483.2 737.4,486.9 737.8,488.7 738.1,490.2 738.4,491.4 738.7,489.6 739.0,490.4 739.3,492.5 739.6,493.2 739.9,493.2 740.2,493.6 740.5,494.2 740.8,494.3 741.1,494.6 741.4,494.8 741.7,496.5 742.0,496.6 742.3,496.8 742.6,495.5 742.9,495.7 743.2,495.9 743.5,495.6 743.8,495.9 744.1,496.0 744.4,496.3 744.7,496.5 745.0,496.6 745.7,496.6 746.4,496.7 747.1,496.8 747.8,497.9 748.5,498.0 749.2,498.0 749.9,497.4 750.6,496.8 751.3,497.3 752.0,497.3 752.7,497.1 753.4,496.9 754.1,497.4 754.8,497.5 755.5,497.2 756.2,497.2 756.9,497.4 757.6,497.3 758.3,497.6 759.0,497.4 759.7,498.4 760.4,498.4 761.1,498.4 761.8,497.4 762.5,497.4 763.2,497.2 763.9,497.4 764.6,497.4 765.3,497.1 766.0,497.3 766.7,497.6 767.4,497.3 768.1,497.7 768.8,497.5 769.5,497.5 770.2,497.4 770.9,496.1 771.6,496.1 772.3,496.1 773.0,496.1 773.7,496.1 774.4,496.1 775.1,496.1 775.8,496.1 776.5,497.1 777.2,497.4 777.9,496.2 778.6,497.3 779.3,497.4 780.0,497.4 780.7,497.5 781.4,497.4 782.1,497.7 782.8,497.1 783.5,497.5 784.2,497.2 784.9,497.5 785.6,497.3 786.3,497.6 787.0,497.2 787.7,497.2 788.4,497.5 789.1,497.5 789.8,497.2 790.5,497.1 791.2,497.4 791.9,497.0 792.6,497.1 793.3,497.5 794.0,497.6 794.7,497.2 795.4,497.4 796.1,497.4 796.8,497.3 797.5,497.1 798.2,497.2 798.9,497.2 799.6,497.3 800.3,497.2 801.0,497.1 801.7,497.0 802.4,497.2 803.1,497.3 803.8,497.4 804.5,497.5 805.2,497.3 805.9,497.3 806.6,497.2 807.3,497.1 808.0,497.1 808.7,497.4 809.4,497.4 810.1,497.1 810.8,497.0 811.5,497.1 812.2,497.0 812.9,497.1 813.6,497.2 814.3,497.3 815.0,497.0 815.7,497.0 816.4,496.9 817.1,497.3 817.8,497.1 818.5,497.3 819.2,497.1 819.9,497.1 820.6,497.4 821.3,496.8 822.0,497.1 822.7,497.2 823.4,497.1 824.1,496.9 824.8,495.8 825.5,495.8 826.2,495.8 826.9,497.0 827.6,497.1 828.3,497.2 829.0,497.5 829.7,497.2 830.4,497.4 831.1,496.9 831.8,495.7 832.5,495.7 833.2,495.7 833.9,497.1 834.6,497.0 835.3,497.4 836.0,496.7 836.7,497.4 837.4,497.0 838.1,496.9 838.8,497.1 839.5,497.4 840.2,497.1 840.9,497.2 841.6,497.0 842.3,496.7 843.0,496.9 843.7,497.2 844.4,497.2 845.1,496.9 845.8,497.1 846.5,497.0 847.2,497.1 847.5,497.2 847.8,496.7 848.1,498.3 848.4,498.3 848.7,498.3 849.0,497.2 849.3,496.8 849.6,497.1 849.9,497.0 850.2,497.2 850.5,497.2 850.8,496.8 851.1,496.7 851.4,497.1 851.7,497.1 852.0,497.1 852.3,496.9 852.6,497.0 852.9,497.4 853.2,496.8 853.5,497.1 853.8,496.8 854.1,496.9 854.4,496.9 854.7,496.7 855.0,497.1 855.3,497.2 855.6,497.1 855.9,496.9 856.2,496.9 856.5,496.7 856.8,496.8 857.1,497.1 857.4,497.2 857.7,496.7 858.0,496.8 858.3,496.8 858.6,496.7 858.9,496.8 859.2,496.9 859.5,496.6 859.8,496.6 860.1,496.8 860.4,496.3 860.7,496.3 861.0,496.8 861.3,496.7 861.6,496.2 861.9,496.2 862.2,496.5 862.5,496.1 862.8,496.3 863.1,495.9 863.4,495.8 863.7,495.5 864.0,495.5 864.3,495.5 864.6,495.1 864.9,494.8 865.2,493.2 865.5,492.9 865.8,492.7 866.1,493.7 866.4,493.4 866.7,493.4 867.0,493.2 867.3,493.1 867.6,493.2 867.9,493.0 868.2,493.2 868.5,493.1 868.8,493.3 869.1,493.5 869.4,493.0 869.7,493.5 870.0,493.7 870.3,493.7 870.6,493.9 870.9,494.4 871.2,494.7 871.5,494.4 871.8,494.6 872.1,495.1 872.4,495.2 872.7,495.7 873.0,495.6 873.3,495.5 873.6,496.0 873.9,496.0 874.2,496.0 874.5,496.2 874.8,496.4 875.1,496.3 875.4,496.5 875.7,496.6 876.0,496.8 876.3,496.7 876.6,496.7 876.9,496.5 877.2,496.8 877.5,496.6 877.8,496.6 878.1,496.8 878.4,498.0 878.7,498.0 879.0,498.0 879.3,498.0 879.6,496.8 879.9,496.9 880.2,496.9 880.5,496.9 880.8,496.5 881.1,496.7 881.4,497.0 881.7,496.8 882.0,496.5 882.3,496.8 882.6,496.5 882.9,496.6 883.2,497.1 883.5,496.9 883.8,496.7 884.1,496.8 884.4,497.0 884.7,496.7 885.0,496.8 885.3,497.0 885.6,496.6 885.9,496.7 886.2,496.9 886.5,497.1 886.8,497.1 887.1,496.9 887.4,496.7 887.7,496.7 888.0,496.6 888.3,496.8 888.6,496.7 888.9,497.2 889.2,496.7 889.9,496.7 890.6,496.4 891.3,496.8 892.0,496.8 892.7,496.8 893.4,496.5 894.1,496.8 894.8,496.7 895.5,496.8 896.2,496.9 896.9,496.8 897.6,496.5 898.3,496.6 899.0,496.7 899.7,497.1 900.4,496.7 901.1,496.7 901.8,497.0 902.5,496.8 903.2,496.7 903.9,496.8 904.6,497.0 905.3,497.2 906.0,497.0 906.7,497.8 907.4,497.8 908.1,497.8 908.8,497.8 909.5,496.9 910.2,497.0 910.9,496.6 911.6,497.0 912.3,496.4 913.0,496.6 913.7,496.8 914.4,496.5 915.1,496.7 915.8,496.7 916.5,496.5 917.2,496.8 917.9,497.0 918.6,497.1 919.3,498.2 920.0,498.2 920.7,498.2 921.4,498.2 922.1,496.7 922.8,496.8 923.5,496.7 924.2,496.8 924.9,497.9 925.6,497.9 926.3,497.9 927.0,497.9 927.7,497.3 928.4,496.9 929.1,496.7 929.8,496.5 930.5,496.8 931.2,496.6 931.9,496.9 932.6,496.8 933.3,496.5 934.0,496.8 934.7,496.7 935.4,496.9 936.1,496.7 936.8,496.7 937.5,496.6 938.2,496.5 938.9,496.7 939.6,496.6 940.3,496.5 941.0,496.9 941.7,496.7 942.4,496.6 943.1,496.4 943.8,496.8 944.5,496.8 945.2,496.7 945.9,496.5 946.6,496.7 947.3,496.4 948.0,496.8 948.7,496.3 949.4,496.6 950.1,498.1 950.8,496.7 951.5,496.7 952.2,496.6 952.9,496.8 953.6,496.6 954.3,496.7 955.0,497.8 955.7,497.8 956.4,497.8 957.1,496.3 957.8,496.6 958.5,496.6 959.2,496.6 959.9,496.8 960.6,496.7 961.3,496.8 962.0,496.8 962.7,496.5 963.4,496.5 964.1,496.8 964.8,496.8 965.5,496.5 966.2,496.5 966.9,496.7 967.6,496.5 968.3,496.8 969.0,496.8 969.7,496.7 970.4,496.5 971.1,496.9 971.8,496.1 972.5,496.6 973.2,496.7 973.9,496.3 974.6,496.8 975.3,496.2 976.0,496.5 976.7,495.2 977.4,495.2 978.1,496.4 978.8,496.5 979.5,496.4 980.2,496.5 980.9,496.6 981.6,496.4 982.3,496.9 983.0,496.7 983.7,496.4 984.4,496.9 985.1,496.8 985.8,496.6 986.5,496.7 987.2,496.7 987.9,495.4 988.6,497.0 989.3,496.5 990.0,496.5 990.7,496.6 991.4,496.6 992.1,496.3 992.8,496.7 993.5,496.3 994.2,496.5 994.9,496.6 995.6,496.7 996.3,497.5 997.0,497.5 997.7,497.5 998.4,496.8 999.1,496.7 999.8,495.4 1000.5,495.4 1001.2,495.4 1001.9,496.5 1002.6,496.6 1003.3,496.0 1004.0,496.6 1004.7,496.8 1005.4,496.2 1006.1,496.2 1006.8,496.3 1007.5,496.7 1008.2,496.2 1008.9,496.6 1009.6,496.4 1010.3,496.4 1011.0,496.2 1011.7,496.8 1012.4,496.7 1013.1,496.2 1013.8,496.2 1014.5,496.5 1015.2,496.2 1015.9,495.4 1016.6,495.4 1017.3,495.4 1018.0,496.5 1018.7,496.5 1019.4,496.2 1020.1,496.4 1020.8,496.3 1021.5,496.4 1022.2,496.1 1022.9,496.4 1023.6,496.2 1024.3,496.2 1025.0,496.6 1025.7,496.6 1026.4,495.1 1027.1,495.1 1027.8,495.1 1028.5,495.1 1029.2,496.2 1029.9,496.4 1030.6,496.4 1031.3,496.6 1032.0,496.1 1032.7,496.4 1033.4,496.4 1034.1,496.3 1034.8,496.5 1035.5,496.3 1036.2,496.3 1036.9,497.8 1037.6,497.8 1038.3,496.3 1039.0,496.4 1039.7,496.4 1040.4,495.0 1041.1,495.0 1041.8,495.0 1042.5,496.4 1043.2,496.4 1043.9,496.5 1044.6,496.4 1045.3,496.0 1046.0,496.1 1046.7,496.6 1047.4,497.6 1048.1,497.6 1048.8,497.6 1049.5,497.6 1050.2,496.6 1050.9,496.5 1051.6,496.4 1052.3,496.3 1053.0,496.3 1053.7,496.0 1054.4,496.3 1055.1,496.4 1055.8,496.2 1056.5,496.1 1057.2,496.6 1057.9,496.3 1058.6,496.3 1059.3,496.3 1060.0,496.2 1060.7,496.3 1061.4,496.3 1062.1,496.2 1062.8,496.6 1063.5,497.7 1064.2,497.7 1064.9,496.0 1065.6,496.1 1066.3,494.8 1067.0,494.8 1067.7,496.2 1068.4,496.2 1069.1,496.4 1069.8,496.4 1070.5,496.3 1071.2,496.4 1071.9,496.2 1072.6,496.2 1073.3,496.0 1074.0,496.3 1074.7,496.3 1075.4,496.5 1076.1,496.1 1076.8,496.1 1077.5,496.1 1078.2,496.5 1078.9,497.4 1079.6,497.4 1080.3,497.4 1081.0,496.1 1081.7,496.4 1082.4,495.9 1083.1,496.4 1083.8,496.3 1084.5,496.0 1085.2,496.0 1085.9,496.2 1086.6,496.1 1087.3,495.9 1088.0,496.1 1088.7,496.3 1089.4,496.4 1090.1,496.4 1090.8,497.5 1091.5,497.5 1092.2,497.5 1092.9,496.0 1093.6,496.3 1094.3,496.3 1095.0,496.4 1095.7,496.2 1096.4,496.3 1097.1,496.1 1097.8,496.4 1098.5,496.4 1099.2,495.9 1099.9,496.1 1100.6,495.9 1101.3,496.1 1102.0,496.4 1102.7,496.2 1103.4,496.4 1104.1,496.0 1104.8,496.3 1105.5,496.3 1106.2,496.4 1106.9,496.1 1107.6,495.2 1108.3,495.2 1109.0,495.2 1109.7,495.2 1110.4,496.2 1111.1,496.3 1111.8,495.8 1112.5,496.2 1113.2,495.9 1113.9,495.9 1114.6,496.2 1115.3,496.1 1116.0,496.2 1116.7,496.2 1117.4,496.2 1118.1,496.0 1118.8,496.0 1119.5,496.1 1120.2,496.1 1120.9,496.2 1121.6,495.9 1122.3,496.0 1123.0,496.0 1123.7,496.2 1124.4,494.6 1125.1,495.7 1125.8,496.3 1126.5,496.0 1127.2,496.2 1127.9,495.8 1128.6,496.3 1129.3,496.1 1130.0,496.0 1130.7,496.2 1131.4,496.2 1132.1,496.0 1132.8,496.1 1133.5,496.0 1134.2,496.0 1134.9,496.1 1135.6,496.0 1136.3,495.9 1137.0,496.2 1137.7,495.9 1138.4,496.1 1139.1,496.2 1139.8,495.9 1140.5,496.0 1141.2,496.2 1141.9,496.1 1142.6,496.3 1143.3,496.0 1144.0,495.0 1144.7,496.2 1145.4,495.9 1146.1,496.1 1146.8,496.2 1147.5,496.1 1148.2,496.1 1148.9,496.1 1149.6,496.2 1150.3,494.8 1151.0,496.0 1151.7,496.0 1152.4,496.0 1153.1,496.2 1153.8,496.1 1154.5,495.9 1155.2,496.0 1155.9,496.1 1156.6,495.7 1157.3,495.7 1158.0,496.2 1158.7,495.9 1159.4,496.0 1160.1,496.0 1160.8,495.8 1161.5,496.3 1162.2,496.3 1162.9,494.6 1163.6,497.4 1164.3,497.4 1165.0,497.4 1165.7,497.4 1166.4,496.0 1167.1,496.1 1167.8,495.9 1168.5,496.0 1169.2,496.2 1169.9,496.2 1170.6,495.9 1171.3,496.0 1172.0,496.1 1172.7,495.7 1173.4,494.6 1174.1,494.6 1174.8,496.0 1175.5,495.9 1176.2,497.4 1176.9,497.4 1177.6,497.4 1178.3,497.4 1179.0,496.2 1179.7,496.1 1180.4,496.1 1181.1,497.0 1181.8,497.0 1182.5,495.7 1183.2,495.8 1183.9,496.3 1184.6,495.9 1185.3,495.8 1186.0,496.1 1186.7,495.9 1187.4,495.8 1188.1,496.0 1188.8,496.1 1189.5,495.9 1190.2,496.2 1190.9,496.1 1191.6,495.8 1192.3,495.7 1193.0,495.8 1193.3,495.9 1193.6,496.1 1193.9,495.5 1194.2,495.9 1194.5,495.6 1194.8,495.6 1195.1,495.7 1195.4,495.6 1195.7,495.5 1196.0,495.7 1196.3,495.5 1196.6,495.3 1196.9,495.4 1197.2,495.2 1197.5,495.5 1197.8,495.4 1198.1,495.3 1198.4,495.2 1198.7,494.9 1199.0,494.9 1199.3,494.7 1199.6,494.7 1199.9,494.8 1200.2,494.4 1200.5,494.4 1200.8,494.3 1201.1,495.4 1201.4,495.3 1201.7,495.0 1202.0,493.4 1202.3,493.2 1202.6,493.0 1202.9,490.9 1203.2,491.8 1203.5,491.3 1203.8,489.8 1204.1,488.6 1204.4,487.1 1204.8,485.6 1204.8,483.6 1205.9,481.1 1204.9,478.9 1206.0,476.6 1206.2,473.9 1206.5,473.0 1206.8,474.2 1207.1,475.4 1207.4,477.3 1207.7,478.5 1208.0,480.5 1208.3,481.9 1208.6,483.4 1208.9,484.3 1209.2,484.2 1209.5,484.3 1209.8,484.0 1210.1,483.9 1210.4,482.9 1210.7,483.1 1211.0,483.3 1211.3,484.3 1211.6,485.0 1211.9,486.7 1212.2,487.9 1212.5,488.9 1212.8,490.1 1213.1,491.2 1213.4,491.5 1213.7,492.3 1214.0,493.1 1214.3,492.8 1214.6,493.8 1214.9,494.0 1215.2,493.8 1215.5,494.6 1215.8,494.7 1216.1,495.0 1216.4,494.9 1216.7,494.7 1217.0,495.0 1217.3,495.1 1217.6,494.9 1217.9,493.9 1218.2,494.0 1218.5,494.0 1218.8,494.1 1219.1,495.7 1219.4,495.5 1219.7,494.5 1220.0,494.5 1220.3,494.5 1220.6,495.7 1221.3,495.5 1222.0,494.3 1222.7,494.4 1223.4,494.4 1224.1,494.4 1224.8,495.9 1225.5,495.7 1226.2,496.0 1226.9,495.8 1227.6,496.3 1228.3,496.0 1229.0,496.1 1229.7,495.8 1230.4,496.1 1231.1,496.1 1231.8,495.7 1232.5,495.6 1233.2,495.8 1233.9,495.8 1234.6,496.0 1235.3,496.0 1236.0,496.1 1236.7,496.0 1237.4,496.0 1238.1,495.0 1238.8,495.0 1239.5,495.0 1240.2,496.3 1240.9,496.4 1241.6,494.6 1242.3,494.6 1243.0,495.7 1243.7,495.9 1244.4,496.3 1245.1,496.1 1245.8,495.9 1246.5,496.4 1247.2,496.2 1247.9,495.7 1248.6,495.9 1249.3,496.0 1250.0,496.6 1250.7,496.2 1251.4,496.0 1252.1,495.9 1252.8,496.0 1253.5,495.2 1254.2,496.2 1254.9,496.2 1255.6,497.0 1256.3,495.8 1257.0,496.0 1257.7,496.1 1258.4,496.2 1259.1,496.4 1259.8,496.2 1260.5,496.2 1261.2,495.9 1261.9,496.0 1262.6,496.2 1263.3,496.2 1264.0,495.8 1264.7,496.1 1265.4,496.0 1266.1,497.0 1266.8,497.0 1267.5,497.0 1268.2,496.3 1268.9,496.2 1269.6,495.8 1270.3,496.2 1271.0,496.2 1271.7,497.1 1272.4,497.1 1273.1,496.4 1273.8,496.4 1274.5,495.9 1275.2,496.0 1275.9,496.0 1276.6,495.8 1277.3,496.2 1278.0,496.2 1278.7,496.3 1279.4,496.3 1280.1,496.2 1280.8,496.4 1281.5,495.9 1282.2,496.1 1282.9,496.0 1283.6,496.2 1284.3,496.2 1285.0,497.5 1285.7,497.5 1286.4,496.4 1287.1,496.1 1287.8,496.2 1288.5,496.2 1289.2,496.5 1289.9,496.1 1290.6,495.9 1291.3,496.2 1292.0,496.3 1292.7,496.1 1293.4,497.4 1294.1,497.4 1294.8,497.4 1295.5,497.4 1296.2,496.2 1296.9,496.1 1297.6,496.1 1298.3,495.9 1299.0,496.5 1299.7,495.9 1300.4,496.3 1301.1,496.0 1301.8,496.1 1302.5,496.0 1303.2,496.2 1303.9,496.4 1304.6,496.2 1305.3,496.3 1306.0,496.2 1306.7,496.4 1307.4,496.2 1308.1,496.2 1308.8,496.0 1309.5,496.3 1310.2,496.1 1310.9,497.6 1311.6,496.1 1312.3,496.2 1313.0,495.7 1313.7,494.7 1314.4,494.7 1315.1,494.7 1315.8,496.0 1316.5,496.2 1317.2,495.1 1317.9,495.9 1318.6,495.9 1319.3,494.9 1320.0,494.9 1320.7,494.9 1321.4,494.9 1322.1,497.5 1322.8,497.5 1323.5,497.5 1324.2,496.3 1324.9,496.0 1325.6,496.1 1326.3,496.1 1327.0,496.3 1327.7,495.9 1328.4,495.1 1329.1,496.0 1329.8,496.3 1330.5,496.1 1331.2,496.2 1331.9,496.2 1332.6,495.9 1333.3,496.0 1334.0,496.0 1334.7,496.1 1335.4,496.2 1336.1,496.2 1336.8,496.2 1337.5,496.1 1338.2,496.1 1338.9,495.9 1339.6,497.5 1340.3,497.5 1341.0,497.5 1341.7,496.0 1342.4,496.1 1343.1,496.2 1343.8,496.0 1344.5,496.1 1345.2,496.4 1345.9,496.6 1346.6,496.2 1347.3,496.2 1348.0,496.4 1348.7,496.3 1349.4,495.8 1350.1,496.3 1350.8,496.2 1351.5,495.8 1352.2,496.1 1352.9,496.2 1353.6,496.2 1354.3,496.1 1355.0,495.8 1355.7,496.1 1356.4,496.2 1357.1,495.9 1357.8,496.1 1358.5,496.3 1359.2,496.3 1359.9,496.4 1360.6,495.9 1361.3,496.2 1362.0,496.1 1362.7,495.9 1363.4,496.2 1364.1,496.0 1364.8,496.3 1365.5,495.7 1366.2,495.8 1366.9,495.8 1367.6,496.1 1368.3,496.0 1369.0,496.4 1369.7,496.1 1370.4,495.9 1371.1,496.0 1371.8,496.1 1372.5,495.8 1373.2,496.3 1373.9,495.1 1374.6,495.1 1375.3,495.1 1376.0,495.1 1376.7,496.3 1377.4,496.0 1378.1,496.3 1378.8,494.9 1379.5,494.9 1380.2,494.9 1380.9,496.2 1381.6,495.9 1382.3,496.2 1383.0,496.1 1383.7,496.3 1384.4,496.1 1385.1,495.9 1385.8,496.1 1386.5,496.2 1387.2,496.0 1387.9,496.1 1388.6,496.1 1389.3,495.1 1390.0,495.1 1390.7,495.1 1391.4,495.8 1392.1,495.8 1392.8,496.3 1393.5,495.9 1394.2,496.1 1394.9,496.5 1395.6,496.2 1396.3,496.0 1397.0,496.1 1397.7,496.1 1398.4,496.0 1399.1,496.1 1399.8,496.2 1400.5,496.2 1401.2,496.1 1401.9,496.1 1402.6,496.1 1403.3,496.1 1404.0,496.1 1404.7,495.9 1405.4,495.8 1406.1,496.1 1406.8,496.0 1407.5,496.1 1408.2,496.1 1408.9,495.9 1409.6,496.4 1410.3,495.8 1411.0,497.4 1411.7,497.4 1412.4,497.3 1413.1,496.0 1413.8,494.7 1414.5,495.9 1415.2,495.9 1415.9,495.9 1416.6,495.9 1417.3,496.0 1418.0,495.8 1418.7,495.8 1419.4,495.4 1420.1,495.5 1420.8,496.2 1421.5,495.8 1422.2,495.7 1422.9,495.7 1423.6,495.7 1424.3,495.7 1425.0,495.8 1425.7,495.6 1426.4,495.6 1427.1,496.1 1427.8,495.7 1428.5,495.7 1429.2,495.5 1429.9,496.8 1430.6,495.6 1431.3,495.7 1432.0,495.7 1432.7,495.2 1433.4,495.7 1434.1,495.4 1434.8,495.7 1435.5,495.6 1436.2,495.6 1436.9,495.5 1437.6,494.2 1438.3,494.2 1439.0,494.2 1439.7,494.0 1440.4,495.6 1441.1,495.4 1441.8,494.2 1442.5,494.2 1443.2,494.2 1443.9,494.2 1444.6,495.6 1445.3,495.3 1446.0,495.4 1446.7,495.0 1447.4,495.4 1448.1,494.2 1448.8,494.2 1449.5,495.4 1450.2,495.5 1450.9,495.4 1451.6,495.3 1452.3,495.0 1453.0,495.6 1453.7,494.9 1454.4,495.5 1455.1,495.2 1455.8,493.9 1456.5,493.9 1457.2,495.0 1457.9,496.6 1458.6,495.3 1459.3,494.9 1460.0,495.4 1460.7,495.4 1461.4,495.1 1462.1,495.6 1462.8,495.4 1463.5,495.3 1464.2,495.2 1464.9,496.3 1465.6,496.3 1466.3,495.6 1467.0,495.0 1467.7,495.1 1468.4,495.2 1469.1,495.1 1469.8,495.1 1470.5,495.3 1471.2,496.2 1471.9,496.2 1472.6,496.2 1473.3,496.2 1474.0,495.3 1474.7,495.3 1475.4,495.3 1476.1,495.3 1476.8,495.1 1477.5,495.1 1478.2,495.2 1478.9,495.1 1479.6,495.3 1480.3,495.3 1481.0,495.4 1481.7,495.2 1482.4,495.5 1483.1,495.3 1483.8,495.1 1484.5,495.3 1485.2,495.2 1485.9,495.2 1486.6,495.0 1487.3,495.2 1488.0,495.1 1488.7,495.4 1489.4,494.7 1490.1,495.3 1490.8,495.0 1491.5,495.2 1492.2,495.4 1492.9,495.0 1493.6,495.1 1494.3,495.1 1495.0,494.9 1495.7,495.2 1496.4,495.1 1497.1,495.1 1497.8,495.1 1498.5,496.2 1499.2,495.3 1499.9,495.0 1500.6,495.1 1501.3,495.0 1502.0,494.9 1502.7,495.1 1503.4,494.9 1504.1,495.1 1504.8,495.1 1505.5,495.1 1506.2,494.9 1506.9,494.8 1507.6,494.8 1507.9,495.1 1508.2,494.9 1508.5,494.6 1508.8,494.6 1509.1,495.1 1509.4,494.9 1509.7,494.8 1510.0,495.3 1510.3,494.4 1510.6,494.6 1510.9,494.8 1511.2,494.7 1511.5,494.5 1511.8,494.7 1512.1,494.6 1512.4,494.6 1512.7,494.5 1513.0,494.2 1513.3,494.5 1513.6,494.4 1513.9,494.7 1514.2,494.4 1514.5,494.3 1514.8,494.5 1515.1,494.2 1515.4,493.6 1515.7,493.9 1516.0,493.8 1516.3,493.5 1516.6,493.3 1516.9,493.5 1517.2,493.2 1517.5,492.9 1517.8,492.7 1518.1,492.5 1518.4,492.4 1518.7,491.8 1519.0,491.6 1519.3,490.9 1519.6,490.5 1519.9,489.6 1520.2,488.2 1520.5,487.2 1520.8,486.0 1521.1,484.4 1521.4,483.3 1521.7,481.1 1522.0,479.4 1522.3,478.0 1522.6,477.6 1522.9,475.8 1523.2,475.8 1523.5,475.8 1523.8,475.6 1524.1,476.8 1524.4,478.3 1524.7,480.8 1525.0,482.3 1525.3,483.2 1525.6,484.3 1525.9,486.4 1526.2,485.5 1526.5,485.7 1526.8,485.4 1527.1,485.5 1527.4,484.8 1527.7,484.8 1528.0,484.1 1528.3,484.0 1528.6,484.0 1528.9,483.9 1529.2,484.2 1529.5,484.9 1529.8,485.8 1530.1,486.8 1530.4,487.9 1530.7,488.6 1531.0,489.1 1531.3,490.2 1531.6,490.7 1531.9,491.3 1532.2,491.7 1532.5,492.3 1532.8,492.6 1533.1,492.8 1533.4,492.9 1533.7,493.1 1534.0,493.5 1534.3,493.4 1534.6,494.2 1534.9,493.8 1535.2,494.0 1535.5,494.2 1535.8,494.4 1536.1,494.1 1536.4,494.1 1536.7,494.4 1537.0,493.1 1537.3,493.2 1537.6,494.6 1537.9,494.8 1538.2,494.7 1538.5,494.8 1538.8,494.9 1539.1,494.9 1539.4,494.7 1540.1,494.8 1540.8,494.6 1541.5,495.0 1542.2,493.7 1542.9,493.7 1543.6,493.8 1544.3,493.8 1545.0,495.1 1545.7,493.7 1546.4,493.8 1547.1,494.8 1547.8,494.9 1548.5,494.0 1549.2,495.2 1549.9,495.2 1550.6,494.8 1551.3,494.9 1552.0,495.0 1552.7,495.1 1553.4,495.4 1554.1,495.2 1554.8,495.4 1555.5,495.1 1556.2,495.1 1556.9,495.2 1557.6,495.0 1558.3,495.1 1559.0,495.5 1559.7,494.9 1560.4,495.2 1561.1,495.4 1561.8,495.5 1562.5,495.3 1563.2,495.3 1563.9,494.9 1564.6,495.0 1565.3,495.1 1566.0,494.9 1566.7,494.9 1567.4,495.0 1568.1,495.3 1568.8,495.4 1569.5,495.6 1570.2,495.3 1570.9,496.4 1571.6,496.4 1572.3,496.4 1573.0,496.4 1573.7,494.1 1574.4,494.1 1575.1,494.1 1575.8,494.1 1576.5,495.0 1577.2,495.0 1577.9,496.2 1578.6,496.2 1579.3,496.2 1580.0,495.3 1580.7,495.4 1581.4,495.2 1582.1,495.1 1582.8,495.0 1583.5,495.1 1584.2,495.4 1584.9,495.1 1585.6,495.3 1586.3,495.1 1587.0,495.0 1587.7,495.0 1588.4,495.0 1589.1,495.3 1589.8,495.1 1590.5,495.5 1591.2,495.1 1591.9,495.1 1592.6,495.3 1593.3,495.3 1594.0,495.3 1594.7,494.9 1595.4,495.3 1596.1,495.3 1596.8,495.3 1597.5,495.2 1598.2,495.2 1598.9,495.4 1599.6,495.1 1600.3,495.0 1601.0,494.0 1601.7,494.0 1602.4,495.5 1603.1,495.0 1603.8,495.2 1604.5,495.5 1605.2,495.3 1605.9,494.9 1606.6,495.0 1607.3,495.1 1608.0,495.1 1608.7,495.2 1609.4,494.9 1610.1,494.9 1610.4,495.4 1610.7,495.1 1611.0,494.1 1611.3,495.2 1611.6,494.9 1611.9,495.0 1612.2,493.8 1612.5,495.0 1612.8,495.0 1613.1,495.0 1613.4,495.2 1613.7,495.0 1614.0,495.1 1614.3,494.7 1614.6,495.1 1614.9,495.0 1615.2,495.1 1615.5,494.7 1615.8,494.8 1616.1,494.4 1616.4,494.8 1616.7,494.8 1617.0,494.6 1617.3,494.6 1617.6,494.9 1617.9,495.0 1618.2,494.7 1618.5,494.7 1618.8,494.8 1619.1,494.5 1619.4,494.5 1619.7,494.8 1620.0,495.8 1620.3,495.8 1620.6,495.7 1620.9,494.3 1621.2,494.1 1621.5,494.2 1621.8,494.2 1622.1,493.8 1622.4,493.7 1622.7,492.7 1623.0,492.5 1623.3,493.0 1623.6,492.8 1623.9,492.9 1624.2,492.4 1624.5,491.8 1624.8,491.5 1625.1,491.4 1625.4,490.7 1625.7,489.6 1626.0,489.3 1626.3,488.2 1626.6,487.7 1626.9,486.9 1627.2,486.0 1627.5,485.6 1627.8,485.4 1628.1,485.2 1628.4,485.3 1628.7,485.3 1629.0,486.1 1629.3,486.8 1629.6,487.4 1629.9,487.9 1630.2,488.7 1630.5,489.0 1630.8,489.4 1631.1,489.7 1631.4,489.8 1631.7,489.9 1632.0,490.4 1632.3,490.2 1632.6,489.6 1632.9,489.6 1633.2,489.7 1633.5,489.5 1633.8,489.5 1634.1,488.1 1634.4,488.2 1634.7,488.4 1635.0,488.7 1635.3,490.3 1635.6,490.5 1635.9,491.2 1636.2,491.5 1636.5,491.8 1636.8,492.2 1637.1,492.7 1637.4,493.3 1637.7,493.2 1638.0,493.4 1638.3,494.6 1638.6,494.8 1638.9,493.9 1639.2,494.1 1639.5,494.0 1639.8,494.1 1640.1,494.4 1640.4,494.4 1640.7,494.5 1641.0,494.6 1641.3,493.5 1641.6,493.5 1641.9,493.5 1642.2,494.7 1642.5,494.7 1642.8,494.7 1643.1,495.7 1643.4,494.9 1643.7,494.9 1644.0,495.0 1644.3,494.9 1644.6,494.9 1644.9,494.9 1645.2,494.6 1645.5,494.8 1645.8,494.9 1646.1,494.8 1646.8,493.7 1647.5,493.7 1648.2,494.9 1648.9,495.2 1649.6,495.0 1650.3,495.0 1651.0,495.0 1651.7,495.0 1652.4,495.2 1653.1,495.0 1653.8,495.2 1654.5,495.0 1655.2,495.1 1655.9,495.0 1656.6,495.3 1657.3,495.3 1658.0,493.7 1658.7,493.7 1659.4,495.4 1660.1,495.5 1660.8,495.1 1661.5,495.3 1662.2,495.1 1662.9,495.3 1663.6,495.1 1664.3,495.0 1665.0,495.3 1665.7,495.3 1666.4,493.8 1667.1,493.8 1667.8,493.8 1668.5,493.8 1669.2,495.3 1669.9,495.3 1670.6,495.3 1671.3,493.9 1672.0,493.9 1672.7,493.9 1673.4,495.2 1674.1,495.4 1674.8,495.3 1675.5,495.3 1676.2,495.2 1676.9,493.8 1677.6,493.8 1678.3,493.8 1679.0,495.1 1679.7,495.4 1680.4,495.0 1681.1,495.5 1681.8,495.5 1682.5,495.3 1683.2,495.0 1683.9,495.5 1684.6,495.3 1685.3,495.3 1686.0,495.3 1686.7,495.2 1687.4,493.8 1688.1,493.8 1688.8,493.8 1689.5,494.1 1690.2,494.1 1690.9,494.1 1691.6,494.1 1692.3,495.3 1693.0,495.0 1693.7,495.4 1694.4,494.9 1695.1,495.7 1695.8,494.0 1696.5,495.4 1697.2,495.5 1697.9,495.2 1698.6,495.3 1699.3,495.1 1700.0,495.2 1700.7,495.1 1701.4,494.8 1702.1,495.1 1702.8,494.9 1703.5,495.2 1704.2,495.2 1704.9,495.3 1705.6,495.3 1706.3,495.4 1707.0,495.3 1707.7,495.3 1708.4,495.1 1709.1,495.4 1709.8,495.2 1710.5,495.3 1711.2,495.0 1711.9,493.8 1712.6,493.8 1713.3,496.6 1714.0,495.0 1714.7,495.3 1715.4,495.3 1716.1,495.1 1716.8,495.1 1717.5,495.4 1718.2,495.3 1718.9,495.1 1719.6,494.9 1720.3,495.0 1721.0,495.2 1721.7,495.4 1722.4,495.4 1723.1,495.6 1723.8,494.2 1724.5,494.2 1725.2,494.2 1725.9,494.2 1726.6,495.2 1727.3,495.1 1728.0,495.4 1728.7,495.6 1729.4,495.2 1730.1,495.4 1730.8,495.5 1731.5,495.5 1732.2,495.2 1732.9,495.3 1733.6,495.0 1734.3,495.3 1735.0,495.3 1735.7,495.2 1736.4,495.6 1737.1,495.4 1737.8,495.3 1738.5,495.5 1739.2,494.2 1739.9,494.2 1740.6,494.2 1741.3,494.2 1742.0,495.5 1742.7,495.1 1743.4,495.0 1744.1,495.2 1744.8,495.5 1745.5,495.5 1746.2,495.2 1746.9,493.8 1747.6,493.8 1748.3,493.8 1749.0,493.8 1749.7,495.2 1750.4,495.0 1751.1,495.3 1751.8,495.5 1752.5,495.5 1753.2,495.1 1753.9,495.3 1754.6,495.3 1755.3,494.9 1756.0,495.1 1756.7,495.4 1757.4,495.1 1758.1,495.2 1758.8,494.9 1759.5,495.2 1760.2,495.3 1760.9,495.2 1761.6,495.1 1762.3,495.3 1763.0,493.9 1763.7,493.9 1764.4,493.9 1765.1,493.9 1765.8,495.2 1766.5,495.0 1767.2,496.6 1767.9,496.6 1768.6,496.6 1769.3,496.5 1770.0,495.4 1770.7,495.4 1771.4,495.5 1772.1,495.1 1772.8,495.2 1773.5,495.1 1774.2,495.0 1774.9,495.2 1775.6,495.3 1776.3,495.4 1777.0,495.2 1777.7,495.2 1778.4,495.5 1779.1,495.3 1779.8,493.9 1780.5,493.9 1781.2,493.9 1781.9,493.9 1782.6,493.9 1783.3,493.9 1784.0,495.4 1784.7,495.2 1785.4,495.0 1786.1,495.1 1786.8,495.4 1787.5,495.1 1788.2,495.6 1788.9,495.5 1789.6,495.1 1790.3,495.4 1791.0,494.7 1791.7,495.3 1792.4,495.5 1793.1,495.3 1793.8,495.3 1794.5,495.3 1795.2,495.1 1795.9,495.5 1796.6,495.4 1797.3,495.3 1798.0,494.7 1798.7,495.4 1799.4,495.1 1800.1,494.9 1800.8,495.4 1801.5,494.9 1802.2,494.9 1802.9,495.4 1803.6,495.4 1804.3,495.2 1805.0,496.4 1805.7,496.4 1806.4,496.4 1807.1,496.4 1807.8,495.4 1808.5,495.3 1809.2,495.1 1809.9,495.4 1810.6,493.8 1811.3,493.8 1812.0,495.3 1812.7,495.2 1813.4,495.3 1814.1,494.9 1814.8,495.0 1815.5,495.1 1816.2,495.0 1816.9,495.1 1817.6,495.2 1818.3,495.0 1819.0,495.4 1819.7,495.3 1820.4,495.4 1821.1,495.1 1821.8,495.3 1822.5,495.3 1823.2,495.3 1823.9,495.1 1824.6,494.1 1825.3,494.1 1826.0,494.1 1826.7,495.3 1827.4,495.7 1828.1,495.5 1828.8,495.1 1829.5,495.0 1830.2,495.3 1830.9,495.0 1831.6,495.2 1832.3,495.3 1833.0,495.2 1833.7,495.6 1834.4,495.0 1835.1,495.3 1835.8,495.1 1836.5,495.3 1837.2,495.2 1837.9,495.3 1838.6,495.5 1839.3,495.2 1840.0,495.5 1840.7,495.1 1841.4,495.3 1842.1,495.4 1842.8,495.5 1843.5,495.5 1844.2,495.4 1844.9,494.7 1845.6,495.2 1846.3,493.9 1847.0,495.4 1847.7,495.4 1848.4,495.5 1849.1,495.1 1849.8,495.1 1850.5,495.4 1851.2,495.6 1851.9,495.3 1852.6,495.3 1853.3,495.2 1854.0,495.4 1854.7,495.1 1855.4,495.3 1856.1,494.9 1856.8,494.9 1857.5,495.4 1858.2,495.3 1858.9,493.8 1859.6,493.8 1860.3,493.8 1861.0,493.8 1861.7,495.2 1862.4,495.2 1863.1,495.3 1863.8,495.0 1864.5,495.6 1865.2,494.8 1865.9,495.3 1866.6,495.0 1867.3,495.2 1868.0,495.3 1868.7,496.3 1869.4,496.3 1870.1,495.3 1870.8,495.0 1871.5,495.2 1872.2,495.0 1872.9,495.4 1873.6,495.5 1874.3,495.1 1875.0,495.5 1875.7,495.3 1876.4,495.3 1877.1,495.3 1877.8,495.4 1878.5,495.1 1879.2,495.1 1879.9,495.2 1880.6,495.1 1881.3,495.1 1882.0,495.3 1882.7,495.0 1883.4,495.2 1884.1,495.0 1884.8,495.2 1885.5,495.1 1886.2,495.3 1886.9,494.9 1887.6,494.8 1888.3,495.3 1889.0,495.1 1889.7,495.5 1890.4,496.4 1891.1,496.4 1891.8,495.3 1892.5,495.4 1893.2,495.2 1893.9,495.2 1894.6,494.9 1895.3,495.1 1896.0,494.8 1896.7,494.9 1897.4,495.2 1898.1,495.0 1898.8,495.7 1899.5,495.3 1900.2,495.2 1900.9,494.9 1901.6,495.6 1902.3,495.1 1903.0,495.5 1903.7,495.3 1904.4,495.1 1905.1,495.2 1905.8,495.5 1906.5,495.2 1907.2,495.5 1907.9,495.6 1909.0,495.6" fill="none" stroke="#008000" stroke-width="8.8" stroke-linejoin="round" stroke-linecap="butt"/>
<path d="M120.0,259.0 123.0,258.9 126.0,258.9 129.0,258.8 132.0,258.8 135.0,258.7 138.0,258.7 141.0,258.6 144.0,258.5 147.0,258.5 150.0,258.4 153.0,258.4 156.0,258.3 159.0,258.2 162.0,258.2 165.0,258.1 168.0,258.1 171.0,258.0 174.0,258.0 177.0,257.9 180.0,257.8 183.0,257.8 186.0,257.7 189.0,257.7 192.0,257.6 195.0,257.6 198.0,257.5 201.0,257.4 204.0,257.4 207.0,257.3 210.0,257.3 213.0,257.2 216.0,257.2 219.0,257.1 222.0,257.0 225.0,257.0 228.0,256.9 231.0,256.9 234.0,256.8 237.0,256.7 240.0,256.7 243.0,256.6 246.0,256.6 249.0,256.5 252.0,256.5 255.0,256.4 258.0,256.3 261.0,256.3 264.0,256.2 267.0,256.2 270.0,256.1 273.0,256.0 276.0,256.0 279.0,255.9 282.0,255.9 285.0,255.8 288.0,255.8 291.0,255.7 294.0,255.6 297.0,255.6 300.0,255.5 303.0,255.5 306.0,255.4 309.0,255.3 312.0,255.3 315.0,255.2 318.0,255.2 321.0,255.1 324.0,255.1 327.0,255.0 330.0,254.9 333.0,254.9 336.0,254.8 339.0,254.7 342.0,254.7 345.0,254.6 348.0,254.5 351.0,254.4 354.0,254.4 357.0,254.3 360.0,254.2 363.0,254.1 366.0,254.1 369.0,254.0 372.0,253.9 375.0,253.8 378.0,253.8 381.0,253.7 384.0,253.6 387.0,253.5 390.0,253.5 393.0,253.4 396.0,253.3 399.0,253.2 402.0,253.2 405.0,253.1 408.0,253.0 411.0,252.9 414.0,252.8 417.0,252.8 420.0,252.7 423.0,252.6 426.0,252.5 429.0,252.5 432.0,252.4 435.0,252.3 438.0,252.2 441.0,252.2 444.0,252.1 447.0,252.0 450.0,251.9 453.0,251.8 456.0,251.8 459.0,251.7 462.0,251.6 465.0,251.5 468.0,251.4 471.0,251.3 474.0,251.3 477.0,251.2 480.0,251.1 483.0,251.0 486.0,250.9 489.0,250.8 492.0,250.7 495.0,250.7 498.0,250.6 501.0,250.5 504.0,250.3 507.0,250.2 510.0,250.1 513.0,249.9 516.0,249.8 519.0,249.6 522.0,249.5 525.0,249.3 528.0,249.2 531.0,249.0 534.0,248.8 537.0,248.6 540.0,248.5 543.0,248.2 546.0,248.0 549.0,247.8 549.8,247.7 550.6,247.6 551.4,247.5 552.2,247.4 553.0,247.4 553.8,247.3 554.6,247.2 555.4,247.1 556.2,247.0 557.0,246.9 557.8,246.8 558.6,246.7 559.4,246.6 560.2,246.5 561.0,246.3 561.8,246.2 562.6,246.1 563.4,245.9 564.2,245.8 565.0,245.6 565.8,245.4 566.6,245.3 567.4,245.1 568.2,244.9 569.0,244.7 569.8,244.4 570.6,244.2 571.4,243.9 572.2,243.6 573.0,243.3 573.8,243.0 574.6,242.6 575.4,242.2 576.2,241.8 577.0,241.3 577.8,240.7 578.6,240.2 579.4,239.5 580.2,238.8 581.0,238.0 581.8,237.1 582.6,236.0 583.4,234.9 584.2,233.5 585.0,232.0 585.8,230.2 586.6,228.2 587.4,225.8 588.2,223.0 589.0,219.8 589.8,215.9 590.6,211.4 591.4,206.0 592.2,199.7 593.0,192.5 593.8,184.3 594.6,175.4 595.4,166.2 596.2,157.7 597.0,150.7 597.8,146.5 598.6,145.6 599.4,148.1 600.2,153.4 601.0,160.9 601.8,169.5 602.6,178.4 603.4,186.9 604.2,194.6 605.0,201.4 605.8,207.3 606.6,212.3 607.4,216.5 608.2,220.1 609.0,223.1 609.8,225.7 610.6,227.9 611.4,229.8 612.2,231.4 613.0,232.8 613.8,234.0 614.6,235.1 615.4,236.0 616.2,236.9 617.0,237.6 617.8,238.2 618.6,238.8 619.4,239.3 620.2,239.7 621.0,240.1 621.8,240.5 622.6,240.8 623.4,241.1 624.2,241.4 625.0,241.6 625.8,241.8 626.6,242.0 627.4,242.2 628.2,242.4 629.0,242.5 629.8,242.7 630.6,242.8 631.4,242.9 632.2,243.0 633.0,243.1 633.8,243.2 634.6,243.3 635.4,243.4 636.2,243.4 637.0,243.5 637.8,243.5 638.6,243.6 639.4,243.6 640.2,243.7 641.0,243.7 641.8,243.7 642.6,243.8 643.4,243.8 644.2,243.8 645.0,243.8 645.8,243.8 646.6,243.9 647.4,243.9 648.2,243.9 649.0,243.9 649.8,243.9 652.8,244.0 655.8,244.1 658.8,244.2 661.8,244.2 664.8,244.3 667.8,244.3 670.8,244.4 673.8,244.4 676.8,244.4 677.6,244.4 678.4,244.4 679.2,244.4 680.0,244.4 680.8,244.4 681.6,244.4 682.4,244.4 683.2,244.4 684.0,244.4 684.8,244.4 685.6,244.4 686.4,244.4 687.2,244.4 688.0,244.4 688.8,244.4 689.6,244.4 690.4,244.4 691.2,244.4 692.0,244.4 692.8,244.3 693.6,244.3 694.4,244.3 695.2,244.3 696.0,244.3 696.8,244.3 697.6,244.3 698.4,244.2 699.2,244.2 700.0,244.2 700.8,244.2 701.6,244.2 702.4,244.1 703.2,244.1 704.0,244.1 704.8,244.1 705.6,244.0 706.4,244.0 707.2,244.0 708.0,243.9 708.8,243.9 709.6,243.8 710.4,243.8 711.2,243.7 712.0,243.7 712.8,243.6 713.6,243.5 714.4,243.4 715.2,243.4 716.0,243.3 716.8,243.2 717.6,243.1 718.4,243.0 719.2,242.8 720.0,242.7 720.8,242.6 721.6,242.4 722.4,242.2 723.2,242.0 724.0,241.8 724.8,241.5 725.6,241.2 726.4,240.9 727.2,240.6 728.0,240.2 728.8,239.7 729.6,239.2 730.4,238.7 731.2,238.0 732.0,237.3 732.8,236.5 733.6,235.5 734.4,234.5 735.2,233.3 736.0,232.0 736.8,230.6 737.6,229.2 738.4,227.7 739.2,226.2 740.0,225.0 740.8,223.9 741.6,223.3 742.4,223.0 743.2,223.2 744.0,223.7 744.8,224.7 745.6,225.9 746.4,227.2 747.2,228.7 748.0,230.1 748.8,231.5 749.6,232.9 750.4,234.1 751.2,235.2 752.0,236.1 752.8,237.0 753.6,237.8 754.4,238.5 755.2,239.1 756.0,239.6 756.8,240.1 757.6,240.5 758.4,240.9 759.2,241.2 760.0,241.5 760.8,241.7 761.6,242.0 762.4,242.2 763.2,242.4 764.0,242.6 764.8,242.7 765.6,242.9 766.4,243.0 767.2,243.1 768.0,243.2 768.8,243.3 769.6,243.4 770.4,243.5 771.2,243.6 772.0,243.7 772.8,243.7 773.6,243.8 774.4,243.9 775.2,243.9 776.0,244.0 776.8,244.0 777.6,244.1 778.4,244.1 779.2,244.2 780.0,244.2 780.8,244.2 781.6,244.3 782.4,244.3 783.2,244.3 784.0,244.4 784.8,244.4 785.6,244.4 786.4,244.4 787.2,244.5 788.0,244.5 788.8,244.5 789.6,244.5 790.4,244.5 791.2,244.6 792.0,244.6 792.8,244.6 793.6,244.6 794.4,244.6 795.2,244.6 796.0,244.6 796.8,244.7 797.6,244.7 798.4,244.7 799.2,244.7 800.0,244.7 800.8,244.7 801.6,244.7 802.4,244.7 803.2,244.7 804.0,244.8 804.8,244.8 805.6,244.8 806.4,244.8 807.2,244.8 808.0,244.8 808.8,244.8 811.8,244.8 814.8,244.9 817.8,244.9 820.8,244.9 823.8,244.9 826.8,244.9 829.8,245.0 832.8,245.0 835.8,245.0 838.8,245.0 841.8,245.0 844.8,245.0 847.8,245.0 850.8,245.0 853.8,245.0 856.8,245.1 859.8,245.1 862.8,245.1 865.8,245.1 868.8,245.1 871.8,245.1 874.8,245.1 877.8,245.1 880.8,245.1 883.8,245.1 886.8,245.1 889.8,245.1 892.8,245.1 895.8,245.1 898.8,245.1 901.8,245.1 904.8,245.2 907.8,245.2 910.8,245.2 913.8,245.2 916.8,245.2 919.8,245.2 922.8,245.2 925.8,245.2 928.8,245.2 931.8,245.2 934.8,245.2 937.8,245.2 940.8,245.2 943.8,245.2 946.8,245.2 949.8,245.2 952.8,245.2 955.8,245.2 958.8,245.2 961.8,245.2 964.8,245.2 967.8,245.2 970.8,245.2 973.8,245.2 976.8,245.2 979.8,245.2 982.8,245.2 985.8,245.2 988.8,245.2 991.8,245.2 994.8,245.3 997.8,245.3 1000.8,245.3 1003.8,245.3 1006.8,245.3 1009.8,245.3 1012.8,245.3 1015.8,245.3 1018.8,245.3 1021.8,245.3 1024.8,245.3 1027.8,245.3 1030.8,245.3 1033.8,245.3 1036.8,245.3 1039.8,245.3 1042.8,245.3 1045.8,245.3 1048.8,245.3 1051.8,245.3 1054.8,245.3 1057.8,245.3 1060.8,245.3 1063.8,245.3 1066.8,245.3 1069.8,245.3 1072.8,245.3 1075.8,245.3 1078.8,245.3 1081.8,245.3 1084.8,245.3 1087.8,245.3 1090.8,245.3 1093.8,245.3 1096.8,245.3 1099.8,245.3 1102.8,245.3 1105.8,245.3 1108.8,245.3 1111.8,245.3 1114.8,245.2 1117.8,245.2 1118.6,245.2 1119.4,245.2 1120.2,245.2 1121.0,245.2 1121.8,245.2 1122.6,245.2 1123.4,245.2 1124.2,245.2 1125.0,245.2 1125.8,245.2 1126.6,245.2 1127.4,245.2 1128.2,245.2 1129.0,245.2 1129.8,245.2 1130.6,245.2 1131.4,245.2 1132.2,245.2 1133.0,245.2 1133.8,245.2 1134.6,245.2 1135.4,245.1 1136.2,245.1 1137.0,245.1 1137.8,245.1 1138.6,245.1 1139.4,245.1 1140.2,245.1 1141.0,245.1 1141.8,245.1 1142.6,245.1 1143.4,245.1 1144.2,245.1 1145.0,245.1 1145.8,245.1 1146.6,245.1 1147.4,245.1 1148.2,245.1 1149.0,245.1 1149.8,245.1 1150.6,245.0 1151.4,245.0 1152.2,245.0 1153.0,245.0 1153.8,245.0 1154.6,245.0 1155.4,245.0 1156.2,245.0 1157.0,245.0 1157.8,245.0 1158.6,245.0 1159.4,245.0 1160.2,245.0 1161.0,245.0 1161.8,244.9 1162.6,244.9 1163.4,244.9 1164.2,244.9 1165.0,244.9 1165.8,244.9 1166.6,244.9 1167.4,244.9 1168.2,244.9 1169.0,244.8 1169.8,244.8 1170.6,244.8 1171.4,244.8 1172.2,244.8 1173.0,244.8 1173.8,244.8 1174.6,244.8 1175.4,244.7 1176.2,244.7 1177.0,244.7 1177.8,244.7 1178.6,244.7 1179.4,244.6 1180.2,244.6 1181.0,244.6 1181.8,244.6 1182.6,244.5 1183.4,244.5 1184.2,244.5 1185.0,244.4 1185.8,244.4 1186.6,244.3 1187.4,244.3 1188.2,244.2 1189.0,244.2 1189.8,244.1 1190.6,244.1 1191.4,244.0 1192.2,243.9 1193.0,243.8 1193.8,243.7 1194.6,243.5 1195.4,243.4 1196.2,243.2 1197.0,243.1 1197.8,242.9 1198.6,242.7 1199.4,242.4 1200.2,242.2 1201.0,241.9 1201.8,241.6 1202.6,241.2 1203.4,240.9 1204.2,240.5 1205.0,240.1 1205.8,239.6 1206.6,239.2 1207.4,238.7 1208.2,238.2 1209.0,237.7 1209.8,237.2 1210.6,236.6 1211.4,236.1 1212.2,235.6 1213.0,235.1 1213.8,234.7 1214.6,234.3 1215.4,233.9 1216.2,233.6 1217.0,233.4 1217.8,233.2 1218.6,233.1 1219.4,233.1 1220.2,233.2 1221.0,233.3 1221.8,233.6 1222.6,233.9 1223.4,234.2 1224.2,234.6 1225.0,235.1 1225.8,235.5 1226.6,236.0 1227.4,236.5 1228.2,237.1 1229.0,237.6 1229.8,238.1 1230.6,238.6 1231.4,239.0 1232.2,239.5 1233.0,239.9 1233.8,240.3 1234.6,240.7 1235.4,241.1 1236.2,241.4 1237.0,241.7 1237.8,242.0 1238.6,242.3 1239.4,242.5 1240.2,242.7 1241.0,242.9 1241.8,243.1 1242.6,243.2 1243.4,243.4 1244.2,243.5 1245.0,243.6 1245.8,243.7 1246.6,243.8 1247.4,243.9 1248.2,244.0 1249.0,244.0 1249.8,244.1 1250.6,244.1 1251.4,244.2 1252.2,244.2 1253.0,244.2 1253.8,244.3 1254.6,244.3 1255.4,244.3 1256.2,244.4 1257.0,244.4 1257.8,244.4 1258.6,244.4 1259.4,244.4 1260.2,244.5 1261.0,244.5 1261.8,244.5 1262.6,244.5 1263.4,244.5 1264.2,244.5 1265.0,244.5 1265.8,244.5 1266.6,244.6 1267.4,244.6 1268.2,244.6 1269.0,244.6 1269.8,244.6 1270.6,244.6 1271.4,244.6 1272.2,244.6 1273.0,244.6 1273.8,244.6 1274.6,244.6 1275.4,244.6 1276.2,244.6 1277.0,244.6 1277.8,244.6 1278.6,244.7 1279.4,244.7 1280.2,244.7 1281.0,244.7 1281.8,244.7 1282.6,244.7 1283.4,244.7 1284.2,244.7 1285.0,244.7 1285.8,244.7 1286.6,244.7 1287.4,244.7 1288.2,244.7 1289.0,244.7 1289.8,244.7 1290.6,244.7 1291.4,244.7 1292.2,244.7 1293.0,244.7 1293.8,244.7 1294.6,244.7 1295.4,244.7 1296.2,244.7 1297.0,244.7 1297.8,244.7 1298.6,244.7 1299.4,244.7 1300.2,244.7 1301.0,244.7 1301.8,244.7 1302.6,244.7 1303.4,244.7 1304.2,244.7 1305.0,244.7 1305.8,244.7 1306.6,244.7 1307.4,244.7 1308.2,244.7 1309.0,244.7 1309.8,244.7 1310.6,244.7 1311.4,244.7 1312.2,244.7 1313.0,244.7 1313.8,244.7 1314.6,244.7 1315.4,244.7 1316.2,244.7 1317.0,244.7 1317.8,244.7 1318.6,244.7 1319.4,244.7 1320.2,244.7 1321.0,244.7 1321.8,244.7 1324.8,244.7 1327.8,244.7 1330.8,244.7 1333.8,244.7 1336.8,244.7 1339.8,244.7 1342.8,244.7 1345.8,244.6 1348.8,244.6 1351.8,244.6 1354.8,244.6 1357.8,244.6 1360.8,244.6 1363.8,244.6 1366.8,244.6 1369.8,244.6 1372.8,244.6 1375.8,244.6 1378.8,244.6 1381.8,244.6 1384.8,244.5 1387.8,244.5 1390.8,244.5 1393.8,244.5 1396.8,244.5 1399.8,244.5 1402.8,244.5 1405.8,244.5 1408.8,244.5 1409.6,244.5 1410.4,244.4 1411.2,244.4 1412.0,244.4 1412.8,244.4 1413.6,244.4 1414.4,244.4 1415.2,244.4 1416.0,244.4 1416.8,244.4 1417.6,244.4 1418.4,244.4 1419.2,244.4 1420.0,244.4 1420.8,244.4 1421.6,244.4 1422.4,244.4 1423.2,244.4 1424.0,244.4 1424.8,244.4 1425.6,244.4 1426.4,244.4 1427.2,244.4 1428.0,244.3 1428.8,244.3 1429.6,244.3 1430.4,244.3 1431.2,244.3 1432.0,244.3 1432.8,244.3 1433.6,244.3 1434.4,244.3 1435.2,244.3 1436.0,244.3 1436.8,244.3 1437.6,244.3 1438.4,244.3 1439.2,244.3 1440.0,244.3 1440.8,244.3 1441.6,244.3 1442.4,244.3 1443.2,244.2 1444.0,244.2 1444.8,244.2 1445.6,244.2 1446.4,244.2 1447.2,244.2 1448.0,244.2 1448.8,244.2 1449.6,244.2 1450.4,244.2 1451.2,244.2 1452.0,244.2 1452.8,244.2 1453.6,244.2 1454.4,244.2 1455.2,244.2 1456.0,244.2 1456.8,244.2 1457.6,244.2 1458.4,244.2 1459.2,244.2 1460.0,244.2 1460.8,244.1 1461.6,244.1 1462.4,244.1 1463.2,244.1 1464.0,244.1 1464.8,244.1 1465.6,244.1 1466.4,244.1 1467.2,244.1 1468.0,244.1 1468.8,244.1 1469.6,244.1 1470.4,244.1 1471.2,244.1 1472.0,244.1 1472.8,244.1 1473.6,244.1 1474.4,244.1 1475.2,244.0 1476.0,244.0 1476.8,244.0 1477.6,244.0 1478.4,244.0 1479.2,244.0 1480.0,244.0 1480.8,244.0 1481.6,244.0 1482.4,244.0 1483.2,244.0 1484.0,244.0 1484.8,243.9 1485.6,243.9 1486.4,243.9 1487.2,243.9 1488.0,243.9 1488.8,243.9 1489.6,243.9 1490.4,243.8 1491.2,243.8 1492.0,243.8 1492.8,243.8 1493.6,243.8 1494.4,243.8 1495.2,243.7 1496.0,243.7 1496.8,243.7 1497.6,243.7 1498.4,243.6 1499.2,243.6 1500.0,243.6 1500.8,243.6 1501.6,243.5 1502.4,243.5 1503.2,243.4 1504.0,243.4 1504.8,243.4 1505.6,243.3 1506.4,243.3 1507.2,243.2 1508.0,243.1 1508.8,243.1 1509.6,243.0 1510.4,242.9 1511.2,242.8 1512.0,242.7 1512.8,242.6 1513.6,242.5 1514.4,242.4 1515.2,242.3 1516.0,242.1 1516.8,242.0 1517.6,241.8 1518.4,241.7 1519.2,241.5 1520.0,241.3 1520.8,241.1 1521.6,240.9 1522.4,240.7 1523.2,240.5 1524.0,240.3 1524.8,240.0 1525.6,239.8 1526.4,239.5 1527.2,239.3 1528.0,239.0 1528.8,238.7 1529.6,238.5 1530.4,238.2 1531.2,237.9 1532.0,237.7 1532.8,237.4 1533.6,237.2 1534.4,236.9 1535.2,236.7 1536.0,236.5 1536.8,236.3 1537.6,236.2 1538.4,236.1 1539.2,236.0 1540.0,235.9 1540.8,235.9 1541.6,235.9 1542.4,235.9 1543.2,236.0 1544.0,236.1 1544.8,236.2 1545.6,236.4 1546.4,236.6 1547.2,236.8 1548.0,237.0 1548.8,237.2 1549.6,237.5 1550.4,237.7 1551.2,238.0 1552.0,238.3 1552.8,238.5 1553.6,238.8 1554.4,239.1 1555.2,239.3 1556.0,239.6 1556.8,239.8 1557.6,240.1 1558.4,240.3 1559.2,240.5 1560.0,240.7 1560.8,240.9 1561.6,241.1 1562.4,241.3 1563.2,241.5 1564.0,241.7 1564.8,241.8 1565.6,242.0 1566.4,242.1 1567.2,242.2 1568.0,242.3 1568.8,242.5 1569.6,242.6 1570.4,242.7 1571.2,242.8 1572.0,242.8 1572.8,242.9 1573.6,243.0 1574.4,243.0 1575.2,243.1 1576.0,243.2 1576.8,243.2 1577.6,243.3 1578.4,243.3 1579.2,243.3 1580.0,243.4 1580.8,243.4 1581.6,243.4 1582.4,243.5 1583.2,243.5 1584.0,243.5 1584.8,243.5 1585.6,243.6 1586.4,243.6 1587.2,243.6 1588.0,243.6 1588.8,243.6 1589.6,243.6 1590.4,243.7 1591.2,243.7 1592.0,243.7 1592.8,243.7 1593.6,243.7 1594.4,243.7 1595.2,243.7 1596.0,243.7 1596.8,243.7 1597.6,243.7 1598.4,243.7 1599.2,243.7 1600.0,243.8 1600.8,243.8 1601.6,243.8 1602.4,243.8 1603.2,243.8 1604.0,243.8 1604.8,243.8 1605.6,243.8 1606.4,243.8 1607.2,243.8 1608.0,243.8 1608.8,243.7 1609.6,243.7 1610.4,243.7 1611.2,243.7 1612.0,243.7 1612.8,243.7 1613.6,243.7 1614.4,243.7 1615.2,243.7 1616.0,243.7 1616.8,243.6 1617.6,243.6 1618.4,243.6 1619.2,243.5 1620.0,243.5 1620.8,243.5 1621.6,243.4 1622.4,243.4 1623.2,243.3 1624.0,243.2 1624.8,243.1 1625.6,243.1 1626.4,242.9 1627.2,242.8 1628.0,242.7 1628.8,242.6 1629.6,242.4 1630.4,242.3 1631.2,242.1 1632.0,241.9 1632.8,241.7 1633.6,241.5 1634.4,241.3 1635.2,241.1 1636.0,240.8 1636.8,240.6 1637.6,240.4 1638.4,240.3 1639.2,240.1 1640.0,240.0 1640.8,239.9 1641.6,239.8 1642.4,239.8 1643.2,239.8 1644.0,239.9 1644.8,239.9 1645.6,240.1 1646.4,240.2 1647.2,240.3 1648.0,240.5 1648.8,240.7 1649.6,240.9 1650.4,241.1 1651.2,241.3 1652.0,241.5 1652.8,241.7 1653.6,241.9 1654.4,242.1 1655.2,242.3 1656.0,242.4 1656.8,242.6 1657.6,242.7 1658.4,242.9 1659.2,243.0 1660.0,243.1 1660.8,243.2 1661.6,243.3 1662.4,243.4 1663.2,243.4 1664.0,243.5 1664.8,243.5 1665.6,243.6 1666.4,243.6 1667.2,243.7 1668.0,243.7 1668.8,243.7 1669.6,243.8 1670.4,243.8 1671.2,243.8 1672.0,243.8 1672.8,243.8 1673.6,243.8 1674.4,243.9 1675.2,243.9 1676.0,243.9 1676.8,243.9 1677.6,243.9 1678.4,243.9 1679.2,243.9 1680.0,243.9 1680.8,243.9 1681.6,243.9 1682.4,244.0 1683.2,244.0 1684.0,244.0 1684.8,244.0 1685.6,244.0 1686.4,244.0 1687.2,244.0 1688.0,244.0 1688.8,244.0 1689.6,244.0 1690.4,244.0 1691.2,244.0 1692.0,244.0 1692.8,244.0 1693.6,244.0 1694.4,244.0 1695.2,244.0 1696.0,244.0 1696.8,244.0 1697.6,244.0 1698.4,244.0 1699.2,244.0 1700.0,244.0 1700.8,244.0 1701.6,244.0 1702.4,244.0 1703.2,244.1 1704.0,244.1 1704.8,244.1 1705.6,244.1 1706.4,244.1 1707.2,244.1 1708.0,244.1 1708.8,244.1 1709.6,244.1 1710.4,244.1 1711.2,244.1 1712.0,244.1 1712.8,244.1 1713.6,244.1 1714.4,244.1 1715.2,244.1 1716.0,244.1 1716.8,244.1 1717.6,244.1 1718.4,244.1 1719.2,244.1 1720.0,244.1 1720.8,244.1 1721.6,244.1 1722.4,244.1 1723.2,244.1 1724.0,244.1 1724.8,244.1 1725.6,244.1 1726.4,244.1 1727.2,244.1 1728.0,244.1 1728.8,244.1 1731.8,244.1 1734.8,244.1 1737.8,244.1 1740.8,244.1 1743.8,244.1 1746.8,244.1 1749.8,244.1 1752.8,244.1 1755.8,244.1 1758.8,244.1 1761.8,244.1 1764.8,244.1 1767.8,244.1 1770.8,244.1 1773.8,244.1 1776.8,244.1 1779.8,244.1 1782.8,244.1 1785.8,244.1 1788.8,244.1 1791.8,244.1 1794.8,244.1 1797.8,244.1 1800.8,244.1 1803.8,244.1 1806.8,244.1 1809.8,244.1 1812.8,244.1 1815.8,244.1 1818.8,244.1 1821.8,244.1 1824.8,244.1 1827.8,244.1 1830.8,244.1 1833.8,244.0 1836.8,244.0 1839.8,244.0 1842.8,244.0 1845.8,244.0 1848.8,244.0 1851.8,244.0 1854.8,244.0 1857.8,244.0 1860.8,244.0 1863.8,244.0 1866.8,244.0 1869.8,244.0 1872.8,244.0 1875.8,244.0 1878.8,244.0 1881.8,244.0 1884.8,244.0 1887.8,244.0 1890.8,244.0 1893.8,244.0 1896.8,244.0 1899.8,244.0 1902.8,244.0 1905.8,244.0 1908.8,244.0" fill="none" stroke="#000080" stroke-width="6.4" stroke-linejoin="round" stroke-linecap="butt"/>
<path d="M120.0,259.0 120.7,259.0 121.4,259.0 122.1,258.9 122.8,259.0 123.5,258.7 124.2,258.8 124.9,260.0 125.6,260.0 126.3,258.6 127.0,258.6 127.7,257.6 128.4,258.9 129.1,258.9 129.8,259.0 130.5,258.8 131.2,257.4 131.9,257.4 132.6,258.4 133.3,258.8 134.0,258.8 134.7,259.0 135.4,258.6 136.1,258.4 136.8,258.5 137.5,259.0 138.2,258.6 138.9,258.8 139.6,258.5 140.3,258.4 141.0,258.7 141.7,258.5 142.4,258.6 143.1,258.5 143.8,257.1 144.5,258.4 145.2,258.4 145.9,258.6 146.6,258.5 147.3,258.7 148.0,258.2 148.7,258.4 149.4,257.0 150.1,256.9 150.8,258.4 151.5,258.5 152.2,258.4 152.9,258.1 153.6,258.5 154.3,258.1 155.0,258.7 155.7,258.3 156.4,258.2 157.1,258.3 157.8,258.4 158.5,258.5 159.2,258.0 159.9,258.1 160.6,258.3 161.3,257.9 162.0,258.1 162.7,258.2 163.4,258.3 164.1,258.0 164.8,256.8 165.5,256.8 166.2,256.8 166.9,256.8 167.6,256.9 168.3,256.9 169.0,258.3 169.7,257.8 170.4,258.3 171.1,257.7 171.8,257.9 172.5,258.0 173.2,258.2 173.9,257.9 174.6,258.3 175.3,258.9 176.0,257.8 176.7,257.6 177.4,257.8 178.1,258.0 178.8,257.7 179.5,258.0 180.2,257.8 180.9,258.1 181.6,257.9 182.3,257.7 183.0,257.8 183.7,258.0 184.4,257.6 185.1,257.7 185.8,258.1 186.5,257.4 187.2,257.5 187.9,257.3 188.6,257.8 189.3,257.6 190.0,257.6 190.7,257.6 191.4,257.6 192.1,258.9 192.8,257.7 193.5,257.8 194.2,257.6 194.9,257.7 195.6,257.5 196.3,257.5 197.0,257.6 197.7,258.0 198.4,257.9 199.1,258.4 199.8,257.4 200.5,257.6 201.2,256.0 201.9,257.3 202.6,257.2 203.3,257.2 204.0,257.7 204.7,257.2 205.4,256.0 206.1,256.0 206.8,255.9 207.5,255.9 208.2,257.7 208.9,257.3 209.6,257.2 210.3,257.2 211.0,257.3 211.7,257.5 212.4,255.9 213.1,255.9 213.8,255.9 214.5,255.9 215.2,257.5 215.9,257.3 216.6,257.1 217.3,257.2 218.0,257.1 218.7,257.3 219.4,258.6 220.1,258.6 220.8,258.5 221.5,258.5 222.2,257.2 222.9,256.8 223.6,257.0 224.3,257.1 225.0,256.8 225.7,257.0 226.4,256.8 227.1,256.7 227.8,256.8 228.5,256.7 229.2,256.9 229.9,256.8 230.6,255.5 231.3,255.5 232.0,255.5 232.7,255.5 233.4,256.8 234.1,256.6 234.8,256.7 235.5,256.8 236.2,256.6 236.9,256.5 237.6,256.6 238.3,256.7 239.0,256.4 239.7,257.0 240.4,257.8 241.1,256.7 241.8,256.5 242.5,256.6 243.2,256.9 243.9,256.7 244.6,256.4 245.3,256.6 246.0,256.4 246.7,256.8 247.4,256.7 248.1,256.7 248.8,256.9 249.5,256.7 250.2,256.5 250.9,256.8 251.6,256.6 252.3,256.2 253.0,256.6 253.7,256.6 254.4,256.5 255.1,256.2 255.8,256.7 256.5,256.2 257.2,256.7 257.9,256.5 258.6,256.2 259.3,256.0 260.0,256.1 260.7,256.3 261.4,256.3 262.1,256.3 262.8,256.2 263.5,256.5 264.2,256.5 264.9,256.2 265.6,256.4 266.3,255.1 267.0,255.0 267.7,256.0 268.4,256.1 269.1,256.1 269.8,256.0 270.5,256.2 271.2,255.9 271.9,256.2 272.6,255.9 273.3,256.0 274.0,256.2 274.7,256.0 275.4,255.9 276.1,255.9 276.8,255.9 277.5,255.9 278.2,256.1 278.9,256.1 279.6,256.1 280.3,255.7 281.0,255.9 281.7,255.8 282.4,255.8 283.1,256.0 283.8,256.4 284.5,255.9 285.2,256.0 285.9,255.7 286.6,255.5 287.3,256.0 288.0,255.7 288.7,255.6 289.4,255.6 290.1,255.7 290.8,255.4 291.5,255.8 292.2,255.8 292.9,255.6 293.6,255.5 294.3,255.8 295.0,255.6 295.7,255.9 296.4,255.5 297.1,255.3 297.8,255.5 298.5,255.4 299.2,255.6 299.9,255.7 300.6,255.5 301.3,255.3 302.0,255.6 302.7,255.7 303.4,255.4 304.1,255.4 304.8,255.8 305.5,255.4 306.2,255.5 306.9,256.3 307.6,256.3 308.3,255.7 309.0,255.6 309.7,255.3 310.4,255.3 311.1,255.4 311.8,254.2 312.5,255.5 313.2,255.4 313.9,255.3 314.6,255.4 315.3,255.0 316.0,255.3 316.7,255.3 317.4,255.5 318.1,255.1 318.8,255.4 319.5,255.1 320.2,255.4 320.9,254.9 321.6,255.0 322.3,255.1 323.0,255.0 323.7,255.0 324.4,255.2 325.1,254.9 325.8,254.7 326.5,254.5 327.2,255.3 327.9,253.7 328.6,253.7 329.3,253.7 330.0,254.5 330.7,255.1 331.4,254.9 332.1,255.1 332.8,254.6 333.5,254.9 334.2,255.0 334.9,254.8 335.6,254.8 336.3,255.1 337.0,254.5 337.7,254.7 338.4,254.9 339.1,254.5 339.8,254.6 340.5,254.4 341.2,254.8 341.9,254.8 342.6,254.7 343.3,254.5 344.0,254.6 344.7,254.3 345.4,254.7 346.1,254.1 346.8,254.4 347.5,254.3 348.2,254.5 348.9,254.6 349.6,254.1 350.3,254.4 351.0,254.2 351.7,254.2 352.4,254.6 353.1,254.3 353.8,254.3 354.5,254.3 355.2,254.6 355.9,254.3 356.6,254.4 357.3,254.3 358.0,253.2 358.7,253.2 359.4,253.2 360.1,253.2 360.8,254.0 361.5,254.0 362.2,254.4 362.9,254.2 363.6,254.4 364.3,254.2 365.0,254.3 365.7,254.2 366.4,253.8 367.1,254.0 367.8,255.2 368.5,255.2 369.2,255.2 369.9,254.1 370.6,254.2 371.3,254.3 372.0,253.7 372.7,253.8 373.4,253.8 374.1,253.6 374.8,253.6 375.5,253.8 376.2,253.9 376.9,253.6 377.6,252.5 378.3,252.5 379.0,252.5 379.7,252.5 380.4,253.7 381.1,253.8 381.8,252.6 382.5,252.6 383.2,253.4 383.9,253.6 384.6,253.6 385.3,253.7 386.0,253.6 386.7,253.6 387.4,253.7 388.1,253.6 388.8,253.9 389.5,253.2 390.2,253.4 390.9,253.3 391.6,252.9 392.3,253.5 393.0,253.3 393.7,253.4 394.4,253.6 395.1,253.3 395.8,253.1 396.5,253.1 397.2,253.6 397.9,252.8 398.6,253.3 399.3,253.2 400.0,253.1 400.7,253.2 401.4,252.9 402.1,253.2 402.8,253.4 403.5,253.0 404.2,253.1 404.9,252.8 405.6,253.2 406.3,253.2 407.0,252.9 407.7,252.8 408.4,253.1 409.1,253.0 409.8,252.8 410.5,253.0 411.2,252.8 411.9,252.9 412.6,252.7 413.3,252.7 414.0,252.8 414.7,252.8 415.4,252.6 416.1,252.9 416.8,252.4 417.5,252.5 418.2,252.7 418.9,252.7 419.6,253.2 420.3,252.3 421.0,252.5 421.7,252.5 422.4,252.4 423.1,252.9 423.8,251.4 424.5,252.4 425.2,252.7 425.9,252.4 426.6,252.7 427.3,252.6 428.0,252.4 428.7,252.6 429.4,252.6 430.1,252.7 430.8,252.3 431.5,252.4 432.2,252.2 432.9,252.4 433.6,252.2 434.3,252.5 435.0,252.5 435.7,252.3 436.4,252.6 437.1,252.3 437.8,252.3 438.5,252.2 439.2,252.4 439.9,252.4 440.6,252.0 441.3,251.9 442.0,251.9 442.7,252.5 443.4,252.3 444.1,250.9 444.8,250.9 445.5,250.9 446.2,252.0 446.9,251.9 447.6,252.1 448.3,252.0 449.0,252.3 449.7,252.0 450.4,252.0 451.1,252.1 451.8,252.0 452.5,251.8 453.2,253.1 453.9,253.1 454.6,253.1 455.3,253.1 456.0,251.4 456.7,251.6 457.4,250.3 458.1,250.3 458.8,250.3 459.5,250.3 460.2,251.5 460.9,251.7 461.6,251.5 462.3,250.4 463.0,250.4 463.7,250.3 464.4,251.3 465.1,251.7 465.8,251.5 466.5,251.7 467.2,251.5 467.9,251.6 468.6,251.2 469.3,251.6 470.0,251.0 470.7,251.2 471.4,251.5 472.1,251.2 472.8,251.5 473.5,251.1 474.2,251.2 474.9,251.5 475.6,250.3 476.3,250.2 477.0,250.2 477.7,250.2 478.4,251.3 479.1,251.3 479.8,250.8 480.5,251.1 481.2,251.0 481.9,251.0 482.6,250.1 483.3,250.0 484.0,251.0 484.7,251.1 485.4,251.0 486.1,249.4 486.8,249.4 487.5,249.4 488.2,251.1 488.9,250.8 489.6,249.5 490.3,250.9 491.0,250.7 491.7,250.7 492.4,249.5 493.1,249.5 493.8,249.5 494.5,250.7 495.2,250.5 495.9,250.6 496.6,250.7 497.3,250.6 498.0,250.5 498.7,249.6 499.4,250.8 500.1,250.6 500.8,250.8 501.5,250.0 502.2,250.3 502.9,250.4 503.6,250.4 504.3,250.4 505.0,250.0 505.7,250.2 506.4,250.2 507.1,250.1 507.8,250.1 508.5,250.2 509.2,250.3 509.9,251.2 510.6,248.9 511.3,248.9 512.0,248.8 512.7,248.8 513.4,250.1 514.1,249.8 514.8,249.9 515.5,249.7 516.2,249.5 516.9,249.9 517.6,249.2 518.3,249.5 519.0,249.5 519.7,249.4 520.4,249.6 521.1,249.7 521.8,249.1 522.5,249.2 523.2,249.6 523.9,249.5 524.6,249.7 525.3,249.2 526.0,249.4 526.7,249.3 527.4,249.3 528.1,249.0 528.8,249.0 529.5,249.0 530.2,249.1 530.9,248.9 531.6,249.2 532.3,249.1 533.0,248.6 533.7,248.7 534.4,247.4 535.1,248.7 535.8,248.4 536.5,247.2 537.2,247.2 537.9,247.2 538.6,248.3 539.3,248.6 540.0,248.4 540.7,248.5 541.4,248.8 542.1,248.2 542.8,248.1 543.5,248.2 544.2,248.4 544.9,247.9 545.6,248.0 546.3,248.0 547.0,248.1 547.7,248.1 548.4,248.0 549.1,247.7 549.8,247.5 550.5,247.4 551.2,247.4 551.9,247.4 552.6,247.4 553.3,247.1 554.0,247.2 554.7,247.2 555.4,245.9 556.1,245.8 556.8,245.7 557.5,245.6 558.2,246.9 558.9,246.5 559.6,246.5 560.3,246.6 561.0,246.4 561.7,247.3 562.4,246.6 562.9,246.0 563.4,245.8 563.9,246.0 564.4,245.8 564.9,245.8 565.4,245.7 565.9,245.4 566.4,244.2 566.9,244.1 567.4,243.9 567.9,245.3 568.4,245.1 568.9,244.7 569.4,244.9 569.9,244.4 570.4,244.1 570.9,244.2 571.4,243.9 571.9,243.7 572.4,243.6 572.9,243.5 573.4,243.1 573.9,242.7 574.4,242.6 574.9,243.8 575.4,243.5 575.9,243.2 576.4,241.6 576.9,241.2 577.4,240.8 577.9,239.4 578.4,239.1 578.9,239.5 579.4,239.4 579.9,239.2 580.4,238.6 580.9,238.3 581.4,237.7 581.9,237.3 582.4,236.3 582.9,235.3 583.4,234.6 583.9,232.9 584.4,232.1 584.9,231.8 585.4,231.1 585.9,230.0 586.4,228.5 586.9,227.2 587.4,225.8 587.9,224.1 588.4,221.9 588.9,220.3 589.4,218.0 589.9,215.3 590.4,212.5 590.7,209.7 591.2,206.0 592.0,202.2 592.5,199.5 592.6,194.9 593.8,190.0 594.0,183.0 594.2,177.7 594.8,171.5 595.7,166.0 595.8,160.8 595.9,155.9 597.6,151.4 597.4,148.2 597.9,146.3 598.4,145.6 598.9,146.2 599.4,147.9 600.3,151.2 600.7,155.0 601.9,160.0 601.6,165.3 600.9,170.3 602.5,176.6 602.9,181.7 604.0,186.7 603.7,190.4 604.3,195.0 605.1,200.9 606.4,204.6 605.2,208.0 606.4,212.5 606.9,214.2 607.4,216.5 607.9,218.7 608.4,221.1 608.9,222.5 609.4,224.6 609.9,225.9 610.4,227.4 610.9,227.6 611.4,229.6 611.9,231.0 612.4,231.6 612.9,232.9 613.4,233.5 613.9,234.1 614.4,234.8 614.9,235.6 615.4,236.1 615.9,236.4 616.4,236.9 616.9,237.6 617.4,239.1 617.9,239.5 618.4,238.6 618.9,238.6 619.4,240.3 619.9,240.6 620.4,240.8 620.9,239.7 621.4,240.0 621.9,240.9 622.4,241.0 622.9,240.0 623.4,240.2 623.9,241.6 624.4,241.4 624.9,240.4 625.4,240.5 625.9,241.9 626.4,242.1 626.9,242.1 627.4,242.3 627.9,242.3 628.4,242.3 628.9,242.3 629.4,242.6 629.9,242.9 630.4,242.7 630.9,243.0 631.4,242.8 631.9,242.7 632.4,242.9 632.9,243.4 633.4,244.6 633.9,244.6 634.4,244.7 634.9,244.7 635.4,243.3 636.1,243.3 636.8,243.7 637.5,243.5 638.2,243.6 638.9,243.7 639.6,243.7 640.3,243.4 641.0,243.6 641.7,244.0 642.4,242.8 643.1,244.0 643.8,243.6 644.5,243.7 645.2,243.9 645.9,242.6 646.6,242.6 647.3,242.6 648.0,242.6 648.7,244.0 649.4,243.8 650.1,245.1 650.8,245.1 651.5,245.1 652.2,243.8 652.9,243.9 653.6,243.8 654.3,243.8 655.0,244.0 655.7,243.9 656.4,244.0 657.1,244.1 657.8,242.8 658.5,242.8 659.2,244.0 659.9,244.3 660.6,244.4 661.3,244.4 662.0,244.2 662.7,244.1 663.4,244.4 664.1,244.4 664.8,244.1 665.5,244.2 666.2,244.3 666.9,244.4 667.6,244.2 668.3,244.1 669.0,243.1 669.7,243.2 670.4,243.2 671.1,244.1 671.8,244.1 672.5,244.3 673.2,244.2 673.9,243.1 674.6,243.1 675.3,244.2 676.0,244.2 676.7,244.2 677.4,244.6 678.1,244.1 678.8,244.4 679.5,244.7 680.2,244.0 680.9,243.9 681.6,244.3 682.3,244.5 683.0,244.3 683.7,244.3 684.4,244.6 685.1,244.6 685.8,244.4 686.5,244.5 687.2,244.5 687.9,244.6 688.6,244.0 689.3,244.4 690.0,244.3 690.7,244.4 691.4,245.5 692.1,245.5 692.8,244.2 693.5,244.3 694.2,243.9 694.9,244.4 695.4,244.4 695.9,244.1 696.4,244.4 696.9,244.5 697.4,244.2 697.9,244.2 698.4,243.0 698.9,242.9 699.4,242.9 699.9,242.9 700.4,244.3 700.9,244.1 701.4,244.1 701.9,244.1 702.4,244.3 702.9,244.1 703.4,244.3 703.9,244.0 704.4,244.0 704.9,244.0 705.4,243.7 705.9,244.4 706.4,244.0 706.9,243.9 707.4,243.9 707.9,244.3 708.4,243.8 708.9,243.9 709.4,243.9 709.9,243.6 710.4,244.1 710.9,243.5 711.4,243.9 711.9,243.6 712.4,243.6 712.9,243.7 713.4,243.6 713.9,243.5 714.4,243.5 714.9,243.7 715.4,243.2 715.9,243.3 716.4,243.6 716.9,242.9 717.4,243.4 717.9,242.6 718.4,243.1 718.9,242.9 719.4,241.8 719.9,241.7 720.4,241.6 720.9,242.3 721.4,242.2 721.9,242.3 722.4,241.8 722.9,242.1 723.4,242.1 723.9,241.9 724.4,241.7 724.9,241.3 725.4,241.3 725.9,241.2 726.4,241.2 726.9,240.5 727.4,240.0 727.9,240.4 728.4,240.1 728.9,239.8 729.4,239.4 729.9,239.2 730.4,238.6 730.9,238.3 731.4,237.6 731.9,237.1 732.4,236.7 732.9,236.4 733.4,235.9 733.9,235.0 734.4,234.8 734.9,233.6 735.4,233.0 735.9,232.2 736.4,231.0 736.9,230.2 737.4,230.6 737.9,228.5 738.4,227.6 738.9,226.1 739.4,226.0 739.9,225.1 740.4,224.5 740.9,223.8 741.4,223.5 741.9,223.1 742.4,223.0 742.9,222.7 743.4,223.4 743.9,223.8 744.4,224.3 744.9,225.2 745.4,225.4 745.9,226.3 746.4,227.3 746.9,226.8 747.4,227.8 747.9,228.7 748.4,231.0 748.9,231.7 749.4,232.6 749.9,233.3 750.4,234.3 750.9,234.9 751.4,235.5 751.9,235.9 752.4,236.3 752.9,237.1 753.4,237.6 753.9,238.2 754.4,238.7 754.9,238.9 755.4,239.1 755.9,239.7 756.4,240.8 756.9,241.1 757.4,241.3 757.9,240.4 758.4,240.6 758.9,241.1 759.4,241.1 759.9,241.4 760.4,241.6 760.9,241.6 761.4,242.0 761.9,241.8 762.4,242.0 762.9,242.3 763.4,242.7 763.9,242.8 764.4,243.0 764.9,242.8 765.4,243.0 765.9,243.2 766.4,243.1 766.9,243.5 767.4,243.1 767.9,243.4 768.4,243.3 768.9,243.5 769.4,243.4 769.9,243.4 770.4,243.4 770.9,243.4 771.4,243.3 771.9,243.6 772.4,243.5 772.9,243.6 773.4,243.7 773.9,243.6 774.4,243.9 774.9,243.8 775.4,243.8 775.9,244.1 776.4,244.0 776.9,244.1 777.4,244.2 777.9,244.2 778.4,245.1 778.9,245.1 779.4,243.9 779.9,244.1 780.4,244.3 780.9,244.2 781.4,244.2 781.9,244.3 782.4,244.6 782.9,244.3 783.4,244.4 783.9,244.5 784.4,244.5 784.9,244.3 785.4,244.4 785.9,244.3 786.4,245.5 786.9,245.5 787.4,244.5 787.9,244.4 788.4,244.5 788.9,244.7 789.4,244.1 789.9,244.4 790.4,244.5 790.9,244.4 791.6,244.7 792.3,244.5 793.0,244.5 793.7,244.8 794.4,245.0 795.1,244.7 795.8,244.7 796.5,244.8 797.2,244.8 797.9,244.6 798.6,244.5 799.3,245.0 800.0,244.7 800.7,244.7 801.4,244.5 802.1,245.0 802.8,244.9 803.5,244.6 804.2,244.4 804.9,244.7 805.6,244.8 806.3,245.1 807.0,244.5 807.7,244.8 808.4,245.1 809.1,243.4 809.8,243.4 810.5,245.0 811.2,245.0 811.9,243.6 812.6,243.6 813.3,243.7 814.0,244.8 814.7,244.9 815.4,244.7 816.1,244.8 816.8,244.6 817.5,244.9 818.2,244.7 818.9,243.7 819.6,243.7 820.3,244.8 821.0,244.6 821.7,244.9 822.4,245.1 823.1,244.9 823.8,244.5 824.5,244.8 825.2,244.7 825.9,244.7 826.6,244.4 827.3,245.0 828.0,244.8 828.7,245.1 829.4,245.1 830.1,244.7 830.8,245.1 831.5,245.0 832.2,245.0 832.9,245.0 833.6,245.1 834.3,245.3 835.0,245.2 835.7,243.9 836.4,244.9 837.1,245.2 837.8,244.7 838.5,244.9 839.2,245.0 839.9,245.0 840.6,245.0 841.3,245.1 842.0,245.0 842.7,245.2 843.4,245.2 844.1,245.0 844.8,245.4 845.5,246.2 846.2,246.2 846.9,246.2 847.6,245.1 848.3,244.9 849.0,244.8 849.7,245.2 850.4,245.2 851.1,245.1 851.8,244.8 852.5,245.0 853.2,244.7 853.9,245.1 854.6,244.9 855.3,245.1 856.0,245.4 856.7,245.3 857.4,244.9 858.1,245.2 858.8,245.4 859.5,245.1 860.2,245.2 860.9,245.5 861.6,244.8 862.3,244.9 863.0,244.6 863.7,245.0 864.4,245.1 865.1,245.1 865.8,245.0 866.5,244.9 867.2,246.0 867.9,246.0 868.6,246.0 869.3,244.9 870.0,245.4 870.7,245.3 871.4,245.0 872.1,245.0 872.8,245.2 873.5,244.7 874.2,244.9 874.9,245.3 875.6,245.0 876.3,245.4 877.0,245.3 877.7,245.4 878.4,245.2 879.1,245.2 879.8,244.8 880.5,244.0 881.2,245.1 881.9,245.1 882.6,244.8 883.3,245.4 884.0,245.3 884.7,245.0 885.4,245.1 886.1,244.1 886.8,244.1 887.5,244.1 888.2,244.1 888.9,244.7 889.6,244.9 890.3,245.2 891.0,245.1 891.7,245.2 892.4,244.8 893.1,245.3 893.8,244.1 894.5,245.1 895.2,244.9 895.9,245.3 896.6,245.4 897.3,245.1 898.0,244.9 898.7,246.4 899.4,246.4 900.1,246.4 900.8,246.4 901.5,245.1 902.2,245.4 902.9,245.1 903.6,245.1 904.3,245.2 905.0,246.1 905.7,245.2 906.4,245.1 907.1,245.2 907.8,245.4 908.5,245.5 909.2,245.5 909.9,245.1 910.6,245.5 911.3,245.0 912.0,245.0 912.7,245.5 913.4,245.3 914.1,245.0 914.8,243.8 915.5,243.8 916.2,243.8 916.9,244.9 917.6,244.9 918.3,243.8 919.0,243.8 919.7,243.8 920.4,243.8 921.1,243.8 921.8,244.8 922.5,244.9 923.2,245.2 923.9,244.9 924.6,245.3 925.3,245.3 926.0,245.4 926.7,245.4 927.4,245.0 928.1,245.3 928.8,245.5 929.5,244.9 930.2,244.2 930.9,244.2 931.6,245.1 932.3,245.1 933.0,245.5 933.7,245.1 934.4,245.2 935.1,245.3 935.8,245.0 936.5,245.2 937.2,245.3 937.9,245.0 938.6,244.2 939.3,244.2 940.0,244.2 940.7,244.2 941.4,245.4 942.1,245.0 942.8,245.2 943.5,245.5 944.2,244.9 944.9,245.1 945.6,245.2 946.3,245.3 947.0,245.4 947.7,245.0 948.4,245.1 949.1,245.3 949.8,244.0 950.5,244.0 951.2,244.0 951.9,244.2 952.6,244.2 953.3,245.3 954.0,244.1 954.7,245.1 955.4,245.1 956.1,245.1 956.8,243.9 957.5,243.9 958.2,243.9 958.9,243.9 959.6,245.3 960.3,245.2 961.0,245.3 961.7,245.5 962.4,245.4 963.1,245.2 963.8,245.2 964.5,245.2 965.2,245.0 965.9,245.2 966.6,245.4 967.3,245.4 968.0,245.4 968.7,245.3 969.4,245.2 970.1,245.0 970.8,245.2 971.5,245.5 972.2,245.4 972.9,245.3 973.6,245.2 974.3,245.2 975.0,245.1 975.7,245.2 976.4,244.0 977.1,244.0 977.8,245.4 978.5,245.2 979.2,245.5 979.9,245.0 980.6,245.2 981.3,245.3 982.0,243.8 982.7,243.8 983.4,243.8 984.1,243.8 984.8,245.8 985.5,245.3 986.2,245.3 986.9,245.3 987.6,245.2 988.3,245.3 989.0,245.4 989.7,245.3 990.4,245.3 991.1,245.0 991.8,245.4 992.5,244.0 993.2,245.0 993.9,245.0 994.6,245.2 995.3,245.1 996.0,245.3 996.7,245.5 997.4,245.2 998.1,245.0 998.8,245.4 999.5,245.0 1000.2,245.4 1000.9,246.7 1001.6,246.7 1002.3,245.5 1003.0,245.7 1003.7,245.0 1004.4,245.4 1005.1,245.0 1005.8,245.3 1006.5,245.5 1007.2,245.2 1007.9,245.2 1008.6,245.0 1009.3,245.0 1010.0,245.4 1010.7,245.4 1011.4,245.3 1012.1,245.5 1012.8,245.2 1013.5,245.1 1014.2,245.3 1014.9,244.9 1015.6,245.2 1016.3,245.2 1017.0,245.5 1017.7,245.1 1018.4,246.8 1019.1,245.5 1019.8,245.0 1020.5,245.0 1021.2,245.2 1021.9,245.4 1022.6,245.1 1023.3,245.2 1024.0,245.1 1024.7,245.1 1025.4,245.4 1026.1,246.4 1026.8,246.4 1027.5,246.4 1028.2,245.4 1028.9,245.3 1029.6,245.2 1030.3,245.2 1031.0,245.4 1031.7,245.3 1032.4,245.2 1033.1,245.6 1033.8,245.5 1034.5,245.1 1035.2,245.3 1035.9,245.3 1036.6,245.4 1037.3,245.3 1038.0,245.6 1038.7,245.6 1039.4,245.3 1040.1,245.4 1040.8,245.3 1041.5,245.4 1042.2,245.2 1042.9,245.2 1043.6,245.3 1044.3,245.1 1045.0,245.1 1045.7,245.2 1046.4,245.3 1047.1,245.5 1047.8,245.3 1048.5,245.3 1049.2,245.4 1049.9,244.9 1050.6,245.2 1051.3,245.4 1052.0,246.4 1052.7,246.4 1053.4,246.4 1054.1,246.4 1054.8,245.0 1055.5,245.4 1056.2,245.2 1056.9,245.7 1057.6,245.4 1058.3,245.1 1059.0,245.3 1059.7,245.7 1060.4,246.6 1061.1,246.6 1061.8,245.6 1062.5,245.4 1063.2,245.2 1063.9,245.5 1064.6,245.1 1065.3,245.2 1066.0,245.7 1066.7,245.1 1067.4,245.2 1068.1,245.0 1068.8,245.1 1069.5,245.2 1070.2,243.9 1070.9,245.6 1071.6,245.2 1072.3,245.3 1073.0,245.3 1073.7,245.6 1074.4,245.1 1075.1,245.2 1075.8,245.1 1076.5,245.2 1077.2,245.4 1077.9,245.5 1078.6,244.3 1079.3,244.3 1080.0,245.5 1080.7,245.0 1081.4,245.1 1082.1,244.1 1082.8,244.1 1083.5,244.1 1084.2,245.2 1084.9,245.2 1085.6,245.5 1086.3,245.5 1087.0,245.1 1087.7,245.7 1088.4,245.5 1089.1,245.5 1089.8,245.3 1090.5,245.2 1091.2,245.5 1091.9,245.5 1092.6,245.5 1093.3,245.2 1094.0,245.1 1094.7,245.4 1095.4,245.4 1096.1,245.5 1096.8,245.2 1097.5,245.1 1098.2,244.8 1098.9,245.4 1099.6,244.7 1100.3,245.2 1101.0,244.2 1101.7,244.2 1102.4,245.3 1103.1,245.6 1103.8,245.6 1104.5,245.1 1105.2,245.3 1105.9,243.9 1106.6,243.9 1107.3,243.9 1108.0,243.9 1108.7,245.5 1109.4,245.2 1110.1,245.3 1110.8,245.4 1111.5,245.3 1112.2,245.3 1112.9,244.2 1113.6,244.2 1114.3,244.2 1115.0,245.3 1115.7,245.2 1116.4,245.3 1117.1,245.2 1117.8,245.3 1118.5,245.2 1119.2,245.1 1119.9,245.2 1120.6,245.0 1121.3,245.1 1122.0,245.5 1122.7,244.9 1123.4,245.3 1124.1,245.0 1124.8,245.4 1125.5,245.0 1126.2,245.4 1126.9,245.1 1127.6,245.0 1128.3,245.2 1129.0,244.9 1129.7,245.2 1130.4,245.1 1131.1,245.0 1131.8,245.1 1132.5,245.3 1133.2,245.2 1133.9,245.0 1134.6,245.1 1135.3,245.3 1136.0,245.1 1136.7,245.0 1137.4,244.2 1138.1,244.2 1138.8,244.2 1139.5,245.4 1140.2,245.5 1140.9,245.4 1141.6,245.0 1142.3,245.3 1143.0,245.2 1143.7,244.9 1144.4,245.0 1144.9,244.9 1145.4,245.3 1145.9,245.0 1146.4,244.9 1146.9,245.1 1147.4,245.3 1147.9,245.3 1148.4,244.9 1148.9,245.4 1149.4,245.4 1149.9,245.0 1150.4,245.1 1150.9,244.9 1151.4,245.1 1151.9,245.2 1152.4,245.2 1152.9,244.9 1153.4,245.6 1153.9,245.1 1154.4,244.9 1154.9,245.0 1155.4,245.3 1155.9,244.9 1156.4,244.9 1156.9,244.9 1157.4,245.2 1157.9,243.9 1158.4,243.9 1158.9,246.4 1159.4,245.2 1159.9,245.1 1160.4,244.7 1160.9,243.8 1161.4,243.8 1161.9,243.8 1162.4,245.0 1162.9,245.1 1163.4,245.0 1163.9,245.0 1164.4,244.8 1164.9,244.8 1165.4,244.8 1165.9,245.9 1166.4,245.9 1166.9,245.4 1167.4,245.0 1167.9,244.8 1168.4,244.7 1168.9,245.0 1169.4,244.8 1169.9,244.9 1170.4,245.0 1170.9,245.0 1171.4,244.6 1171.9,244.6 1172.4,244.8 1172.9,244.9 1173.4,244.9 1173.9,244.9 1174.4,244.8 1174.9,244.6 1175.4,244.7 1175.9,244.7 1176.4,245.0 1176.9,244.9 1177.4,244.6 1177.9,244.4 1178.4,244.7 1178.9,244.8 1179.4,244.9 1179.9,244.5 1180.4,244.7 1180.9,244.7 1181.4,244.4 1181.9,244.7 1182.4,244.5 1182.9,244.4 1183.4,244.5 1183.9,244.7 1184.4,244.3 1184.9,244.5 1185.4,244.5 1185.9,244.7 1186.4,244.4 1186.9,244.3 1187.4,244.0 1187.9,244.1 1188.4,244.3 1188.9,244.0 1189.4,244.1 1189.9,244.4 1190.4,242.8 1190.9,242.7 1191.4,243.9 1191.9,243.8 1192.4,243.8 1192.9,243.6 1193.4,244.1 1193.9,243.5 1194.4,243.9 1194.9,243.7 1195.4,243.3 1195.9,243.2 1196.4,243.3 1196.9,244.1 1197.4,244.0 1197.9,242.9 1198.4,243.0 1198.9,242.9 1199.4,241.4 1199.9,241.3 1200.4,241.8 1200.9,242.1 1201.4,241.4 1201.9,241.8 1202.4,240.1 1202.9,239.9 1203.4,240.9 1203.9,239.3 1204.4,240.1 1204.9,240.1 1205.4,239.8 1205.9,239.7 1206.4,238.9 1206.9,238.8 1207.4,238.6 1207.9,238.4 1208.4,238.3 1208.9,237.6 1209.4,237.7 1209.9,237.2 1210.4,236.8 1210.9,236.7 1211.4,235.9 1211.9,235.7 1212.4,235.6 1212.9,235.2 1213.4,235.3 1213.9,234.8 1214.4,234.4 1214.9,234.1 1215.4,233.6 1215.9,233.5 1216.4,233.5 1216.9,233.4 1217.4,233.4 1217.9,233.3 1218.4,233.0 1218.9,232.9 1219.4,233.1 1219.9,233.2 1220.4,233.3 1220.9,233.1 1221.4,233.4 1221.9,233.6 1222.4,233.8 1222.9,234.0 1223.4,234.3 1223.9,234.5 1224.4,234.6 1224.9,234.8 1225.4,234.2 1225.9,234.5 1226.4,234.9 1226.9,236.4 1227.4,236.6 1227.9,236.5 1228.4,237.5 1228.9,237.7 1229.4,237.6 1229.9,238.1 1230.4,238.2 1230.9,238.7 1231.4,238.8 1231.9,239.4 1232.4,240.7 1232.9,241.0 1233.4,241.2 1233.9,240.4 1234.4,240.9 1234.9,240.9 1235.4,242.3 1235.9,241.4 1236.4,241.7 1236.9,241.6 1237.4,241.9 1237.9,242.2 1238.4,242.1 1238.9,242.2 1239.4,242.9 1239.9,242.7 1240.4,242.4 1240.9,243.1 1241.4,243.3 1241.9,243.1 1242.4,243.2 1242.9,243.2 1243.4,243.3 1243.9,243.6 1244.4,243.7 1244.9,242.1 1245.4,242.2 1245.9,242.3 1246.4,242.3 1246.9,244.0 1247.4,242.5 1247.9,242.5 1248.4,243.8 1248.9,244.2 1249.4,244.5 1249.9,244.1 1250.4,243.9 1250.9,244.1 1251.4,244.0 1251.9,244.3 1252.4,244.4 1252.9,243.9 1253.4,244.4 1253.9,243.0 1254.4,244.2 1254.9,244.4 1255.4,244.6 1255.9,244.0 1256.4,244.1 1256.9,244.4 1257.4,244.4 1257.9,244.4 1258.4,244.5 1258.9,244.6 1259.4,244.4 1259.9,244.4 1260.4,244.6 1260.9,244.8 1261.4,244.5 1261.9,244.6 1262.4,244.3 1262.9,244.8 1263.4,244.6 1263.9,244.6 1264.4,244.4 1264.9,244.3 1265.4,244.9 1265.9,244.7 1266.4,244.5 1266.9,244.8 1267.4,245.5 1267.9,245.5 1268.4,245.5 1268.9,243.1 1269.4,243.1 1269.9,243.1 1270.4,244.9 1270.9,244.6 1271.4,243.5 1271.9,243.5 1272.4,243.5 1272.9,243.5 1273.4,244.2 1273.9,244.4 1274.4,244.7 1274.9,244.3 1275.4,244.9 1275.9,244.8 1276.4,244.8 1276.9,243.4 1277.4,243.5 1277.9,243.5 1278.4,244.7 1278.9,244.6 1279.4,244.5 1279.9,244.6 1280.4,244.6 1280.9,244.8 1281.4,244.8 1281.9,244.7 1282.4,244.6 1282.9,245.1 1283.4,244.5 1283.9,244.6 1284.4,244.5 1284.9,244.6 1285.4,244.5 1285.9,244.7 1286.4,244.5 1286.9,244.7 1287.4,244.9 1287.9,244.5 1288.4,244.7 1288.9,244.7 1289.4,244.7 1289.9,244.6 1290.4,244.5 1290.9,244.8 1291.4,244.7 1291.9,244.7 1292.4,244.7 1292.9,244.5 1293.4,244.7 1293.9,244.3 1294.4,244.8 1295.1,245.0 1295.8,244.7 1296.5,244.7 1297.2,244.6 1297.9,244.7 1298.6,244.9 1299.3,244.8 1300.0,246.0 1300.7,246.0 1301.4,246.0 1302.1,244.7 1302.8,244.7 1303.5,244.6 1304.2,244.3 1304.9,244.3 1305.6,244.9 1306.3,244.8 1307.0,244.6 1307.7,244.9 1308.4,244.5 1309.1,244.8 1309.8,244.9 1310.5,244.8 1311.2,244.8 1311.9,244.7 1312.6,244.7 1313.3,244.8 1314.0,244.6 1314.7,244.7 1315.4,244.8 1316.1,245.0 1316.8,244.7 1317.5,244.7 1318.2,244.7 1318.9,245.7 1319.6,245.7 1320.3,244.8 1321.0,244.5 1321.7,244.7 1322.4,244.8 1323.1,243.7 1323.8,243.7 1324.5,243.7 1325.2,244.7 1325.9,244.5 1326.6,244.7 1327.3,244.6 1328.0,244.8 1328.7,244.7 1329.4,245.0 1330.1,244.9 1330.8,244.6 1331.5,244.7 1332.2,244.9 1332.9,244.8 1333.6,244.7 1334.3,244.5 1335.0,244.4 1335.7,244.7 1336.4,244.8 1337.1,244.4 1337.8,244.5 1338.5,244.9 1339.2,244.2 1339.9,246.1 1340.6,246.1 1341.3,246.1 1342.0,244.7 1342.7,244.9 1343.4,244.9 1344.1,244.4 1344.8,244.7 1345.5,244.5 1346.2,244.5 1346.9,244.2 1347.6,244.6 1348.3,244.7 1349.0,244.8 1349.7,244.6 1350.4,243.4 1351.1,243.4 1351.8,243.4 1352.5,243.4 1353.2,244.8 1353.9,244.5 1354.6,244.7 1355.3,244.6 1356.0,244.3 1356.7,244.6 1357.4,244.7 1358.1,244.3 1358.8,244.6 1359.5,245.0 1360.2,244.5 1360.9,244.7 1361.6,244.7 1362.3,244.6 1363.0,245.0 1363.7,244.8 1364.4,244.8 1365.1,244.0 1365.8,244.6 1366.5,243.6 1367.2,243.6 1367.9,243.6 1368.6,243.6 1369.3,244.8 1370.0,244.2 1370.7,244.1 1371.4,244.5 1372.1,244.5 1372.8,244.5 1373.5,244.4 1374.2,244.5 1374.9,244.8 1375.6,244.6 1376.3,244.5 1377.0,244.2 1377.7,244.3 1378.4,244.4 1379.1,244.4 1379.8,245.7 1380.5,244.5 1381.2,243.1 1381.9,243.1 1382.6,243.1 1383.3,243.1 1384.0,244.6 1384.7,244.3 1385.4,244.6 1386.1,244.2 1386.8,244.5 1387.5,244.3 1388.2,244.3 1388.9,244.7 1389.6,244.4 1390.3,244.4 1391.0,244.7 1391.7,244.6 1392.4,244.5 1393.1,244.5 1393.8,244.5 1394.5,244.4 1395.2,244.3 1395.9,244.7 1396.6,244.4 1397.3,244.3 1398.0,244.9 1398.7,245.5 1399.4,244.2 1400.1,244.5 1400.8,244.3 1401.5,244.3 1402.2,244.4 1402.9,244.5 1403.6,244.8 1404.3,244.3 1405.0,244.7 1405.7,244.4 1406.4,244.3 1407.1,244.5 1407.8,244.6 1408.5,244.5 1409.2,244.8 1409.9,244.7 1410.6,244.5 1411.3,244.3 1412.0,244.6 1412.7,244.4 1413.4,244.6 1414.1,244.1 1414.8,244.6 1415.5,244.2 1416.2,244.3 1416.9,244.5 1417.6,244.5 1418.3,244.6 1419.0,244.4 1419.7,244.6 1420.4,244.2 1421.1,244.2 1421.8,244.2 1422.5,244.9 1423.2,244.2 1423.9,244.4 1424.6,244.4 1425.3,244.2 1426.0,244.2 1426.7,244.4 1427.4,244.5 1428.1,244.3 1428.8,244.3 1429.5,244.0 1430.2,244.2 1430.9,244.4 1431.6,245.7 1432.3,244.4 1433.0,244.3 1433.7,244.1 1434.4,244.2 1435.1,244.2 1435.8,243.2 1436.5,243.9 1437.2,244.0 1437.9,244.4 1438.6,244.5 1439.3,244.2 1440.0,243.9 1440.7,244.4 1441.4,244.2 1442.1,244.0 1442.6,244.3 1443.1,244.4 1443.6,244.7 1444.1,244.4 1444.6,244.4 1445.1,244.4 1445.6,244.3 1446.1,244.1 1446.6,244.5 1447.1,244.1 1447.6,243.9 1448.1,243.3 1448.6,243.9 1449.1,244.5 1449.6,244.4 1450.1,244.2 1450.6,244.1 1451.1,244.3 1451.6,244.2 1452.1,244.2 1452.6,244.4 1453.1,244.5 1453.6,244.2 1454.1,244.3 1454.6,243.9 1455.1,244.2 1455.6,244.6 1456.1,244.3 1456.6,244.3 1457.1,244.2 1457.6,243.9 1458.1,244.6 1458.6,244.2 1459.1,244.1 1459.6,244.2 1460.1,244.1 1460.6,244.3 1461.1,244.3 1461.6,244.1 1462.1,244.3 1462.6,244.0 1463.1,244.0 1463.6,244.2 1464.1,244.2 1464.6,243.1 1465.1,243.1 1465.6,243.1 1466.1,243.1 1466.6,244.2 1467.1,244.2 1467.6,244.1 1468.1,244.0 1468.6,244.2 1469.1,244.2 1469.6,245.4 1470.1,245.4 1470.6,245.4 1471.1,245.4 1471.6,244.2 1472.1,244.3 1472.6,242.6 1473.1,242.6 1473.6,244.1 1474.1,243.9 1474.6,244.0 1475.1,244.0 1475.6,244.1 1476.1,242.9 1476.6,242.9 1477.1,244.1 1477.6,243.0 1478.1,243.0 1478.6,243.9 1479.1,243.9 1479.6,244.0 1480.1,243.9 1480.6,244.0 1481.1,244.0 1481.6,244.0 1482.1,244.2 1482.6,244.2 1483.1,244.0 1483.6,244.0 1484.1,243.8 1484.6,243.8 1485.1,244.1 1485.6,244.0 1486.1,244.0 1486.6,243.8 1487.1,243.7 1487.6,243.9 1488.1,243.9 1488.6,243.9 1489.1,244.1 1489.6,244.0 1490.1,244.0 1490.6,243.8 1491.1,243.7 1491.6,244.1 1492.1,243.7 1492.6,243.6 1493.1,243.8 1493.6,243.9 1494.1,243.4 1494.6,243.5 1495.1,243.6 1495.6,243.9 1496.1,243.7 1496.6,243.7 1497.1,243.7 1497.6,243.3 1498.1,243.6 1498.6,243.6 1499.1,243.5 1499.6,243.5 1500.1,243.4 1500.6,243.5 1501.1,243.9 1501.6,243.3 1502.1,243.4 1502.6,243.4 1503.1,243.6 1503.6,242.3 1504.1,242.3 1504.6,242.3 1505.1,243.0 1505.6,243.3 1506.1,243.4 1506.6,243.0 1507.1,243.4 1507.6,243.2 1508.1,241.8 1508.6,242.9 1509.1,243.1 1509.6,243.0 1510.1,242.7 1510.6,243.0 1511.1,242.8 1511.6,243.1 1512.1,242.8 1512.6,242.5 1513.1,242.7 1513.6,242.5 1514.1,242.6 1514.6,242.2 1515.1,242.3 1515.6,242.1 1516.1,242.1 1516.6,241.8 1517.1,242.0 1517.6,241.8 1518.1,241.8 1518.6,242.1 1519.1,241.7 1519.6,241.4 1520.1,241.1 1520.6,240.9 1521.1,241.0 1521.6,241.1 1522.1,240.8 1522.6,240.6 1523.1,240.7 1523.6,240.3 1524.1,240.4 1524.6,240.3 1525.1,239.8 1525.6,241.1 1526.1,241.0 1526.6,239.2 1527.1,238.2 1527.6,238.1 1528.1,237.9 1528.6,237.7 1529.1,238.7 1529.6,238.6 1530.1,238.2 1530.6,238.2 1531.1,238.0 1531.6,237.9 1532.1,237.5 1532.6,237.4 1533.1,237.4 1533.6,237.3 1534.1,236.9 1534.6,236.8 1535.1,236.8 1535.6,236.5 1536.1,236.4 1536.6,236.6 1537.1,236.2 1537.6,236.3 1538.1,234.8 1538.6,234.8 1539.1,234.7 1539.6,234.7 1540.1,235.6 1540.6,235.8 1541.1,235.8 1541.6,235.9 1542.1,235.7 1542.6,236.0 1543.1,236.0 1543.6,235.9 1544.1,236.2 1544.6,236.6 1545.1,236.2 1545.6,236.4 1546.1,236.6 1546.6,236.6 1547.1,236.9 1547.6,236.9 1548.1,237.2 1548.6,236.9 1549.1,237.4 1549.6,237.2 1550.1,237.6 1550.6,237.5 1551.1,238.1 1551.6,237.9 1552.1,238.3 1552.6,238.3 1553.1,238.8 1553.6,238.9 1554.1,240.3 1554.6,240.5 1555.1,239.2 1555.6,238.1 1556.1,239.5 1556.6,239.8 1557.1,240.0 1557.6,240.0 1558.1,240.1 1558.6,240.2 1559.1,240.6 1559.6,240.8 1560.1,240.5 1560.6,240.7 1561.1,240.8 1561.6,242.3 1562.1,242.5 1562.6,241.3 1563.1,241.5 1563.6,241.7 1564.1,241.6 1564.6,242.2 1565.1,241.8 1565.6,243.2 1566.1,241.9 1566.6,242.0 1567.1,242.1 1567.6,242.4 1568.1,242.5 1568.6,242.1 1569.1,241.3 1569.6,241.3 1570.1,241.4 1570.6,241.5 1571.1,242.8 1571.6,242.6 1572.1,243.0 1572.6,243.1 1573.1,243.0 1573.6,242.7 1574.1,243.2 1574.6,243.0 1575.1,243.2 1575.6,244.4 1576.1,244.4 1576.6,243.0 1577.1,243.5 1577.6,243.6 1578.1,243.4 1578.6,243.5 1579.1,243.4 1579.6,242.1 1580.1,242.1 1580.6,242.2 1581.1,242.2 1581.6,243.5 1582.1,243.1 1582.6,243.3 1583.1,243.4 1583.6,243.5 1584.1,243.3 1584.6,243.6 1585.1,243.4 1585.6,243.6 1586.1,243.7 1586.6,243.6 1587.1,243.5 1587.6,243.9 1588.1,243.6 1588.6,243.7 1589.1,243.7 1589.6,243.5 1590.1,243.5 1590.6,243.9 1591.1,243.4 1591.6,243.7 1592.1,243.5 1592.6,243.5 1593.1,243.7 1593.6,243.5 1594.1,243.9 1594.6,243.8 1595.1,242.5 1595.6,242.5 1596.1,242.5 1596.6,242.5 1597.1,243.9 1597.6,243.6 1598.1,243.8 1598.6,243.7 1599.1,245.2 1599.6,243.7 1600.1,243.6 1600.6,243.8 1601.1,243.9 1601.6,242.3 1602.1,242.3 1602.6,242.3 1603.1,243.7 1603.6,243.6 1604.1,243.9 1604.6,243.6 1605.1,243.9 1605.6,243.6 1606.1,243.7 1606.6,243.5 1607.1,243.7 1607.6,243.4 1608.1,243.7 1608.6,244.0 1609.1,243.7 1609.6,242.3 1610.1,242.3 1610.6,243.8 1611.1,243.8 1611.6,243.5 1612.1,243.6 1612.6,243.5 1613.1,243.9 1613.6,243.6 1614.1,243.7 1614.6,243.9 1615.1,243.7 1615.6,243.6 1616.1,243.8 1616.6,243.8 1617.1,243.6 1617.6,243.4 1618.1,243.6 1618.6,243.8 1619.1,243.5 1619.6,243.5 1620.1,243.4 1620.6,243.2 1621.1,243.7 1621.6,243.6 1622.1,243.8 1622.6,243.4 1623.1,243.5 1623.6,243.3 1624.1,243.2 1624.6,243.1 1625.1,243.3 1625.6,242.8 1626.1,243.0 1626.6,242.7 1627.1,242.7 1627.6,242.6 1628.1,242.6 1628.6,242.9 1629.1,242.8 1629.6,242.2 1630.1,242.1 1630.6,242.2 1631.1,242.0 1631.6,242.1 1632.1,242.1 1632.6,241.6 1633.1,241.6 1633.6,241.4 1634.1,241.1 1634.6,241.2 1635.1,241.1 1635.6,241.1 1636.1,240.8 1636.6,240.6 1637.1,241.7 1637.6,241.6 1638.1,241.5 1638.6,241.4 1639.1,240.2 1639.6,240.4 1640.1,239.9 1640.6,239.8 1641.1,240.1 1641.6,240.0 1642.1,239.7 1642.6,239.5 1643.1,239.8 1643.6,239.5 1644.1,239.9 1644.6,239.8 1645.1,239.9 1645.6,239.8 1646.1,240.1 1646.6,240.1 1647.1,240.2 1647.6,240.6 1648.1,240.5 1648.6,240.8 1649.1,240.9 1649.6,240.7 1650.1,240.8 1650.6,241.3 1651.1,240.1 1651.6,240.3 1652.1,240.4 1652.6,241.3 1653.1,242.1 1653.6,241.7 1654.1,242.2 1654.6,242.1 1655.1,242.2 1655.6,241.0 1656.1,242.5 1656.6,242.7 1657.1,242.8 1657.6,242.6 1658.1,243.0 1658.6,242.6 1659.1,243.0 1659.6,242.6 1660.1,243.1 1660.6,243.1 1661.1,244.3 1661.6,243.3 1662.1,243.1 1662.6,243.4 1663.1,242.5 1663.6,243.3 1664.1,243.5 1664.6,243.7 1665.1,243.4 1665.6,243.5 1666.1,243.8 1666.6,243.9 1667.1,243.5 1667.6,243.5 1668.1,243.7 1668.6,243.6 1669.1,243.9 1669.6,243.9 1670.1,243.7 1670.6,243.9 1671.1,243.8 1671.6,243.8 1672.1,244.0 1672.6,243.5 1673.1,243.9 1673.6,243.8 1674.1,243.8 1674.6,243.8 1675.1,244.1 1675.6,244.1 1676.1,244.2 1676.6,244.1 1677.1,243.9 1677.6,243.7 1678.1,244.9 1678.6,243.7 1679.1,244.2 1679.6,244.1 1680.1,244.1 1680.6,243.9 1681.1,244.2 1681.6,244.0 1682.1,243.6 1682.6,243.9 1683.1,244.1 1683.6,244.1 1684.1,244.1 1684.6,243.9 1685.1,243.9 1685.6,244.2 1686.1,243.7 1686.6,244.1 1687.1,244.0 1687.6,243.7 1688.1,243.0 1688.6,243.0 1689.1,243.0 1689.6,244.4 1690.1,243.8 1690.6,243.9 1691.1,244.0 1691.6,244.0 1692.1,244.3 1692.6,243.8 1693.1,244.0 1693.6,242.9 1694.1,242.9 1694.6,242.9 1695.1,244.0 1695.6,243.9 1696.1,244.3 1696.6,244.2 1697.1,244.2 1697.6,244.3 1698.1,243.8 1698.6,244.0 1699.1,244.1 1699.6,244.2 1700.1,244.2 1700.6,244.2 1701.1,244.0 1701.6,244.0 1702.1,244.3 1702.6,243.9 1703.1,243.6 1703.6,244.2 1704.1,244.0 1704.6,243.6 1705.1,243.9 1705.6,244.0 1706.3,244.2 1707.0,243.9 1707.7,244.0 1708.4,245.5 1709.1,245.5 1709.8,244.0 1710.5,243.7 1711.2,244.1 1711.9,244.2 1712.6,244.0 1713.3,244.2 1714.0,243.9 1714.7,243.9 1715.4,242.9 1716.1,242.9 1716.8,242.9 1717.5,242.9 1718.2,242.9 1718.9,242.9 1719.6,244.1 1720.3,244.3 1721.0,244.3 1721.7,244.2 1722.4,244.3 1723.1,243.0 1723.8,243.0 1724.5,243.0 1725.2,243.7 1725.9,243.9 1726.6,244.0 1727.3,244.1 1728.0,244.2 1728.7,244.4 1729.4,244.1 1730.1,244.0 1730.8,244.2 1731.5,244.1 1732.2,244.2 1732.9,244.2 1733.6,244.1 1734.3,244.4 1735.0,244.3 1735.7,243.8 1736.4,244.1 1737.1,244.3 1737.8,244.1 1738.5,244.1 1739.2,244.1 1739.9,244.2 1740.6,244.1 1741.3,243.1 1742.0,243.1 1742.7,243.1 1743.4,244.1 1744.1,243.8 1744.8,244.2 1745.5,244.3 1746.2,244.1 1746.9,244.2 1747.6,244.0 1748.3,244.1 1749.0,244.1 1749.7,243.8 1750.4,244.4 1751.1,244.0 1751.8,244.0 1752.5,244.4 1753.2,244.2 1753.9,243.7 1754.6,243.9 1755.3,244.0 1756.0,243.3 1756.7,244.0 1757.4,245.5 1758.1,245.5 1758.8,244.5 1759.5,244.2 1760.2,244.0 1760.9,243.9 1761.6,244.3 1762.3,244.2 1763.0,244.1 1763.7,243.9 1764.4,243.9 1765.1,244.1 1765.8,244.3 1766.5,243.9 1767.2,244.2 1767.9,245.3 1768.6,244.4 1769.3,243.0 1770.0,243.0 1770.7,243.0 1771.4,243.0 1772.1,243.9 1772.8,244.1 1773.5,244.3 1774.2,244.5 1774.9,244.3 1775.6,244.0 1776.3,243.7 1777.0,243.9 1777.7,243.0 1778.4,243.0 1779.1,243.0 1779.8,243.0 1780.5,243.8 1781.2,244.2 1781.9,244.1 1782.6,244.1 1783.3,243.9 1784.0,244.5 1784.7,243.9 1785.4,244.0 1786.1,244.1 1786.8,244.0 1787.5,244.1 1788.2,244.0 1788.9,244.2 1789.6,244.3 1790.3,244.3 1791.0,243.8 1791.7,244.4 1792.4,244.0 1793.1,244.0 1793.8,244.3 1794.5,244.1 1795.2,244.3 1795.9,244.2 1796.6,244.1 1797.3,244.1 1798.0,244.2 1798.7,244.2 1799.4,244.1 1800.1,243.8 1800.8,244.2 1801.5,243.9 1802.2,244.1 1802.9,243.9 1803.6,244.0 1804.3,244.1 1805.0,244.0 1805.7,245.2 1806.4,244.0 1807.1,243.8 1807.8,244.3 1808.5,243.9 1809.2,244.0 1809.9,243.9 1810.6,244.3 1811.3,244.3 1812.0,244.1 1812.7,243.9 1813.4,244.4 1814.1,244.0 1814.8,244.2 1815.5,244.2 1816.2,244.3 1816.9,242.6 1817.6,244.0 1818.3,244.0 1819.0,244.1 1819.7,243.9 1820.4,244.0 1821.1,244.0 1821.8,244.4 1822.5,244.3 1823.2,244.1 1823.9,244.1 1824.6,244.1 1825.3,244.3 1826.0,244.0 1826.7,244.0 1827.4,244.0 1828.1,244.2 1828.8,244.3 1829.5,244.2 1830.2,244.0 1830.9,243.0 1831.6,244.2 1832.3,242.6 1833.0,244.1 1833.7,243.8 1834.4,243.8 1835.1,243.8 1835.8,243.8 1836.5,244.0 1837.2,244.2 1837.9,244.0 1838.6,244.2 1839.3,244.2 1840.0,244.3 1840.7,244.2 1841.4,244.0 1842.1,244.3 1842.8,243.8 1843.5,244.1 1844.2,244.0 1844.9,244.0 1845.6,244.0 1846.3,244.0 1847.0,244.3 1847.7,244.2 1848.4,244.1 1849.1,243.9 1849.8,243.8 1850.5,244.0 1851.2,244.1 1851.9,243.8 1852.6,244.0 1853.3,244.0 1854.0,244.0 1854.7,244.1 1855.4,244.2 1856.1,244.1 1856.8,244.3 1857.5,244.2 1858.2,244.0 1858.9,244.2 1859.6,243.6 1860.3,244.2 1861.0,244.1 1861.7,244.4 1862.4,244.1 1863.1,243.9 1863.8,244.1 1864.5,244.0 1865.2,244.1 1865.9,244.0 1866.6,243.8 1867.3,244.2 1868.0,243.9 1868.7,244.0 1869.4,244.0 1870.1,244.3 1870.8,244.2 1871.5,243.7 1872.2,244.3 1872.9,244.2 1873.6,244.0 1874.3,243.7 1875.0,244.0 1875.7,244.3 1876.4,243.9 1877.1,243.7 1877.8,244.0 1878.5,244.0 1879.2,243.7 1879.9,244.0 1880.6,244.1 1881.3,244.3 1882.0,243.0 1882.7,244.1 1883.4,244.3 1884.1,243.8 1884.8,244.2 1885.5,243.8 1886.2,243.9 1886.9,244.1 1887.6,244.1 1888.3,244.1 1889.0,244.1 1889.7,244.2 1890.4,243.9 1891.1,243.9 1891.8,243.9 1892.5,244.2 1893.2,242.9 1893.9,242.9 1894.6,242.9 1895.3,242.9 1896.0,243.9 1896.7,244.0 1897.4,243.7 1898.1,244.1 1898.8,243.8 1899.5,244.2 1900.2,244.1 1900.9,243.8 1901.6,244.2 1902.3,244.2 1903.0,244.3 1903.7,244.3 1904.4,244.1 1905.1,243.7 1905.8,244.2 1906.5,244.0 1907.2,243.9 1907.9,243.8 1909.0,243.8" fill="none" stroke="#000080" stroke-width="8.4" stroke-linejoin="round" stroke-linecap="butt"/>
</g><g shape-rendering="crispEdges">
<ellipse cx="837.0" cy="48.0" rx="18.5" ry="16.5" fill="#00ff00" stroke="#000" stroke-width="3"/>
<rect x="1005.5" y="33.5" width="29" height="32" fill="#ffffff" stroke="#000" stroke-width="3"/>
<rect x="1294.5" y="29.5" width="29" height="32" fill="#ff0000" stroke="#000" stroke-width="3"/>
<rect x="587.5" y="116.5" width="29" height="31" fill="#ffffff" stroke="#000" stroke-width="3"/>
<rect x="724.5" y="184.5" width="29" height="32" fill="#ffffff" stroke="#000" stroke-width="3"/>
<rect x="1199.5" y="187.5" width="29" height="32" fill="#ffffff" stroke="#000" stroke-width="3"/>
<rect x="1524.5" y="190.5" width="28" height="32" fill="#ffffff" stroke="#000" stroke-width="3"/>
<rect x="576.5" y="405.5" width="29" height="31" fill="#ffffff" stroke="#000" stroke-width="3"/>
<ellipse cx="591.0" cy="358.5" rx="18.5" ry="16.0" fill="#00ff00" stroke="#000" stroke-width="3"/>
<rect x="576.5" y="376.5" width="28" height="31" fill="#ff0000" stroke="#000" stroke-width="3"/>
<rect x="716.5" y="381.5" width="29" height="30" fill="#ffffff" stroke="#000" stroke-width="3"/>
<ellipse cx="731.0" cy="334.0" rx="18.5" ry="15.5" fill="#00ff00" stroke="#000" stroke-width="3"/>
<rect x="716.5" y="352.5" width="29" height="31" fill="#ff0000" stroke="#000" stroke-width="3"/>
<rect x="1196.5" y="377.5" width="29" height="31" fill="#ff0000" stroke="#000" stroke-width="3"/>
<ellipse cx="1218.0" cy="444.0" rx="18.5" ry="16.5" fill="#00ff00" stroke="#000" stroke-width="3"/>
<rect x="1505.5" y="439.5" width="28" height="31" fill="#ffffff" stroke="#000" stroke-width="3"/>
<rect x="576.5" y="594.5" width="28" height="31" fill="#ffffff" stroke="#000" stroke-width="3"/>
<ellipse cx="590.5" cy="547.5" rx="18.0" ry="16.0" fill="#00ff00" stroke="#000" stroke-width="3"/>
<rect x="576.5" y="565.5" width="28" height="28" fill="#ff0000" stroke="#000" stroke-width="3"/>
<rect x="722.5" y="625.5" width="28" height="31" fill="#ffffff" stroke="#000" stroke-width="3"/>
<ellipse cx="736.5" cy="578.0" rx="18.0" ry="15.5" fill="#00ff00" stroke="#000" stroke-width="3"/>
<rect x="722.5" y="594.5" width="28" height="30" fill="#ff0000" stroke="#000" stroke-width="3"/>
<rect x="1193.5" y="599.5" width="29" height="32" fill="#ff0000" stroke="#000" stroke-width="3"/>
<ellipse cx="1215.0" cy="667.0" rx="18.5" ry="16.5" fill="#00ff00" stroke="#000" stroke-width="3"/>
<rect x="1511.5" y="647.5" width="29" height="31" fill="#ffffff" stroke="#000" stroke-width="3"/>
<rect x="578.5" y="764.5" width="28" height="32" fill="#ff0000" stroke="#000" stroke-width="3"/>
<rect x="581.5" y="808.5" width="29" height="31" fill="#ffffff" stroke="#000" stroke-width="3"/>
<rect x="718.5" y="829.5" width="29" height="30" fill="#ffffff" stroke="#000" stroke-width="3"/>
<ellipse cx="733.0" cy="782.5" rx="18.5" ry="16.0" fill="#00ff00" stroke="#000" stroke-width="3"/>
<rect x="718.5" y="800.5" width="29" height="32" fill="#ff0000" stroke="#000" stroke-width="3"/>
<rect x="1514.5" y="870.5" width="29" height="32" fill="#ffffff" stroke="#000" stroke-width="3"/>
<ellipse cx="599.5" cy="1032.5" rx="18.0" ry="17.0" fill="#00ff00" stroke="#000" stroke-width="3"/>
<rect x="584.5" y="1068.5" width="28" height="32" fill="#ffffff" stroke="#000" stroke-width="3"/>
<ellipse cx="743.0" cy="1067.0" rx="18.5" ry="16.5" fill="#00ff00" stroke="#000" stroke-width="3"/>
<rect x="727.5" y="1102.5" width="28" height="32" fill="#ffffff" stroke="#000" stroke-width="3"/>
<ellipse cx="1214.5" cy="1104.0" rx="18.0" ry="16.5" fill="#00ff00" stroke="#000" stroke-width="3"/>
<rect x="1199.5" y="1140.5" width="28" height="31" fill="#ffffff" stroke="#000" stroke-width="3"/>
<rect x="1520.5" y="1133.5" width="29" height="32" fill="#ffffff" stroke="#000" stroke-width="3"/>
<rect x="1623.5" y="1143.5" width="29" height="31" fill="#ffffff" stroke="#000" stroke-width="3"/>
<ellipse cx="600.0" cy="1277.5" rx="18.5" ry="16.0" fill="#00ff00" stroke="#000" stroke-width="3"/>
<rect x="584.5" y="1313.5" width="29" height="32" fill="#ffffff" stroke="#000" stroke-width="3"/>
<ellipse cx="743.0" cy="1321.5" rx="18.5" ry="17.0" fill="#00ff00" stroke="#000" stroke-width="3"/>
<rect x="727.5" y="1351.5" width="29" height="31" fill="#ffffff" stroke="#000" stroke-width="3"/>
<ellipse cx="1221.0" cy="1339.5" rx="18.5" ry="17.0" fill="#00ff00" stroke="#000" stroke-width="3"/>
<rect x="1205.5" y="1375.5" width="29" height="32" fill="#ffffff" stroke="#000" stroke-width="3"/>
<rect x="1529.5" y="1384.5" width="29" height="32" fill="#ffffff" stroke="#000" stroke-width="3"/>
<rect x="1632.5" y="1397.5" width="29" height="31" fill="#ffffff" stroke="#000" stroke-width="3"/>
</g>
<defs><filter id="bw" x="-5%" y="-5%" width="110%" height="110%" color-interpolation-filters="sRGB"><feComponentTransfer><feFuncA type="discrete" tableValues="0 1"/></feComponentTransfer></filter></defs>
<g font-family="'Liberation Sans', Arial, sans-serif" fill="#000" style="font-kerning:none" filter="url(#bw)">
<text transform="translate(121.2,1563.2) scale(1,1.030)" font-size="57.3" text-anchor="middle">20</text>
<text transform="translate(320.2,1563.2) scale(1,1.030)" font-size="57.3" text-anchor="middle">30</text>
<text transform="translate(519.3,1563.2) scale(1,1.030)" font-size="57.3" text-anchor="middle">40</text>
<text transform="translate(718.4,1563.2) scale(1,1.030)" font-size="57.3" text-anchor="middle">50</text>
<text transform="translate(917.4,1563.2) scale(1,1.030)" font-size="57.3" text-anchor="middle">60</text>
<text transform="translate(1116.5,1563.2) scale(1,1.030)" font-size="57.3" text-anchor="middle">70</text>
<text transform="translate(1315.5,1563.2) scale(1,1.030)" font-size="57.3" text-anchor="middle">80</text>
<text transform="translate(1514.6,1563.2) scale(1,1.030)" font-size="57.3" text-anchor="middle">90</text>
<text transform="translate(1713.6,1563.2) scale(1,1.030)" font-size="57.3" text-anchor="middle">100</text>
<text transform="translate(1912.7,1563.2) scale(1,1.030)" font-size="57.3" text-anchor="middle">110</text>
<text transform="translate(1017.4,1675.8) scale(1,1.020)" font-size="71" text-anchor="middle">2θ(°<tspan dx="3">)</tspan></text>
<text transform="translate(56.0,793.3) rotate(-90) scale(1,1.020)" font-size="71" text-anchor="middle">Intensity</text>
<text transform="translate(879.6,66.7) scale(1,1.040)" font-size="46.5">Cr</text>
<text transform="translate(1061.4,60.0) scale(1,1.030)" font-size="46.5">Al<tspan font-size="27" dy="14.4">0.9</tspan><tspan dy="-14.4">Ni</tspan><tspan font-size="27" dy="14.8">4.22</tspan></text>
<text transform="translate(1339.9,62.0) scale(1,1.030)" font-size="46.5">AlNi<tspan font-size="27" dy="14.4">3</tspan></text>
<text transform="translate(1497.1,145.0) scale(1,0.980)" font-size="52.45">without annealing</text>
<text transform="translate(1468.9,356.7) scale(1,0.980)" font-size="52.45">annealing at 1273K</text>
<text transform="translate(1481.7,598.0) scale(1,0.980)" font-size="52.45">annealing at 1173K</text>
<text transform="translate(1479.5,814.7) scale(1,0.980)" font-size="52.45">annealing at 1073K</text>
<text transform="translate(1504.8,1027.5) scale(1,0.980)" font-size="52.45">annealing at 973K</text>
<text transform="translate(1509.8,1332.0) scale(1,0.980)" font-size="52.45">annealing at 873K</text>
</g>
</svg>
</body></html>
